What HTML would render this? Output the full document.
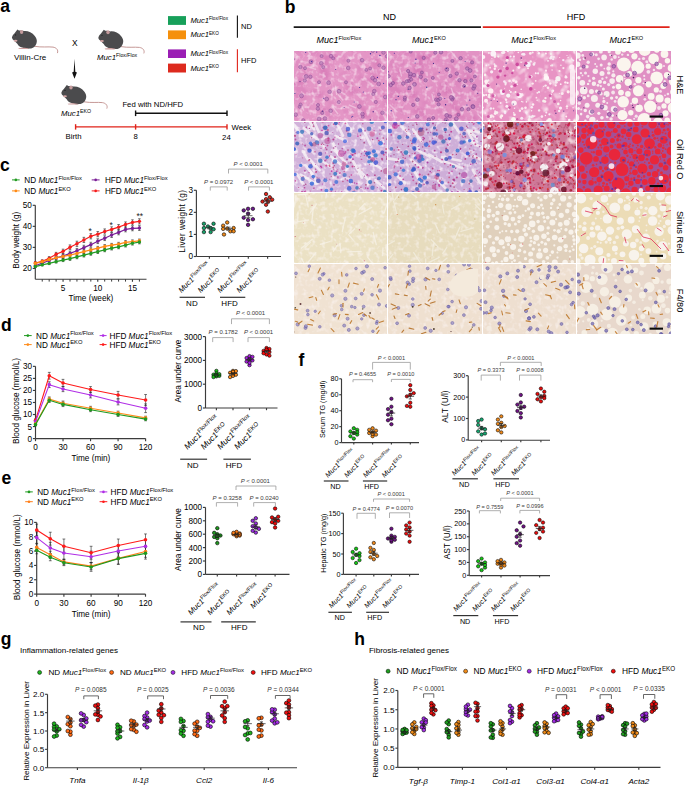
<!DOCTYPE html>
<html><head><meta charset="utf-8"><title>Figure</title><style>
html,body{margin:0;padding:0;background:#fff;}
body{width:685px;height:786px;overflow:hidden;}
svg{display:block;}
text{font-family:"Liberation Sans", sans-serif;}
</style></head><body>
<svg width="685" height="786" viewBox="0 0 685 786" font-family='"Liberation Sans", sans-serif'>
<rect width="685" height="786" fill="#fff"/>
<text x="0.2" y="12.2" font-size="17.5" font-weight="bold" fill="#000">a</text>
<g transform="translate(12 29)">
<path d="M22.5,17.3 C30,18.6 36,17.5 41,18.1 C44.5,18.7 46.6,21 45.4,24.1" fill="none" stroke="#c29290" stroke-width="0.95"/>
<path d="M-0.1,8.6 C0.4,6.6 1.4,5.2 2.4,4.5 L5.4,0.4 L6.9,1.4 C8.5,1.6 10.3,1.5 12.2,2.1 C15.5,1.7 20.2,3.5 22.8,7 C24.4,9 25.1,11 24.8,12.8 C24.5,15.2 23.4,17.2 21.4,18.6 C19.4,19.9 16,20 13,19.5 L10.2,18.6 C8,17.8 6.2,16.5 5.5,14.9 C4,13.2 2,11.6 0.6,10.2 Z" fill="#4b4b4d"/>
<ellipse cx="9.6" cy="3.0" rx="1.7" ry="2.0" fill="#c39a9c"/>
<circle cx="3.6" cy="5.9" r="0.55" fill="#1a1a1a"/>
<ellipse cx="3.6" cy="11.8" rx="1.9" ry="1.0" fill="#d6a6a6"/>
<path d="M6.2,19.2 C9,18.4 14,18.5 17,19.4 L16,20.1 L7,20.1 Z" fill="#cfa0a0"/>
</g>
<g transform="translate(98.4 29.3)">
<path d="M22.5,17.3 C30,18.6 36,17.5 41,18.1 C44.5,18.7 46.6,21 45.4,24.1" fill="none" stroke="#c29290" stroke-width="0.95"/>
<path d="M-0.1,8.6 C0.4,6.6 1.4,5.2 2.4,4.5 L5.4,0.4 L6.9,1.4 C8.5,1.6 10.3,1.5 12.2,2.1 C15.5,1.7 20.2,3.5 22.8,7 C24.4,9 25.1,11 24.8,12.8 C24.5,15.2 23.4,17.2 21.4,18.6 C19.4,19.9 16,20 13,19.5 L10.2,18.6 C8,17.8 6.2,16.5 5.5,14.9 C4,13.2 2,11.6 0.6,10.2 Z" fill="#4b4b4d"/>
<ellipse cx="9.6" cy="3.0" rx="1.7" ry="2.0" fill="#c39a9c"/>
<circle cx="3.6" cy="5.9" r="0.55" fill="#1a1a1a"/>
<ellipse cx="3.6" cy="11.8" rx="1.9" ry="1.0" fill="#d6a6a6"/>
<path d="M6.2,19.2 C9,18.4 14,18.5 17,19.4 L16,20.1 L7,20.1 Z" fill="#cfa0a0"/>
</g>
<g transform="translate(61.4 84.5)">
<path d="M22.5,17.3 C30,18.6 36,17.5 41,18.1 C44.5,18.7 46.6,21 45.4,24.1" fill="none" stroke="#c29290" stroke-width="0.95"/>
<path d="M-0.1,8.6 C0.4,6.6 1.4,5.2 2.4,4.5 L5.4,0.4 L6.9,1.4 C8.5,1.6 10.3,1.5 12.2,2.1 C15.5,1.7 20.2,3.5 22.8,7 C24.4,9 25.1,11 24.8,12.8 C24.5,15.2 23.4,17.2 21.4,18.6 C19.4,19.9 16,20 13,19.5 L10.2,18.6 C8,17.8 6.2,16.5 5.5,14.9 C4,13.2 2,11.6 0.6,10.2 Z" fill="#4b4b4d"/>
<ellipse cx="9.6" cy="3.0" rx="1.7" ry="2.0" fill="#c39a9c"/>
<circle cx="3.6" cy="5.9" r="0.55" fill="#1a1a1a"/>
<ellipse cx="3.6" cy="11.8" rx="1.9" ry="1.0" fill="#d6a6a6"/>
<path d="M6.2,19.2 C9,18.4 14,18.5 17,19.4 L16,20.1 L7,20.1 Z" fill="#cfa0a0"/>
</g>
<text x="14" y="60.3" font-size="8.0">Villin-Cre</text>
<text x="71.9" y="46.1" font-size="8.4">X</text>
<text x="97" y="60.2" font-size="7.8"><tspan font-style="italic" font-size="7.8">Muc1</tspan><tspan font-size="5.2" dy="-3.2">Flox/Flox</tspan></text>
<path d="M74.5,58.8 L75.3,71.8 L76.9,72.4 L74.5,78.8 L72.1,72.4 L73.7,71.8 Z" fill="#111"/>
<text x="61" y="116.2" font-size="7.8"><tspan font-style="italic" font-size="7.8">Muc1</tspan><tspan font-size="5.2" dy="-3.2">EKO</tspan></text>
<rect x="168" y="16.1" width="18" height="8.8" fill="#17a05a"/>
<rect x="168" y="30.4" width="18" height="8.8" fill="#f5900c"/>
<rect x="168" y="49.4" width="18" height="8.6" fill="#9a1eb4"/>
<rect x="168" y="63.6" width="18" height="8.9" fill="#dd2a1e"/>
<text x="190.4" y="22.9" font-size="7.6"><tspan font-style="italic" font-size="7.6">Muc1</tspan><tspan font-size="4.7" dy="-2.6">Flox/Flox</tspan></text>
<text x="190.4" y="37.3" font-size="7.6"><tspan font-style="italic" font-size="7.6">Muc1</tspan><tspan font-size="4.7" dy="-2.6">EKO</tspan></text>
<text x="190.4" y="56.3" font-size="7.6"><tspan font-style="italic" font-size="7.6">Muc1</tspan><tspan font-size="4.7" dy="-2.6">Flox/Flox</tspan></text>
<text x="190.4" y="70.6" font-size="7.6"><tspan font-style="italic" font-size="7.6">Muc1</tspan><tspan font-size="4.7" dy="-2.6">EKO</tspan></text>
<line x1="237.4" y1="15.5" x2="237.4" y2="37.7" stroke="#111" stroke-width="1.1"/>
<text x="241" y="28.8" font-size="7.5">ND</text>
<line x1="237.4" y1="49.2" x2="237.4" y2="72.2" stroke="#e0231a" stroke-width="1.1"/>
<text x="241" y="63.2" font-size="7.5">HFD</text>
<text x="122.4" y="107" font-size="7.75">Fed with ND/HFD</text>
<line x1="135.6" y1="113.3" x2="227" y2="113.3" stroke="#111" stroke-width="1.5"/>
<line x1="135.6" y1="110.5" x2="135.6" y2="116.1" stroke="#111" stroke-width="1.4"/>
<line x1="227" y1="110.5" x2="227" y2="116.1" stroke="#111" stroke-width="1.4"/>
<line x1="75.6" y1="126.9" x2="227" y2="126.9" stroke="#e0231a" stroke-width="1.4"/>
<line x1="75.6" y1="124.2" x2="75.6" y2="129.6" stroke="#e0231a" stroke-width="1.4"/>
<line x1="135.6" y1="124.2" x2="135.6" y2="129.6" stroke="#e0231a" stroke-width="1.4"/>
<line x1="227" y1="124.2" x2="227" y2="129.6" stroke="#e0231a" stroke-width="1.4"/>
<text x="73.5" y="139.4" font-size="7.75" text-anchor="middle">Birth</text>
<text x="135.6" y="139.2" font-size="7.75" text-anchor="middle">8</text>
<text x="226.4" y="139.8" font-size="7.75" text-anchor="middle">24</text>
<text x="231.5" y="130" font-size="7.75">Week</text>
<text x="284.8" y="13.2" font-size="17.5" font-weight="bold" fill="#000">b</text>
<text x="389.5" y="20.3" font-size="9" text-anchor="middle">ND</text>
<text x="576" y="20.3" font-size="9" text-anchor="middle">HFD</text>
<line x1="293.7" y1="27.2" x2="481" y2="27.2" stroke="#1a1a1a" stroke-width="1.7"/>
<line x1="482.8" y1="27.2" x2="669.6" y2="27.2" stroke="#e0231a" stroke-width="1.7"/>
<text x="316.5" y="43.2" font-size="9"><tspan font-style="italic" font-size="9">Muc1</tspan><tspan font-size="5.6" dy="-3.4">Flox/Flox</tspan></text>
<text x="412" y="43.2" font-size="9"><tspan font-style="italic" font-size="9">Muc1</tspan><tspan font-size="5.6" dy="-3.4">EKO</tspan></text>
<text x="511.3" y="43.2" font-size="9"><tspan font-style="italic" font-size="9">Muc1</tspan><tspan font-size="5.6" dy="-3.4">Flox/Flox</tspan></text>
<text x="609.4" y="43.2" font-size="9"><tspan font-style="italic" font-size="9">Muc1</tspan><tspan font-size="5.6" dy="-3.4">EKO</tspan></text>
<text x="676.6" y="85" font-size="9.2" text-anchor="middle" transform="rotate(90 676.6 85)">H&amp;E</text>
<text x="676.6" y="159.3" font-size="9.2" text-anchor="middle" transform="rotate(90 676.6 159.3)">Oil Red O</text>
<text x="676.6" y="232.2" font-size="9.2" text-anchor="middle" transform="rotate(90 676.6 232.2)">Sirius Red</text>
<text x="676.6" y="300.6" font-size="9.2" text-anchor="middle" transform="rotate(90 676.6 300.6)">F4/80</text>
<defs>
<filter id="wA" x="0" y="0" width="1" height="1" color-interpolation-filters="sRGB"><feTurbulence type="fractalNoise" baseFrequency="0.22" numOctaves="2" seed="3"/><feColorMatrix values="0 0 0 0 1.000 0 0 0 0 0.980 0 0 0 0 0.988 3.2 0 0 0 -1.55"/></filter>
<filter id="wB" x="0" y="0" width="1" height="1" color-interpolation-filters="sRGB"><feTurbulence type="fractalNoise" baseFrequency="0.12" numOctaves="2" seed="7"/><feColorMatrix values="0 0 0 0 1.000 0 0 0 0 0.988 0 0 0 0 0.980 3.0 0 0 0 -1.5"/></filter>
<filter id="dA" x="0" y="0" width="1" height="1" color-interpolation-filters="sRGB"><feTurbulence type="fractalNoise" baseFrequency="0.3" numOctaves="2" seed="5"/><feColorMatrix values="0 0 0 0 0.588 0 0 0 0 0.275 0 0 0 0 0.627 3.0 0 0 0 -1.6"/></filter>
<filter id="dB" x="0" y="0" width="1" height="1" color-interpolation-filters="sRGB"><feTurbulence type="fractalNoise" baseFrequency="0.25" numOctaves="2" seed="9"/><feColorMatrix values="0 0 0 0 0.510 0 0 0 0 0.078 0 0 0 0 0.196 3.4 0 0 0 -1.9"/></filter>
<filter id="yA" x="0" y="0" width="1" height="1" color-interpolation-filters="sRGB"><feTurbulence type="fractalNoise" baseFrequency="0.18" numOctaves="2" seed="11"/><feColorMatrix values="0 0 0 0 0.804 0 0 0 0 0.686 0 0 0 0 0.471 2.6 0 0 0 -1.2"/></filter>
<filter id="mA" x="0" y="0" width="1" height="1" color-interpolation-filters="sRGB"><feTurbulence type="fractalNoise" baseFrequency="0.08" numOctaves="2" seed="13"/><feColorMatrix values="0 0 0 0 0.784 0 0 0 0 0.353 0 0 0 0 0.647 2.6 0 0 0 -1.25"/></filter>
<filter id="soft" x="-5%" y="-5%" width="110%" height="110%"><feGaussianBlur stdDeviation="0.4"/></filter>
</defs>
<svg x="294" y="51" width="93" height="70" overflow="hidden"><g filter="url(#soft)"><rect x="-3" y="-3" width="99" height="76" fill="#e496c6"/><rect width="93" height="70" filter="url(#mA)" opacity="0.5"/><rect width="93" height="70" filter="url(#wA)" opacity="0.55"/><line x1="41.4" y1="35.1" x2="42.7" y2="43.3" stroke="#f4d8ea" stroke-width="1.4" stroke-opacity="0.6" stroke-linecap="round"/><line x1="43.5" y1="39.0" x2="51.0" y2="43.3" stroke="#f4d8ea" stroke-width="1.4" stroke-opacity="0.6" stroke-linecap="round"/><line x1="55.3" y1="54.1" x2="61.8" y2="56.9" stroke="#f4d8ea" stroke-width="1.4" stroke-opacity="0.6" stroke-linecap="round"/><line x1="7.3" y1="54.3" x2="9.6" y2="59.1" stroke="#f4d8ea" stroke-width="1.4" stroke-opacity="0.6" stroke-linecap="round"/><line x1="89.2" y1="63.4" x2="93.5" y2="71.6" stroke="#f4d8ea" stroke-width="1.4" stroke-opacity="0.6" stroke-linecap="round"/><line x1="13.0" y1="-1.1" x2="16.3" y2="3.2" stroke="#f4d8ea" stroke-width="1.4" stroke-opacity="0.6" stroke-linecap="round"/><line x1="13.8" y1="15.6" x2="21.6" y2="18.3" stroke="#f4d8ea" stroke-width="1.4" stroke-opacity="0.6" stroke-linecap="round"/><line x1="38.1" y1="55.2" x2="43.8" y2="62.8" stroke="#f4d8ea" stroke-width="1.4" stroke-opacity="0.6" stroke-linecap="round"/><line x1="44.2" y1="43.8" x2="48.8" y2="49.0" stroke="#f4d8ea" stroke-width="1.4" stroke-opacity="0.6" stroke-linecap="round"/><line x1="91.5" y1="64.9" x2="94.1" y2="74.5" stroke="#f4d8ea" stroke-width="1.4" stroke-opacity="0.6" stroke-linecap="round"/><circle cx="29.3" cy="16.1" r="1.6" fill="#b77cb8" stroke="#8a4a96" stroke-width="0.8" opacity="0.7"/><circle cx="6.5" cy="53.6" r="1.6" fill="#b77cb8" stroke="#8a4a96" stroke-width="0.8" opacity="0.7"/><circle cx="78.7" cy="27.1" r="1.9" fill="#b77cb8" stroke="#8a4a96" stroke-width="0.8" opacity="0.7"/><circle cx="78.8" cy="0.0" r="1.6" fill="#b77cb8" stroke="#8a4a96" stroke-width="0.8" opacity="0.7"/><circle cx="84.7" cy="32.9" r="1.9" fill="#b77cb8" stroke="#8a4a96" stroke-width="0.8" opacity="0.7"/><circle cx="37.0" cy="5.1" r="1.8" fill="#b77cb8" stroke="#8a4a96" stroke-width="0.8" opacity="0.7"/><circle cx="72.4" cy="18.9" r="1.5" fill="#b77cb8" stroke="#8a4a96" stroke-width="0.8" opacity="0.7"/><circle cx="30.9" cy="67.5" r="1.8" fill="#b77cb8" stroke="#8a4a96" stroke-width="0.8" opacity="0.7"/><circle cx="11.0" cy="17.2" r="1.5" fill="#b77cb8" stroke="#8a4a96" stroke-width="0.8" opacity="0.7"/><circle cx="5.6" cy="55.8" r="1.5" fill="#b77cb8" stroke="#8a4a96" stroke-width="0.8" opacity="0.7"/><circle cx="52.0" cy="31.3" r="1.5" fill="#b77cb8" stroke="#8a4a96" stroke-width="0.8" opacity="0.7"/><circle cx="68.1" cy="9.2" r="1.8" fill="#b77cb8" stroke="#8a4a96" stroke-width="0.8" opacity="0.7"/><circle cx="10.8" cy="29.5" r="1.6" fill="#b77cb8" stroke="#8a4a96" stroke-width="0.8" opacity="0.7"/><circle cx="25.1" cy="68.0" r="1.9" fill="#b77cb8" stroke="#8a4a96" stroke-width="0.8" opacity="0.7"/><circle cx="28.3" cy="61.9" r="1.6" fill="#b77cb8" stroke="#8a4a96" stroke-width="0.8" opacity="0.7"/><circle cx="36.7" cy="59.8" r="1.8" fill="#b77cb8" stroke="#8a4a96" stroke-width="0.8" opacity="0.7"/><circle cx="9.3" cy="69.3" r="1.6" fill="#b77cb8" stroke="#8a4a96" stroke-width="0.8" opacity="0.7"/><circle cx="24.0" cy="54.1" r="1.6" fill="#b77cb8" stroke="#8a4a96" stroke-width="0.8" opacity="0.7"/><circle cx="27.6" cy="5.1" r="1.5" fill="#b77cb8" stroke="#8a4a96" stroke-width="0.8" opacity="0.7"/><circle cx="54.2" cy="17.0" r="1.8" fill="#b77cb8" stroke="#8a4a96" stroke-width="0.8" opacity="0.7"/><circle cx="34.6" cy="31.7" r="1.9" fill="#b77cb8" stroke="#8a4a96" stroke-width="0.8" opacity="0.7"/><circle cx="45.0" cy="40.2" r="1.9" fill="#b77cb8" stroke="#8a4a96" stroke-width="0.8" opacity="0.7"/><circle cx="17.0" cy="10.8" r="1.9" fill="#b77cb8" stroke="#8a4a96" stroke-width="0.8" opacity="0.7"/><circle cx="76.1" cy="17.5" r="1.5" fill="#b77cb8" stroke="#8a4a96" stroke-width="0.8" opacity="0.7"/><circle cx="68.8" cy="65.8" r="1.5" fill="#b77cb8" stroke="#8a4a96" stroke-width="0.8" opacity="0.7"/><circle cx="88.4" cy="61.8" r="1.8" fill="#b77cb8" stroke="#8a4a96" stroke-width="0.8" opacity="0.7"/><circle cx="39.2" cy="7.3" r="1.5" fill="#b77cb8" stroke="#8a4a96" stroke-width="0.8" opacity="0.7"/><circle cx="89.5" cy="16.7" r="1.8" fill="#b77cb8" stroke="#8a4a96" stroke-width="0.8" opacity="0.7"/><circle cx="23.9" cy="57.7" r="1.7" fill="#b77cb8" stroke="#8a4a96" stroke-width="0.8" opacity="0.7"/><circle cx="27.3" cy="12.3" r="1.8" fill="#b77cb8" stroke="#8a4a96" stroke-width="0.8" opacity="0.7"/><circle cx="6.4" cy="16.0" r="1.7" fill="#b77cb8" stroke="#8a4a96" stroke-width="0.8" opacity="0.7"/><circle cx="79.3" cy="43.0" r="1.6" fill="#b77cb8" stroke="#8a4a96" stroke-width="0.8" opacity="0.7"/><circle cx="85.3" cy="14.3" r="1.5" fill="#b77cb8" stroke="#8a4a96" stroke-width="0.8" opacity="0.7"/><circle cx="25.0" cy="31.2" r="1.5" fill="#b77cb8" stroke="#8a4a96" stroke-width="0.8" opacity="0.7"/><circle cx="16.4" cy="25.8" r="1.7" fill="#b77cb8" stroke="#8a4a96" stroke-width="0.8" opacity="0.7"/><circle cx="12.2" cy="25.4" r="1.9" fill="#b77cb8" stroke="#8a4a96" stroke-width="0.8" opacity="0.7"/><circle cx="91.2" cy="46.0" r="1.8" fill="#b77cb8" stroke="#8a4a96" stroke-width="0.8" opacity="0.7"/><circle cx="54.4" cy="9.8" r="1.5" fill="#b77cb8" stroke="#8a4a96" stroke-width="0.8" opacity="0.7"/><circle cx="1.7" cy="63.7" r="1.8" fill="#b77cb8" stroke="#8a4a96" stroke-width="0.8" opacity="0.7"/><circle cx="89.5" cy="1.5" r="1.8" fill="#b77cb8" stroke="#8a4a96" stroke-width="0.8" opacity="0.7"/><circle cx="44.8" cy="51.1" r="1.6" fill="#b77cb8" stroke="#8a4a96" stroke-width="0.8" opacity="0.7"/><circle cx="92.9" cy="5.3" r="1.7" fill="#b77cb8" stroke="#8a4a96" stroke-width="0.8" opacity="0.7"/><circle cx="68.5" cy="63.0" r="1.8" fill="#b77cb8" stroke="#8a4a96" stroke-width="0.8" opacity="0.7"/><circle cx="65.4" cy="55.5" r="1.9" fill="#b77cb8" stroke="#8a4a96" stroke-width="0.8" opacity="0.7"/><circle cx="32.7" cy="48.0" r="1.9" fill="#b77cb8" stroke="#8a4a96" stroke-width="0.8" opacity="0.7"/><circle cx="81.0" cy="29.2" r="1.8" fill="#b77cb8" stroke="#8a4a96" stroke-width="0.8" opacity="0.7"/><circle cx="80.3" cy="40.1" r="1.8" fill="#b77cb8" stroke="#8a4a96" stroke-width="0.8" opacity="0.7"/><circle cx="35.6" cy="40.8" r="1.8" fill="#b77cb8" stroke="#8a4a96" stroke-width="0.8" opacity="0.7"/><circle cx="7.5" cy="44.8" r="2.0" fill="#b77cb8" stroke="#8a4a96" stroke-width="0.8" opacity="0.7"/><circle cx="81.8" cy="51.0" r="1.6" fill="#b77cb8" stroke="#8a4a96" stroke-width="0.8" opacity="0.7"/><circle cx="69.3" cy="41.0" r="0.6" fill="#50259d"/><circle cx="0.9" cy="42.5" r="0.6" fill="#3d3795"/><circle cx="57.6" cy="66.1" r="0.5" fill="#372c9b"/><circle cx="17.6" cy="10.6" r="0.7" fill="#4a30a1"/><circle cx="29.7" cy="47.3" r="0.5" fill="#433ba2"/><circle cx="83.4" cy="26.4" r="0.6" fill="#402795"/><circle cx="79.2" cy="60.8" r="0.7" fill="#532b8c"/><circle cx="41.7" cy="18.4" r="0.5" fill="#433595"/><circle cx="28.6" cy="60.1" r="0.7" fill="#442587"/><circle cx="82.7" cy="1.1" r="0.7" fill="#482c9e"/><circle cx="-0.1" cy="8.1" r="0.6" fill="#373b8e"/><circle cx="11.7" cy="1.5" r="0.6" fill="#44359a"/><circle cx="76.3" cy="68.9" r="0.7" fill="#3c318c"/><circle cx="-1.0" cy="32.9" r="0.7" fill="#3c2b91"/><circle cx="65.6" cy="36.5" r="0.6" fill="#4d2e9e"/><circle cx="85.9" cy="4.5" r="0.7" fill="#4c2694"/><circle cx="58.7" cy="65.3" r="0.6" fill="#483d9e"/><circle cx="89.6" cy="32.3" r="0.6" fill="#3d389f"/><circle cx="60.2" cy="51.1" r="0.5" fill="#5140a4"/><circle cx="50.1" cy="56.5" r="0.5" fill="#523c91"/><circle cx="6.0" cy="30.6" r="0.6" fill="#4e3187"/><circle cx="76.5" cy="2.7" r="0.7" fill="#3c2d9e"/></g></svg>
<svg x="388" y="51" width="94" height="70" overflow="hidden"><g filter="url(#soft)"><rect x="-3" y="-3" width="100" height="76" fill="#e292c4"/><rect width="94" height="70" filter="url(#mA)" opacity="0.55"/><rect width="94" height="70" filter="url(#wA)" opacity="0.5"/><line x1="44.0" y1="43.1" x2="45.2" y2="49.0" stroke="#f2d4e8" stroke-width="1.4" stroke-opacity="0.6" stroke-linecap="round"/><line x1="-2.0" y1="21.8" x2="4.0" y2="30.6" stroke="#f2d4e8" stroke-width="1.4" stroke-opacity="0.6" stroke-linecap="round"/><line x1="63.4" y1="37.5" x2="66.4" y2="46.7" stroke="#f2d4e8" stroke-width="1.4" stroke-opacity="0.6" stroke-linecap="round"/><line x1="10.0" y1="26.5" x2="17.3" y2="35.1" stroke="#f2d4e8" stroke-width="1.4" stroke-opacity="0.6" stroke-linecap="round"/><line x1="2.0" y1="53.9" x2="9.0" y2="60.7" stroke="#f2d4e8" stroke-width="1.4" stroke-opacity="0.6" stroke-linecap="round"/><line x1="31.6" y1="25.8" x2="31.8" y2="30.9" stroke="#f2d4e8" stroke-width="1.4" stroke-opacity="0.6" stroke-linecap="round"/><line x1="4.7" y1="61.4" x2="6.7" y2="66.7" stroke="#f2d4e8" stroke-width="1.4" stroke-opacity="0.6" stroke-linecap="round"/><line x1="90.1" y1="63.4" x2="95.5" y2="69.2" stroke="#f2d4e8" stroke-width="1.4" stroke-opacity="0.6" stroke-linecap="round"/><line x1="11.9" y1="18.9" x2="13.5" y2="24.9" stroke="#f2d4e8" stroke-width="1.4" stroke-opacity="0.6" stroke-linecap="round"/><line x1="62.1" y1="-0.5" x2="69.0" y2="7.7" stroke="#f2d4e8" stroke-width="1.4" stroke-opacity="0.6" stroke-linecap="round"/><circle cx="37.6" cy="29.3" r="1.7" fill="#b074b4" stroke="#804490" stroke-width="0.8" opacity="0.75"/><circle cx="44.8" cy="26.9" r="1.5" fill="#b074b4" stroke="#804490" stroke-width="0.8" opacity="0.75"/><circle cx="68.3" cy="67.7" r="1.9" fill="#b074b4" stroke="#804490" stroke-width="0.8" opacity="0.75"/><circle cx="62.4" cy="24.9" r="1.6" fill="#b074b4" stroke="#804490" stroke-width="0.8" opacity="0.75"/><circle cx="64.9" cy="47.2" r="1.5" fill="#b074b4" stroke="#804490" stroke-width="0.8" opacity="0.75"/><circle cx="22.1" cy="25.4" r="1.7" fill="#b074b4" stroke="#804490" stroke-width="0.8" opacity="0.75"/><circle cx="76.2" cy="35.0" r="1.5" fill="#b074b4" stroke="#804490" stroke-width="0.8" opacity="0.75"/><circle cx="77.3" cy="30.1" r="1.7" fill="#b074b4" stroke="#804490" stroke-width="0.8" opacity="0.75"/><circle cx="20.9" cy="29.9" r="1.6" fill="#b074b4" stroke="#804490" stroke-width="0.8" opacity="0.75"/><circle cx="72.6" cy="7.2" r="1.7" fill="#b074b4" stroke="#804490" stroke-width="0.8" opacity="0.75"/><circle cx="16.7" cy="48.7" r="1.5" fill="#b074b4" stroke="#804490" stroke-width="0.8" opacity="0.75"/><circle cx="26.0" cy="24.1" r="1.8" fill="#b074b4" stroke="#804490" stroke-width="0.8" opacity="0.75"/><circle cx="4.9" cy="32.1" r="1.6" fill="#b074b4" stroke="#804490" stroke-width="0.8" opacity="0.75"/><circle cx="26.5" cy="33.3" r="1.9" fill="#b074b4" stroke="#804490" stroke-width="0.8" opacity="0.75"/><circle cx="45.2" cy="66.9" r="1.5" fill="#b074b4" stroke="#804490" stroke-width="0.8" opacity="0.75"/><circle cx="86.9" cy="25.5" r="1.5" fill="#b074b4" stroke="#804490" stroke-width="0.8" opacity="0.75"/><circle cx="70.4" cy="63.8" r="1.4" fill="#b074b4" stroke="#804490" stroke-width="0.8" opacity="0.75"/><circle cx="25.2" cy="53.9" r="1.6" fill="#b074b4" stroke="#804490" stroke-width="0.8" opacity="0.75"/><circle cx="22.7" cy="0.6" r="1.5" fill="#b074b4" stroke="#804490" stroke-width="0.8" opacity="0.75"/><circle cx="58.2" cy="68.9" r="2.0" fill="#b074b4" stroke="#804490" stroke-width="0.8" opacity="0.75"/><circle cx="47.3" cy="1.7" r="1.6" fill="#b074b4" stroke="#804490" stroke-width="0.8" opacity="0.75"/><circle cx="74.0" cy="58.2" r="1.8" fill="#b074b4" stroke="#804490" stroke-width="0.8" opacity="0.75"/><circle cx="21.6" cy="36.9" r="1.7" fill="#b074b4" stroke="#804490" stroke-width="0.8" opacity="0.75"/><circle cx="58.9" cy="18.4" r="1.9" fill="#b074b4" stroke="#804490" stroke-width="0.8" opacity="0.75"/><circle cx="84.1" cy="11.4" r="1.6" fill="#b074b4" stroke="#804490" stroke-width="0.8" opacity="0.75"/><circle cx="82.1" cy="19.5" r="1.9" fill="#b074b4" stroke="#804490" stroke-width="0.8" opacity="0.75"/><circle cx="48.4" cy="48.7" r="1.8" fill="#b074b4" stroke="#804490" stroke-width="0.8" opacity="0.75"/><circle cx="20.1" cy="20.0" r="1.6" fill="#b074b4" stroke="#804490" stroke-width="0.8" opacity="0.75"/><circle cx="64.2" cy="48.6" r="1.5" fill="#b074b4" stroke="#804490" stroke-width="0.8" opacity="0.75"/><circle cx="83.3" cy="29.4" r="1.6" fill="#b074b4" stroke="#804490" stroke-width="0.8" opacity="0.75"/><circle cx="40.9" cy="68.6" r="1.7" fill="#b074b4" stroke="#804490" stroke-width="0.8" opacity="0.75"/><circle cx="58.7" cy="64.4" r="1.9" fill="#b074b4" stroke="#804490" stroke-width="0.8" opacity="0.75"/><circle cx="71.5" cy="29.2" r="1.7" fill="#b074b4" stroke="#804490" stroke-width="0.8" opacity="0.75"/><circle cx="84.7" cy="55.2" r="1.7" fill="#b074b4" stroke="#804490" stroke-width="0.8" opacity="0.75"/><circle cx="32.7" cy="25.8" r="1.8" fill="#b074b4" stroke="#804490" stroke-width="0.8" opacity="0.75"/><circle cx="53.0" cy="1.2" r="1.8" fill="#b074b4" stroke="#804490" stroke-width="0.8" opacity="0.75"/><circle cx="85.0" cy="55.8" r="1.9" fill="#b074b4" stroke="#804490" stroke-width="0.8" opacity="0.75"/><circle cx="85.6" cy="37.4" r="1.8" fill="#b074b4" stroke="#804490" stroke-width="0.8" opacity="0.75"/><circle cx="35.7" cy="6.9" r="1.6" fill="#b074b4" stroke="#804490" stroke-width="0.8" opacity="0.75"/><circle cx="29.3" cy="65.4" r="1.8" fill="#b074b4" stroke="#804490" stroke-width="0.8" opacity="0.75"/><circle cx="50.9" cy="43.5" r="1.5" fill="#b074b4" stroke="#804490" stroke-width="0.8" opacity="0.75"/><circle cx="50.2" cy="49.0" r="1.6" fill="#b074b4" stroke="#804490" stroke-width="0.8" opacity="0.75"/><circle cx="23.1" cy="28.5" r="1.6" fill="#b074b4" stroke="#804490" stroke-width="0.8" opacity="0.75"/><circle cx="64.4" cy="9.9" r="1.5" fill="#b074b4" stroke="#804490" stroke-width="0.8" opacity="0.75"/><circle cx="29.4" cy="48.7" r="1.8" fill="#b074b4" stroke="#804490" stroke-width="0.8" opacity="0.75"/><circle cx="62.0" cy="65.4" r="1.6" fill="#b074b4" stroke="#804490" stroke-width="0.8" opacity="0.75"/><circle cx="2.8" cy="34.1" r="1.7" fill="#b074b4" stroke="#804490" stroke-width="0.8" opacity="0.75"/><circle cx="16.9" cy="46.7" r="1.6" fill="#b074b4" stroke="#804490" stroke-width="0.8" opacity="0.75"/><circle cx="22.4" cy="22.9" r="1.9" fill="#b074b4" stroke="#804490" stroke-width="0.8" opacity="0.75"/><circle cx="0.7" cy="25.2" r="1.6" fill="#b074b4" stroke="#804490" stroke-width="0.8" opacity="0.75"/><circle cx="18.9" cy="30.3" r="1.6" fill="#b074b4" stroke="#804490" stroke-width="0.8" opacity="0.75"/><circle cx="86.4" cy="35.1" r="1.8" fill="#b074b4" stroke="#804490" stroke-width="0.8" opacity="0.75"/><circle cx="15.3" cy="32.5" r="1.8" fill="#b074b4" stroke="#804490" stroke-width="0.8" opacity="0.75"/><circle cx="79.2" cy="17.5" r="1.7" fill="#b074b4" stroke="#804490" stroke-width="0.8" opacity="0.75"/><circle cx="80.4" cy="58.2" r="1.6" fill="#b074b4" stroke="#804490" stroke-width="0.8" opacity="0.75"/><circle cx="50.6" cy="53.3" r="1.6" fill="#b074b4" stroke="#804490" stroke-width="0.8" opacity="0.75"/><circle cx="63.3" cy="46.4" r="1.9" fill="#b074b4" stroke="#804490" stroke-width="0.8" opacity="0.75"/><circle cx="52.1" cy="47.7" r="1.6" fill="#b074b4" stroke="#804490" stroke-width="0.8" opacity="0.75"/><circle cx="68.8" cy="22.6" r="1.7" fill="#b074b4" stroke="#804490" stroke-width="0.8" opacity="0.75"/><circle cx="33.9" cy="21.5" r="1.5" fill="#b074b4" stroke="#804490" stroke-width="0.8" opacity="0.75"/><circle cx="20.1" cy="38.3" r="0.5" fill="#383b8f"/><circle cx="89.7" cy="42.3" r="0.6" fill="#513d90"/><circle cx="10.3" cy="45.4" r="0.7" fill="#493a93"/><circle cx="58.5" cy="17.5" r="0.6" fill="#422e92"/><circle cx="77.1" cy="10.6" r="0.5" fill="#3e4096"/><circle cx="3.2" cy="59.8" r="0.7" fill="#4f2d9d"/><circle cx="27.9" cy="8.2" r="0.7" fill="#4f29a1"/><circle cx="0.4" cy="20.8" r="0.5" fill="#3c279c"/><circle cx="27.1" cy="12.1" r="0.5" fill="#403c99"/><circle cx="8.0" cy="48.7" r="0.6" fill="#44329a"/><circle cx="76.5" cy="35.4" r="0.6" fill="#453692"/><circle cx="38.7" cy="36.2" r="0.7" fill="#3f3e95"/><circle cx="81.8" cy="49.1" r="0.7" fill="#4b2f93"/><circle cx="57.6" cy="53.8" r="0.7" fill="#3a248a"/><circle cx="6.3" cy="2.2" r="0.5" fill="#3e269b"/><circle cx="58.3" cy="69.5" r="0.7" fill="#4d3f87"/><circle cx="20.3" cy="66.5" r="0.6" fill="#3d3993"/><circle cx="51.2" cy="21.4" r="0.5" fill="#3935a3"/><circle cx="94.7" cy="54.6" r="0.7" fill="#412ba2"/><circle cx="56.8" cy="47.5" r="0.5" fill="#3d319c"/><circle cx="78.9" cy="54.0" r="0.6" fill="#423ca4"/><circle cx="45.5" cy="12.4" r="0.6" fill="#472d8d"/></g></svg>
<svg x="483" y="51" width="93" height="70" overflow="hidden"><g filter="url(#soft)"><rect x="-3" y="-3" width="99" height="76" fill="#e894c4"/><rect width="93" height="70" filter="url(#wB)" opacity="0.75"/><circle cx="23.1" cy="48.7" r="1.3" fill="#fde8ef"/><circle cx="12.3" cy="14.7" r="1.3" fill="#f6ecef"/><circle cx="26.6" cy="29.9" r="1.4" fill="#fbe7ef"/><circle cx="12.2" cy="62.5" r="1.4" fill="#fdeff4"/><circle cx="90.1" cy="56.7" r="0.8" fill="#fdebf4"/><circle cx="52.7" cy="29.8" r="0.9" fill="#f9eaee"/><circle cx="77.5" cy="57.1" r="1.6" fill="#fbecf4"/><circle cx="11.1" cy="48.1" r="1.0" fill="#f6e9f2"/><circle cx="22.6" cy="32.0" r="1.2" fill="#f8e8f1"/><circle cx="20.8" cy="15.4" r="0.7" fill="#f8e7f3"/><circle cx="90.5" cy="26.8" r="1.3" fill="#fee7ee"/><circle cx="76.2" cy="60.0" r="1.2" fill="#f6ebf5"/><circle cx="84.0" cy="57.4" r="0.7" fill="#fdeaf4"/><circle cx="11.3" cy="69.9" r="1.2" fill="#fce9f3"/><circle cx="54.3" cy="41.8" r="0.9" fill="#fceaef"/><circle cx="14.0" cy="48.6" r="0.6" fill="#f7e7f3"/><circle cx="51.9" cy="38.2" r="0.5" fill="#f9eaed"/><circle cx="-1.7" cy="71.8" r="0.6" fill="#f8e9f2"/><circle cx="5.5" cy="32.8" r="0.9" fill="#fde7f0"/><circle cx="46.2" cy="69.8" r="1.1" fill="#f9edef"/><circle cx="1.1" cy="35.1" r="1.5" fill="#fce9f3"/><circle cx="80.4" cy="17.1" r="1.1" fill="#f8e9ef"/><circle cx="17.8" cy="24.0" r="0.5" fill="#f8e7f4"/><circle cx="56.2" cy="-1.7" r="1.4" fill="#f6ebf2"/><circle cx="30.3" cy="19.4" r="1.0" fill="#f6efee"/><circle cx="77.9" cy="14.2" r="0.8" fill="#f8e7ee"/><circle cx="33.0" cy="30.7" r="1.5" fill="#fee7f2"/><circle cx="10.5" cy="57.5" r="0.9" fill="#fdecee"/><circle cx="-1.5" cy="16.4" r="1.5" fill="#f6ebf0"/><circle cx="31.5" cy="57.3" r="0.7" fill="#fcedf6"/><circle cx="48.4" cy="66.1" r="1.0" fill="#faedf5"/><circle cx="85.1" cy="6.5" r="0.7" fill="#faeff2"/><circle cx="27.1" cy="69.2" r="0.8" fill="#f5e7ed"/><circle cx="68.5" cy="5.9" r="1.3" fill="#fdf0f5"/><circle cx="39.2" cy="44.0" r="1.4" fill="#fce9f4"/><circle cx="8.6" cy="20.8" r="1.6" fill="#f9e9f4"/><circle cx="41.7" cy="-1.7" r="0.5" fill="#f7eaf6"/><circle cx="22.0" cy="60.9" r="1.4" fill="#f9f0f4"/><circle cx="45.0" cy="17.3" r="1.0" fill="#feecee"/><circle cx="34.4" cy="33.2" r="0.7" fill="#fae7f5"/><circle cx="15.3" cy="5.6" r="1.1" fill="#f8eff1"/><circle cx="48.6" cy="59.8" r="0.7" fill="#fcedf1"/><circle cx="91.1" cy="-0.4" r="1.4" fill="#f6efee"/><circle cx="3.2" cy="35.1" r="1.5" fill="#f7ebf3"/><circle cx="21.6" cy="37.2" r="0.5" fill="#f9eef0"/><circle cx="19.4" cy="1.8" r="1.3" fill="#f9f0f4"/><circle cx="7.7" cy="65.6" r="1.5" fill="#fdeff3"/><circle cx="67.9" cy="47.4" r="1.1" fill="#f7e8f4"/><circle cx="55.9" cy="2.2" r="1.2" fill="#fbecf4"/><circle cx="83.0" cy="26.2" r="1.4" fill="#f9ecf1"/><circle cx="88.5" cy="30.9" r="1.5" fill="#f8edf6"/><circle cx="64.3" cy="25.8" r="0.6" fill="#f9ebf5"/><circle cx="74.1" cy="71.0" r="1.0" fill="#f9ecf4"/><circle cx="5.8" cy="13.9" r="0.7" fill="#f8e9f6"/><circle cx="18.2" cy="67.1" r="0.8" fill="#f7f0ed"/><circle cx="8.9" cy="7.5" r="0.6" fill="#f8e9ee"/><circle cx="-0.5" cy="49.7" r="0.6" fill="#f7ecf5"/><circle cx="62.0" cy="50.5" r="1.3" fill="#fcefee"/><circle cx="3.2" cy="43.9" r="1.1" fill="#faeeee"/><circle cx="66.5" cy="29.6" r="1.0" fill="#f7e9f2"/><circle cx="51.7" cy="65.1" r="0.8" fill="#fce7f3"/><circle cx="13.6" cy="61.5" r="1.6" fill="#f7efef"/><circle cx="27.6" cy="5.6" r="1.0" fill="#f6eef2"/><circle cx="38.7" cy="50.5" r="0.8" fill="#f8eaed"/><circle cx="84.0" cy="4.5" r="0.6" fill="#fceff1"/><circle cx="38.9" cy="8.3" r="0.5" fill="#fae9ee"/><circle cx="85.8" cy="-0.6" r="0.9" fill="#fceeee"/><circle cx="70.0" cy="39.7" r="1.2" fill="#feeef2"/><circle cx="72.7" cy="34.4" r="1.1" fill="#fdedf0"/><circle cx="-0.0" cy="56.4" r="0.9" fill="#f9e9f2"/><circle cx="36.9" cy="59.7" r="1.2" fill="#faeef1"/><circle cx="50.0" cy="53.5" r="1.3" fill="#fceff2"/><circle cx="51.9" cy="11.9" r="0.8" fill="#f9ebf5"/><circle cx="2.1" cy="23.9" r="1.3" fill="#f9efee"/><circle cx="72.8" cy="29.9" r="1.1" fill="#f5ebf5"/><circle cx="69.3" cy="39.7" r="1.0" fill="#f5edf1"/><circle cx="68.2" cy="43.3" r="0.9" fill="#fde8f6"/><circle cx="6.3" cy="69.7" r="1.1" fill="#f9f0f2"/><circle cx="47.3" cy="2.4" r="1.4" fill="#fbe9ee"/><circle cx="38.7" cy="67.2" r="1.5" fill="#f9e7f5"/><circle cx="17.6" cy="52.1" r="1.0" fill="#fee8f4"/><circle cx="67.9" cy="-0.7" r="1.1" fill="#f7edf6"/><circle cx="62.6" cy="34.6" r="1.2" fill="#f7ebee"/><circle cx="67.9" cy="2.9" r="1.1" fill="#f6eced"/><circle cx="0.7" cy="44.2" r="1.3" fill="#fdedf6"/><circle cx="11.8" cy="44.5" r="1.2" fill="#f6e8ef"/><circle cx="48.8" cy="56.3" r="1.3" fill="#fae7f4"/><circle cx="47.7" cy="10.5" r="1.2" fill="#f7eaf1"/><circle cx="70.9" cy="5.9" r="1.0" fill="#f7edf5"/><circle cx="23.6" cy="51.3" r="1.0" fill="#f7e9f2"/><circle cx="76.3" cy="42.5" r="0.5" fill="#fcecf1"/><circle cx="21.4" cy="30.6" r="1.3" fill="#f7e8f5"/><circle cx="40.9" cy="3.2" r="1.5" fill="#f6eaf3"/><circle cx="62.4" cy="64.5" r="0.7" fill="#faeff1"/><circle cx="67.3" cy="32.5" r="1.3" fill="#feeaf4"/><circle cx="31.5" cy="63.7" r="1.3" fill="#fdeff2"/><circle cx="90.2" cy="9.5" r="1.1" fill="#f5ecf3"/><circle cx="25.7" cy="58.1" r="1.0" fill="#f6e8f2"/><circle cx="35.3" cy="1.5" r="0.8" fill="#feebf3"/><circle cx="39.4" cy="3.3" r="1.2" fill="#f7e8f3"/><circle cx="63.5" cy="-1.2" r="1.5" fill="#f5e8f0"/><circle cx="75.3" cy="52.9" r="1.3" fill="#f9f0ee"/><circle cx="91.2" cy="1.7" r="0.7" fill="#fceef3"/><circle cx="22.1" cy="62.1" r="1.1" fill="#f7e7f6"/><circle cx="3.4" cy="14.3" r="0.9" fill="#fdeff5"/><circle cx="59.2" cy="-1.1" r="1.3" fill="#f6f0f6"/><circle cx="4.4" cy="52.1" r="0.8" fill="#f6eff1"/><circle cx="26.6" cy="39.4" r="0.6" fill="#f9edf5"/><circle cx="9.9" cy="64.1" r="0.6" fill="#f7eaee"/><circle cx="6.8" cy="46.5" r="0.9" fill="#f6ecee"/><circle cx="64.1" cy="69.4" r="1.0" fill="#f9eaf0"/><circle cx="38.1" cy="11.2" r="0.8" fill="#fbebed"/><circle cx="12.1" cy="60.2" r="0.9" fill="#fdedf3"/><circle cx="32.5" cy="40.9" r="1.0" fill="#faf0ee"/><circle cx="18.7" cy="64.8" r="1.5" fill="#fdefee"/><circle cx="67.7" cy="7.2" r="1.4" fill="#f8ebf2"/><circle cx="18.0" cy="39.9" r="1.4" fill="#f9ebf0"/><circle cx="16.5" cy="19.1" r="1.4" fill="#feeaef"/><circle cx="30.7" cy="61.9" r="0.8" fill="#f6eaed"/><circle cx="12.3" cy="15.2" r="1.2" fill="#fee9ef"/><circle cx="54.9" cy="0.2" r="0.6" fill="#faebf0"/><circle cx="38.3" cy="-0.5" r="0.8" fill="#f6e9ed"/><circle cx="77.1" cy="-0.8" r="1.0" fill="#f6e9f4"/><circle cx="91.2" cy="69.4" r="0.9" fill="#faebed"/><circle cx="39.0" cy="43.2" r="0.9" fill="#fcebef"/><circle cx="84.8" cy="40.2" r="0.8" fill="#feebf3"/><circle cx="43.4" cy="61.6" r="1.3" fill="#f9eaf4"/><circle cx="79.2" cy="42.6" r="1.5" fill="#faebf0"/><circle cx="24.1" cy="9.3" r="1.5" fill="#fae7ef"/><circle cx="39.1" cy="57.6" r="1.4" fill="#fce9f1"/><circle cx="89.9" cy="26.7" r="1.2" fill="#f5ebf2"/><circle cx="86.2" cy="69.1" r="1.3" fill="#f8eff6"/><circle cx="5.4" cy="29.4" r="1.1" fill="#f8e9f4"/><circle cx="18.3" cy="39.0" r="0.5" fill="#f9f0ed"/><circle cx="8.4" cy="64.7" r="1.5" fill="#fae9ef"/><circle cx="69.2" cy="41.0" r="1.0" fill="#fbe7f0"/><circle cx="83.2" cy="65.5" r="1.0" fill="#fceff2"/><circle cx="11.9" cy="5.7" r="1.2" fill="#f8eced"/><circle cx="89.9" cy="18.6" r="1.2" fill="#fbeaef"/><circle cx="52.5" cy="22.2" r="0.6" fill="#f6e7f5"/><circle cx="17.7" cy="66.0" r="1.2" fill="#feebef"/><circle cx="6.2" cy="44.0" r="1.3" fill="#fbf0ed"/><circle cx="60.6" cy="50.1" r="1.5" fill="#f7f0ed"/><circle cx="55.1" cy="22.3" r="1.1" fill="#f6eaf0"/><circle cx="43.0" cy="28.0" r="0.7" fill="#f6ebf6"/><circle cx="80.3" cy="9.1" r="1.2" fill="#f6eaf6"/><circle cx="30.9" cy="5.6" r="1.1" fill="#faecf6"/><circle cx="47.7" cy="24.9" r="0.7" fill="#faeef2"/><circle cx="35.9" cy="16.6" r="1.4" fill="#feecf4"/><circle cx="29.5" cy="9.7" r="0.6" fill="#fbf0f3"/><circle cx="63.3" cy="61.6" r="1.0" fill="#f9e9f5"/><circle cx="65.0" cy="36.8" r="1.4" fill="#fee7ef"/><circle cx="43.4" cy="50.9" r="0.8" fill="#f9edef"/><circle cx="62.9" cy="2.5" r="1.0" fill="#fbeff2"/><circle cx="62.5" cy="47.1" r="1.2" fill="#f9eaee"/><circle cx="84.0" cy="55.4" r="1.2" fill="#fceaee"/><circle cx="49.6" cy="32.6" r="1.2" fill="#fdeaf0"/><circle cx="66.4" cy="63.3" r="1.1" fill="#faeff6"/><circle cx="2.4" cy="70.1" r="0.6" fill="#faebf6"/><circle cx="20.7" cy="1.3" r="1.6" fill="#f9ebf1"/><circle cx="24.9" cy="0.2" r="1.1" fill="#f7ebf6"/><circle cx="93.4" cy="20.8" r="0.9" fill="#f6edee"/><circle cx="10.3" cy="65.7" r="1.1" fill="#fde9ee"/><circle cx="54.1" cy="49.2" r="0.7" fill="#faecf1"/><circle cx="28.5" cy="31.1" r="0.6" fill="#f5e7f5"/><circle cx="22.2" cy="47.9" r="0.6" fill="#fde7f5"/><circle cx="49.6" cy="65.2" r="1.5" fill="#f5e7ef"/><circle cx="2.3" cy="62.0" r="0.7" fill="#fbf0f4"/><circle cx="94.5" cy="46.0" r="0.9" fill="#fee9f2"/><circle cx="38.2" cy="38.3" r="0.8" fill="#fef0f3"/><circle cx="46.2" cy="68.4" r="1.5" fill="#f5efee"/><circle cx="7.1" cy="16.7" r="0.9" fill="#f9f0ee"/><circle cx="60.7" cy="35.3" r="0.6" fill="#fef0f0"/><circle cx="82.4" cy="31.4" r="1.2" fill="#feedf0"/><circle cx="3.1" cy="32.5" r="1.1" fill="#f7eced"/><circle cx="22.5" cy="33.6" r="1.0" fill="#fce9ef"/><circle cx="69.1" cy="19.0" r="0.7" fill="#fbeaf2"/><circle cx="92.0" cy="69.8" r="1.4" fill="#feeef0"/><circle cx="88.5" cy="7.3" r="0.7" fill="#fae8f3"/><circle cx="50.9" cy="13.4" r="1.3" fill="#f5ebef"/><circle cx="89.0" cy="8.7" r="0.9" fill="#fceaf5"/><circle cx="9.0" cy="3.6" r="0.5" fill="#faebf2"/><circle cx="43.8" cy="62.9" r="0.7" fill="#f6e9f5"/><circle cx="76.7" cy="6.4" r="0.5" fill="#fef0ef"/><circle cx="49.6" cy="1.5" r="1.1" fill="#f6edee"/><circle cx="52.8" cy="22.3" r="1.0" fill="#feecf6"/><circle cx="67.9" cy="14.8" r="0.8" fill="#fdeeee"/><circle cx="76.5" cy="20.0" r="1.1" fill="#fdf0ee"/><circle cx="11.8" cy="17.7" r="1.2" fill="#feedf4"/><circle cx="77.7" cy="33.2" r="0.9" fill="#fcedf5"/><circle cx="94.7" cy="32.5" r="0.9" fill="#f6ecf0"/><circle cx="28.6" cy="35.5" r="1.3" fill="#fbebf3"/><circle cx="58.9" cy="65.6" r="1.3" fill="#fde9f5"/><circle cx="-1.4" cy="58.2" r="0.5" fill="#fbe9ee"/><circle cx="70.1" cy="8.1" r="1.2" fill="#f5e9f0"/><circle cx="53.4" cy="46.7" r="0.9" fill="#fde7ee"/><circle cx="36.1" cy="43.3" r="1.2" fill="#fdeaf3"/><circle cx="65.0" cy="9.8" r="0.9" fill="#f9ecf2"/><circle cx="11.4" cy="13.1" r="0.9" fill="#f5eef5"/><circle cx="69.2" cy="14.3" r="1.1" fill="#f5e9ef"/><circle cx="56.0" cy="41.1" r="1.1" fill="#f6ecf4"/><circle cx="82.7" cy="25.3" r="1.0" fill="#fde7f3"/><circle cx="7.9" cy="57.5" r="1.2" fill="#f5e7f6"/><circle cx="27.8" cy="41.0" r="1.1" fill="#f8e7f4"/><circle cx="30.5" cy="29.6" r="1.4" fill="#fee9f0"/><circle cx="73.2" cy="31.3" r="1.5" fill="#f8e7ef"/><circle cx="85.2" cy="40.8" r="1.6" fill="#fdedee"/><circle cx="38.3" cy="-0.5" r="0.9" fill="#f7f0ee"/><circle cx="31.5" cy="-0.3" r="0.7" fill="#fbebf2"/><circle cx="77.6" cy="49.5" r="0.7" fill="#fcedf2"/><circle cx="46.6" cy="65.7" r="1.2" fill="#f5eff3"/><circle cx="23.9" cy="55.2" r="1.5" fill="#fcebf5"/><circle cx="5.9" cy="1.9" r="0.9" fill="#faedf3"/><circle cx="48.3" cy="25.6" r="1.3" fill="#fae9f2"/><circle cx="42.5" cy="56.7" r="1.3" fill="#feeef2"/><circle cx="63.0" cy="19.7" r="1.1" fill="#fee8f1"/><circle cx="39.8" cy="50.9" r="0.7" fill="#fbe8f6"/><circle cx="5.8" cy="45.7" r="1.3" fill="#fae9f0"/><circle cx="84.6" cy="31.9" r="1.1" fill="#feebf5"/><circle cx="56.1" cy="59.4" r="1.2" fill="#f6e9ef"/><circle cx="19.4" cy="41.8" r="2.3" fill="#faedf8"/><circle cx="45.1" cy="13.4" r="2.6" fill="#f7eef8"/><circle cx="62.7" cy="24.5" r="2.0" fill="#feeff2"/><circle cx="25.2" cy="44.6" r="2.1" fill="#f7f5f4"/><circle cx="10.3" cy="2.7" r="2.9" fill="#fcf2f8"/><circle cx="0.3" cy="5.9" r="2.0" fill="#fdeef4"/><circle cx="75.0" cy="27.7" r="2.6" fill="#f7f1f2"/><circle cx="63.5" cy="27.0" r="2.6" fill="#fff6f7"/><circle cx="66.5" cy="69.2" r="2.3" fill="#f7f5f2"/><circle cx="30.5" cy="68.2" r="2.3" fill="#f8f6ef"/><circle cx="3.0" cy="49.8" r="2.0" fill="#feedf1"/><circle cx="36.4" cy="44.4" r="2.7" fill="#fdeef7"/><circle cx="3.2" cy="30.5" r="1.9" fill="#fef1f3"/><circle cx="88.8" cy="15.9" r="2.6" fill="#fdedf6"/><circle cx="31.1" cy="52.1" r="2.7" fill="#faf0f3"/><circle cx="7.7" cy="39.9" r="2.7" fill="#fff1f4"/><circle cx="32.0" cy="34.3" r="1.6" fill="#cc4c9e"/><circle cx="47.8" cy="37.9" r="1.8" fill="#cc4c9e"/><circle cx="22.1" cy="24.6" r="1.2" fill="#cc4c9e"/><circle cx="14.9" cy="26.1" r="1.7" fill="#cc4c9e"/><circle cx="47.0" cy="25.8" r="1.4" fill="#cc4c9e"/><circle cx="43.0" cy="12.2" r="1.5" fill="#cc4c9e"/><circle cx="20.5" cy="40.4" r="1.5" fill="#cc4c9e"/><circle cx="29.3" cy="22.1" r="1.2" fill="#cc4c9e"/><circle cx="24.4" cy="6.5" r="1.6" fill="#cc4c9e"/><circle cx="24.1" cy="17.4" r="1.8" fill="#cc4c9e"/><circle cx="34.9" cy="43.7" r="1.6" fill="#cc4c9e"/><circle cx="5.0" cy="34.5" r="1.6" fill="#cc4c9e"/><circle cx="34.2" cy="13.4" r="1.8" fill="#cc4c9e"/><circle cx="17.2" cy="19.9" r="1.7" fill="#cc4c9e"/><circle cx="34.2" cy="68.3" r="1.2" fill="#d060a8"/><circle cx="9.9" cy="44.7" r="1.5" fill="#d060a8"/><circle cx="67.0" cy="44.6" r="1.3" fill="#d060a8"/><circle cx="5.3" cy="65.4" r="1.5" fill="#d060a8"/><circle cx="88.5" cy="44.6" r="1.6" fill="#d060a8"/><circle cx="26.6" cy="56.6" r="1.3" fill="#d060a8"/><circle cx="71.6" cy="50.6" r="1.5" fill="#d060a8"/><circle cx="72.0" cy="59.8" r="1.0" fill="#d060a8"/><circle cx="41.7" cy="14.3" r="0.7" fill="#573d89"/><circle cx="23.1" cy="12.1" r="0.7" fill="#4e318c"/><circle cx="90.6" cy="59.7" r="0.5" fill="#552f94"/><circle cx="8.1" cy="49.3" r="0.5" fill="#5d2d82"/><circle cx="80.8" cy="60.1" r="0.6" fill="#562987"/><circle cx="38.2" cy="7.0" r="0.7" fill="#582a84"/><circle cx="13.6" cy="33.1" r="0.6" fill="#622c83"/><circle cx="14.4" cy="50.4" r="0.5" fill="#4f258d"/><circle cx="30.2" cy="53.1" r="0.6" fill="#642a88"/><circle cx="72.9" cy="62.3" r="0.7" fill="#5f3189"/><rect x="87" y="18" width="5" height="36" rx="2.5" fill="#fbeef4" opacity="0.9"/></g></svg>
<svg x="577" y="51" width="94" height="70" overflow="hidden"><g filter="url(#soft)"><rect x="-3" y="-3" width="100" height="76" fill="#e090c4"/><circle cx="46.2" cy="50.8" r="5.8" fill="#fbf5ee"/><circle cx="94.5" cy="17.1" r="3.8" fill="#fbf5ee"/><circle cx="82.6" cy="47.4" r="4.0" fill="#fbf5ee"/><circle cx="79.7" cy="26.9" r="6.4" fill="#fbf5ee"/><circle cx="46.9" cy="13.4" r="7.0" fill="#fbf5ee"/><circle cx="60.8" cy="16.3" r="6.5" fill="#fbf5ee"/><circle cx="76.6" cy="7.7" r="5.3" fill="#fbf5ee"/><circle cx="51.9" cy="72.3" r="4.5" fill="#fbf5ee"/><circle cx="97.4" cy="30.2" r="5.5" fill="#fbf5ee"/><circle cx="90.6" cy="49.6" r="3.1" fill="#fbf5ee"/><circle cx="74.2" cy="45.4" r="3.4" fill="#fbf5ee"/><circle cx="45.5" cy="64.2" r="5.1" fill="#fbf5ee"/><circle cx="51.2" cy="31.3" r="3.6" fill="#fbf5ee"/><circle cx="86.3" cy="35.0" r="3.0" fill="#fbf5ee"/><circle cx="87.5" cy="3.0" r="3.9" fill="#fbf5ee"/><circle cx="90.2" cy="69.2" r="2.8" fill="#fbf5ee"/><circle cx="54.6" cy="-1.3" r="3.2" fill="#fbf5ee"/><circle cx="61.4" cy="39.8" r="5.5" fill="#fbf5ee"/><circle cx="62.1" cy="57.2" r="3.8" fill="#fbf5ee"/><circle cx="61.4" cy="29.2" r="3.1" fill="#fbf5ee"/><circle cx="42.7" cy="27.7" r="3.8" fill="#fbf5ee"/><circle cx="67.3" cy="68.8" r="6.8" fill="#fbf5ee"/><circle cx="40.0" cy="73.7" r="3.7" fill="#fbf5ee"/><circle cx="81.0" cy="71.5" r="5.1" fill="#fbf5ee"/><circle cx="41.4" cy="35.6" r="2.8" fill="#fbf5ee"/><circle cx="96.4" cy="56.8" r="5.7" fill="#fbf5ee"/><circle cx="73.2" cy="55.8" r="6.2" fill="#fbf5ee"/><circle cx="90.4" cy="9.8" r="2.7" fill="#fbf5ee"/><circle cx="97.9" cy="-3.1" r="3.6" fill="#fbf5ee"/><circle cx="67.7" cy="-0.8" r="5.9" fill="#fbf5ee"/><circle cx="41.0" cy="0.8" r="2.9" fill="#fbf5ee"/><circle cx="71.7" cy="33.3" r="3.1" fill="#fbf5ee"/><circle cx="88.5" cy="62.3" r="3.1" fill="#fbf5ee"/><circle cx="96.0" cy="41.0" r="2.9" fill="#fbf5ee"/><circle cx="53.8" cy="61.8" r="2.7" fill="#fbf5ee"/><circle cx="57.4" cy="5.3" r="3.1" fill="#fbf5ee"/><circle cx="79.8" cy="-0.9" r="2.7" fill="#fbf5ee"/><circle cx="82.2" cy="15.3" r="3.3" fill="#fbf5ee"/><circle cx="50.9" cy="42.9" r="2.8" fill="#fbf5ee"/><circle cx="95.8" cy="73.4" r="3.3" fill="#fbf5ee"/><circle cx="71.2" cy="15.2" r="2.6" fill="#fbf5ee"/><circle cx="44.0" cy="41.6" r="2.9" fill="#fbf5ee"/><circle cx="90.1" cy="24.3" r="3.2" fill="#fbf5ee"/><circle cx="57.9" cy="49.7" r="3.2" fill="#fbf5ee"/><circle cx="96.6" cy="4.1" r="2.8" fill="#fbf5ee"/><circle cx="79.3" cy="38.9" r="2.6" fill="#fbf5ee"/><circle cx="46.7" cy="-0.9" r="2.5" fill="#fbf5ee"/><circle cx="97.1" cy="48.1" r="2.6" fill="#fbf5ee"/><circle cx="52.5" cy="22.7" r="2.8" fill="#fbf5ee"/><circle cx="87.0" cy="54.9" r="2.6" fill="#fbf5ee"/><circle cx="18.3" cy="20.3" r="2.7" fill="#f8ecee"/><circle cx="35.1" cy="30.1" r="2.8" fill="#f8ecee"/><circle cx="11.1" cy="32.9" r="1.2" fill="#f8ecee"/><circle cx="-1.7" cy="66.7" r="3.9" fill="#f8ecee"/><circle cx="26.9" cy="50.4" r="1.6" fill="#f8ecee"/><circle cx="0.6" cy="13.2" r="2.7" fill="#f8ecee"/><circle cx="39.6" cy="46.5" r="1.4" fill="#f8ecee"/><circle cx="1.8" cy="26.8" r="1.7" fill="#f8ecee"/><circle cx="47.5" cy="24.5" r="1.3" fill="#f8ecee"/><circle cx="37.0" cy="58.1" r="3.2" fill="#f8ecee"/><circle cx="10.1" cy="54.3" r="2.5" fill="#f8ecee"/><circle cx="35.6" cy="64.6" r="1.3" fill="#f8ecee"/><circle cx="16.6" cy="27.3" r="1.6" fill="#f8ecee"/><circle cx="20.8" cy="54.3" r="2.5" fill="#f8ecee"/><circle cx="23.0" cy="30.7" r="2.0" fill="#f8ecee"/><circle cx="19.7" cy="40.2" r="1.7" fill="#f8ecee"/><circle cx="-2.6" cy="-2.3" r="3.6" fill="#f8ecee"/><circle cx="14.4" cy="40.5" r="2.5" fill="#f8ecee"/><circle cx="-2.0" cy="32.2" r="1.7" fill="#f8ecee"/><circle cx="23.9" cy="0.7" r="1.9" fill="#f8ecee"/><circle cx="36.5" cy="36.3" r="1.5" fill="#f8ecee"/><circle cx="4.1" cy="0.3" r="1.3" fill="#f8ecee"/><circle cx="-2.7" cy="58.2" r="2.1" fill="#f8ecee"/><circle cx="31.5" cy="17.5" r="2.2" fill="#f8ecee"/><circle cx="4.1" cy="63.1" r="1.3" fill="#f8ecee"/><circle cx="15.4" cy="3.2" r="2.0" fill="#f8ecee"/><circle cx="-3.7" cy="18.9" r="2.5" fill="#f8ecee"/><circle cx="25.0" cy="22.6" r="2.5" fill="#f8ecee"/><circle cx="27.1" cy="6.4" r="2.8" fill="#f8ecee"/><circle cx="8.3" cy="59.5" r="1.7" fill="#f8ecee"/><circle cx="21.8" cy="62.3" r="1.6" fill="#f8ecee"/><circle cx="15.4" cy="68.9" r="3.2" fill="#f8ecee"/><circle cx="6.7" cy="39.4" r="3.9" fill="#f8ecee"/><circle cx="29.6" cy="43.0" r="3.0" fill="#f8ecee"/><circle cx="27.6" cy="31.4" r="1.7" fill="#f8ecee"/><circle cx="24.2" cy="13.9" r="1.5" fill="#f8ecee"/><circle cx="28.1" cy="56.7" r="2.6" fill="#f8ecee"/><circle cx="17.4" cy="47.6" r="3.5" fill="#f8ecee"/><circle cx="14.3" cy="61.1" r="2.7" fill="#f8ecee"/><circle cx="32.2" cy="13.0" r="1.7" fill="#f8ecee"/><circle cx="8.4" cy="69.9" r="1.3" fill="#f8ecee"/><circle cx="0.5" cy="4.6" r="3.2" fill="#f8ecee"/><circle cx="26.4" cy="37.9" r="1.5" fill="#f8ecee"/><circle cx="32.1" cy="73.0" r="2.7" fill="#f8ecee"/><circle cx="-1.0" cy="41.9" r="2.9" fill="#f8ecee"/><circle cx="32.2" cy="0.7" r="1.6" fill="#f8ecee"/><circle cx="21.0" cy="34.3" r="1.4" fill="#f8ecee"/><circle cx="36.4" cy="24.4" r="2.1" fill="#f8ecee"/><circle cx="7.3" cy="46.8" r="1.7" fill="#f8ecee"/><circle cx="24.9" cy="66.8" r="1.8" fill="#f8ecee"/><circle cx="-3.9" cy="25.1" r="1.3" fill="#f8ecee"/><circle cx="14.9" cy="73.9" r="1.4" fill="#f8ecee"/><circle cx="16.9" cy="32.7" r="2.2" fill="#f8ecee"/><circle cx="34.6" cy="47.1" r="1.7" fill="#f8ecee"/><circle cx="4.1" cy="73.9" r="1.3" fill="#f8ecee"/><circle cx="9.9" cy="15.8" r="1.8" fill="#f8ecee"/><circle cx="31.7" cy="21.9" r="1.7" fill="#f8ecee"/><circle cx="3.0" cy="8.7" r="1.2" fill="#f8ecee"/><circle cx="5.3" cy="31.8" r="2.9" fill="#f8ecee"/><circle cx="1.5" cy="57.4" r="1.5" fill="#f8ecee"/><circle cx="29.5" cy="26.6" r="1.1" fill="#f6e4ec"/><circle cx="33.2" cy="4.1" r="1.1" fill="#f6e4ec"/><circle cx="6.8" cy="7.8" r="1.2" fill="#f6e4ec"/><circle cx="20.2" cy="69.8" r="1.0" fill="#f6e4ec"/><circle cx="57.8" cy="33.3" r="1.3" fill="#f6e4ec"/><circle cx="69.8" cy="10.8" r="1.5" fill="#f6e4ec"/><circle cx="38.1" cy="50.4" r="1.4" fill="#f6e4ec"/><circle cx="66.5" cy="7.5" r="1.6" fill="#f6e4ec"/><circle cx="87.7" cy="30.3" r="1.2" fill="#f6e4ec"/><circle cx="4.2" cy="58.4" r="1.0" fill="#f6e4ec"/><circle cx="50.9" cy="3.9" r="1.2" fill="#f6e4ec"/><circle cx="34.1" cy="68.0" r="1.7" fill="#f6e4ec"/><circle cx="23.9" cy="42.8" r="1.8" fill="#f6e4ec"/><circle cx="83.5" cy="40.4" r="1.4" fill="#f6e4ec"/><circle cx="47.8" cy="27.6" r="0.8" fill="#f6e4ec"/><circle cx="90.9" cy="43.0" r="1.3" fill="#f6e4ec"/><circle cx="23.8" cy="35.2" r="1.1" fill="#f6e4ec"/><circle cx="57.1" cy="67.8" r="1.0" fill="#f6e4ec"/><circle cx="88.0" cy="44.3" r="0.9" fill="#f6e4ec"/><circle cx="2.2" cy="52.3" r="1.7" fill="#f6e4ec"/><circle cx="67.4" cy="28.2" r="1.0" fill="#f6e4ec"/><circle cx="11.2" cy="11.2" r="1.7" fill="#f6e4ec"/><circle cx="36.1" cy="41.5" r="1.9" fill="#f6e4ec"/><circle cx="27.9" cy="71.1" r="1.3" fill="#f6e4ec"/><circle cx="30.3" cy="65.9" r="1.4" fill="#f6e4ec"/><circle cx="18.2" cy="12.9" r="1.0" fill="#f6e4ec"/><circle cx="71.4" cy="20.8" r="1.9" fill="#f6e4ec"/><circle cx="19.3" cy="3.7" r="1.5" fill="#f6e4ec"/><circle cx="59.2" cy="65.2" r="1.6" fill="#f6e4ec"/><circle cx="31.7" cy="33.6" r="1.6" fill="#f6e4ec"/><circle cx="36.3" cy="20.3" r="1.1" fill="#f6e4ec"/><circle cx="11.5" cy="-1.6" r="1.2" fill="#f6e4ec"/><circle cx="34.7" cy="8.5" r="1.2" fill="#f6e4ec"/><circle cx="8.5" cy="22.1" r="1.5" fill="#f6e4ec"/><circle cx="10.7" cy="65.6" r="1.8" fill="#f6e4ec"/><circle cx="37.9" cy="6.0" r="1.9" fill="#f6e4ec"/><circle cx="26.6" cy="47.3" r="1.0" fill="#f6e4ec"/><circle cx="3.6" cy="17.4" r="1.2" fill="#f6e4ec"/><circle cx="2.3" cy="47.8" r="1.4" fill="#f6e4ec"/><circle cx="11.2" cy="44.9" r="1.4" fill="#f6e4ec"/><circle cx="67.9" cy="48.3" r="1.4" fill="#f6e4ec"/><circle cx="23.3" cy="71.3" r="1.4" fill="#f6e4ec"/><circle cx="82.0" cy="57.0" r="1.9" fill="#f6e4ec"/><circle cx="62.3" cy="8.0" r="1.2" fill="#f6e4ec"/><circle cx="25.4" cy="53.6" r="0.8" fill="#f6e4ec"/><circle cx="4.6" cy="44.8" r="0.9" fill="#f6e4ec"/><circle cx="30.2" cy="52.0" r="1.0" fill="#f6e4ec"/><circle cx="95.5" cy="64.2" r="1.2" fill="#f6e4ec"/><circle cx="87.0" cy="15.0" r="1.0" fill="#f6e4ec"/><circle cx="45.2" cy="3.6" r="1.2" fill="#f6e4ec"/><circle cx="8.9" cy="-1.3" r="0.9" fill="#f6e4ec"/><circle cx="11.4" cy="25.1" r="1.1" fill="#f6e4ec"/><circle cx="75.9" cy="-1.2" r="0.8" fill="#f6e4ec"/><circle cx="3.9" cy="22.1" r="1.2" fill="#f6e4ec"/><circle cx="5.7" cy="4.4" r="1.4" fill="#f6e4ec"/><circle cx="5.5" cy="24.4" r="0.9" fill="#f6e4ec"/><circle cx="27.3" cy="17.6" r="0.9" fill="#f6e4ec"/><circle cx="52.9" cy="37.9" r="1.0" fill="#f6e4ec"/><circle cx="54.2" cy="52.6" r="1.0" fill="#f6e4ec"/><circle cx="41.7" cy="6.2" r="0.9" fill="#f6e4ec"/><circle cx="21.6" cy="7.8" r="1.4" fill="#f6e4ec"/><circle cx="25.4" cy="27.7" r="1.2" fill="#f6e4ec"/><circle cx="12.6" cy="29.9" r="1.3" fill="#f6e4ec"/><circle cx="-1.6" cy="47.3" r="1.6" fill="#f6e4ec"/><circle cx="67.2" cy="24.9" r="1.1" fill="#f6e4ec"/><circle cx="76.9" cy="19.0" r="1.2" fill="#f6e4ec"/><circle cx="66.4" cy="32.3" r="0.9" fill="#f6e4ec"/><circle cx="30.9" cy="60.6" r="1.2" fill="#f6e4ec"/><circle cx="47.5" cy="58.0" r="1.0" fill="#f6e4ec"/><circle cx="19.8" cy="15.5" r="1.0" fill="#f6e4ec"/><circle cx="24.9" cy="55.9" r="1.9" fill="#b070b8" stroke="#6e3c8e" stroke-width="0.8" opacity="0.8"/><circle cx="32.3" cy="63.4" r="1.9" fill="#b070b8" stroke="#6e3c8e" stroke-width="0.8" opacity="0.8"/><circle cx="36.8" cy="15.3" r="1.8" fill="#b070b8" stroke="#6e3c8e" stroke-width="0.8" opacity="0.8"/><circle cx="88.1" cy="33.5" r="1.9" fill="#b070b8" stroke="#6e3c8e" stroke-width="0.8" opacity="0.8"/><circle cx="50.6" cy="24.0" r="1.9" fill="#b070b8" stroke="#6e3c8e" stroke-width="0.8" opacity="0.8"/><circle cx="14.1" cy="3.4" r="1.5" fill="#b070b8" stroke="#6e3c8e" stroke-width="0.8" opacity="0.8"/><circle cx="57.6" cy="22.1" r="1.9" fill="#b070b8" stroke="#6e3c8e" stroke-width="0.8" opacity="0.8"/><circle cx="83.9" cy="64.1" r="1.8" fill="#b070b8" stroke="#6e3c8e" stroke-width="0.8" opacity="0.8"/><circle cx="6.7" cy="15.6" r="1.5" fill="#b070b8" stroke="#6e3c8e" stroke-width="0.8" opacity="0.8"/><circle cx="53.7" cy="35.9" r="1.4" fill="#b070b8" stroke="#6e3c8e" stroke-width="0.8" opacity="0.8"/><circle cx="92.7" cy="26.7" r="1.9" fill="#b070b8" stroke="#6e3c8e" stroke-width="0.8" opacity="0.8"/><circle cx="22.1" cy="41.6" r="1.5" fill="#b070b8" stroke="#6e3c8e" stroke-width="0.8" opacity="0.8"/><circle cx="15.1" cy="60.6" r="1.7" fill="#b070b8" stroke="#6e3c8e" stroke-width="0.8" opacity="0.8"/><circle cx="2.8" cy="47.8" r="1.9" fill="#b070b8" stroke="#6e3c8e" stroke-width="0.8" opacity="0.8"/><circle cx="38.3" cy="58.7" r="1.7" fill="#b070b8" stroke="#6e3c8e" stroke-width="0.8" opacity="0.8"/><circle cx="79.6" cy="12.9" r="1.8" fill="#b070b8" stroke="#6e3c8e" stroke-width="0.8" opacity="0.8"/><circle cx="91.5" cy="23.4" r="0.6" fill="#31284d"/><circle cx="67.9" cy="44.2" r="0.6" fill="#490f60"/><circle cx="6.9" cy="56.8" r="0.5" fill="#321467"/><circle cx="8.1" cy="7.0" r="0.7" fill="#49154b"/><circle cx="82.5" cy="-1.7" r="0.5" fill="#341564"/><circle cx="7.7" cy="37.2" r="0.7" fill="#3c1262"/><circle cx="61.0" cy="53.3" r="0.5" fill="#352150"/><circle cx="55.4" cy="54.2" r="0.5" fill="#32145a"/><circle cx="44.3" cy="30.1" r="0.6" fill="#4a2556"/><circle cx="39.7" cy="64.8" r="0.5" fill="#462950"/><circle cx="28.0" cy="45.1" r="0.5" fill="#3e2a52"/><circle cx="56.5" cy="26.6" r="0.8" fill="#3e1b54"/><circle cx="68.3" cy="31.5" r="0.6" fill="#301261"/><circle cx="34.7" cy="4.5" r="0.5" fill="#3d2a64"/><circle cx="56.1" cy="56.5" r="0.8" fill="#481362"/><circle cx="79.7" cy="52.7" r="0.4" fill="#2f105d"/></g></svg>
<svg x="294" y="122" width="93" height="70" overflow="hidden"><g filter="url(#soft)"><rect x="-3" y="-3" width="99" height="76" fill="#d2b2da"/><rect width="93" height="70" filter="url(#wA)" opacity="0.8"/><line x1="11.2" y1="43.1" x2="19.5" y2="53.5" stroke="#f8f2f6" stroke-width="2.6" stroke-opacity="0.8" stroke-linecap="round"/><line x1="16.5" y1="49.6" x2="23.7" y2="61.3" stroke="#f8f2f6" stroke-width="2.6" stroke-opacity="0.8" stroke-linecap="round"/><line x1="41.5" y1="13.9" x2="52.4" y2="19.2" stroke="#f8f2f6" stroke-width="2.6" stroke-opacity="0.8" stroke-linecap="round"/><line x1="51.6" y1="0.4" x2="57.3" y2="9.3" stroke="#f8f2f6" stroke-width="2.6" stroke-opacity="0.8" stroke-linecap="round"/><line x1="18.3" y1="-4.5" x2="25.0" y2="10.4" stroke="#f8f2f6" stroke-width="2.6" stroke-opacity="0.8" stroke-linecap="round"/><line x1="76.2" y1="40.4" x2="86.6" y2="45.8" stroke="#f8f2f6" stroke-width="2.6" stroke-opacity="0.8" stroke-linecap="round"/><line x1="43.6" y1="2.7" x2="48.9" y2="13.6" stroke="#f8f2f6" stroke-width="2.6" stroke-opacity="0.8" stroke-linecap="round"/><line x1="6.5" y1="52.5" x2="22.3" y2="61.9" stroke="#f8f2f6" stroke-width="2.6" stroke-opacity="0.8" stroke-linecap="round"/><line x1="37.0" y1="34.4" x2="47.3" y2="42.9" stroke="#f8f2f6" stroke-width="2.6" stroke-opacity="0.8" stroke-linecap="round"/><line x1="14.8" y1="-2.0" x2="20.0" y2="7.2" stroke="#f8f2f6" stroke-width="2.6" stroke-opacity="0.8" stroke-linecap="round"/><line x1="68.7" y1="6.5" x2="76.4" y2="22.7" stroke="#f8f2f6" stroke-width="2.6" stroke-opacity="0.8" stroke-linecap="round"/><line x1="64.9" y1="47.3" x2="75.5" y2="59.5" stroke="#f8f2f6" stroke-width="2.6" stroke-opacity="0.8" stroke-linecap="round"/><line x1="8.7" y1="29.0" x2="14.0" y2="37.7" stroke="#f8f2f6" stroke-width="2.6" stroke-opacity="0.8" stroke-linecap="round"/><line x1="81.4" y1="58.1" x2="90.3" y2="66.2" stroke="#f8f2f6" stroke-width="2.6" stroke-opacity="0.8" stroke-linecap="round"/><line x1="39.4" y1="21.4" x2="44.5" y2="32.6" stroke="#f8f2f6" stroke-width="2.6" stroke-opacity="0.8" stroke-linecap="round"/><line x1="-3.0" y1="-1.3" x2="8.0" y2="14.3" stroke="#f8f2f6" stroke-width="2.6" stroke-opacity="0.8" stroke-linecap="round"/><line x1="40.6" y1="28.3" x2="51.6" y2="40.5" stroke="#f8f2f6" stroke-width="2.6" stroke-opacity="0.8" stroke-linecap="round"/><line x1="15.6" y1="37.1" x2="25.6" y2="48.2" stroke="#f8f2f6" stroke-width="2.6" stroke-opacity="0.8" stroke-linecap="round"/><line x1="9.7" y1="6.0" x2="23.9" y2="17.8" stroke="#f8f2f6" stroke-width="2.6" stroke-opacity="0.8" stroke-linecap="round"/><line x1="28.6" y1="39.0" x2="35.8" y2="44.6" stroke="#f8f2f6" stroke-width="2.6" stroke-opacity="0.8" stroke-linecap="round"/><line x1="2.8" y1="51.8" x2="9.4" y2="62.1" stroke="#f8f2f6" stroke-width="2.6" stroke-opacity="0.8" stroke-linecap="round"/><line x1="59.1" y1="39.1" x2="68.0" y2="55.6" stroke="#f8f2f6" stroke-width="2.6" stroke-opacity="0.8" stroke-linecap="round"/><circle cx="37.5" cy="71.2" r="1.0" fill="#c24f8b" fill-opacity="0.8"/><circle cx="34.4" cy="16.3" r="0.9" fill="#ad269b" fill-opacity="0.8"/><circle cx="73.1" cy="33.8" r="0.9" fill="#a72f81" fill-opacity="0.8"/><circle cx="38.7" cy="10.6" r="0.5" fill="#b54fa4" fill-opacity="0.8"/><circle cx="70.3" cy="33.4" r="0.6" fill="#d43d97" fill-opacity="0.8"/><circle cx="0.7" cy="13.7" r="0.9" fill="#cc4f91" fill-opacity="0.8"/><circle cx="39.3" cy="41.0" r="0.9" fill="#b43d80" fill-opacity="0.8"/><circle cx="72.5" cy="-1.2" r="0.8" fill="#d42490" fill-opacity="0.8"/><circle cx="60.5" cy="61.0" r="0.8" fill="#b137a2" fill-opacity="0.8"/><circle cx="85.8" cy="7.9" r="0.5" fill="#a92489" fill-opacity="0.8"/><circle cx="11.7" cy="62.2" r="0.8" fill="#ab3d83" fill-opacity="0.8"/><circle cx="45.9" cy="14.3" r="0.6" fill="#ae3596" fill-opacity="0.8"/><circle cx="51.4" cy="1.4" r="0.9" fill="#d0499a" fill-opacity="0.8"/><circle cx="-1.2" cy="32.3" r="0.5" fill="#cb2b96" fill-opacity="0.8"/><circle cx="22.5" cy="49.6" r="0.7" fill="#a73682" fill-opacity="0.8"/><circle cx="85.4" cy="19.8" r="0.8" fill="#c05277" fill-opacity="0.8"/><circle cx="56.3" cy="35.6" r="0.9" fill="#d53295" fill-opacity="0.8"/><circle cx="49.0" cy="39.5" r="0.5" fill="#cd5384" fill-opacity="0.8"/><circle cx="28.9" cy="71.5" r="0.6" fill="#a8269b" fill-opacity="0.8"/><circle cx="71.7" cy="31.2" r="0.8" fill="#a54389" fill-opacity="0.8"/><circle cx="48.2" cy="26.8" r="0.7" fill="#b02588" fill-opacity="0.8"/><circle cx="22.0" cy="50.1" r="0.9" fill="#c9397e" fill-opacity="0.8"/><circle cx="35.4" cy="34.0" r="0.8" fill="#d5278a" fill-opacity="0.8"/><circle cx="45.7" cy="51.1" r="0.9" fill="#cb4298" fill-opacity="0.8"/><circle cx="62.8" cy="61.6" r="0.8" fill="#c72fa0" fill-opacity="0.8"/><circle cx="35.4" cy="43.5" r="0.9" fill="#d55473" fill-opacity="0.8"/><circle cx="28.3" cy="21.1" r="0.7" fill="#ac3e76" fill-opacity="0.8"/><circle cx="27.4" cy="67.8" r="0.9" fill="#bc28a2" fill-opacity="0.8"/><circle cx="66.3" cy="13.2" r="0.7" fill="#c54580" fill-opacity="0.8"/><circle cx="90.3" cy="21.8" r="0.6" fill="#cf2a95" fill-opacity="0.8"/><circle cx="17.4" cy="42.2" r="0.6" fill="#b7528a" fill-opacity="0.8"/><circle cx="40.4" cy="43.7" r="0.6" fill="#ad3680" fill-opacity="0.8"/><circle cx="16.3" cy="69.1" r="0.5" fill="#cd5196" fill-opacity="0.8"/><circle cx="-0.2" cy="35.1" r="0.5" fill="#c3467f" fill-opacity="0.8"/><circle cx="-1.3" cy="38.3" r="0.5" fill="#b4399f" fill-opacity="0.8"/><circle cx="33.9" cy="8.0" r="0.9" fill="#ce3d75" fill-opacity="0.8"/><circle cx="16.2" cy="27.8" r="0.8" fill="#b04b9d" fill-opacity="0.8"/><circle cx="87.7" cy="63.4" r="0.5" fill="#c2279f" fill-opacity="0.8"/><circle cx="70.5" cy="54.2" r="0.6" fill="#a74b91" fill-opacity="0.8"/><circle cx="58.2" cy="32.9" r="0.9" fill="#b53084" fill-opacity="0.8"/><circle cx="26.9" cy="44.4" r="0.9" fill="#a8268c" fill-opacity="0.8"/><circle cx="63.8" cy="12.0" r="0.6" fill="#a7248b" fill-opacity="0.8"/><circle cx="64.0" cy="46.3" r="0.6" fill="#aa518d" fill-opacity="0.8"/><circle cx="37.6" cy="49.1" r="0.9" fill="#bf269c" fill-opacity="0.8"/><circle cx="18.7" cy="1.0" r="0.7" fill="#bf427b" fill-opacity="0.8"/><circle cx="66.8" cy="34.5" r="0.6" fill="#cf4ba0" fill-opacity="0.8"/><circle cx="63.9" cy="14.1" r="0.9" fill="#d23da0" fill-opacity="0.8"/><circle cx="92.1" cy="26.9" r="1.0" fill="#d34a73" fill-opacity="0.8"/><circle cx="32.1" cy="43.4" r="0.8" fill="#ca437b" fill-opacity="0.8"/><circle cx="88.3" cy="37.7" r="0.9" fill="#af548e" fill-opacity="0.8"/><circle cx="73.2" cy="52.8" r="0.9" fill="#b72787" fill-opacity="0.8"/><circle cx="15.3" cy="37.9" r="0.9" fill="#b72974" fill-opacity="0.8"/><circle cx="39.0" cy="41.0" r="0.5" fill="#c62d78" fill-opacity="0.8"/><circle cx="88.0" cy="36.7" r="0.9" fill="#be297f" fill-opacity="0.8"/><circle cx="39.2" cy="45.4" r="0.9" fill="#ca437f" fill-opacity="0.8"/><circle cx="39.7" cy="26.0" r="0.7" fill="#b23d89" fill-opacity="0.8"/><circle cx="1.4" cy="58.9" r="0.8" fill="#cd4797" fill-opacity="0.8"/><circle cx="94.4" cy="25.9" r="0.7" fill="#a54490" fill-opacity="0.8"/><circle cx="53.9" cy="71.8" r="0.6" fill="#b0479b" fill-opacity="0.8"/><circle cx="44.8" cy="2.1" r="0.7" fill="#ce3b8a" fill-opacity="0.8"/><circle cx="35.8" cy="44.5" r="0.8" fill="#c74e98" fill-opacity="0.8"/><circle cx="34.4" cy="16.5" r="0.9" fill="#cc517c" fill-opacity="0.8"/><circle cx="80.2" cy="63.9" r="0.5" fill="#b4427a" fill-opacity="0.8"/><circle cx="78.6" cy="17.6" r="0.8" fill="#b32d7d" fill-opacity="0.8"/><circle cx="46.3" cy="50.8" r="0.6" fill="#c73393" fill-opacity="0.8"/><circle cx="33.7" cy="12.3" r="0.6" fill="#a74587" fill-opacity="0.8"/><circle cx="10.0" cy="63.2" r="0.8" fill="#a64790" fill-opacity="0.8"/><circle cx="41.0" cy="35.0" r="1.0" fill="#b74292" fill-opacity="0.8"/><circle cx="33.5" cy="23.6" r="0.9" fill="#c4398c" fill-opacity="0.8"/><circle cx="19.7" cy="56.4" r="0.5" fill="#c5397e" fill-opacity="0.8"/><circle cx="54.9" cy="41.1" r="0.5" fill="#bd2b9a" fill-opacity="0.8"/><circle cx="29.7" cy="22.3" r="0.6" fill="#a72c7a" fill-opacity="0.8"/><circle cx="58.5" cy="60.7" r="0.6" fill="#aa3d78" fill-opacity="0.8"/><circle cx="37.3" cy="54.3" r="0.6" fill="#c73d77" fill-opacity="0.8"/><circle cx="21.5" cy="42.4" r="0.5" fill="#af3f9b" fill-opacity="0.8"/><circle cx="48.5" cy="47.1" r="0.5" fill="#b432a0" fill-opacity="0.8"/><circle cx="32.7" cy="56.1" r="0.5" fill="#bd4f99" fill-opacity="0.8"/><circle cx="54.2" cy="11.5" r="1.0" fill="#a85399" fill-opacity="0.8"/><circle cx="67.8" cy="37.3" r="0.6" fill="#b64493" fill-opacity="0.8"/><circle cx="35.8" cy="57.3" r="0.5" fill="#b32783" fill-opacity="0.8"/><circle cx="74.9" cy="53.8" r="0.6" fill="#b42894" fill-opacity="0.8"/><circle cx="40.9" cy="15.1" r="0.7" fill="#d03895" fill-opacity="0.8"/><circle cx="58.9" cy="33.0" r="0.8" fill="#b72c8b" fill-opacity="0.8"/><circle cx="27.5" cy="22.4" r="0.6" fill="#d2387d" fill-opacity="0.8"/><circle cx="1.1" cy="13.9" r="0.9" fill="#b5447e" fill-opacity="0.8"/><circle cx="61.1" cy="31.3" r="0.9" fill="#bf3581" fill-opacity="0.8"/><circle cx="55.6" cy="59.6" r="0.8" fill="#bd339f" fill-opacity="0.8"/><circle cx="80.1" cy="8.8" r="0.8" fill="#cb44a3" fill-opacity="0.8"/><circle cx="83.3" cy="16.2" r="1.0" fill="#b535a3" fill-opacity="0.8"/><circle cx="14.2" cy="27.3" r="0.8" fill="#b2309a" fill-opacity="0.8"/><circle cx="57.4" cy="53.0" r="0.9" fill="#d04f9c" fill-opacity="0.8"/><circle cx="92.9" cy="34.9" r="0.9" fill="#be5393" fill-opacity="0.8"/><circle cx="39.8" cy="47.1" r="0.6" fill="#ab3679" fill-opacity="0.8"/><circle cx="-1.6" cy="4.8" r="0.7" fill="#cb2592" fill-opacity="0.8"/><circle cx="8.8" cy="35.8" r="0.6" fill="#bb4687" fill-opacity="0.8"/><circle cx="36.0" cy="51.9" r="0.6" fill="#b6469c" fill-opacity="0.8"/><circle cx="93.0" cy="17.0" r="0.8" fill="#b4469d" fill-opacity="0.8"/><circle cx="11.1" cy="23.5" r="1.0" fill="#b6429b" fill-opacity="0.8"/><circle cx="25.0" cy="56.0" r="0.5" fill="#b62b84" fill-opacity="0.8"/><circle cx="18.7" cy="-0.1" r="0.9" fill="#ad3f8e" fill-opacity="0.8"/><circle cx="80.4" cy="60.7" r="0.8" fill="#ad4977" fill-opacity="0.8"/><circle cx="88.1" cy="20.8" r="0.6" fill="#af369a" fill-opacity="0.8"/><circle cx="80.9" cy="53.2" r="0.9" fill="#b13382" fill-opacity="0.8"/><circle cx="40.0" cy="62.7" r="1.0" fill="#a953a0" fill-opacity="0.8"/><circle cx="42.7" cy="49.3" r="0.9" fill="#ae41a4" fill-opacity="0.8"/><circle cx="83.4" cy="65.5" r="0.5" fill="#c83ba0" fill-opacity="0.8"/><circle cx="14.2" cy="38.6" r="0.6" fill="#cd4774" fill-opacity="0.8"/><circle cx="28.0" cy="8.5" r="0.8" fill="#c426a2" fill-opacity="0.8"/><circle cx="91.6" cy="30.6" r="0.8" fill="#b74186" fill-opacity="0.8"/><circle cx="40.8" cy="53.5" r="0.6" fill="#b3497e" fill-opacity="0.8"/><circle cx="4.7" cy="65.5" r="0.6" fill="#b93280" fill-opacity="0.8"/><circle cx="32.2" cy="37.8" r="0.6" fill="#bf2576" fill-opacity="0.8"/><circle cx="17.6" cy="15.8" r="0.7" fill="#b34c93" fill-opacity="0.8"/><circle cx="43.9" cy="55.1" r="0.8" fill="#b44198" fill-opacity="0.8"/><circle cx="49.8" cy="53.7" r="0.8" fill="#d33094" fill-opacity="0.8"/><circle cx="92.8" cy="37.1" r="1.0" fill="#a94780" fill-opacity="0.8"/><circle cx="70.8" cy="29.3" r="0.8" fill="#b12f9e" fill-opacity="0.8"/><circle cx="60.4" cy="44.5" r="0.6" fill="#b3537d" fill-opacity="0.8"/><circle cx="50.2" cy="49.5" r="0.8" fill="#c0539a" fill-opacity="0.8"/><circle cx="21.0" cy="29.8" r="0.7" fill="#c74480" fill-opacity="0.8"/><circle cx="65.2" cy="29.9" r="0.5" fill="#b3357c" fill-opacity="0.8"/><circle cx="63.1" cy="71.4" r="1.0" fill="#c44d8b" fill-opacity="0.8"/><circle cx="54.9" cy="64.1" r="0.5" fill="#b73584" fill-opacity="0.8"/><circle cx="39.5" cy="2.2" r="0.8" fill="#d42e7c" fill-opacity="0.8"/><circle cx="30.5" cy="56.9" r="0.6" fill="#cb2b90" fill-opacity="0.8"/><circle cx="68.0" cy="47.9" r="0.5" fill="#d44d8b" fill-opacity="0.8"/><circle cx="81.4" cy="42.5" r="0.6" fill="#b84c8a" fill-opacity="0.8"/><circle cx="2.1" cy="10.3" r="0.6" fill="#c24389" fill-opacity="0.8"/><circle cx="37.2" cy="69.2" r="0.7" fill="#c62d8c" fill-opacity="0.8"/><circle cx="15.4" cy="6.4" r="0.7" fill="#aa3693" fill-opacity="0.8"/><circle cx="51.3" cy="56.9" r="0.7" fill="#a94787" fill-opacity="0.8"/><circle cx="70.9" cy="70.2" r="0.8" fill="#b1348b" fill-opacity="0.8"/><circle cx="29.0" cy="5.5" r="0.7" fill="#c54b99" fill-opacity="0.8"/><circle cx="83.8" cy="57.3" r="0.7" fill="#c5259a" fill-opacity="0.8"/><circle cx="66.7" cy="17.6" r="0.7" fill="#b24a88" fill-opacity="0.8"/><circle cx="73.8" cy="66.4" r="0.9" fill="#b834a2" fill-opacity="0.8"/><circle cx="85.7" cy="12.0" r="0.7" fill="#cc4881" fill-opacity="0.8"/><circle cx="41.3" cy="69.2" r="0.5" fill="#b244a0" fill-opacity="0.8"/><circle cx="89.8" cy="32.7" r="0.9" fill="#d5337e" fill-opacity="0.8"/><circle cx="23.2" cy="55.9" r="0.6" fill="#c0517d" fill-opacity="0.8"/><circle cx="59.0" cy="37.2" r="1.0" fill="#be3ba0" fill-opacity="0.8"/><circle cx="71.0" cy="8.7" r="0.9" fill="#b853a3" fill-opacity="0.8"/><circle cx="45.8" cy="28.8" r="0.6" fill="#b22d7b" fill-opacity="0.8"/><circle cx="68.8" cy="1.8" r="0.8" fill="#c2478f" fill-opacity="0.8"/><circle cx="87.9" cy="18.8" r="0.5" fill="#c230a4" fill-opacity="0.8"/><circle cx="87.4" cy="48.9" r="0.9" fill="#b13b86" fill-opacity="0.8"/><circle cx="31.5" cy="25.7" r="0.7" fill="#c5248d" fill-opacity="0.8"/><circle cx="10.4" cy="69.7" r="0.8" fill="#c23296" fill-opacity="0.8"/><circle cx="66.9" cy="65.3" r="0.8" fill="#b24275" fill-opacity="0.8"/><circle cx="70.2" cy="20.7" r="0.9" fill="#ab407b" fill-opacity="0.8"/><circle cx="1.5" cy="17.5" r="0.9" fill="#b83d9a" fill-opacity="0.8"/><circle cx="92.9" cy="17.2" r="0.8" fill="#cc4a84" fill-opacity="0.8"/><circle cx="44.0" cy="56.0" r="0.6" fill="#bd429d" fill-opacity="0.8"/><circle cx="21.6" cy="47.2" r="0.6" fill="#ac3a93" fill-opacity="0.8"/><circle cx="60.1" cy="68.2" r="0.6" fill="#bf3b7f" fill-opacity="0.8"/><circle cx="87.0" cy="8.6" r="0.6" fill="#a74393" fill-opacity="0.8"/><circle cx="19.7" cy="66.2" r="0.8" fill="#af529d" fill-opacity="0.8"/><circle cx="28.4" cy="62.0" r="0.6" fill="#b637a2" fill-opacity="0.8"/><circle cx="27.0" cy="26.5" r="0.6" fill="#cd2c9d" fill-opacity="0.8"/><circle cx="31.1" cy="38.7" r="0.9" fill="#b23d92" fill-opacity="0.8"/><circle cx="54.0" cy="28.1" r="0.8" fill="#b42a73" fill-opacity="0.8"/><circle cx="56.8" cy="40.5" r="0.9" fill="#ac4489" fill-opacity="0.8"/><circle cx="48.9" cy="59.5" r="0.8" fill="#ba437a" fill-opacity="0.8"/><circle cx="82.7" cy="36.3" r="0.5" fill="#bd52a3" fill-opacity="0.8"/><circle cx="39.4" cy="17.6" r="1.0" fill="#b3237f" fill-opacity="0.8"/><circle cx="43.7" cy="47.8" r="0.5" fill="#b54784" fill-opacity="0.8"/><circle cx="15.0" cy="50.6" r="0.7" fill="#c73b9b" fill-opacity="0.8"/><circle cx="47.7" cy="70.2" r="0.9" fill="#c93b91" fill-opacity="0.8"/><circle cx="34.5" cy="3.6" r="0.9" fill="#cd499d" fill-opacity="0.8"/><circle cx="51.4" cy="71.6" r="0.7" fill="#d62785" fill-opacity="0.8"/><circle cx="53.4" cy="58.6" r="0.8" fill="#cc3594" fill-opacity="0.8"/><circle cx="75.3" cy="42.4" r="0.5" fill="#c52382" fill-opacity="0.8"/><circle cx="9.1" cy="54.5" r="0.6" fill="#c8267d" fill-opacity="0.8"/><circle cx="65.4" cy="66.4" r="0.5" fill="#c33692" fill-opacity="0.8"/><circle cx="5.5" cy="-0.8" r="0.5" fill="#d13b91" fill-opacity="0.8"/><circle cx="10.9" cy="48.8" r="1.0" fill="#ae4a9d" fill-opacity="0.8"/><circle cx="94.2" cy="39.9" r="0.8" fill="#b64a82" fill-opacity="0.8"/><circle cx="58.5" cy="44.4" r="1.0" fill="#cc277b" fill-opacity="0.8"/><circle cx="32.6" cy="27.3" r="0.9" fill="#b13e89" fill-opacity="0.8"/><circle cx="27.6" cy="45.5" r="0.7" fill="#d5299f" fill-opacity="0.8"/><circle cx="59.8" cy="32.0" r="0.5" fill="#c54b84" fill-opacity="0.8"/><circle cx="67.1" cy="37.3" r="0.5" fill="#cf328b" fill-opacity="0.8"/><circle cx="71.9" cy="62.8" r="0.9" fill="#b74d7a" fill-opacity="0.8"/><circle cx="51.5" cy="30.0" r="0.9" fill="#c9439b" fill-opacity="0.8"/><circle cx="31.7" cy="30.9" r="0.6" fill="#b62c97" fill-opacity="0.8"/><circle cx="10.6" cy="65.7" r="0.8" fill="#bb2889" fill-opacity="0.8"/><circle cx="52.7" cy="8.7" r="1.0" fill="#b73881" fill-opacity="0.8"/><circle cx="34.2" cy="18.5" r="0.9" fill="#a83590" fill-opacity="0.8"/><circle cx="44.5" cy="22.0" r="0.7" fill="#a83288" fill-opacity="0.8"/><circle cx="72.4" cy="29.8" r="0.7" fill="#c5308e" fill-opacity="0.8"/><circle cx="16.9" cy="43.7" r="0.8" fill="#c54e9a" fill-opacity="0.8"/><circle cx="93.9" cy="15.3" r="1.0" fill="#bb3589" fill-opacity="0.8"/><circle cx="87.4" cy="68.6" r="0.9" fill="#b4287d" fill-opacity="0.8"/><circle cx="63.2" cy="50.0" r="0.5" fill="#a55483" fill-opacity="0.8"/><circle cx="2.0" cy="32.4" r="0.5" fill="#cd3d91" fill-opacity="0.8"/><circle cx="87.9" cy="7.2" r="0.6" fill="#cc4188" fill-opacity="0.8"/><circle cx="32.5" cy="43.8" r="1.0" fill="#d450a3" fill-opacity="0.8"/><circle cx="10.8" cy="0.1" r="0.9" fill="#b13d8a" fill-opacity="0.8"/><circle cx="92.5" cy="30.8" r="0.6" fill="#af509b" fill-opacity="0.8"/><circle cx="11.6" cy="69.3" r="0.7" fill="#c93f9d" fill-opacity="0.8"/><circle cx="45.5" cy="0.2" r="0.8" fill="#cf379c" fill-opacity="0.8"/><circle cx="41.3" cy="24.6" r="0.7" fill="#b03ca2" fill-opacity="0.8"/><circle cx="55.3" cy="54.8" r="0.6" fill="#b74086" fill-opacity="0.8"/><circle cx="-1.2" cy="62.2" r="0.6" fill="#c55481" fill-opacity="0.8"/><circle cx="24.2" cy="22.5" r="0.8" fill="#d52a7f" fill-opacity="0.8"/><circle cx="84.9" cy="18.5" r="0.8" fill="#c92374" fill-opacity="0.8"/><circle cx="71.6" cy="66.0" r="0.8" fill="#bc288d" fill-opacity="0.8"/><circle cx="8.7" cy="22.0" r="0.5" fill="#be3a81" fill-opacity="0.8"/><circle cx="19.5" cy="2.9" r="0.5" fill="#ab5474" fill-opacity="0.8"/><circle cx="67.5" cy="31.7" r="0.8" fill="#b4549b" fill-opacity="0.8"/><circle cx="37.3" cy="29.9" r="1.0" fill="#ac4e91" fill-opacity="0.8"/><circle cx="53.0" cy="37.4" r="0.8" fill="#a92f84" fill-opacity="0.8"/><circle cx="19.5" cy="4.3" r="0.9" fill="#ba4886" fill-opacity="0.8"/><circle cx="89.3" cy="16.1" r="0.8" fill="#ba4a79" fill-opacity="0.8"/><circle cx="51.0" cy="31.6" r="0.8" fill="#b03ea4" fill-opacity="0.8"/><circle cx="8.0" cy="69.9" r="1.0" fill="#bb278b" fill-opacity="0.8"/><circle cx="91.4" cy="-1.9" r="0.9" fill="#cb2891" fill-opacity="0.8"/><circle cx="12.4" cy="5.4" r="0.8" fill="#b3438d" fill-opacity="0.8"/><circle cx="20.3" cy="66.1" r="0.5" fill="#cd319f" fill-opacity="0.8"/><circle cx="56.9" cy="31.9" r="0.6" fill="#cf4da3" fill-opacity="0.8"/><circle cx="55.2" cy="66.4" r="2.3" fill="#4c67d1" fill-opacity="0.85"/><circle cx="31.3" cy="58.2" r="2.0" fill="#547dd7" fill-opacity="0.85"/><circle cx="17.7" cy="22.8" r="1.7" fill="#3f60c4" fill-opacity="0.85"/><circle cx="75.0" cy="6.8" r="2.3" fill="#5678c2" fill-opacity="0.85"/><circle cx="26.2" cy="31.9" r="2.1" fill="#575abc" fill-opacity="0.85"/><circle cx="77.8" cy="-0.3" r="2.3" fill="#3981cb" fill-opacity="0.85"/><circle cx="56.8" cy="59.1" r="2.3" fill="#426cd8" fill-opacity="0.85"/><circle cx="22.9" cy="20.5" r="2.3" fill="#557bc6" fill-opacity="0.85"/><circle cx="31.3" cy="5.7" r="2.3" fill="#3361b9" fill-opacity="0.85"/><circle cx="42.4" cy="71.7" r="1.7" fill="#3c64d5" fill-opacity="0.85"/><circle cx="32.6" cy="10.9" r="2.2" fill="#5660bb" fill-opacity="0.85"/><circle cx="37.5" cy="67.2" r="1.6" fill="#3773d7" fill-opacity="0.85"/><circle cx="41.8" cy="1.3" r="2.0" fill="#355cbb" fill-opacity="0.85"/><circle cx="88.9" cy="5.6" r="2.0" fill="#5262c8" fill-opacity="0.85"/><circle cx="75.0" cy="39.8" r="1.8" fill="#4781d9" fill-opacity="0.85"/><circle cx="91.4" cy="-0.3" r="1.6" fill="#465adf" fill-opacity="0.85"/><circle cx="26.3" cy="38.7" r="2.3" fill="#4378bf" fill-opacity="0.85"/><circle cx="41.2" cy="51.8" r="2.0" fill="#397cc7" fill-opacity="0.85"/><circle cx="86.5" cy="21.3" r="2.3" fill="#3674df" fill-opacity="0.85"/><circle cx="58.9" cy="28.6" r="2.4" fill="#587ac1" fill-opacity="0.85"/><circle cx="6.7" cy="43.4" r="1.7" fill="#3470de" fill-opacity="0.85"/><circle cx="24.3" cy="58.8" r="2.4" fill="#575dbe" fill-opacity="0.85"/><circle cx="90.7" cy="69.4" r="1.7" fill="#3976bc" fill-opacity="0.85"/><circle cx="8.1" cy="9.8" r="2.1" fill="#407bbf" fill-opacity="0.85"/><circle cx="85.0" cy="56.3" r="1.9" fill="#4a75bd" fill-opacity="0.85"/><circle cx="88.4" cy="30.6" r="2.0" fill="#545ac3" fill-opacity="0.85"/><circle cx="1.0" cy="52.5" r="1.8" fill="#4e76e0" fill-opacity="0.85"/><circle cx="15.5" cy="28.6" r="2.2" fill="#4361d3" fill-opacity="0.85"/><circle cx="75.1" cy="31.1" r="1.9" fill="#376ada" fill-opacity="0.85"/><circle cx="32.4" cy="68.6" r="1.9" fill="#4579dd" fill-opacity="0.85"/><circle cx="79.9" cy="29.2" r="2.0" fill="#376fd9" fill-opacity="0.85"/><circle cx="16.5" cy="21.3" r="1.7" fill="#446de0" fill-opacity="0.85"/><circle cx="63.0" cy="65.9" r="1.8" fill="#4376bb" fill-opacity="0.85"/><circle cx="53.4" cy="44.3" r="1.6" fill="#3a79bf" fill-opacity="0.85"/><circle cx="59.9" cy="29.2" r="1.9" fill="#5569dc" fill-opacity="0.85"/><circle cx="77.6" cy="39.0" r="1.7" fill="#3f80c3" fill-opacity="0.85"/><circle cx="55.3" cy="12.9" r="2.2" fill="#4d7dd0" fill-opacity="0.85"/><circle cx="8.7" cy="56.9" r="2.1" fill="#576ec5" fill-opacity="0.85"/><circle cx="41.0" cy="39.5" r="2.2" fill="#4b7cce" fill-opacity="0.85"/><circle cx="17.9" cy="61.6" r="2.2" fill="#386cdb" fill-opacity="0.85"/><circle cx="54.0" cy="7.0" r="2.3" fill="#4f61d4" fill-opacity="0.85"/><circle cx="81.8" cy="40.6" r="2.4" fill="#475ad3" fill-opacity="0.85"/><circle cx="78.5" cy="65.8" r="2.2" fill="#577acb" fill-opacity="0.85"/><circle cx="3.9" cy="10.4" r="1.6" fill="#577add" fill-opacity="0.85"/><circle cx="73.4" cy="31.6" r="2.1" fill="#3360c9" fill-opacity="0.85"/><circle cx="3.2" cy="21.6" r="2.0" fill="#3861bc" fill-opacity="0.85"/><circle cx="42.3" cy="59.9" r="2.0" fill="#4e76d9" fill-opacity="0.85"/><circle cx="75.2" cy="35.0" r="1.6" fill="#3865c6" fill-opacity="0.85"/><circle cx="56.1" cy="34.8" r="1.8" fill="#3877e0" fill-opacity="0.85"/><circle cx="66.1" cy="8.4" r="2.2" fill="#516fd2" fill-opacity="0.85"/><circle cx="81.6" cy="33.4" r="2.2" fill="#387bcf" fill-opacity="0.85"/><circle cx="16.5" cy="44.2" r="2.3" fill="#4366d5" fill-opacity="0.85"/><circle cx="94.5" cy="69.1" r="1.8" fill="#4569be" fill-opacity="0.85"/><circle cx="51.0" cy="19.3" r="2.0" fill="#5370e0" fill-opacity="0.85"/><circle cx="17.7" cy="11.7" r="1.7" fill="#4e65c1" fill-opacity="0.85"/><circle cx="59.8" cy="71.1" r="2.2" fill="#587fce" fill-opacity="0.85"/><circle cx="19.3" cy="54.6" r="1.8" fill="#3468d6" fill-opacity="0.85"/><circle cx="59.4" cy="28.4" r="1.7" fill="#3872cc" fill-opacity="0.85"/><circle cx="50.6" cy="53.0" r="2.1" fill="#547ecd" fill-opacity="0.85"/><circle cx="33.0" cy="35.3" r="1.8" fill="#3976ca" fill-opacity="0.85"/><circle cx="0.2" cy="27.1" r="1.9" fill="#345ad1" fill-opacity="0.85"/><circle cx="76.1" cy="60.1" r="2.1" fill="#3b73c3" fill-opacity="0.85"/><circle cx="20.4" cy="22.3" r="2.2" fill="#b34f7b" fill-opacity="0.5"/><circle cx="92.2" cy="49.2" r="3.1" fill="#b34380" fill-opacity="0.5"/><circle cx="47.3" cy="31.6" r="3.4" fill="#b3288f" fill-opacity="0.5"/><circle cx="48.9" cy="46.0" r="2.1" fill="#bd448f" fill-opacity="0.5"/><circle cx="28.7" cy="-1.4" r="2.1" fill="#d2327a" fill-opacity="0.5"/><circle cx="26.3" cy="13.6" r="2.8" fill="#b03d91" fill-opacity="0.5"/><circle cx="50.0" cy="42.2" r="2.4" fill="#be4583" fill-opacity="0.5"/><circle cx="78.1" cy="12.0" r="2.7" fill="#d24283" fill-opacity="0.5"/><circle cx="33.5" cy="18.9" r="3.1" fill="#bd4993" fill-opacity="0.5"/><circle cx="78.6" cy="37.3" r="2.4" fill="#ca397a" fill-opacity="0.5"/></g></svg>
<svg x="388" y="122" width="94" height="70" overflow="hidden"><g filter="url(#soft)"><rect x="-3" y="-3" width="100" height="76" fill="#ceaed8"/><rect width="94" height="70" filter="url(#wA)" opacity="0.7"/><line x1="80.6" y1="8.6" x2="99.6" y2="11.0" stroke="#f6f0f4" stroke-width="2.6" stroke-opacity="0.8" stroke-linecap="round"/><line x1="13.0" y1="4.4" x2="21.7" y2="12.5" stroke="#f6f0f4" stroke-width="2.6" stroke-opacity="0.8" stroke-linecap="round"/><line x1="80.8" y1="11.2" x2="86.5" y2="21.3" stroke="#f6f0f4" stroke-width="2.6" stroke-opacity="0.8" stroke-linecap="round"/><line x1="50.0" y1="58.8" x2="63.0" y2="71.7" stroke="#f6f0f4" stroke-width="2.6" stroke-opacity="0.8" stroke-linecap="round"/><line x1="62.5" y1="-2.7" x2="70.6" y2="9.5" stroke="#f6f0f4" stroke-width="2.6" stroke-opacity="0.8" stroke-linecap="round"/><line x1="25.0" y1="7.4" x2="33.4" y2="19.2" stroke="#f6f0f4" stroke-width="2.6" stroke-opacity="0.8" stroke-linecap="round"/><line x1="84.7" y1="47.9" x2="91.7" y2="60.4" stroke="#f6f0f4" stroke-width="2.6" stroke-opacity="0.8" stroke-linecap="round"/><line x1="56.9" y1="39.6" x2="74.4" y2="46.1" stroke="#f6f0f4" stroke-width="2.6" stroke-opacity="0.8" stroke-linecap="round"/><line x1="25.6" y1="48.0" x2="33.1" y2="61.3" stroke="#f6f0f4" stroke-width="2.6" stroke-opacity="0.8" stroke-linecap="round"/><line x1="9.7" y1="54.3" x2="17.0" y2="61.3" stroke="#f6f0f4" stroke-width="2.6" stroke-opacity="0.8" stroke-linecap="round"/><line x1="-4.5" y1="36.0" x2="13.7" y2="38.4" stroke="#f6f0f4" stroke-width="2.6" stroke-opacity="0.8" stroke-linecap="round"/><line x1="40.9" y1="32.5" x2="54.3" y2="40.0" stroke="#f6f0f4" stroke-width="2.6" stroke-opacity="0.8" stroke-linecap="round"/><line x1="79.7" y1="18.2" x2="92.6" y2="24.8" stroke="#f6f0f4" stroke-width="2.6" stroke-opacity="0.8" stroke-linecap="round"/><line x1="22.8" y1="37.8" x2="33.1" y2="45.5" stroke="#f6f0f4" stroke-width="2.6" stroke-opacity="0.8" stroke-linecap="round"/><line x1="53.9" y1="35.2" x2="72.7" y2="38.8" stroke="#f6f0f4" stroke-width="2.6" stroke-opacity="0.8" stroke-linecap="round"/><line x1="25.4" y1="25.8" x2="41.5" y2="34.7" stroke="#f6f0f4" stroke-width="2.6" stroke-opacity="0.8" stroke-linecap="round"/><line x1="85.5" y1="33.7" x2="93.5" y2="38.0" stroke="#f6f0f4" stroke-width="2.6" stroke-opacity="0.8" stroke-linecap="round"/><line x1="79.4" y1="8.4" x2="88.9" y2="15.6" stroke="#f6f0f4" stroke-width="2.6" stroke-opacity="0.8" stroke-linecap="round"/><circle cx="30.2" cy="24.4" r="0.6" fill="#a13895" fill-opacity="0.8"/><circle cx="61.4" cy="12.9" r="0.8" fill="#a23297" fill-opacity="0.8"/><circle cx="88.3" cy="32.1" r="0.9" fill="#b8388b" fill-opacity="0.8"/><circle cx="95.1" cy="53.0" r="0.7" fill="#c43e7f" fill-opacity="0.8"/><circle cx="74.8" cy="58.7" r="0.8" fill="#cf1e87" fill-opacity="0.8"/><circle cx="60.2" cy="23.2" r="0.6" fill="#c2337b" fill-opacity="0.8"/><circle cx="2.1" cy="69.6" r="0.7" fill="#a5287a" fill-opacity="0.8"/><circle cx="82.9" cy="11.4" r="0.6" fill="#a43578" fill-opacity="0.8"/><circle cx="31.7" cy="52.4" r="1.0" fill="#c91f80" fill-opacity="0.8"/><circle cx="81.2" cy="0.4" r="0.6" fill="#b83193" fill-opacity="0.8"/><circle cx="68.4" cy="32.4" r="0.6" fill="#ab2b71" fill-opacity="0.8"/><circle cx="63.2" cy="9.7" r="0.9" fill="#c02086" fill-opacity="0.8"/><circle cx="57.2" cy="1.1" r="0.7" fill="#a1446e" fill-opacity="0.8"/><circle cx="59.9" cy="70.9" r="0.9" fill="#ab3874" fill-opacity="0.8"/><circle cx="31.5" cy="61.9" r="0.9" fill="#a0308e" fill-opacity="0.8"/><circle cx="15.2" cy="57.4" r="0.9" fill="#bb3098" fill-opacity="0.8"/><circle cx="48.3" cy="11.9" r="0.6" fill="#a74787" fill-opacity="0.8"/><circle cx="66.3" cy="58.5" r="1.0" fill="#a93299" fill-opacity="0.8"/><circle cx="72.6" cy="26.6" r="0.8" fill="#a92670" fill-opacity="0.8"/><circle cx="35.2" cy="15.5" r="0.8" fill="#d02589" fill-opacity="0.8"/><circle cx="82.7" cy="42.3" r="0.8" fill="#c61f9d" fill-opacity="0.8"/><circle cx="65.3" cy="57.7" r="0.9" fill="#a42176" fill-opacity="0.8"/><circle cx="47.5" cy="67.4" r="1.0" fill="#b43d92" fill-opacity="0.8"/><circle cx="30.6" cy="69.8" r="1.0" fill="#c44b96" fill-opacity="0.8"/><circle cx="61.9" cy="21.8" r="0.6" fill="#ab209c" fill-opacity="0.8"/><circle cx="27.2" cy="-0.2" r="0.7" fill="#a5347e" fill-opacity="0.8"/><circle cx="15.2" cy="33.3" r="0.7" fill="#b1467d" fill-opacity="0.8"/><circle cx="51.0" cy="63.0" r="1.0" fill="#b2209d" fill-opacity="0.8"/><circle cx="48.4" cy="14.1" r="0.6" fill="#ab2d74" fill-opacity="0.8"/><circle cx="2.8" cy="71.6" r="0.9" fill="#a53696" fill-opacity="0.8"/><circle cx="47.4" cy="3.1" r="0.7" fill="#b34b8b" fill-opacity="0.8"/><circle cx="43.0" cy="44.7" r="0.5" fill="#c2468f" fill-opacity="0.8"/><circle cx="33.4" cy="19.2" r="0.5" fill="#a42584" fill-opacity="0.8"/><circle cx="74.3" cy="14.1" r="0.7" fill="#bf3d6f" fill-opacity="0.8"/><circle cx="88.2" cy="41.3" r="0.7" fill="#ab409c" fill-opacity="0.8"/><circle cx="31.1" cy="27.5" r="0.8" fill="#a8329b" fill-opacity="0.8"/><circle cx="52.5" cy="58.9" r="0.6" fill="#cb4579" fill-opacity="0.8"/><circle cx="49.9" cy="48.5" r="0.8" fill="#be2a89" fill-opacity="0.8"/><circle cx="32.7" cy="57.0" r="0.7" fill="#d03b79" fill-opacity="0.8"/><circle cx="38.7" cy="7.5" r="0.9" fill="#a23c7d" fill-opacity="0.8"/><circle cx="74.2" cy="7.4" r="0.8" fill="#c32974" fill-opacity="0.8"/><circle cx="34.5" cy="46.0" r="0.6" fill="#a03496" fill-opacity="0.8"/><circle cx="13.5" cy="67.6" r="0.8" fill="#a82380" fill-opacity="0.8"/><circle cx="44.7" cy="11.0" r="0.5" fill="#b92a84" fill-opacity="0.8"/><circle cx="42.2" cy="49.6" r="0.8" fill="#ab2698" fill-opacity="0.8"/><circle cx="2.9" cy="7.1" r="0.5" fill="#c9399c" fill-opacity="0.8"/><circle cx="59.4" cy="22.8" r="0.7" fill="#c42996" fill-opacity="0.8"/><circle cx="37.9" cy="1.1" r="0.7" fill="#bc259b" fill-opacity="0.8"/><circle cx="88.8" cy="35.8" r="1.0" fill="#c23875" fill-opacity="0.8"/><circle cx="91.4" cy="66.1" r="0.7" fill="#b3218c" fill-opacity="0.8"/><circle cx="81.8" cy="26.8" r="0.6" fill="#be4576" fill-opacity="0.8"/><circle cx="25.7" cy="45.5" r="0.5" fill="#c82d97" fill-opacity="0.8"/><circle cx="42.6" cy="10.3" r="0.5" fill="#a52b93" fill-opacity="0.8"/><circle cx="75.8" cy="44.7" r="0.7" fill="#c14280" fill-opacity="0.8"/><circle cx="6.0" cy="32.7" r="0.6" fill="#a93171" fill-opacity="0.8"/><circle cx="86.0" cy="18.8" r="0.9" fill="#c41e9a" fill-opacity="0.8"/><circle cx="77.3" cy="36.9" r="0.9" fill="#b71f75" fill-opacity="0.8"/><circle cx="28.4" cy="61.5" r="0.9" fill="#a52f73" fill-opacity="0.8"/><circle cx="20.4" cy="24.1" r="0.7" fill="#a73e7a" fill-opacity="0.8"/><circle cx="85.2" cy="33.6" r="0.7" fill="#c62f7a" fill-opacity="0.8"/><circle cx="10.0" cy="19.8" r="0.6" fill="#c42f91" fill-opacity="0.8"/><circle cx="25.0" cy="3.2" r="0.7" fill="#b34b77" fill-opacity="0.8"/><circle cx="18.7" cy="9.5" r="0.6" fill="#d04c79" fill-opacity="0.8"/><circle cx="2.9" cy="34.0" r="0.8" fill="#a53294" fill-opacity="0.8"/><circle cx="-1.9" cy="51.2" r="0.8" fill="#c73685" fill-opacity="0.8"/><circle cx="48.8" cy="8.1" r="0.8" fill="#ab2e70" fill-opacity="0.8"/><circle cx="13.5" cy="2.1" r="0.8" fill="#ab3987" fill-opacity="0.8"/><circle cx="20.8" cy="7.4" r="0.8" fill="#c14087" fill-opacity="0.8"/><circle cx="54.8" cy="-0.2" r="0.7" fill="#c83073" fill-opacity="0.8"/><circle cx="39.2" cy="59.7" r="0.5" fill="#a53699" fill-opacity="0.8"/><circle cx="36.3" cy="16.4" r="0.9" fill="#a42c8b" fill-opacity="0.8"/><circle cx="81.2" cy="61.7" r="0.7" fill="#ad3074" fill-opacity="0.8"/><circle cx="24.7" cy="54.7" r="1.0" fill="#ad2192" fill-opacity="0.8"/><circle cx="92.7" cy="56.8" r="0.7" fill="#c54493" fill-opacity="0.8"/><circle cx="46.3" cy="71.9" r="0.9" fill="#ab3372" fill-opacity="0.8"/><circle cx="34.7" cy="58.5" r="0.7" fill="#ba4472" fill-opacity="0.8"/><circle cx="32.7" cy="33.8" r="0.7" fill="#c24c96" fill-opacity="0.8"/><circle cx="51.5" cy="48.6" r="0.8" fill="#d13b8b" fill-opacity="0.8"/><circle cx="36.8" cy="29.0" r="0.9" fill="#b24b92" fill-opacity="0.8"/><circle cx="91.6" cy="50.3" r="0.8" fill="#b21e8f" fill-opacity="0.8"/><circle cx="71.6" cy="51.5" r="0.9" fill="#a1407b" fill-opacity="0.8"/><circle cx="36.1" cy="62.3" r="0.7" fill="#b72077" fill-opacity="0.8"/><circle cx="18.6" cy="13.9" r="0.8" fill="#a22272" fill-opacity="0.8"/><circle cx="69.9" cy="69.8" r="0.9" fill="#b92495" fill-opacity="0.8"/><circle cx="10.7" cy="3.7" r="0.8" fill="#cb2d99" fill-opacity="0.8"/><circle cx="30.6" cy="69.5" r="0.9" fill="#cb4f96" fill-opacity="0.8"/><circle cx="17.2" cy="36.2" r="0.8" fill="#c4298a" fill-opacity="0.8"/><circle cx="25.8" cy="11.6" r="0.7" fill="#c8397f" fill-opacity="0.8"/><circle cx="20.1" cy="24.6" r="0.7" fill="#ad2d79" fill-opacity="0.8"/><circle cx="26.8" cy="47.8" r="0.8" fill="#bf4c8f" fill-opacity="0.8"/><circle cx="10.7" cy="27.9" r="0.8" fill="#c53872" fill-opacity="0.8"/><circle cx="44.6" cy="46.5" r="0.9" fill="#b6286f" fill-opacity="0.8"/><circle cx="47.3" cy="53.5" r="0.6" fill="#ba3b89" fill-opacity="0.8"/><circle cx="20.7" cy="4.8" r="0.5" fill="#af4a82" fill-opacity="0.8"/><circle cx="94.7" cy="59.0" r="0.8" fill="#b53a97" fill-opacity="0.8"/><circle cx="30.8" cy="9.6" r="0.9" fill="#bf3081" fill-opacity="0.8"/><circle cx="7.9" cy="40.0" r="0.9" fill="#b84092" fill-opacity="0.8"/><circle cx="30.4" cy="45.2" r="1.0" fill="#c3278f" fill-opacity="0.8"/><circle cx="61.2" cy="55.4" r="0.9" fill="#cd4e78" fill-opacity="0.8"/><circle cx="45.0" cy="1.4" r="1.0" fill="#a5338c" fill-opacity="0.8"/><circle cx="40.1" cy="10.7" r="0.8" fill="#ab3691" fill-opacity="0.8"/><circle cx="27.3" cy="31.0" r="0.8" fill="#ba469a" fill-opacity="0.8"/><circle cx="92.8" cy="10.2" r="0.7" fill="#a54081" fill-opacity="0.8"/><circle cx="81.3" cy="33.8" r="0.9" fill="#a13c82" fill-opacity="0.8"/><circle cx="79.6" cy="5.6" r="0.5" fill="#c22e83" fill-opacity="0.8"/><circle cx="37.6" cy="70.9" r="0.8" fill="#c94798" fill-opacity="0.8"/><circle cx="41.8" cy="19.5" r="0.8" fill="#cc4a85" fill-opacity="0.8"/><circle cx="86.9" cy="54.4" r="0.5" fill="#bf4570" fill-opacity="0.8"/><circle cx="35.0" cy="45.8" r="0.8" fill="#ba227b" fill-opacity="0.8"/><circle cx="83.1" cy="23.8" r="0.7" fill="#bd2c82" fill-opacity="0.8"/><circle cx="47.5" cy="62.3" r="0.9" fill="#a83793" fill-opacity="0.8"/><circle cx="85.9" cy="37.3" r="0.8" fill="#c03f9a" fill-opacity="0.8"/><circle cx="94.6" cy="71.4" r="0.6" fill="#c3317b" fill-opacity="0.8"/><circle cx="7.8" cy="65.4" r="0.9" fill="#ba3678" fill-opacity="0.8"/><circle cx="88.9" cy="54.0" r="0.6" fill="#bc4f7b" fill-opacity="0.8"/><circle cx="34.6" cy="24.9" r="0.7" fill="#a53d7a" fill-opacity="0.8"/><circle cx="64.7" cy="32.6" r="0.9" fill="#c54875" fill-opacity="0.8"/><circle cx="75.9" cy="55.3" r="0.6" fill="#a02294" fill-opacity="0.8"/><circle cx="92.9" cy="3.0" r="0.6" fill="#b4218e" fill-opacity="0.8"/><circle cx="82.1" cy="60.3" r="0.6" fill="#cd4575" fill-opacity="0.8"/><circle cx="81.6" cy="66.9" r="0.9" fill="#c54688" fill-opacity="0.8"/><circle cx="-1.1" cy="48.2" r="0.7" fill="#a7249a" fill-opacity="0.8"/><circle cx="86.6" cy="1.8" r="0.5" fill="#c22c99" fill-opacity="0.8"/><circle cx="43.3" cy="50.7" r="0.5" fill="#c62783" fill-opacity="0.8"/><circle cx="45.6" cy="22.0" r="0.6" fill="#b62075" fill-opacity="0.8"/><circle cx="10.8" cy="61.2" r="0.7" fill="#d14b76" fill-opacity="0.8"/><circle cx="81.9" cy="71.0" r="0.7" fill="#b83f86" fill-opacity="0.8"/><circle cx="23.8" cy="52.2" r="0.6" fill="#b31f7e" fill-opacity="0.8"/><circle cx="77.0" cy="8.2" r="0.6" fill="#b32c6e" fill-opacity="0.8"/><circle cx="3.3" cy="12.9" r="0.9" fill="#c64690" fill-opacity="0.8"/><circle cx="95.8" cy="17.1" r="0.9" fill="#b64e84" fill-opacity="0.8"/><circle cx="68.9" cy="55.4" r="1.0" fill="#c62e8e" fill-opacity="0.8"/><circle cx="76.1" cy="67.5" r="0.6" fill="#c44275" fill-opacity="0.8"/><circle cx="9.7" cy="39.6" r="0.8" fill="#b03c75" fill-opacity="0.8"/><circle cx="54.1" cy="37.6" r="0.9" fill="#c42189" fill-opacity="0.8"/><circle cx="10.4" cy="37.0" r="0.8" fill="#c31e88" fill-opacity="0.8"/><circle cx="15.1" cy="35.5" r="0.7" fill="#b8447c" fill-opacity="0.8"/><circle cx="44.7" cy="16.2" r="0.6" fill="#bf2595" fill-opacity="0.8"/><circle cx="34.7" cy="6.4" r="0.9" fill="#a12c8e" fill-opacity="0.8"/><circle cx="-0.4" cy="49.9" r="0.8" fill="#d02d97" fill-opacity="0.8"/><circle cx="94.1" cy="34.9" r="0.5" fill="#b1466e" fill-opacity="0.8"/><circle cx="60.1" cy="36.5" r="0.9" fill="#b24c73" fill-opacity="0.8"/><circle cx="38.8" cy="20.6" r="0.8" fill="#aa3184" fill-opacity="0.8"/><circle cx="88.4" cy="0.1" r="0.6" fill="#a74194" fill-opacity="0.8"/><circle cx="-0.4" cy="55.9" r="0.9" fill="#b73b95" fill-opacity="0.8"/><circle cx="88.9" cy="14.7" r="0.9" fill="#a3309b" fill-opacity="0.8"/><circle cx="59.5" cy="37.5" r="0.7" fill="#b61f8a" fill-opacity="0.8"/><circle cx="90.2" cy="6.8" r="0.5" fill="#bf4783" fill-opacity="0.8"/><circle cx="6.2" cy="45.7" r="0.8" fill="#ab4689" fill-opacity="0.8"/><circle cx="75.1" cy="15.4" r="0.7" fill="#c13f98" fill-opacity="0.8"/><circle cx="90.4" cy="51.3" r="0.5" fill="#b73f94" fill-opacity="0.8"/><circle cx="28.8" cy="2.5" r="0.8" fill="#a93779" fill-opacity="0.8"/><circle cx="84.1" cy="0.2" r="0.8" fill="#cb3e75" fill-opacity="0.8"/><circle cx="51.7" cy="59.1" r="0.8" fill="#cd4681" fill-opacity="0.8"/><circle cx="10.1" cy="49.1" r="0.7" fill="#c83491" fill-opacity="0.8"/><circle cx="12.1" cy="53.9" r="0.9" fill="#c8448f" fill-opacity="0.8"/><circle cx="14.7" cy="22.4" r="0.6" fill="#ae3b80" fill-opacity="0.8"/><circle cx="62.5" cy="63.9" r="1.0" fill="#a03c8a" fill-opacity="0.8"/><circle cx="40.4" cy="52.4" r="0.9" fill="#ac3d75" fill-opacity="0.8"/><circle cx="41.1" cy="24.2" r="0.9" fill="#cd4988" fill-opacity="0.8"/><circle cx="67.6" cy="46.2" r="0.8" fill="#a62b9d" fill-opacity="0.8"/><circle cx="56.3" cy="6.5" r="0.7" fill="#a62481" fill-opacity="0.8"/><circle cx="26.6" cy="-0.6" r="0.7" fill="#ce3581" fill-opacity="0.8"/><circle cx="35.4" cy="17.7" r="0.7" fill="#a9339b" fill-opacity="0.8"/><circle cx="33.8" cy="63.1" r="0.7" fill="#bf3681" fill-opacity="0.8"/><circle cx="84.8" cy="41.7" r="0.6" fill="#af318a" fill-opacity="0.8"/><circle cx="35.0" cy="17.7" r="0.7" fill="#d14299" fill-opacity="0.8"/><circle cx="85.7" cy="8.5" r="0.8" fill="#c43688" fill-opacity="0.8"/><circle cx="60.0" cy="44.8" r="0.6" fill="#a22b6f" fill-opacity="0.8"/><circle cx="28.3" cy="0.9" r="0.6" fill="#c02791" fill-opacity="0.8"/><circle cx="39.1" cy="59.9" r="0.8" fill="#cb3382" fill-opacity="0.8"/><circle cx="89.0" cy="48.7" r="0.7" fill="#cb428e" fill-opacity="0.8"/><circle cx="0.7" cy="63.8" r="0.6" fill="#a02e77" fill-opacity="0.8"/><circle cx="21.6" cy="33.9" r="0.8" fill="#c24990" fill-opacity="0.8"/><circle cx="82.9" cy="29.9" r="0.6" fill="#c34f76" fill-opacity="0.8"/><circle cx="58.2" cy="26.6" r="1.0" fill="#a1357f" fill-opacity="0.8"/><circle cx="34.2" cy="53.0" r="0.5" fill="#ad4e84" fill-opacity="0.8"/><circle cx="-0.7" cy="43.8" r="0.8" fill="#ce4a9d" fill-opacity="0.8"/><circle cx="23.9" cy="21.5" r="0.8" fill="#b1306f" fill-opacity="0.8"/><circle cx="17.4" cy="7.9" r="0.7" fill="#c3277c" fill-opacity="0.8"/><circle cx="6.1" cy="28.1" r="0.8" fill="#be3e88" fill-opacity="0.8"/><circle cx="66.2" cy="57.3" r="0.9" fill="#a04c85" fill-opacity="0.8"/><circle cx="95.3" cy="54.4" r="0.7" fill="#a22294" fill-opacity="0.8"/><circle cx="-1.3" cy="1.7" r="0.8" fill="#be3f71" fill-opacity="0.8"/><circle cx="91.9" cy="53.4" r="0.5" fill="#bc2e79" fill-opacity="0.8"/><circle cx="58.2" cy="70.7" r="0.5" fill="#c84c72" fill-opacity="0.8"/><circle cx="85.9" cy="-0.9" r="0.7" fill="#a12676" fill-opacity="0.8"/><circle cx="53.0" cy="30.2" r="1.0" fill="#c52171" fill-opacity="0.8"/><circle cx="25.3" cy="58.3" r="0.9" fill="#c94992" fill-opacity="0.8"/><circle cx="52.8" cy="60.3" r="0.9" fill="#c84988" fill-opacity="0.8"/><circle cx="6.5" cy="44.2" r="0.9" fill="#cf439a" fill-opacity="0.8"/><circle cx="87.4" cy="22.3" r="1.0" fill="#bc3384" fill-opacity="0.8"/><circle cx="46.7" cy="28.7" r="0.9" fill="#ac338e" fill-opacity="0.8"/><circle cx="93.1" cy="52.1" r="0.8" fill="#b23f9c" fill-opacity="0.8"/><circle cx="-0.3" cy="26.6" r="0.6" fill="#c63f6e" fill-opacity="0.8"/><circle cx="85.9" cy="28.2" r="0.6" fill="#a4217a" fill-opacity="0.8"/><circle cx="6.0" cy="50.2" r="0.6" fill="#b53e84" fill-opacity="0.8"/><circle cx="26.6" cy="31.5" r="0.7" fill="#bc3b7d" fill-opacity="0.8"/><circle cx="64.7" cy="61.2" r="1.0" fill="#be2c6e" fill-opacity="0.8"/><circle cx="40.1" cy="71.2" r="1.0" fill="#c32778" fill-opacity="0.8"/><circle cx="13.2" cy="30.0" r="1.0" fill="#aa4689" fill-opacity="0.8"/><circle cx="24.2" cy="31.6" r="0.5" fill="#bf4b7e" fill-opacity="0.8"/><circle cx="93.0" cy="19.4" r="0.7" fill="#c2286f" fill-opacity="0.8"/><circle cx="47.0" cy="34.3" r="0.6" fill="#a82377" fill-opacity="0.8"/><circle cx="12.7" cy="46.1" r="0.9" fill="#bd2989" fill-opacity="0.8"/><circle cx="91.6" cy="24.6" r="0.9" fill="#a04498" fill-opacity="0.8"/><circle cx="51.2" cy="64.3" r="0.8" fill="#c73681" fill-opacity="0.8"/><circle cx="24.6" cy="39.5" r="0.9" fill="#a13f6f" fill-opacity="0.8"/><circle cx="61.1" cy="51.0" r="1.0" fill="#c03e90" fill-opacity="0.8"/><circle cx="64.0" cy="49.3" r="0.8" fill="#ca2f9d" fill-opacity="0.8"/><circle cx="16.9" cy="1.3" r="0.5" fill="#bb4874" fill-opacity="0.8"/><circle cx="84.8" cy="34.9" r="0.8" fill="#a84f85" fill-opacity="0.8"/><circle cx="21.5" cy="44.1" r="0.5" fill="#c04774" fill-opacity="0.8"/><circle cx="22.8" cy="18.3" r="0.6" fill="#bf4684" fill-opacity="0.8"/><circle cx="66.1" cy="65.1" r="0.9" fill="#b24a77" fill-opacity="0.8"/><circle cx="78.7" cy="4.3" r="0.7" fill="#a53a73" fill-opacity="0.8"/><circle cx="57.5" cy="10.3" r="0.8" fill="#b82d75" fill-opacity="0.8"/><circle cx="72.2" cy="12.3" r="0.7" fill="#cd4a92" fill-opacity="0.8"/><circle cx="60.5" cy="60.4" r="0.9" fill="#c94382" fill-opacity="0.8"/><circle cx="72.2" cy="27.2" r="0.8" fill="#a1258f" fill-opacity="0.8"/><circle cx="6.4" cy="5.3" r="0.9" fill="#cc4e95" fill-opacity="0.8"/><circle cx="27.4" cy="42.8" r="0.8" fill="#a4258c" fill-opacity="0.8"/><circle cx="39.5" cy="40.6" r="1.0" fill="#a3259e" fill-opacity="0.8"/><circle cx="9.4" cy="25.3" r="0.8" fill="#ad3176" fill-opacity="0.8"/><circle cx="77.3" cy="14.7" r="0.9" fill="#b63771" fill-opacity="0.8"/><circle cx="84.8" cy="-0.9" r="0.9" fill="#a03184" fill-opacity="0.8"/><circle cx="57.9" cy="17.6" r="1.0" fill="#b12892" fill-opacity="0.8"/><circle cx="62.5" cy="42.9" r="1.0" fill="#cc2d9a" fill-opacity="0.8"/><circle cx="85.4" cy="2.1" r="0.8" fill="#cb327e" fill-opacity="0.8"/><circle cx="45.6" cy="60.5" r="0.5" fill="#c0419d" fill-opacity="0.8"/><circle cx="61.4" cy="17.8" r="0.8" fill="#c42495" fill-opacity="0.8"/><circle cx="56.8" cy="41.7" r="0.8" fill="#be2575" fill-opacity="0.8"/><circle cx="-1.7" cy="21.5" r="0.6" fill="#bd2274" fill-opacity="0.8"/><circle cx="48.8" cy="56.2" r="0.7" fill="#a24c89" fill-opacity="0.8"/><circle cx="87.6" cy="53.6" r="1.0" fill="#c94399" fill-opacity="0.8"/><circle cx="64.0" cy="70.0" r="1.0" fill="#a8359d" fill-opacity="0.8"/><circle cx="64.4" cy="43.8" r="0.7" fill="#a4336e" fill-opacity="0.8"/><circle cx="14.3" cy="32.0" r="0.7" fill="#bf3b94" fill-opacity="0.8"/><circle cx="53.7" cy="56.8" r="0.5" fill="#b74d93" fill-opacity="0.8"/><circle cx="79.6" cy="69.8" r="0.6" fill="#b84a7e" fill-opacity="0.8"/><circle cx="48.6" cy="11.9" r="1.7" fill="#5672d3" fill-opacity="0.85"/><circle cx="85.7" cy="39.2" r="2.3" fill="#5167c6" fill-opacity="0.85"/><circle cx="18.0" cy="30.6" r="2.3" fill="#337abc" fill-opacity="0.85"/><circle cx="47.5" cy="20.0" r="1.6" fill="#4a5cc4" fill-opacity="0.85"/><circle cx="79.7" cy="31.4" r="1.9" fill="#3755d4" fill-opacity="0.85"/><circle cx="45.6" cy="20.5" r="2.2" fill="#475eda" fill-opacity="0.85"/><circle cx="38.2" cy="22.6" r="2.4" fill="#4267d5" fill-opacity="0.85"/><circle cx="61.5" cy="16.5" r="1.6" fill="#345ad1" fill-opacity="0.85"/><circle cx="34.7" cy="37.3" r="1.8" fill="#337cce" fill-opacity="0.85"/><circle cx="65.5" cy="44.6" r="1.6" fill="#5277bd" fill-opacity="0.85"/><circle cx="82.1" cy="69.3" r="1.7" fill="#5656d1" fill-opacity="0.85"/><circle cx="93.7" cy="8.5" r="2.0" fill="#326ab6" fill-opacity="0.85"/><circle cx="46.2" cy="11.9" r="1.8" fill="#4c5eba" fill-opacity="0.85"/><circle cx="26.1" cy="26.0" r="2.1" fill="#496ccf" fill-opacity="0.85"/><circle cx="24.6" cy="48.3" r="1.7" fill="#356bcd" fill-opacity="0.85"/><circle cx="25.1" cy="70.8" r="1.7" fill="#526acb" fill-opacity="0.85"/><circle cx="39.8" cy="2.6" r="2.0" fill="#4d72d4" fill-opacity="0.85"/><circle cx="27.6" cy="35.9" r="1.7" fill="#4365d3" fill-opacity="0.85"/><circle cx="7.2" cy="1.7" r="2.1" fill="#5157cf" fill-opacity="0.85"/><circle cx="12.7" cy="61.2" r="2.1" fill="#3a64d5" fill-opacity="0.85"/><circle cx="91.1" cy="0.6" r="1.9" fill="#367bd9" fill-opacity="0.85"/><circle cx="39.1" cy="60.8" r="1.8" fill="#535cc0" fill-opacity="0.85"/><circle cx="49.8" cy="53.0" r="2.0" fill="#3656ba" fill-opacity="0.85"/><circle cx="25.7" cy="46.2" r="1.8" fill="#566ec0" fill-opacity="0.85"/><circle cx="54.2" cy="60.6" r="1.8" fill="#4c6ed5" fill-opacity="0.85"/><circle cx="62.9" cy="2.5" r="2.3" fill="#3a6db8" fill-opacity="0.85"/><circle cx="75.2" cy="59.1" r="2.2" fill="#4d79c9" fill-opacity="0.85"/><circle cx="81.7" cy="18.8" r="1.7" fill="#3b65d3" fill-opacity="0.85"/><circle cx="73.7" cy="20.4" r="2.2" fill="#5564cf" fill-opacity="0.85"/><circle cx="26.7" cy="27.1" r="1.8" fill="#3e58c3" fill-opacity="0.85"/><circle cx="76.1" cy="11.6" r="1.8" fill="#5662bd" fill-opacity="0.85"/><circle cx="14.4" cy="0.6" r="2.3" fill="#4f7bd7" fill-opacity="0.85"/><circle cx="59.2" cy="68.1" r="1.8" fill="#4f75ba" fill-opacity="0.85"/><circle cx="88.3" cy="70.0" r="1.8" fill="#3859bb" fill-opacity="0.85"/><circle cx="31.5" cy="57.2" r="1.8" fill="#3b70d4" fill-opacity="0.85"/><circle cx="-1.6" cy="56.4" r="2.1" fill="#3e67b6" fill-opacity="0.85"/><circle cx="41.0" cy="-1.8" r="2.2" fill="#465bbc" fill-opacity="0.85"/><circle cx="55.4" cy="19.5" r="2.2" fill="#4973b8" fill-opacity="0.85"/><circle cx="18.0" cy="67.8" r="2.2" fill="#437cb6" fill-opacity="0.85"/><circle cx="57.3" cy="7.6" r="1.8" fill="#3a64b6" fill-opacity="0.85"/><circle cx="15.5" cy="48.2" r="1.7" fill="#457bd3" fill-opacity="0.85"/><circle cx="7.7" cy="52.4" r="2.1" fill="#4774da" fill-opacity="0.85"/><circle cx="33.5" cy="58.9" r="1.8" fill="#4878d3" fill-opacity="0.85"/><circle cx="32.0" cy="63.7" r="2.1" fill="#5575c5" fill-opacity="0.85"/><circle cx="32.6" cy="7.8" r="2.3" fill="#3758c0" fill-opacity="0.85"/><circle cx="11.4" cy="15.2" r="2.2" fill="#3e77c3" fill-opacity="0.85"/><circle cx="83.0" cy="59.1" r="1.8" fill="#4870ba" fill-opacity="0.85"/><circle cx="1.6" cy="62.5" r="1.6" fill="#395ad5" fill-opacity="0.85"/><circle cx="61.8" cy="35.7" r="2.0" fill="#585dd5" fill-opacity="0.85"/><circle cx="26.7" cy="17.5" r="2.2" fill="#426ccf" fill-opacity="0.85"/><circle cx="3.3" cy="26.8" r="1.9" fill="#5274c5" fill-opacity="0.85"/><circle cx="36.8" cy="55.6" r="2.2" fill="#3375d6" fill-opacity="0.85"/><circle cx="25.9" cy="47.6" r="2.0" fill="#3c57c9" fill-opacity="0.85"/><circle cx="69.6" cy="28.5" r="2.1" fill="#3976d1" fill-opacity="0.85"/><circle cx="46.5" cy="5.9" r="1.6" fill="#425eb5" fill-opacity="0.85"/><circle cx="29.0" cy="66.9" r="2.0" fill="#4d66c0" fill-opacity="0.85"/><circle cx="14.1" cy="39.8" r="2.2" fill="#4667cb" fill-opacity="0.85"/><circle cx="17.9" cy="67.2" r="2.3" fill="#3877d0" fill-opacity="0.85"/><circle cx="1.3" cy="55.2" r="2.3" fill="#3d5cc7" fill-opacity="0.85"/><circle cx="1.8" cy="9.0" r="2.2" fill="#4164d8" fill-opacity="0.85"/><circle cx="76.2" cy="19.9" r="1.6" fill="#336fca" fill-opacity="0.85"/><circle cx="94.9" cy="37.8" r="2.1" fill="#5169c7" fill-opacity="0.85"/><circle cx="33.2" cy="34.6" r="2.2" fill="#4572c3" fill-opacity="0.85"/><circle cx="58.9" cy="28.8" r="2.0" fill="#5059b5" fill-opacity="0.85"/><circle cx="19.4" cy="15.2" r="1.7" fill="#4867c6" fill-opacity="0.85"/><circle cx="73.4" cy="6.8" r="2.3" fill="#515fd2" fill-opacity="0.85"/><circle cx="81.9" cy="-1.9" r="1.9" fill="#4e62ba" fill-opacity="0.85"/><circle cx="26.0" cy="19.4" r="2.2" fill="#4662db" fill-opacity="0.85"/><circle cx="31.6" cy="38.6" r="2.3" fill="#5965c3" fill-opacity="0.85"/><circle cx="58.2" cy="37.1" r="2.0" fill="#475cba" fill-opacity="0.85"/><circle cx="52.8" cy="15.1" r="2.7" fill="#ab3179" fill-opacity="0.5"/><circle cx="45.9" cy="64.9" r="2.3" fill="#b2307e" fill-opacity="0.5"/><circle cx="7.0" cy="4.1" r="3.0" fill="#cc2391" fill-opacity="0.5"/><circle cx="76.1" cy="53.0" r="3.1" fill="#ad2e95" fill-opacity="0.5"/><circle cx="48.7" cy="55.6" r="2.4" fill="#cb4679" fill-opacity="0.5"/><circle cx="69.9" cy="71.9" r="2.1" fill="#b3478e" fill-opacity="0.5"/><circle cx="33.1" cy="10.5" r="3.4" fill="#ab4a74" fill-opacity="0.5"/><circle cx="30.5" cy="34.8" r="2.9" fill="#ca3398" fill-opacity="0.5"/></g></svg>
<svg x="483" y="122" width="93" height="70" overflow="hidden"><g filter="url(#soft)"><rect x="-3" y="-3" width="99" height="76" fill="#cf7898"/><rect width="93" height="70" filter="url(#wB)" opacity="0.8"/><circle cx="87.7" cy="68.2" r="1.2" fill="#af2337" fill-opacity="0.85"/><circle cx="49.4" cy="7.6" r="0.7" fill="#c40d39" fill-opacity="0.85"/><circle cx="0.4" cy="4.3" r="1.1" fill="#c31e4a" fill-opacity="0.85"/><circle cx="32.8" cy="2.3" r="1.1" fill="#cd2743" fill-opacity="0.85"/><circle cx="92.2" cy="24.8" r="1.1" fill="#c02245" fill-opacity="0.85"/><circle cx="28.5" cy="4.3" r="0.9" fill="#d52338" fill-opacity="0.85"/><circle cx="60.3" cy="11.5" r="0.6" fill="#bd3029" fill-opacity="0.85"/><circle cx="9.1" cy="5.3" r="0.5" fill="#ba224f" fill-opacity="0.85"/><circle cx="30.1" cy="25.4" r="0.7" fill="#bc2e3e" fill-opacity="0.85"/><circle cx="23.1" cy="5.9" r="1.1" fill="#d4312c" fill-opacity="0.85"/><circle cx="50.9" cy="66.0" r="1.0" fill="#e20a58" fill-opacity="0.85"/><circle cx="3.4" cy="28.8" r="0.5" fill="#da2958" fill-opacity="0.85"/><circle cx="76.1" cy="68.2" r="0.9" fill="#e52c32" fill-opacity="0.85"/><circle cx="92.5" cy="25.9" r="0.7" fill="#ae1b29" fill-opacity="0.85"/><circle cx="88.6" cy="68.3" r="0.7" fill="#b01f28" fill-opacity="0.85"/><circle cx="50.7" cy="58.2" r="0.7" fill="#c33638" fill-opacity="0.85"/><circle cx="31.2" cy="64.0" r="1.2" fill="#df2936" fill-opacity="0.85"/><circle cx="65.2" cy="59.4" r="1.0" fill="#b81136" fill-opacity="0.85"/><circle cx="72.9" cy="39.2" r="0.9" fill="#db0643" fill-opacity="0.85"/><circle cx="30.3" cy="39.4" r="1.2" fill="#b83922" fill-opacity="0.85"/><circle cx="52.5" cy="38.1" r="0.7" fill="#cb1c38" fill-opacity="0.85"/><circle cx="67.7" cy="-1.7" r="0.8" fill="#d90852" fill-opacity="0.85"/><circle cx="17.7" cy="48.4" r="0.6" fill="#c41922" fill-opacity="0.85"/><circle cx="65.9" cy="33.5" r="1.1" fill="#ca213d" fill-opacity="0.85"/><circle cx="26.9" cy="64.5" r="0.6" fill="#de333b" fill-opacity="0.85"/><circle cx="73.4" cy="47.8" r="1.0" fill="#bb1332" fill-opacity="0.85"/><circle cx="27.3" cy="69.0" r="0.8" fill="#c1194e" fill-opacity="0.85"/><circle cx="44.3" cy="39.0" r="0.7" fill="#ba052b" fill-opacity="0.85"/><circle cx="23.6" cy="61.1" r="0.9" fill="#b01b25" fill-opacity="0.85"/><circle cx="52.9" cy="30.7" r="1.2" fill="#b9332c" fill-opacity="0.85"/><circle cx="93.3" cy="44.9" r="0.5" fill="#da1033" fill-opacity="0.85"/><circle cx="12.2" cy="60.0" r="0.6" fill="#d61746" fill-opacity="0.85"/><circle cx="26.4" cy="3.8" r="1.2" fill="#d10a58" fill-opacity="0.85"/><circle cx="86.4" cy="11.5" r="0.5" fill="#ce0849" fill-opacity="0.85"/><circle cx="43.5" cy="50.5" r="1.0" fill="#d83142" fill-opacity="0.85"/><circle cx="55.4" cy="22.2" r="0.6" fill="#af332a" fill-opacity="0.85"/><circle cx="39.4" cy="21.4" r="1.0" fill="#ca3338" fill-opacity="0.85"/><circle cx="33.1" cy="46.2" r="1.1" fill="#e11253" fill-opacity="0.85"/><circle cx="93.2" cy="70.7" r="0.6" fill="#c02e4f" fill-opacity="0.85"/><circle cx="1.8" cy="27.2" r="1.1" fill="#d7202a" fill-opacity="0.85"/><circle cx="37.5" cy="2.3" r="0.8" fill="#c33141" fill-opacity="0.85"/><circle cx="38.2" cy="16.2" r="0.8" fill="#d21a28" fill-opacity="0.85"/><circle cx="77.7" cy="40.6" r="1.3" fill="#ca2537" fill-opacity="0.85"/><circle cx="57.0" cy="66.0" r="1.3" fill="#d11921" fill-opacity="0.85"/><circle cx="79.5" cy="27.0" r="0.8" fill="#ad0235" fill-opacity="0.85"/><circle cx="92.5" cy="52.8" r="1.1" fill="#d21028" fill-opacity="0.85"/><circle cx="56.4" cy="2.7" r="1.0" fill="#c82025" fill-opacity="0.85"/><circle cx="4.6" cy="33.0" r="0.6" fill="#d01243" fill-opacity="0.85"/><circle cx="70.8" cy="42.9" r="0.9" fill="#b51458" fill-opacity="0.85"/><circle cx="24.1" cy="19.0" r="0.9" fill="#ca2f2f" fill-opacity="0.85"/><circle cx="91.4" cy="-0.4" r="1.1" fill="#cc3627" fill-opacity="0.85"/><circle cx="64.9" cy="68.1" r="1.0" fill="#b03758" fill-opacity="0.85"/><circle cx="8.7" cy="59.2" r="0.6" fill="#ae2f49" fill-opacity="0.85"/><circle cx="90.8" cy="44.8" r="0.9" fill="#ba2259" fill-opacity="0.85"/><circle cx="60.7" cy="62.8" r="0.7" fill="#d62b22" fill-opacity="0.85"/><circle cx="77.6" cy="11.0" r="0.7" fill="#ad2726" fill-opacity="0.85"/><circle cx="92.6" cy="-2.0" r="1.1" fill="#d72240" fill-opacity="0.85"/><circle cx="75.4" cy="45.1" r="0.6" fill="#d91541" fill-opacity="0.85"/><circle cx="47.7" cy="64.9" r="0.8" fill="#dd0431" fill-opacity="0.85"/><circle cx="63.0" cy="43.3" r="1.2" fill="#b6304d" fill-opacity="0.85"/><circle cx="11.9" cy="8.3" r="1.0" fill="#e42437" fill-opacity="0.85"/><circle cx="47.2" cy="57.9" r="0.9" fill="#ca2355" fill-opacity="0.85"/><circle cx="75.6" cy="60.1" r="0.7" fill="#ce3149" fill-opacity="0.85"/><circle cx="90.3" cy="65.7" r="0.6" fill="#c8152a" fill-opacity="0.85"/><circle cx="46.6" cy="70.8" r="1.1" fill="#af0e34" fill-opacity="0.85"/><circle cx="83.9" cy="32.0" r="0.6" fill="#cb0e20" fill-opacity="0.85"/><circle cx="55.5" cy="71.3" r="1.1" fill="#d6093f" fill-opacity="0.85"/><circle cx="59.8" cy="54.2" r="0.9" fill="#ad372d" fill-opacity="0.85"/><circle cx="69.6" cy="32.4" r="1.1" fill="#be0537" fill-opacity="0.85"/><circle cx="44.6" cy="56.6" r="0.8" fill="#d11649" fill-opacity="0.85"/><circle cx="14.9" cy="63.1" r="1.3" fill="#ab334c" fill-opacity="0.85"/><circle cx="65.2" cy="5.8" r="1.1" fill="#d82557" fill-opacity="0.85"/><circle cx="89.9" cy="44.9" r="1.2" fill="#b2113d" fill-opacity="0.85"/><circle cx="48.7" cy="68.5" r="1.0" fill="#cf2556" fill-opacity="0.85"/><circle cx="36.8" cy="52.7" r="1.0" fill="#c21427" fill-opacity="0.85"/><circle cx="-0.9" cy="22.9" r="0.7" fill="#ae1d33" fill-opacity="0.85"/><circle cx="87.8" cy="55.8" r="1.0" fill="#dc1024" fill-opacity="0.85"/><circle cx="57.1" cy="14.8" r="1.3" fill="#c3352c" fill-opacity="0.85"/><circle cx="7.1" cy="44.4" r="1.1" fill="#b93758" fill-opacity="0.85"/><circle cx="64.7" cy="70.6" r="1.3" fill="#b22b4a" fill-opacity="0.85"/><circle cx="69.0" cy="23.1" r="0.9" fill="#cd3221" fill-opacity="0.85"/><circle cx="34.4" cy="21.3" r="1.1" fill="#b00324" fill-opacity="0.85"/><circle cx="9.3" cy="30.2" r="1.2" fill="#bf0646" fill-opacity="0.85"/><circle cx="30.3" cy="40.3" r="1.1" fill="#c52b43" fill-opacity="0.85"/><circle cx="80.6" cy="54.4" r="1.2" fill="#d6103c" fill-opacity="0.85"/><circle cx="72.9" cy="56.1" r="1.1" fill="#dc313e" fill-opacity="0.85"/><circle cx="60.1" cy="1.2" r="0.9" fill="#d53650" fill-opacity="0.85"/><circle cx="40.6" cy="15.0" r="1.2" fill="#d10b20" fill-opacity="0.85"/><circle cx="83.2" cy="40.7" r="0.6" fill="#e5234b" fill-opacity="0.85"/><circle cx="76.2" cy="16.9" r="0.9" fill="#b42438" fill-opacity="0.85"/><circle cx="74.6" cy="6.6" r="0.7" fill="#c10036" fill-opacity="0.85"/><circle cx="91.4" cy="62.1" r="0.6" fill="#db0d2c" fill-opacity="0.85"/><circle cx="59.8" cy="19.8" r="0.7" fill="#af0a29" fill-opacity="0.85"/><circle cx="86.5" cy="1.1" r="0.9" fill="#b62b1e" fill-opacity="0.85"/><circle cx="34.0" cy="52.6" r="0.5" fill="#c2133b" fill-opacity="0.85"/><circle cx="59.0" cy="3.9" r="1.2" fill="#ba2e25" fill-opacity="0.85"/><circle cx="7.1" cy="12.3" r="0.6" fill="#b80823" fill-opacity="0.85"/><circle cx="80.6" cy="37.1" r="0.9" fill="#c83020" fill-opacity="0.85"/><circle cx="2.4" cy="47.3" r="0.5" fill="#c82550" fill-opacity="0.85"/><circle cx="-1.9" cy="27.7" r="0.8" fill="#cc014b" fill-opacity="0.85"/><circle cx="90.8" cy="38.6" r="1.0" fill="#dc324f" fill-opacity="0.85"/><circle cx="45.3" cy="4.5" r="1.1" fill="#dc2a30" fill-opacity="0.85"/><circle cx="92.6" cy="44.1" r="0.7" fill="#d90d2c" fill-opacity="0.85"/><circle cx="85.8" cy="2.1" r="1.2" fill="#c12247" fill-opacity="0.85"/><circle cx="85.6" cy="14.3" r="0.6" fill="#c80d37" fill-opacity="0.85"/><circle cx="8.7" cy="4.7" r="1.0" fill="#ad0f35" fill-opacity="0.85"/><circle cx="7.2" cy="57.6" r="1.2" fill="#ab3028" fill-opacity="0.85"/><circle cx="68.8" cy="2.5" r="1.1" fill="#e10f27" fill-opacity="0.85"/><circle cx="31.0" cy="61.6" r="1.1" fill="#b3364a" fill-opacity="0.85"/><circle cx="90.8" cy="70.0" r="0.6" fill="#d50129" fill-opacity="0.85"/><circle cx="50.0" cy="15.3" r="0.7" fill="#bf1b55" fill-opacity="0.85"/><circle cx="54.4" cy="39.2" r="1.1" fill="#b5304b" fill-opacity="0.85"/><circle cx="77.0" cy="31.3" r="0.9" fill="#ae1b44" fill-opacity="0.85"/><circle cx="90.1" cy="64.3" r="0.8" fill="#d73357" fill-opacity="0.85"/><circle cx="64.0" cy="22.4" r="1.2" fill="#aa2239" fill-opacity="0.85"/><circle cx="83.6" cy="44.0" r="0.7" fill="#b3024b" fill-opacity="0.85"/><circle cx="74.0" cy="25.6" r="0.7" fill="#cb0b3d" fill-opacity="0.85"/><circle cx="31.3" cy="21.6" r="1.1" fill="#b8133f" fill-opacity="0.85"/><circle cx="89.4" cy="9.1" r="0.7" fill="#ba123b" fill-opacity="0.85"/><circle cx="77.6" cy="11.4" r="1.1" fill="#c3223c" fill-opacity="0.85"/><circle cx="56.5" cy="11.3" r="1.0" fill="#c22f41" fill-opacity="0.85"/><circle cx="37.6" cy="71.0" r="0.6" fill="#aa0747" fill-opacity="0.85"/><circle cx="6.9" cy="52.4" r="0.6" fill="#bb251f" fill-opacity="0.85"/><circle cx="40.0" cy="72.0" r="1.1" fill="#c13640" fill-opacity="0.85"/><circle cx="76.7" cy="23.4" r="0.8" fill="#d42d47" fill-opacity="0.85"/><circle cx="12.6" cy="29.2" r="0.8" fill="#b7064a" fill-opacity="0.85"/><circle cx="11.7" cy="24.2" r="0.5" fill="#d42522" fill-opacity="0.85"/><circle cx="90.2" cy="71.6" r="1.1" fill="#da2a1f" fill-opacity="0.85"/><circle cx="24.5" cy="15.5" r="0.5" fill="#d02333" fill-opacity="0.85"/><circle cx="70.6" cy="15.3" r="0.7" fill="#b00e51" fill-opacity="0.85"/><circle cx="45.5" cy="52.5" r="1.2" fill="#d11558" fill-opacity="0.85"/><circle cx="5.8" cy="28.6" r="1.2" fill="#d2154f" fill-opacity="0.85"/><circle cx="71.5" cy="51.5" r="0.7" fill="#d22750" fill-opacity="0.85"/><circle cx="47.8" cy="66.8" r="1.1" fill="#b62229" fill-opacity="0.85"/><circle cx="57.9" cy="22.1" r="1.3" fill="#be2f50" fill-opacity="0.85"/><circle cx="34.2" cy="41.6" r="0.7" fill="#c01a48" fill-opacity="0.85"/><circle cx="47.3" cy="9.9" r="1.0" fill="#c81f38" fill-opacity="0.85"/><circle cx="82.1" cy="46.4" r="1.0" fill="#c81837" fill-opacity="0.85"/><circle cx="63.8" cy="30.4" r="0.6" fill="#b70320" fill-opacity="0.85"/><circle cx="32.8" cy="26.0" r="0.9" fill="#b60d38" fill-opacity="0.85"/><circle cx="26.2" cy="17.3" r="0.9" fill="#d7031e" fill-opacity="0.85"/><circle cx="41.5" cy="64.2" r="1.0" fill="#bf3a46" fill-opacity="0.85"/><circle cx="78.1" cy="60.3" r="0.5" fill="#b52f35" fill-opacity="0.85"/><circle cx="85.3" cy="3.3" r="1.3" fill="#cf184f" fill-opacity="0.85"/><circle cx="49.9" cy="32.0" r="0.6" fill="#d90830" fill-opacity="0.85"/><circle cx="6.5" cy="-0.8" r="0.7" fill="#ac1c32" fill-opacity="0.85"/><circle cx="-0.2" cy="32.3" r="0.7" fill="#b72031" fill-opacity="0.85"/><circle cx="3.3" cy="66.9" r="1.3" fill="#b82741" fill-opacity="0.85"/><circle cx="22.1" cy="37.8" r="0.7" fill="#ba1b20" fill-opacity="0.85"/><circle cx="20.3" cy="70.8" r="1.1" fill="#bd3b31" fill-opacity="0.85"/><circle cx="80.6" cy="21.9" r="1.2" fill="#c53426" fill-opacity="0.85"/><circle cx="36.3" cy="23.5" r="1.1" fill="#dd0836" fill-opacity="0.85"/><circle cx="14.7" cy="2.9" r="0.6" fill="#ae1237" fill-opacity="0.85"/><circle cx="85.7" cy="46.2" r="1.1" fill="#bd1336" fill-opacity="0.85"/><circle cx="20.6" cy="-0.5" r="0.7" fill="#e1033c" fill-opacity="0.85"/><circle cx="20.5" cy="54.4" r="0.5" fill="#c82b39" fill-opacity="0.85"/><circle cx="11.9" cy="63.8" r="0.5" fill="#e13153" fill-opacity="0.85"/><circle cx="82.0" cy="25.4" r="1.0" fill="#c62334" fill-opacity="0.85"/><circle cx="80.9" cy="20.8" r="0.9" fill="#ae0353" fill-opacity="0.85"/><circle cx="32.6" cy="25.7" r="1.3" fill="#d5093e" fill-opacity="0.85"/><circle cx="44.9" cy="42.7" r="0.7" fill="#ba3841" fill-opacity="0.85"/><circle cx="51.4" cy="49.2" r="1.1" fill="#b42e3a" fill-opacity="0.85"/><circle cx="12.6" cy="21.4" r="1.3" fill="#dc363c" fill-opacity="0.85"/><circle cx="59.7" cy="27.3" r="1.1" fill="#ca1558" fill-opacity="0.85"/><circle cx="46.6" cy="1.0" r="1.2" fill="#af1039" fill-opacity="0.85"/><circle cx="18.5" cy="31.2" r="0.9" fill="#c92747" fill-opacity="0.85"/><circle cx="2.9" cy="15.5" r="0.6" fill="#bd1b51" fill-opacity="0.85"/><circle cx="-0.6" cy="58.0" r="0.6" fill="#d63259" fill-opacity="0.85"/><circle cx="53.8" cy="2.1" r="0.7" fill="#c42858" fill-opacity="0.85"/><circle cx="83.0" cy="2.7" r="0.6" fill="#d10c41" fill-opacity="0.85"/><circle cx="47.4" cy="38.3" r="0.8" fill="#e01133" fill-opacity="0.85"/><circle cx="13.7" cy="19.4" r="0.6" fill="#d0012c" fill-opacity="0.85"/><circle cx="76.4" cy="61.0" r="0.8" fill="#d63045" fill-opacity="0.85"/><circle cx="58.2" cy="53.8" r="0.8" fill="#bd0f2b" fill-opacity="0.85"/><circle cx="47.8" cy="37.9" r="0.7" fill="#af012a" fill-opacity="0.85"/><circle cx="13.1" cy="44.0" r="1.1" fill="#ca2637" fill-opacity="0.85"/><circle cx="5.2" cy="53.3" r="1.1" fill="#b21246" fill-opacity="0.85"/><circle cx="66.5" cy="10.1" r="0.8" fill="#c1204f" fill-opacity="0.85"/><circle cx="12.2" cy="25.8" r="1.2" fill="#b40a4d" fill-opacity="0.85"/><circle cx="58.5" cy="33.2" r="0.9" fill="#ad262d" fill-opacity="0.85"/><circle cx="40.8" cy="66.7" r="0.9" fill="#c1152f" fill-opacity="0.85"/><circle cx="57.9" cy="51.0" r="0.6" fill="#aa1727" fill-opacity="0.85"/><circle cx="56.1" cy="9.9" r="0.9" fill="#c63a31" fill-opacity="0.85"/><circle cx="23.4" cy="23.0" r="1.0" fill="#b80e48" fill-opacity="0.85"/><circle cx="49.4" cy="3.3" r="1.2" fill="#b1113e" fill-opacity="0.85"/><circle cx="42.3" cy="54.7" r="0.6" fill="#d10a24" fill-opacity="0.85"/><circle cx="65.8" cy="55.4" r="0.6" fill="#ab0c40" fill-opacity="0.85"/><circle cx="1.1" cy="68.3" r="0.5" fill="#d63035" fill-opacity="0.85"/><circle cx="77.1" cy="11.0" r="1.1" fill="#cc334d" fill-opacity="0.85"/><circle cx="74.3" cy="61.9" r="0.7" fill="#ab0a4a" fill-opacity="0.85"/><circle cx="48.2" cy="34.5" r="0.9" fill="#ab3740" fill-opacity="0.85"/><circle cx="54.8" cy="34.6" r="1.2" fill="#c6204d" fill-opacity="0.85"/><circle cx="12.4" cy="59.1" r="1.0" fill="#bd083c" fill-opacity="0.85"/><circle cx="26.5" cy="-1.9" r="1.2" fill="#d6354b" fill-opacity="0.85"/><circle cx="37.4" cy="65.6" r="0.7" fill="#b91c46" fill-opacity="0.85"/><circle cx="7.6" cy="2.3" r="1.2" fill="#aa2c3a" fill-opacity="0.85"/><circle cx="91.1" cy="61.6" r="0.9" fill="#ca292d" fill-opacity="0.85"/><circle cx="-0.1" cy="71.3" r="0.9" fill="#d92022" fill-opacity="0.85"/><circle cx="8.0" cy="15.4" r="1.3" fill="#da1138" fill-opacity="0.85"/><circle cx="91.9" cy="35.4" r="0.8" fill="#c90a40" fill-opacity="0.85"/><circle cx="5.0" cy="36.5" r="0.6" fill="#ac2d3c" fill-opacity="0.85"/><circle cx="13.5" cy="27.5" r="1.2" fill="#bf103a" fill-opacity="0.85"/><circle cx="84.8" cy="43.6" r="0.9" fill="#cf1556" fill-opacity="0.85"/><circle cx="24.4" cy="14.2" r="0.9" fill="#da2e45" fill-opacity="0.85"/><circle cx="-1.8" cy="57.1" r="1.2" fill="#b10b2b" fill-opacity="0.85"/><circle cx="10.6" cy="8.8" r="0.9" fill="#d31b3e" fill-opacity="0.85"/><circle cx="64.6" cy="59.0" r="1.3" fill="#d41d21" fill-opacity="0.85"/><circle cx="26.6" cy="12.3" r="1.3" fill="#d50732" fill-opacity="0.85"/><circle cx="38.9" cy="44.5" r="1.3" fill="#bd2936" fill-opacity="0.85"/><circle cx="85.7" cy="35.1" r="1.1" fill="#cc2b4b" fill-opacity="0.85"/><circle cx="35.9" cy="31.0" r="1.0" fill="#d42333" fill-opacity="0.85"/><circle cx="45.4" cy="35.7" r="0.8" fill="#bd0321" fill-opacity="0.85"/><circle cx="13.1" cy="4.5" r="0.8" fill="#e41854" fill-opacity="0.85"/><circle cx="64.8" cy="66.9" r="1.0" fill="#e33022" fill-opacity="0.85"/><circle cx="-1.7" cy="69.1" r="0.8" fill="#d13959" fill-opacity="0.85"/><circle cx="48.9" cy="22.3" r="1.0" fill="#d3054e" fill-opacity="0.85"/><circle cx="-1.6" cy="26.7" r="1.2" fill="#df3351" fill-opacity="0.85"/><circle cx="42.1" cy="29.4" r="0.9" fill="#c90d34" fill-opacity="0.85"/><circle cx="44.5" cy="-0.6" r="1.0" fill="#ad2121" fill-opacity="0.85"/><circle cx="15.9" cy="31.9" r="1.1" fill="#e52d4f" fill-opacity="0.85"/><circle cx="40.2" cy="36.3" r="0.9" fill="#e4321e" fill-opacity="0.85"/><circle cx="64.9" cy="51.2" r="1.2" fill="#e11736" fill-opacity="0.85"/><circle cx="20.8" cy="12.2" r="1.2" fill="#d63131" fill-opacity="0.85"/><circle cx="72.1" cy="-0.8" r="0.9" fill="#bc1259" fill-opacity="0.85"/><circle cx="-1.7" cy="68.7" r="1.0" fill="#e51853" fill-opacity="0.85"/><circle cx="51.5" cy="40.6" r="1.0" fill="#b92428" fill-opacity="0.85"/><circle cx="1.2" cy="51.4" r="0.5" fill="#e10d54" fill-opacity="0.85"/><circle cx="27.8" cy="50.9" r="0.8" fill="#d30a2b" fill-opacity="0.85"/><circle cx="23.9" cy="70.7" r="1.2" fill="#c13956" fill-opacity="0.85"/><circle cx="11.8" cy="43.8" r="0.7" fill="#be122b" fill-opacity="0.85"/><circle cx="54.9" cy="14.1" r="0.8" fill="#b2104c" fill-opacity="0.85"/><circle cx="25.8" cy="69.7" r="0.6" fill="#ab0e3c" fill-opacity="0.85"/><circle cx="28.1" cy="27.6" r="1.1" fill="#d10e52" fill-opacity="0.85"/><circle cx="33.0" cy="40.2" r="0.8" fill="#d7223b" fill-opacity="0.85"/><circle cx="14.7" cy="3.7" r="0.7" fill="#dd3736" fill-opacity="0.85"/><circle cx="5.0" cy="12.7" r="1.2" fill="#b11822" fill-opacity="0.85"/><circle cx="46.1" cy="23.5" r="1.3" fill="#e41e50" fill-opacity="0.85"/><circle cx="63.4" cy="32.2" r="1.1" fill="#ac0a4f" fill-opacity="0.85"/><circle cx="48.2" cy="48.6" r="1.0" fill="#dc0f28" fill-opacity="0.85"/><circle cx="26.1" cy="62.2" r="0.9" fill="#d72e32" fill-opacity="0.85"/><circle cx="69.5" cy="56.2" r="0.9" fill="#c91c39" fill-opacity="0.85"/><circle cx="18.4" cy="40.5" r="1.2" fill="#b91934" fill-opacity="0.85"/><circle cx="26.7" cy="66.5" r="1.1" fill="#af1e32" fill-opacity="0.85"/><circle cx="33.4" cy="6.2" r="1.0" fill="#bf2825" fill-opacity="0.85"/><circle cx="48.2" cy="30.8" r="1.0" fill="#ad2f3d" fill-opacity="0.85"/><circle cx="22.4" cy="10.4" r="1.2" fill="#aa2330" fill-opacity="0.85"/><circle cx="31.3" cy="69.5" r="0.6" fill="#b50033" fill-opacity="0.85"/><circle cx="5.4" cy="1.3" r="1.0" fill="#e20a42" fill-opacity="0.85"/><circle cx="91.4" cy="11.1" r="0.6" fill="#c80340" fill-opacity="0.85"/><circle cx="78.9" cy="63.1" r="0.6" fill="#cb1e39" fill-opacity="0.85"/><circle cx="15.8" cy="42.8" r="0.6" fill="#d2051e" fill-opacity="0.85"/><circle cx="80.9" cy="22.9" r="0.8" fill="#c81c1f" fill-opacity="0.85"/><circle cx="77.4" cy="70.4" r="0.7" fill="#bb1045" fill-opacity="0.85"/><circle cx="49.1" cy="39.4" r="1.0" fill="#b91f3d" fill-opacity="0.85"/><circle cx="58.7" cy="45.3" r="1.3" fill="#b11e41" fill-opacity="0.85"/><circle cx="13.6" cy="25.4" r="0.7" fill="#ca2a2d" fill-opacity="0.85"/><circle cx="42.9" cy="13.3" r="0.8" fill="#e53533" fill-opacity="0.85"/><circle cx="31.1" cy="11.5" r="1.2" fill="#e10238" fill-opacity="0.85"/><circle cx="36.8" cy="15.7" r="1.0" fill="#db1658" fill-opacity="0.85"/><circle cx="57.1" cy="15.9" r="1.0" fill="#b11840" fill-opacity="0.85"/><circle cx="15.9" cy="5.9" r="0.8" fill="#dd0c3a" fill-opacity="0.85"/><circle cx="57.2" cy="11.7" r="0.8" fill="#de2f3f" fill-opacity="0.85"/><circle cx="58.8" cy="-1.5" r="0.7" fill="#bf0339" fill-opacity="0.85"/><circle cx="57.5" cy="47.2" r="1.0" fill="#c8322c" fill-opacity="0.85"/><circle cx="26.9" cy="15.6" r="0.7" fill="#de1b54" fill-opacity="0.85"/><circle cx="45.1" cy="26.7" r="1.0" fill="#ac1c33" fill-opacity="0.85"/><circle cx="44.9" cy="28.1" r="1.0" fill="#d0003d" fill-opacity="0.85"/><circle cx="38.3" cy="25.5" r="0.6" fill="#da0a2d" fill-opacity="0.85"/><circle cx="29.7" cy="65.6" r="0.9" fill="#b30c30" fill-opacity="0.85"/><circle cx="77.7" cy="-1.7" r="0.7" fill="#d50541" fill-opacity="0.85"/><circle cx="79.4" cy="32.0" r="1.1" fill="#cb3458" fill-opacity="0.85"/><circle cx="55.4" cy="51.6" r="1.1" fill="#db1844" fill-opacity="0.85"/><circle cx="38.2" cy="61.5" r="1.2" fill="#bd2059" fill-opacity="0.85"/><circle cx="69.2" cy="14.5" r="0.9" fill="#ae104e" fill-opacity="0.85"/><circle cx="15.3" cy="43.6" r="1.1" fill="#e31921" fill-opacity="0.85"/><circle cx="38.9" cy="46.2" r="1.1" fill="#dd0338" fill-opacity="0.85"/><circle cx="68.8" cy="18.2" r="1.1" fill="#e41342" fill-opacity="0.85"/><circle cx="2.5" cy="47.6" r="1.3" fill="#d81355" fill-opacity="0.85"/><circle cx="-1.7" cy="39.7" r="0.5" fill="#c21025" fill-opacity="0.85"/><circle cx="83.1" cy="58.1" r="0.9" fill="#b31e2b" fill-opacity="0.85"/><circle cx="51.2" cy="47.8" r="1.3" fill="#b81029" fill-opacity="0.85"/><circle cx="89.5" cy="57.4" r="0.8" fill="#c33140" fill-opacity="0.85"/><circle cx="55.0" cy="28.3" r="1.0" fill="#aa0a50" fill-opacity="0.85"/><circle cx="87.5" cy="39.6" r="1.0" fill="#c41541" fill-opacity="0.85"/><circle cx="73.8" cy="65.2" r="0.7" fill="#c51a4a" fill-opacity="0.85"/><circle cx="82.6" cy="70.0" r="1.0" fill="#ce0621" fill-opacity="0.85"/><circle cx="0.1" cy="43.9" r="1.0" fill="#ac3547" fill-opacity="0.85"/><circle cx="64.8" cy="16.4" r="0.7" fill="#cb143e" fill-opacity="0.85"/><circle cx="61.4" cy="42.4" r="0.8" fill="#e50f3f" fill-opacity="0.85"/><circle cx="35.1" cy="0.7" r="0.8" fill="#d13435" fill-opacity="0.85"/><circle cx="13.4" cy="44.9" r="0.5" fill="#c80647" fill-opacity="0.85"/><circle cx="71.7" cy="55.6" r="0.8" fill="#d91e2b" fill-opacity="0.85"/><circle cx="66.6" cy="14.0" r="1.3" fill="#db0047" fill-opacity="0.85"/><circle cx="41.9" cy="1.8" r="0.9" fill="#cd0127" fill-opacity="0.85"/><circle cx="72.4" cy="17.2" r="1.2" fill="#c12734" fill-opacity="0.85"/><circle cx="-0.3" cy="47.7" r="0.7" fill="#cb2a3f" fill-opacity="0.85"/><circle cx="16.3" cy="10.0" r="1.2" fill="#df1443" fill-opacity="0.85"/><circle cx="91.3" cy="9.1" r="0.9" fill="#d92740" fill-opacity="0.85"/><circle cx="74.7" cy="25.5" r="0.7" fill="#bc1238" fill-opacity="0.85"/><circle cx="9.7" cy="60.3" r="1.0" fill="#d4274c" fill-opacity="0.85"/><circle cx="41.4" cy="17.4" r="0.7" fill="#b03946" fill-opacity="0.85"/><circle cx="59.6" cy="42.9" r="0.8" fill="#c90247" fill-opacity="0.85"/><circle cx="39.4" cy="4.4" r="1.3" fill="#c8002c" fill-opacity="0.85"/><circle cx="29.1" cy="34.7" r="0.5" fill="#c22745" fill-opacity="0.85"/><circle cx="31.0" cy="51.5" r="0.6" fill="#ac0128" fill-opacity="0.85"/><circle cx="77.8" cy="21.3" r="1.2" fill="#d53058" fill-opacity="0.85"/><circle cx="61.0" cy="47.9" r="1.1" fill="#d11946" fill-opacity="0.85"/><circle cx="6.1" cy="56.2" r="0.6" fill="#e22856" fill-opacity="0.85"/><circle cx="60.0" cy="27.8" r="0.9" fill="#c50550" fill-opacity="0.85"/><circle cx="14.4" cy="14.2" r="0.8" fill="#d31830" fill-opacity="0.85"/><circle cx="54.7" cy="21.2" r="0.6" fill="#d91b47" fill-opacity="0.85"/><circle cx="0.8" cy="70.7" r="0.6" fill="#ca0a31" fill-opacity="0.85"/><circle cx="73.6" cy="36.3" r="1.3" fill="#b03454" fill-opacity="0.85"/><circle cx="29.4" cy="65.9" r="0.7" fill="#d4133d" fill-opacity="0.85"/><circle cx="59.0" cy="61.0" r="0.8" fill="#ae104a" fill-opacity="0.85"/><circle cx="30.9" cy="31.7" r="1.0" fill="#c23436" fill-opacity="0.85"/><circle cx="44.9" cy="62.6" r="0.5" fill="#c12845" fill-opacity="0.85"/><circle cx="40.7" cy="30.4" r="1.2" fill="#df0f38" fill-opacity="0.85"/><circle cx="-1.1" cy="5.9" r="0.8" fill="#c02a26" fill-opacity="0.85"/><circle cx="41.8" cy="60.3" r="0.6" fill="#b61540" fill-opacity="0.85"/><circle cx="89.3" cy="13.2" r="0.9" fill="#ce3155" fill-opacity="0.85"/><circle cx="85.3" cy="10.3" r="0.8" fill="#ac0235" fill-opacity="0.85"/><circle cx="40.3" cy="43.4" r="1.3" fill="#b13948" fill-opacity="0.85"/><circle cx="11.1" cy="48.8" r="0.6" fill="#ae2726" fill-opacity="0.85"/><circle cx="62.4" cy="29.6" r="1.0" fill="#bc2423" fill-opacity="0.85"/><circle cx="81.6" cy="56.9" r="0.8" fill="#d00543" fill-opacity="0.85"/><circle cx="21.1" cy="69.1" r="0.6" fill="#ab3547" fill-opacity="0.85"/><circle cx="58.1" cy="4.5" r="0.9" fill="#d5044d" fill-opacity="0.85"/><circle cx="55.4" cy="7.2" r="0.9" fill="#c32f3f" fill-opacity="0.85"/><circle cx="79.0" cy="54.2" r="0.9" fill="#b53b31" fill-opacity="0.85"/><circle cx="59.1" cy="59.9" r="0.6" fill="#ad2f49" fill-opacity="0.85"/><circle cx="13.7" cy="20.4" r="1.0" fill="#cb333a" fill-opacity="0.85"/><circle cx="16.3" cy="54.6" r="0.8" fill="#ba082d" fill-opacity="0.85"/><circle cx="10.1" cy="9.5" r="0.9" fill="#b00a47" fill-opacity="0.85"/><circle cx="15.5" cy="53.9" r="0.5" fill="#bc083e" fill-opacity="0.85"/><circle cx="45.1" cy="53.4" r="0.8" fill="#dd0341" fill-opacity="0.85"/><circle cx="3.7" cy="23.2" r="1.2" fill="#b80358" fill-opacity="0.85"/><circle cx="-0.8" cy="42.6" r="0.6" fill="#ce3125" fill-opacity="0.85"/><circle cx="87.2" cy="48.2" r="0.6" fill="#b5174d" fill-opacity="0.85"/><circle cx="81.9" cy="11.7" r="1.2" fill="#ce023e" fill-opacity="0.85"/><circle cx="25.3" cy="40.1" r="1.1" fill="#b10421" fill-opacity="0.85"/><circle cx="50.1" cy="52.5" r="0.7" fill="#d5343b" fill-opacity="0.85"/><circle cx="7.3" cy="-1.0" r="0.6" fill="#d6301e" fill-opacity="0.85"/><circle cx="59.7" cy="65.7" r="0.7" fill="#e32f29" fill-opacity="0.85"/><circle cx="16.1" cy="60.2" r="0.7" fill="#ab0046" fill-opacity="0.85"/><circle cx="64.0" cy="10.9" r="1.2" fill="#bf0e2c" fill-opacity="0.85"/><circle cx="61.2" cy="54.5" r="1.2" fill="#ae2531" fill-opacity="0.85"/><circle cx="6.3" cy="46.4" r="0.6" fill="#af3a21" fill-opacity="0.85"/><circle cx="45.0" cy="27.0" r="0.6" fill="#e50321" fill-opacity="0.85"/><circle cx="29.2" cy="41.5" r="0.9" fill="#d4223a" fill-opacity="0.85"/><circle cx="93.2" cy="6.1" r="0.9" fill="#bd3a3b" fill-opacity="0.85"/><circle cx="46.5" cy="56.2" r="1.3" fill="#d20227" fill-opacity="0.85"/><circle cx="10.4" cy="1.8" r="0.5" fill="#e3184a" fill-opacity="0.85"/><circle cx="23.3" cy="13.5" r="1.3" fill="#af3321" fill-opacity="0.85"/><circle cx="44.4" cy="30.8" r="1.0" fill="#ce0752" fill-opacity="0.85"/><circle cx="17.7" cy="16.8" r="0.5" fill="#b7233a" fill-opacity="0.85"/><circle cx="90.5" cy="58.8" r="0.8" fill="#bc1e2e" fill-opacity="0.85"/><circle cx="32.8" cy="46.2" r="0.7" fill="#e23546" fill-opacity="0.85"/><circle cx="67.8" cy="71.7" r="0.9" fill="#c3264c" fill-opacity="0.85"/><circle cx="40.7" cy="14.3" r="1.3" fill="#d42823" fill-opacity="0.85"/><circle cx="37.7" cy="43.9" r="1.2" fill="#bc0549" fill-opacity="0.85"/><circle cx="81.4" cy="38.6" r="1.1" fill="#bd1325" fill-opacity="0.85"/><circle cx="8.0" cy="56.7" r="1.2" fill="#cc203c" fill-opacity="0.85"/><circle cx="75.5" cy="4.3" r="0.7" fill="#b33a3b" fill-opacity="0.85"/><circle cx="66.5" cy="20.7" r="1.1" fill="#d81759" fill-opacity="0.85"/><circle cx="93.6" cy="54.1" r="0.8" fill="#e23a40" fill-opacity="0.85"/><circle cx="33.0" cy="44.3" r="0.8" fill="#b11235" fill-opacity="0.85"/><circle cx="44.8" cy="37.8" r="1.2" fill="#d01b3b" fill-opacity="0.85"/><circle cx="75.0" cy="44.9" r="0.8" fill="#c02c45" fill-opacity="0.85"/><circle cx="31.6" cy="8.8" r="0.6" fill="#ab2b50" fill-opacity="0.85"/><circle cx="53.3" cy="0.2" r="0.8" fill="#b70542" fill-opacity="0.85"/><circle cx="80.9" cy="60.2" r="1.1" fill="#b92c2f" fill-opacity="0.85"/><circle cx="31.7" cy="54.9" r="0.5" fill="#cf133a" fill-opacity="0.85"/><circle cx="20.2" cy="12.9" r="1.3" fill="#c50c44" fill-opacity="0.85"/><circle cx="83.5" cy="34.6" r="1.0" fill="#db3539" fill-opacity="0.85"/><circle cx="52.8" cy="9.2" r="0.6" fill="#e30e3e" fill-opacity="0.85"/><circle cx="19.2" cy="6.1" r="0.7" fill="#c30e55" fill-opacity="0.85"/><circle cx="26.7" cy="65.5" r="1.0" fill="#e01b1f" fill-opacity="0.85"/><circle cx="12.6" cy="3.8" r="0.6" fill="#ad0e3b" fill-opacity="0.85"/><circle cx="62.6" cy="12.5" r="0.8" fill="#d60647" fill-opacity="0.85"/><circle cx="6.3" cy="-1.0" r="1.1" fill="#ca242f" fill-opacity="0.85"/><circle cx="12.7" cy="40.0" r="0.7" fill="#e52f53" fill-opacity="0.85"/><circle cx="15.3" cy="25.6" r="0.8" fill="#b11c42" fill-opacity="0.85"/><circle cx="26.8" cy="11.1" r="0.5" fill="#b71d59" fill-opacity="0.85"/><circle cx="67.2" cy="16.5" r="0.7" fill="#b6341e" fill-opacity="0.85"/><circle cx="86.4" cy="55.1" r="0.7" fill="#cb0648" fill-opacity="0.85"/><circle cx="8.2" cy="69.7" r="0.8" fill="#d03954" fill-opacity="0.85"/><circle cx="77.7" cy="43.6" r="0.8" fill="#c92d30" fill-opacity="0.85"/><circle cx="89.2" cy="43.6" r="1.2" fill="#b21d3c" fill-opacity="0.85"/><circle cx="26.8" cy="39.3" r="0.9" fill="#bf0f3c" fill-opacity="0.85"/><circle cx="35.9" cy="16.5" r="0.5" fill="#c52825" fill-opacity="0.85"/><circle cx="85.0" cy="8.2" r="0.6" fill="#ac3029" fill-opacity="0.85"/><circle cx="4.0" cy="49.2" r="0.7" fill="#bf222f" fill-opacity="0.85"/><circle cx="83.7" cy="29.2" r="1.0" fill="#d1204a" fill-opacity="0.85"/><circle cx="27.0" cy="10.5" r="0.9" fill="#db1c3a" fill-opacity="0.85"/><circle cx="84.9" cy="60.4" r="1.3" fill="#d42836" fill-opacity="0.85"/><circle cx="20.8" cy="61.6" r="1.0" fill="#e40e55" fill-opacity="0.85"/><circle cx="18.1" cy="53.1" r="0.8" fill="#db242f" fill-opacity="0.85"/><circle cx="76.1" cy="12.2" r="1.1" fill="#cf2c51" fill-opacity="0.85"/><circle cx="11.4" cy="62.7" r="1.1" fill="#da3941" fill-opacity="0.85"/><circle cx="73.6" cy="34.5" r="1.3" fill="#c7201f" fill-opacity="0.85"/><circle cx="37.8" cy="7.0" r="0.5" fill="#c90424" fill-opacity="0.85"/><circle cx="91.7" cy="13.9" r="0.8" fill="#d50251" fill-opacity="0.85"/><circle cx="44.0" cy="3.3" r="0.6" fill="#bd273c" fill-opacity="0.85"/><circle cx="27.8" cy="3.1" r="1.1" fill="#b81b37" fill-opacity="0.85"/><circle cx="53.4" cy="67.6" r="1.1" fill="#df1044" fill-opacity="0.85"/><circle cx="63.5" cy="54.1" r="0.8" fill="#e11c52" fill-opacity="0.85"/><circle cx="43.9" cy="51.1" r="0.7" fill="#b72043" fill-opacity="0.85"/><circle cx="47.0" cy="60.5" r="1.2" fill="#c30434" fill-opacity="0.85"/><circle cx="13.5" cy="59.1" r="0.7" fill="#d22b39" fill-opacity="0.85"/><circle cx="83.4" cy="25.5" r="0.9" fill="#e20b47" fill-opacity="0.85"/><circle cx="1.1" cy="16.0" r="0.9" fill="#e1344d" fill-opacity="0.85"/><circle cx="11.2" cy="40.8" r="0.7" fill="#af2c4f" fill-opacity="0.85"/><circle cx="40.5" cy="41.0" r="0.8" fill="#be044a" fill-opacity="0.85"/><circle cx="68.1" cy="19.7" r="0.7" fill="#e50d3c" fill-opacity="0.85"/><circle cx="5.0" cy="66.4" r="1.1" fill="#c91627" fill-opacity="0.85"/><circle cx="14.0" cy="46.3" r="0.9" fill="#bf202a" fill-opacity="0.85"/><circle cx="78.3" cy="43.3" r="0.6" fill="#bf073b" fill-opacity="0.85"/><circle cx="41.5" cy="13.4" r="1.3" fill="#d41643" fill-opacity="0.85"/><circle cx="60.2" cy="4.6" r="0.9" fill="#cd1134" fill-opacity="0.85"/><circle cx="61.1" cy="45.6" r="4.2" fill="#f4ecf0"/><circle cx="17.0" cy="24.8" r="4.1" fill="#f4ecf0"/><circle cx="6.4" cy="4.2" r="1.7" fill="#f4ecf0"/><circle cx="24.7" cy="9.8" r="2.6" fill="#f4ecf0"/><circle cx="45.5" cy="16.2" r="3.2" fill="#f4ecf0"/><circle cx="65.9" cy="21.6" r="1.9" fill="#f4ecf0"/><circle cx="93.4" cy="30.0" r="1.7" fill="#f4ecf0"/><circle cx="8.8" cy="51.7" r="2.8" fill="#f4ecf0"/><circle cx="88.9" cy="53.3" r="1.7" fill="#f4ecf0"/><circle cx="71.3" cy="69.4" r="4.5" fill="#f4ecf0"/><circle cx="80.5" cy="44.3" r="4.3" fill="#f4ecf0"/><circle cx="75.1" cy="29.0" r="2.4" fill="#f4ecf0"/><circle cx="-0.7" cy="4.5" r="2.7" fill="#f4ecf0"/><circle cx="22.9" cy="69.4" r="2.1" fill="#f4ecf0"/><circle cx="52.0" cy="36.5" r="2.7" fill="#f4ecf0"/><circle cx="4.2" cy="24.2" r="2.8" fill="#f4ecf0"/><circle cx="92.4" cy="5.5" r="1.5" fill="#f4ecf0"/><circle cx="2.7" cy="61.8" r="2.4" fill="#f4ecf0"/><circle cx="84.3" cy="38.3" r="1.7" fill="#f4ecf0"/><circle cx="6.3" cy="15.2" r="2.1" fill="#f4ecf0"/><circle cx="70.7" cy="13.4" r="1.9" fill="#5d8fd0" fill-opacity="0.75"/><circle cx="0.4" cy="52.1" r="2.1" fill="#6d8cd0" fill-opacity="0.75"/><circle cx="76.4" cy="57.7" r="1.9" fill="#7879d8" fill-opacity="0.75"/><circle cx="58.4" cy="2.2" r="2.0" fill="#7a95ea" fill-opacity="0.75"/><circle cx="38.0" cy="42.0" r="1.6" fill="#816fdc" fill-opacity="0.75"/><circle cx="41.7" cy="57.9" r="2.3" fill="#7f94e7" fill-opacity="0.75"/><circle cx="-0.1" cy="5.9" r="1.9" fill="#7490e3" fill-opacity="0.75"/><circle cx="70.8" cy="33.1" r="1.7" fill="#628ccf" fill-opacity="0.75"/><circle cx="5.0" cy="47.8" r="2.0" fill="#7581cc" fill-opacity="0.75"/><circle cx="92.3" cy="35.2" r="2.0" fill="#746eca" fill-opacity="0.75"/><circle cx="31.2" cy="68.1" r="1.5" fill="#7f86d4" fill-opacity="0.75"/><circle cx="69.7" cy="62.9" r="2.2" fill="#5a90d1" fill-opacity="0.75"/><circle cx="79.6" cy="34.8" r="2.3" fill="#5c82e4" fill-opacity="0.75"/><circle cx="28.7" cy="59.4" r="1.6" fill="#706ee0" fill-opacity="0.75"/><circle cx="24.0" cy="48.6" r="1.6" fill="#6b84c9" fill-opacity="0.75"/><circle cx="27.1" cy="48.6" r="2.0" fill="#716fe1" fill-opacity="0.75"/><circle cx="44.7" cy="43.4" r="1.5" fill="#7e6fd8" fill-opacity="0.75"/><circle cx="38.4" cy="17.9" r="1.6" fill="#638ec9" fill-opacity="0.75"/><circle cx="37.8" cy="63.6" r="1.8" fill="#7b72d0" fill-opacity="0.75"/><circle cx="34.5" cy="2.3" r="1.6" fill="#717dc3" fill-opacity="0.75"/><circle cx="22.3" cy="17.3" r="1.9" fill="#707fe4" fill-opacity="0.75"/><circle cx="79.7" cy="50.3" r="1.9" fill="#7e79d3" fill-opacity="0.75"/><circle cx="6.8" cy="29.8" r="2.4" fill="#817ad5" fill-opacity="0.75"/><circle cx="21.6" cy="33.0" r="2.2" fill="#6595ea" fill-opacity="0.75"/><circle cx="70.5" cy="8.5" r="1.6" fill="#8094db" fill-opacity="0.75"/><circle cx="23.4" cy="16.7" r="3.2" fill="#600f15" fill-opacity="0.85"/><circle cx="16.4" cy="63.3" r="3.3" fill="#720917" fill-opacity="0.85"/><circle cx="6.3" cy="7.1" r="2.1" fill="#5c0614" fill-opacity="0.85"/><circle cx="62.8" cy="50.9" r="3.4" fill="#601c30" fill-opacity="0.85"/><circle cx="84.5" cy="47.2" r="3.1" fill="#7b002d" fill-opacity="0.85"/><circle cx="80.8" cy="67.4" r="2.8" fill="#6c0a24" fill-opacity="0.85"/><circle cx="36.0" cy="28.6" r="3.2" fill="#760c2b" fill-opacity="0.85"/><circle cx="2.3" cy="53.9" r="2.5" fill="#682218" fill-opacity="0.85"/><circle cx="20.3" cy="70.6" r="3.0" fill="#641832" fill-opacity="0.85"/><circle cx="57.3" cy="17.9" r="2.0" fill="#6e0b36" fill-opacity="0.85"/><circle cx="34.6" cy="51.2" r="2.2" fill="#5b0035" fill-opacity="0.85"/><circle cx="38.3" cy="49.7" r="2.3" fill="#610928" fill-opacity="0.85"/><circle cx="49.8" cy="31.4" r="2.5" fill="#6b1d14" fill-opacity="0.85"/><circle cx="27.2" cy="2.2" r="3.2" fill="#661910" fill-opacity="0.85"/><rect width="93" height="70" filter="url(#dB)" opacity="0.6"/></g></svg>
<svg x="577" y="122" width="94" height="70" overflow="hidden"><g filter="url(#soft)"><rect x="-3" y="-3" width="100" height="76" fill="#a45096"/><circle cx="67.8" cy="60.1" r="3.0" fill="#e8283a"/><circle cx="95.8" cy="12.4" r="5.2" fill="#e8283a"/><circle cx="7.0" cy="54.1" r="2.9" fill="#e8283a"/><circle cx="41.3" cy="62.1" r="6.5" fill="#e8283a"/><circle cx="9.3" cy="36.3" r="6.4" fill="#e8283a"/><circle cx="70.4" cy="30.9" r="3.5" fill="#e8283a"/><circle cx="80.6" cy="9.7" r="3.6" fill="#e8283a"/><circle cx="27.9" cy="38.1" r="3.8" fill="#e8283a"/><circle cx="85.6" cy="66.4" r="3.6" fill="#e8283a"/><circle cx="85.7" cy="3.2" r="2.6" fill="#e8283a"/><circle cx="95.2" cy="61.6" r="3.4" fill="#e8283a"/><circle cx="70.8" cy="66.4" r="2.6" fill="#e8283a"/><circle cx="46.5" cy="9.4" r="2.8" fill="#e8283a"/><circle cx="45.0" cy="47.6" r="6.5" fill="#e8283a"/><circle cx="59.8" cy="17.3" r="5.0" fill="#e8283a"/><circle cx="37.5" cy="32.7" r="5.9" fill="#e8283a"/><circle cx="22.6" cy="11.7" r="4.7" fill="#e8283a"/><circle cx="34.4" cy="2.3" r="4.2" fill="#e8283a"/><circle cx="1.7" cy="71.2" r="5.3" fill="#e8283a"/><circle cx="77.5" cy="37.9" r="4.7" fill="#e8283a"/><circle cx="27.7" cy="19.7" r="3.7" fill="#e8283a"/><circle cx="86.9" cy="57.1" r="5.0" fill="#e8283a"/><circle cx="-0.3" cy="17.4" r="4.6" fill="#e8283a"/><circle cx="86.7" cy="17.8" r="3.9" fill="#e8283a"/><circle cx="72.5" cy="21.6" r="5.4" fill="#e8283a"/><circle cx="31.4" cy="12.1" r="2.9" fill="#e8283a"/><circle cx="10.9" cy="69.6" r="3.4" fill="#e8283a"/><circle cx="57.6" cy="68.0" r="3.2" fill="#e8283a"/><circle cx="24.5" cy="2.6" r="3.1" fill="#e8283a"/><circle cx="94.1" cy="39.7" r="4.3" fill="#e8283a"/><circle cx="31.4" cy="54.2" r="5.2" fill="#e8283a"/><circle cx="13.3" cy="1.4" r="3.0" fill="#e8283a"/><circle cx="78.1" cy="52.2" r="3.2" fill="#e8283a"/><circle cx="21.2" cy="68.0" r="4.6" fill="#e8283a"/><circle cx="47.9" cy="22.6" r="2.6" fill="#e8283a"/><circle cx="17.2" cy="50.1" r="5.2" fill="#e8283a"/><circle cx="57.9" cy="50.3" r="2.9" fill="#e8283a"/><circle cx="14.1" cy="60.7" r="2.8" fill="#e8283a"/><circle cx="45.4" cy="-1.7" r="4.4" fill="#e8283a"/><circle cx="58.7" cy="7.4" r="2.9" fill="#e8283a"/><circle cx="62.3" cy="29.2" r="3.0" fill="#e8283a"/><circle cx="58.1" cy="34.8" r="2.7" fill="#e8283a"/><circle cx="94.1" cy="28.9" r="4.5" fill="#e8283a"/><circle cx="13.5" cy="8.8" r="3.5" fill="#e8283a"/><circle cx="54.6" cy="41.9" r="2.7" fill="#e8283a"/><circle cx="21.8" cy="30.7" r="3.3" fill="#e8283a"/><circle cx="80.7" cy="29.4" r="2.9" fill="#e8283a"/><circle cx="14.4" cy="21.1" r="6.1" fill="#e8283a"/><circle cx="7.4" cy="60.1" r="2.3" fill="#e8283a"/><circle cx="0.6" cy="42.5" r="2.3" fill="#e8283a"/><circle cx="4.3" cy="-1.5" r="6.0" fill="#e8283a"/><circle cx="35.7" cy="46.3" r="2.6" fill="#e8283a"/><circle cx="65.4" cy="46.7" r="5.1" fill="#e8283a"/><circle cx="75.6" cy="2.2" r="4.3" fill="#e8283a"/><circle cx="94.8" cy="54.3" r="3.1" fill="#e8283a"/><circle cx="74.9" cy="58.9" r="3.8" fill="#e8283a"/><circle cx="41.6" cy="13.5" r="2.2" fill="#e8283a"/><circle cx="94.8" cy="-1.1" r="4.2" fill="#e8283a"/><circle cx="59.9" cy="1.5" r="2.8" fill="#e8283a"/><circle cx="45.9" cy="37.7" r="3.2" fill="#e8283a"/><circle cx="53.9" cy="28.7" r="2.6" fill="#e8283a"/><circle cx="88.6" cy="45.7" r="2.8" fill="#e8283a"/><circle cx="42.1" cy="23.9" r="2.7" fill="#e8283a"/><circle cx="35.4" cy="18.5" r="2.5" fill="#e8283a"/><circle cx="48.7" cy="71.8" r="5.5" fill="#e8283a"/><circle cx="51.7" cy="12.5" r="2.8" fill="#e8283a"/><circle cx="68.0" cy="11.0" r="4.6" fill="#e8283a"/><circle cx="93.9" cy="70.2" r="4.9" fill="#e8283a"/><circle cx="32.3" cy="71.7" r="2.3" fill="#e8283a"/><circle cx="82.8" cy="23.4" r="2.4" fill="#e8283a"/><circle cx="29.7" cy="66.5" r="3.0" fill="#e8283a"/><circle cx="-1.7" cy="52.5" r="4.8" fill="#e8283a"/><circle cx="22.3" cy="57.6" r="2.8" fill="#e8283a"/><circle cx="66.9" cy="-0.2" r="3.8" fill="#e8283a"/><circle cx="-1.2" cy="8.7" r="3.6" fill="#e8283a"/><circle cx="-1.1" cy="33.4" r="3.4" fill="#e8283a"/><circle cx="60.8" cy="59.4" r="2.7" fill="#e8283a"/><circle cx="65.6" cy="70.9" r="3.0" fill="#e8283a"/><circle cx="79.0" cy="67.4" r="2.7" fill="#e8283a"/><circle cx="73.9" cy="45.1" r="2.4" fill="#e8283a"/><circle cx="3.8" cy="28.1" r="2.8" fill="#e8283a"/><circle cx="94.9" cy="21.4" r="2.8" fill="#e8283a"/><circle cx="6.7" cy="14.2" r="2.7" fill="#e8283a"/><circle cx="53.9" cy="61.2" r="2.7" fill="#e8283a"/><circle cx="53.0" cy="2.1" r="2.7" fill="#e8283a"/><circle cx="19.0" cy="36.9" r="2.9" fill="#e8283a"/><circle cx="49.8" cy="56.7" r="2.6" fill="#e8283a"/><circle cx="-1.0" cy="63.1" r="2.3" fill="#e8283a"/><circle cx="7.1" cy="8.5" r="2.7" fill="#e8283a"/><circle cx="48.5" cy="30.0" r="2.4" fill="#e8283a"/><circle cx="64.4" cy="35.8" r="3.4" fill="#e8283a"/><circle cx="87.0" cy="33.9" r="2.4" fill="#e8283a"/><circle cx="83.8" cy="43.0" r="2.4" fill="#e8283a"/><circle cx="29.3" cy="27.2" r="3.2" fill="#e8283a"/><circle cx="71.9" cy="52.0" r="2.3" fill="#e8283a"/><circle cx="4.7" cy="46.7" r="3.1" fill="#e8283a"/><circle cx="40.4" cy="71.8" r="2.6" fill="#e8283a"/><circle cx="38.3" cy="8.4" r="2.5" fill="#e8283a"/><circle cx="19.0" cy="4.5" r="2.3" fill="#e8283a"/><circle cx="27.6" cy="71.5" r="1.7" fill="#e42c3c"/><circle cx="18.5" cy="60.4" r="1.3" fill="#e42c3c"/><circle cx="24.7" cy="53.5" r="1.3" fill="#e42c3c"/><circle cx="20.2" cy="-1.2" r="2.1" fill="#e42c3c"/><circle cx="86.3" cy="25.8" r="1.4" fill="#e42c3c"/><circle cx="33.8" cy="40.2" r="0.7" fill="#e42c3c"/><circle cx="54.4" cy="56.9" r="1.3" fill="#e42c3c"/><circle cx="34.5" cy="24.6" r="2.0" fill="#e42c3c"/><circle cx="72.8" cy="14.9" r="0.8" fill="#e42c3c"/><circle cx="84.2" cy="71.4" r="1.1" fill="#e42c3c"/><circle cx="19.6" cy="42.4" r="0.8" fill="#e42c3c"/><circle cx="23.6" cy="23.2" r="1.4" fill="#e42c3c"/><circle cx="55.9" cy="23.6" r="1.1" fill="#e42c3c"/><circle cx="87.3" cy="38.3" r="1.0" fill="#e42c3c"/><circle cx="64.3" cy="64.9" r="1.5" fill="#e42c3c"/><circle cx="40.7" cy="17.7" r="1.7" fill="#e42c3c"/><circle cx="51.7" cy="38.1" r="0.7" fill="#e42c3c"/><circle cx="27.7" cy="-0.9" r="0.7" fill="#e42c3c"/><circle cx="38.1" cy="14.9" r="1.0" fill="#e42c3c"/><circle cx="84.5" cy="31.2" r="0.9" fill="#e42c3c"/><circle cx="87.2" cy="8.2" r="1.4" fill="#e42c3c"/><circle cx="75.1" cy="67.9" r="0.8" fill="#e42c3c"/><circle cx="84.4" cy="50.7" r="1.5" fill="#e42c3c"/><circle cx="26.5" cy="61.2" r="1.5" fill="#e42c3c"/><circle cx="50.4" cy="33.8" r="1.2" fill="#e42c3c"/><circle cx="45.5" cy="27.3" r="0.8" fill="#e42c3c"/><circle cx="10.8" cy="12.8" r="1.1" fill="#e42c3c"/><circle cx="70.1" cy="37.3" r="1.4" fill="#e42c3c"/><circle cx="53.9" cy="46.3" r="1.2" fill="#e42c3c"/><circle cx="53.0" cy="49.1" r="0.8" fill="#e42c3c"/><circle cx="91.0" cy="7.5" r="1.5" fill="#e42c3c"/><circle cx="23.5" cy="46.0" r="1.9" fill="#e42c3c"/><circle cx="95.3" cy="46.1" r="0.9" fill="#e42c3c"/><circle cx="43.5" cy="18.1" r="0.8" fill="#e42c3c"/><circle cx="29.1" cy="46.3" r="2.1" fill="#e42c3c"/><circle cx="61.6" cy="54.2" r="1.6" fill="#e42c3c"/><circle cx="51.8" cy="16.9" r="1.0" fill="#e42c3c"/><circle cx="72.1" cy="40.9" r="1.2" fill="#e42c3c"/><circle cx="55.0" cy="32.4" r="0.9" fill="#e42c3c"/><circle cx="51.0" cy="40.2" r="1.1" fill="#e42c3c"/><circle cx="5.9" cy="20.0" r="1.1" fill="#e42c3c"/><circle cx="8.1" cy="25.8" r="0.9" fill="#e42c3c"/><circle cx="51.9" cy="24.5" r="1.5" fill="#e42c3c"/><circle cx="8.9" cy="44.0" r="0.8" fill="#e42c3c"/><circle cx="53.3" cy="7.8" r="1.4" fill="#e42c3c"/><circle cx="60.9" cy="23.5" r="1.0" fill="#e42c3c"/><circle cx="57.9" cy="28.5" r="0.7" fill="#e42c3c"/><circle cx="49.0" cy="26.2" r="0.8" fill="#e42c3c"/><circle cx="85.6" cy="10.5" r="1.1" fill="#e42c3c"/><circle cx="1.4" cy="23.5" r="0.9" fill="#e42c3c"/><circle cx="91.1" cy="2.8" r="0.9" fill="#e42c3c"/><circle cx="1.6" cy="38.7" r="0.7" fill="#e42c3c"/><circle cx="59.6" cy="25.7" r="0.8" fill="#e42c3c"/><circle cx="88.5" cy="11.6" r="1.0" fill="#e42c3c"/><circle cx="6.9" cy="65.3" r="1.3" fill="#e42c3c"/><circle cx="88.3" cy="41.0" r="1.4" fill="#e42c3c"/><circle cx="48.4" cy="16.5" r="0.8" fill="#e42c3c"/><circle cx="75.4" cy="70.8" r="0.7" fill="#e42c3c"/><circle cx="85.7" cy="29.0" r="1.0" fill="#e42c3c"/><circle cx="53.5" cy="51.3" r="1.2" fill="#e42c3c"/><circle cx="38.3" cy="40.7" r="1.2" fill="#e42c3c"/><circle cx="-1.2" cy="25.8" r="1.0" fill="#e42c3c"/><circle cx="22.6" cy="19.0" r="1.1" fill="#e42c3c"/><circle cx="-1.5" cy="39.2" r="0.9" fill="#e42c3c"/><circle cx="80.5" cy="16.2" r="0.9" fill="#e42c3c"/><circle cx="56.4" cy="0.0" r="0.8" fill="#e42c3c"/><circle cx="88.6" cy="27.2" r="0.9" fill="#e42c3c"/><circle cx="83.2" cy="-1.1" r="1.7" fill="#e42c3c"/><circle cx="81.1" cy="61.6" r="1.2" fill="#e42c3c"/><circle cx="72.2" cy="71.3" r="0.9" fill="#e42c3c"/><circle cx="75.7" cy="29.2" r="0.8" fill="#e42c3c"/><circle cx="57.2" cy="55.9" r="1.2" fill="#e42c3c"/><circle cx="80.2" cy="57.2" r="0.7" fill="#e42c3c"/><circle cx="75.0" cy="64.3" r="1.1" fill="#e42c3c"/><circle cx="61.5" cy="41.0" r="0.7" fill="#e42c3c"/><circle cx="67.8" cy="40.2" r="0.8" fill="#e42c3c"/><circle cx="45.6" cy="14.6" r="1.3" fill="#e42c3c"/><circle cx="-0.9" cy="58.6" r="0.9" fill="#e42c3c"/><circle cx="64.6" cy="24.5" r="1.8" fill="#e42c3c"/><circle cx="16.7" cy="30.3" r="1.3" fill="#e42c3c"/><circle cx="75.5" cy="10.2" r="0.9" fill="#e42c3c"/><circle cx="24.5" cy="25.7" r="1.0" fill="#e42c3c"/><circle cx="83.0" cy="35.0" r="1.0" fill="#e42c3c"/><circle cx="80.4" cy="71.7" r="1.6" fill="#e42c3c"/><circle cx="76.1" cy="13.2" r="1.5" fill="#e42c3c"/><circle cx="94.7" cy="48.9" r="1.5" fill="#e42c3c"/><circle cx="7.2" cy="22.8" r="1.0" fill="#e42c3c"/><circle cx="36.4" cy="71.4" r="0.8" fill="#e42c3c"/><circle cx="51.7" cy="64.7" r="0.9" fill="#e42c3c"/><circle cx="83.6" cy="37.0" r="0.7" fill="#e42c3c"/><circle cx="27.1" cy="7.8" r="1.1" fill="#e42c3c"/><circle cx="34.8" cy="9.9" r="0.8" fill="#e42c3c"/><circle cx="9.6" cy="4.6" r="1.6" fill="#e42c3c"/><circle cx="86.5" cy="-1.6" r="1.2" fill="#e42c3c"/><circle cx="54.7" cy="-1.7" r="1.1" fill="#e42c3c"/><circle cx="28.4" cy="5.0" r="0.9" fill="#e42c3c"/><circle cx="67.6" cy="26.3" r="0.8" fill="#e42c3c"/><circle cx="15.5" cy="56.8" r="0.9" fill="#e42c3c"/><circle cx="41.6" cy="4.6" r="2.0" fill="#e42c3c"/><circle cx="86.5" cy="23.3" r="0.7" fill="#e42c3c"/><circle cx="33.3" cy="60.6" r="1.2" fill="#e42c3c"/><circle cx="80.8" cy="4.9" r="0.8" fill="#e42c3c"/><circle cx="16.1" cy="43.3" r="1.3" fill="#e42c3c"/><circle cx="65.4" cy="4.7" r="0.9" fill="#e42c3c"/><circle cx="9.9" cy="50.0" r="1.0" fill="#e42c3c"/><circle cx="14.4" cy="30.1" r="0.8" fill="#e42c3c"/><circle cx="53.3" cy="35.3" r="0.8" fill="#e42c3c"/><circle cx="81.3" cy="18.3" r="0.8" fill="#e42c3c"/><circle cx="34.8" cy="68.3" r="1.2" fill="#e42c3c"/><circle cx="30.8" cy="43.2" r="0.7" fill="#e42c3c"/><circle cx="81.2" cy="48.5" r="1.4" fill="#e42c3c"/><circle cx="2.5" cy="59.6" r="1.6" fill="#e42c3c"/><circle cx="67.1" cy="54.4" r="1.3" fill="#e42c3c"/><circle cx="21.4" cy="25.6" r="1.1" fill="#e42c3c"/><circle cx="59.0" cy="44.9" r="1.2" fill="#e42c3c"/><circle cx="78.3" cy="25.4" r="1.3" fill="#e42c3c"/><circle cx="22.9" cy="39.4" r="0.8" fill="#e42c3c"/><circle cx="50.2" cy="8.8" r="0.8" fill="#e42c3c"/><circle cx="53.1" cy="22.2" r="0.9" fill="#e42c3c"/><circle cx="47.8" cy="4.1" r="0.9" fill="#e42c3c"/><circle cx="77.7" cy="16.3" r="1.5" fill="#e42c3c"/><circle cx="38.3" cy="22.7" r="0.8" fill="#e42c3c"/><circle cx="49.4" cy="62.1" r="1.1" fill="#e42c3c"/><circle cx="57.5" cy="39.0" r="0.8" fill="#e42c3c"/><circle cx="75.8" cy="31.1" r="0.8" fill="#e42c3c"/><circle cx="25.9" cy="48.9" r="1.1" fill="#e42c3c"/><circle cx="-1.0" cy="45.6" r="0.8" fill="#e42c3c"/><circle cx="90.1" cy="22.8" r="0.7" fill="#e42c3c"/><circle cx="64.6" cy="55.7" r="0.7" fill="#e42c3c"/><circle cx="51.8" cy="53.5" r="0.7" fill="#e42c3c"/><circle cx="30.0" cy="32.7" r="0.7" fill="#e42c3c"/><circle cx="81.8" cy="2.3" r="1.1" fill="#e42c3c"/><circle cx="15.7" cy="72.0" r="0.7" fill="#e42c3c"/><circle cx="30.7" cy="-1.9" r="0.8" fill="#e42c3c"/><circle cx="22.1" cy="62.1" r="0.8" fill="#e42c3c"/><circle cx="29.9" cy="62.1" r="1.2" fill="#e42c3c"/><circle cx="89.2" cy="2.4" r="0.7" fill="#e42c3c"/><circle cx="26.0" cy="64.2" r="1.1" fill="#e42c3c"/><circle cx="60.2" cy="38.8" r="1.0" fill="#e42c3c"/><circle cx="16.4" cy="11.2" r="1.4" fill="#5c4fa9" fill-opacity="0.8"/><circle cx="84.3" cy="62.1" r="1.0" fill="#6237c3" fill-opacity="0.8"/><circle cx="88.5" cy="59.0" r="1.1" fill="#523fa8" fill-opacity="0.8"/><circle cx="13.3" cy="6.4" r="1.1" fill="#5233be" fill-opacity="0.8"/><circle cx="54.2" cy="6.3" r="0.9" fill="#442ea7" fill-opacity="0.8"/><circle cx="69.9" cy="32.9" r="1.0" fill="#5846a1" fill-opacity="0.8"/><circle cx="45.5" cy="23.9" r="1.1" fill="#5529c5" fill-opacity="0.8"/><circle cx="25.0" cy="54.7" r="1.3" fill="#4638a7" fill-opacity="0.8"/><circle cx="30.6" cy="20.9" r="0.9" fill="#3d42a5" fill-opacity="0.8"/><circle cx="46.6" cy="38.3" r="1.3" fill="#4a37a7" fill-opacity="0.8"/><circle cx="67.1" cy="32.5" r="1.1" fill="#5048b9" fill-opacity="0.8"/><circle cx="65.4" cy="-1.5" r="1.0" fill="#6138a9" fill-opacity="0.8"/><circle cx="94.6" cy="19.8" r="1.3" fill="#5341c1" fill-opacity="0.8"/><circle cx="72.1" cy="25.6" r="1.0" fill="#5d2eb0" fill-opacity="0.8"/><circle cx="35.3" cy="67.0" r="1.1" fill="#4a2caf" fill-opacity="0.8"/><circle cx="14.2" cy="3.5" r="1.3" fill="#5a4db4" fill-opacity="0.8"/><circle cx="51.7" cy="8.1" r="1.3" fill="#4f47a1" fill-opacity="0.8"/><circle cx="38.5" cy="66.0" r="0.9" fill="#5d2caa" fill-opacity="0.8"/><circle cx="72.1" cy="14.2" r="1.1" fill="#4c38c4" fill-opacity="0.8"/><circle cx="46.9" cy="23.4" r="1.0" fill="#4b31c1" fill-opacity="0.8"/><circle cx="43.2" cy="-2.0" r="1.0" fill="#5f39ab" fill-opacity="0.8"/><circle cx="59.9" cy="35.5" r="1.0" fill="#4b3ea8" fill-opacity="0.8"/><circle cx="57.2" cy="43.4" r="1.1" fill="#453aad" fill-opacity="0.8"/><circle cx="41.8" cy="13.5" r="1.0" fill="#5730a1" fill-opacity="0.8"/><circle cx="30.5" cy="47.4" r="0.8" fill="#4b4da6" fill-opacity="0.8"/><circle cx="89.6" cy="17.7" r="1.0" fill="#5d3eba" fill-opacity="0.8"/><circle cx="39.0" cy="56.9" r="1.3" fill="#5c2ac2" fill-opacity="0.8"/><circle cx="95.0" cy="21.6" r="0.9" fill="#4834a1" fill-opacity="0.8"/><circle cx="25.4" cy="9.6" r="0.8" fill="#5932b5" fill-opacity="0.8"/><circle cx="87.9" cy="41.0" r="1.3" fill="#5842a9" fill-opacity="0.8"/><circle cx="37.2" cy="1.1" r="0.8" fill="#442da5" fill-opacity="0.8"/><circle cx="23.6" cy="40.7" r="1.0" fill="#5834b6" fill-opacity="0.8"/><circle cx="65.4" cy="50.8" r="0.8" fill="#432ca3" fill-opacity="0.8"/><circle cx="8.5" cy="3.5" r="0.9" fill="#5949a6" fill-opacity="0.8"/><circle cx="64.3" cy="63.9" r="1.2" fill="#5035a1" fill-opacity="0.8"/><circle cx="1.1" cy="14.6" r="1.0" fill="#4043bb" fill-opacity="0.8"/><circle cx="85.0" cy="16.6" r="1.2" fill="#3f44b6" fill-opacity="0.8"/><circle cx="82.1" cy="2.1" r="1.0" fill="#5e2fae" fill-opacity="0.8"/><circle cx="11.6" cy="25.1" r="1.3" fill="#543eaa" fill-opacity="0.8"/><circle cx="28.5" cy="34.0" r="1.0" fill="#6048bc" fill-opacity="0.8"/><circle cx="32.1" cy="57.8" r="1.1" fill="#5b35be" fill-opacity="0.8"/><circle cx="57.4" cy="57.9" r="1.1" fill="#4c33af" fill-opacity="0.8"/><circle cx="87.3" cy="2.0" r="0.9" fill="#4e2daf" fill-opacity="0.8"/><circle cx="5.1" cy="2.3" r="0.9" fill="#4b36ba" fill-opacity="0.8"/><circle cx="64.0" cy="57.8" r="0.9" fill="#5e2cc3" fill-opacity="0.8"/><circle cx="83.9" cy="56.1" r="2.3" fill="#fdebef" fill-opacity="0.9"/><circle cx="40.8" cy="68.6" r="2.2" fill="#fbe8f0" fill-opacity="0.9"/><circle cx="63.9" cy="68.4" r="2.3" fill="#faeef3" fill-opacity="0.9"/><circle cx="16.2" cy="17.3" r="3.2" fill="#fde9f2" fill-opacity="0.9"/><circle cx="34.5" cy="44.1" r="2.9" fill="#ffeaf3" fill-opacity="0.9"/></g></svg>
<svg x="294" y="193" width="93" height="70" overflow="hidden"><g filter="url(#soft)"><rect x="-3" y="-3" width="99" height="76" fill="#ebe1c4"/><rect width="93" height="70" filter="url(#wA)" opacity="0.55"/><line x1="2.1" y1="2.1" x2="0.1" y2="13.7" stroke="#f6f1e6" stroke-width="1.3" stroke-opacity="0.8" stroke-linecap="round"/><line x1="11.6" y1="1.8" x2="14.2" y2="13.9" stroke="#f6f1e6" stroke-width="1.3" stroke-opacity="0.8" stroke-linecap="round"/><line x1="16.3" y1="49.4" x2="11.1" y2="54.3" stroke="#f6f1e6" stroke-width="1.3" stroke-opacity="0.8" stroke-linecap="round"/><line x1="51.4" y1="24.3" x2="48.3" y2="38.4" stroke="#f6f1e6" stroke-width="1.3" stroke-opacity="0.8" stroke-linecap="round"/><line x1="13.3" y1="1.0" x2="4.0" y2="1.8" stroke="#f6f1e6" stroke-width="1.3" stroke-opacity="0.8" stroke-linecap="round"/><line x1="19.2" y1="16.1" x2="17.7" y2="30.1" stroke="#f6f1e6" stroke-width="1.3" stroke-opacity="0.8" stroke-linecap="round"/><line x1="22.7" y1="10.9" x2="16.4" y2="19.5" stroke="#f6f1e6" stroke-width="1.3" stroke-opacity="0.8" stroke-linecap="round"/><line x1="89.0" y1="54.9" x2="88.4" y2="62.6" stroke="#f6f1e6" stroke-width="1.3" stroke-opacity="0.8" stroke-linecap="round"/><line x1="73.9" y1="64.6" x2="81.7" y2="73.9" stroke="#f6f1e6" stroke-width="1.3" stroke-opacity="0.8" stroke-linecap="round"/><line x1="79.2" y1="39.4" x2="82.3" y2="51.7" stroke="#f6f1e6" stroke-width="1.3" stroke-opacity="0.8" stroke-linecap="round"/><line x1="70.6" y1="10.7" x2="65.2" y2="16.4" stroke="#f6f1e6" stroke-width="1.3" stroke-opacity="0.8" stroke-linecap="round"/><line x1="4.0" y1="18.9" x2="3.7" y2="28.2" stroke="#f6f1e6" stroke-width="1.3" stroke-opacity="0.8" stroke-linecap="round"/><line x1="67.2" y1="58.3" x2="53.1" y2="58.8" stroke="#f6f1e6" stroke-width="1.3" stroke-opacity="0.8" stroke-linecap="round"/><line x1="92.3" y1="51.6" x2="92.5" y2="59.0" stroke="#f6f1e6" stroke-width="1.3" stroke-opacity="0.8" stroke-linecap="round"/><line x1="60.6" y1="36.0" x2="55.5" y2="40.5" stroke="#f6f1e6" stroke-width="1.3" stroke-opacity="0.8" stroke-linecap="round"/><line x1="21.6" y1="59.8" x2="14.2" y2="69.1" stroke="#f6f1e6" stroke-width="1.3" stroke-opacity="0.8" stroke-linecap="round"/><line x1="14.6" y1="27.0" x2="3.2" y2="28.8" stroke="#f6f1e6" stroke-width="1.3" stroke-opacity="0.8" stroke-linecap="round"/><line x1="94.2" y1="7.7" x2="90.2" y2="19.8" stroke="#f6f1e6" stroke-width="1.3" stroke-opacity="0.8" stroke-linecap="round"/><line x1="43.3" y1="52.3" x2="39.4" y2="58.2" stroke="#f6f1e6" stroke-width="1.3" stroke-opacity="0.8" stroke-linecap="round"/><line x1="7.4" y1="65.4" x2="11.0" y2="72.2" stroke="#f6f1e6" stroke-width="1.3" stroke-opacity="0.8" stroke-linecap="round"/><line x1="36.0" y1="48.5" x2="26.4" y2="51.4" stroke="#f6f1e6" stroke-width="1.3" stroke-opacity="0.8" stroke-linecap="round"/><line x1="45.9" y1="50.7" x2="46.8" y2="59.7" stroke="#f6f1e6" stroke-width="1.3" stroke-opacity="0.8" stroke-linecap="round"/><line x1="54.8" y1="41.8" x2="59.2" y2="47.2" stroke="#f6f1e6" stroke-width="1.3" stroke-opacity="0.8" stroke-linecap="round"/><line x1="18.3" y1="46.3" x2="7.3" y2="55.2" stroke="#f6f1e6" stroke-width="1.3" stroke-opacity="0.8" stroke-linecap="round"/><line x1="77.6" y1="14.4" x2="65.1" y2="21.3" stroke="#f6f1e6" stroke-width="1.3" stroke-opacity="0.8" stroke-linecap="round"/><line x1="33.0" y1="-3.4" x2="31.9" y2="4.9" stroke="#f6f1e6" stroke-width="1.3" stroke-opacity="0.8" stroke-linecap="round"/><circle cx="15.1" cy="1.3" r="0.3" fill="#e73460" fill-opacity="0.8"/><circle cx="18.0" cy="12.3" r="0.5" fill="#c53d57" fill-opacity="0.8"/><circle cx="65.4" cy="36.8" r="0.6" fill="#cc5167" fill-opacity="0.8"/><circle cx="42.8" cy="51.1" r="0.4" fill="#bc396a" fill-opacity="0.8"/><circle cx="70.3" cy="67.8" r="0.5" fill="#d63b6f" fill-opacity="0.8"/><circle cx="9.5" cy="29.4" r="0.3" fill="#ca4455" fill-opacity="0.8"/><circle cx="67.0" cy="38.1" r="0.4" fill="#e25e6d" fill-opacity="0.8"/><circle cx="1.2" cy="43.5" r="0.6" fill="#c33e6c" fill-opacity="0.8"/></g></svg>
<svg x="388" y="193" width="94" height="70" overflow="hidden"><g filter="url(#soft)"><rect x="-3" y="-3" width="100" height="76" fill="#e7dcbe"/><rect width="94" height="70" filter="url(#wA)" opacity="0.5"/><line x1="5.6" y1="8.4" x2="8.9" y2="21.5" stroke="#f3ede0" stroke-width="1.3" stroke-opacity="0.8" stroke-linecap="round"/><line x1="43.2" y1="46.6" x2="50.1" y2="54.2" stroke="#f3ede0" stroke-width="1.3" stroke-opacity="0.8" stroke-linecap="round"/><line x1="85.7" y1="34.8" x2="72.8" y2="38.4" stroke="#f3ede0" stroke-width="1.3" stroke-opacity="0.8" stroke-linecap="round"/><line x1="37.5" y1="-2.3" x2="32.2" y2="2.4" stroke="#f3ede0" stroke-width="1.3" stroke-opacity="0.8" stroke-linecap="round"/><line x1="6.5" y1="47.9" x2="-4.8" y2="54.4" stroke="#f3ede0" stroke-width="1.3" stroke-opacity="0.8" stroke-linecap="round"/><line x1="87.2" y1="11.6" x2="92.1" y2="16.6" stroke="#f3ede0" stroke-width="1.3" stroke-opacity="0.8" stroke-linecap="round"/><line x1="90.2" y1="5.3" x2="93.6" y2="10.4" stroke="#f3ede0" stroke-width="1.3" stroke-opacity="0.8" stroke-linecap="round"/><line x1="4.2" y1="-1.0" x2="5.1" y2="6.3" stroke="#f3ede0" stroke-width="1.3" stroke-opacity="0.8" stroke-linecap="round"/><line x1="25.7" y1="59.6" x2="32.6" y2="70.4" stroke="#f3ede0" stroke-width="1.3" stroke-opacity="0.8" stroke-linecap="round"/><line x1="71.9" y1="34.1" x2="66.9" y2="45.5" stroke="#f3ede0" stroke-width="1.3" stroke-opacity="0.8" stroke-linecap="round"/><line x1="54.5" y1="12.1" x2="55.9" y2="20.0" stroke="#f3ede0" stroke-width="1.3" stroke-opacity="0.8" stroke-linecap="round"/><line x1="37.8" y1="65.8" x2="37.5" y2="72.4" stroke="#f3ede0" stroke-width="1.3" stroke-opacity="0.8" stroke-linecap="round"/><line x1="45.4" y1="51.0" x2="44.2" y2="62.8" stroke="#f3ede0" stroke-width="1.3" stroke-opacity="0.8" stroke-linecap="round"/><line x1="10.4" y1="1.8" x2="6.7" y2="7.0" stroke="#f3ede0" stroke-width="1.3" stroke-opacity="0.8" stroke-linecap="round"/><line x1="26.9" y1="24.2" x2="29.9" y2="29.7" stroke="#f3ede0" stroke-width="1.3" stroke-opacity="0.8" stroke-linecap="round"/><line x1="5.0" y1="61.2" x2="-3.8" y2="72.0" stroke="#f3ede0" stroke-width="1.3" stroke-opacity="0.8" stroke-linecap="round"/><line x1="51.2" y1="64.3" x2="41.2" y2="69.4" stroke="#f3ede0" stroke-width="1.3" stroke-opacity="0.8" stroke-linecap="round"/><line x1="47.5" y1="31.4" x2="51.3" y2="39.8" stroke="#f3ede0" stroke-width="1.3" stroke-opacity="0.8" stroke-linecap="round"/><line x1="72.5" y1="11.2" x2="63.4" y2="16.1" stroke="#f3ede0" stroke-width="1.3" stroke-opacity="0.8" stroke-linecap="round"/><line x1="58.8" y1="54.5" x2="54.8" y2="60.5" stroke="#f3ede0" stroke-width="1.3" stroke-opacity="0.8" stroke-linecap="round"/><line x1="17.8" y1="-4.2" x2="28.8" y2="4.4" stroke="#f3ede0" stroke-width="1.3" stroke-opacity="0.8" stroke-linecap="round"/><line x1="59.1" y1="65.1" x2="52.3" y2="70.5" stroke="#f3ede0" stroke-width="1.3" stroke-opacity="0.8" stroke-linecap="round"/><line x1="91.3" y1="61.3" x2="90.5" y2="67.9" stroke="#f3ede0" stroke-width="1.3" stroke-opacity="0.8" stroke-linecap="round"/><line x1="29.6" y1="8.3" x2="30.2" y2="15.0" stroke="#f3ede0" stroke-width="1.3" stroke-opacity="0.8" stroke-linecap="round"/><circle cx="67.9" cy="70.5" r="0.4" fill="#ce7d3a" fill-opacity="0.8"/><circle cx="86.9" cy="25.9" r="0.5" fill="#a29328" fill-opacity="0.8"/><circle cx="-1.6" cy="63.2" r="0.5" fill="#c88734" fill-opacity="0.8"/><circle cx="9.2" cy="21.5" r="0.6" fill="#da6738" fill-opacity="0.8"/><circle cx="42.2" cy="64.9" r="0.3" fill="#d1693e" fill-opacity="0.8"/><circle cx="10.7" cy="4.2" r="0.6" fill="#be9451" fill-opacity="0.8"/><circle cx="71.7" cy="3.5" r="0.5" fill="#db7821" fill-opacity="0.8"/><circle cx="16.1" cy="71.1" r="0.6" fill="#ae6d48" fill-opacity="0.8"/><circle cx="47.7" cy="11.7" r="0.6" fill="#c56f1f" fill-opacity="0.8"/><circle cx="48.0" cy="53.6" r="0.4" fill="#a58555" fill-opacity="0.8"/></g></svg>
<svg x="483" y="193" width="93" height="70" overflow="hidden"><g filter="url(#soft)"><rect x="-3" y="-3" width="99" height="76" fill="#e0d0bc"/><circle cx="53.3" cy="44.8" r="3.0" fill="#f8f2ea"/><circle cx="24.9" cy="46.2" r="3.1" fill="#f8f2ea"/><circle cx="86.2" cy="11.8" r="2.6" fill="#f8f2ea"/><circle cx="57.9" cy="35.3" r="3.3" fill="#f8f2ea"/><circle cx="49.2" cy="30.9" r="3.3" fill="#f8f2ea"/><circle cx="59.7" cy="20.3" r="1.7" fill="#f8f2ea"/><circle cx="46.1" cy="1.9" r="2.5" fill="#f8f2ea"/><circle cx="69.4" cy="29.5" r="3.0" fill="#f8f2ea"/><circle cx="88.0" cy="39.1" r="2.6" fill="#f8f2ea"/><circle cx="9.4" cy="2.1" r="3.4" fill="#f8f2ea"/><circle cx="25.6" cy="13.8" r="3.2" fill="#f8f2ea"/><circle cx="70.7" cy="7.1" r="1.8" fill="#f8f2ea"/><circle cx="21.5" cy="18.2" r="1.0" fill="#f8f2ea"/><circle cx="48.9" cy="20.5" r="1.9" fill="#f8f2ea"/><circle cx="16.0" cy="6.1" r="1.1" fill="#f8f2ea"/><circle cx="82.7" cy="53.3" r="2.3" fill="#f8f2ea"/><circle cx="10.0" cy="9.0" r="1.3" fill="#f8f2ea"/><circle cx="28.7" cy="2.3" r="1.7" fill="#f8f2ea"/><circle cx="17.7" cy="12.3" r="2.6" fill="#f8f2ea"/><circle cx="42.4" cy="33.0" r="1.9" fill="#f8f2ea"/><circle cx="50.3" cy="56.1" r="1.7" fill="#f8f2ea"/><circle cx="4.8" cy="33.6" r="1.9" fill="#f8f2ea"/><circle cx="-0.6" cy="38.1" r="2.1" fill="#f8f2ea"/><circle cx="28.6" cy="63.8" r="2.7" fill="#f8f2ea"/><circle cx="13.8" cy="34.6" r="2.5" fill="#f8f2ea"/><circle cx="1.2" cy="4.5" r="2.4" fill="#f8f2ea"/><circle cx="91.3" cy="33.7" r="1.0" fill="#f8f2ea"/><circle cx="36.5" cy="57.4" r="1.8" fill="#f8f2ea"/><circle cx="71.8" cy="69.5" r="3.0" fill="#f8f2ea"/><circle cx="47.6" cy="60.9" r="2.5" fill="#f8f2ea"/><circle cx="68.0" cy="14.9" r="1.2" fill="#f8f2ea"/><circle cx="4.9" cy="66.6" r="2.9" fill="#f8f2ea"/><circle cx="53.6" cy="71.7" r="2.6" fill="#f8f2ea"/><circle cx="-1.3" cy="67.5" r="2.0" fill="#f8f2ea"/><circle cx="86.9" cy="58.2" r="1.3" fill="#f8f2ea"/><circle cx="74.8" cy="14.9" r="1.3" fill="#f8f2ea"/><circle cx="82.1" cy="69.6" r="2.8" fill="#f8f2ea"/><circle cx="79.1" cy="-0.8" r="1.0" fill="#f8f2ea"/><circle cx="81.7" cy="43.8" r="1.8" fill="#f8f2ea"/><circle cx="10.4" cy="22.6" r="1.8" fill="#f8f2ea"/><circle cx="6.0" cy="13.0" r="1.3" fill="#f8f2ea"/><circle cx="7.7" cy="28.7" r="1.3" fill="#f8f2ea"/><circle cx="75.6" cy="38.3" r="2.1" fill="#f8f2ea"/><circle cx="60.0" cy="15.4" r="1.1" fill="#f8f2ea"/><circle cx="5.6" cy="23.0" r="1.9" fill="#f8f2ea"/><circle cx="-1.2" cy="31.2" r="1.9" fill="#f8f2ea"/><circle cx="25.4" cy="51.6" r="1.5" fill="#f8f2ea"/><circle cx="60.6" cy="68.8" r="1.8" fill="#f8f2ea"/><circle cx="76.6" cy="1.1" r="1.6" fill="#f8f2ea"/><circle cx="35.4" cy="62.9" r="1.2" fill="#f8f2ea"/><circle cx="58.5" cy="12.0" r="1.5" fill="#f8f2ea"/><circle cx="83.7" cy="29.8" r="3.0" fill="#f8f2ea"/><circle cx="36.7" cy="5.3" r="2.8" fill="#f8f2ea"/><circle cx="13.4" cy="14.2" r="1.1" fill="#f8f2ea"/><circle cx="13.9" cy="26.4" r="2.1" fill="#f8f2ea"/><circle cx="45.9" cy="35.5" r="1.7" fill="#f8f2ea"/><circle cx="50.4" cy="38.2" r="1.7" fill="#f8f2ea"/><circle cx="42.5" cy="65.7" r="1.6" fill="#f8f2ea"/><circle cx="82.9" cy="57.5" r="1.5" fill="#f8f2ea"/><circle cx="41.7" cy="58.9" r="1.6" fill="#f8f2ea"/><circle cx="56.4" cy="62.5" r="3.2" fill="#f8f2ea"/><circle cx="32.0" cy="6.8" r="1.1" fill="#f8f2ea"/><circle cx="28.7" cy="38.5" r="1.7" fill="#f8f2ea"/><circle cx="78.2" cy="22.3" r="2.6" fill="#f8f2ea"/><circle cx="32.0" cy="19.4" r="1.3" fill="#f8f2ea"/><circle cx="74.5" cy="64.6" r="1.1" fill="#f8f2ea"/><circle cx="67.5" cy="2.6" r="2.0" fill="#f8f2ea"/><circle cx="47.5" cy="24.3" r="1.6" fill="#f8f2ea"/><circle cx="21.6" cy="2.6" r="1.0" fill="#f8f2ea"/><circle cx="23.1" cy="71.1" r="1.2" fill="#f8f2ea"/><circle cx="39.9" cy="22.7" r="1.4" fill="#f8f2ea"/><circle cx="91.2" cy="50.9" r="1.3" fill="#f8f2ea"/><circle cx="15.2" cy="57.9" r="1.9" fill="#f8f2ea"/><circle cx="27.2" cy="20.0" r="1.8" fill="#f8f2ea"/><circle cx="55.1" cy="21.1" r="2.4" fill="#f8f2ea"/><circle cx="61.7" cy="28.5" r="1.4" fill="#f8f2ea"/><circle cx="49.6" cy="12.8" r="2.5" fill="#f8f2ea"/><circle cx="71.7" cy="-1.1" r="2.5" fill="#f8f2ea"/><circle cx="91.6" cy="21.2" r="2.8" fill="#f8f2ea"/><circle cx="31.6" cy="67.6" r="1.4" fill="#f8f2ea"/><circle cx="62.5" cy="4.1" r="2.3" fill="#f8f2ea"/><circle cx="60.9" cy="43.2" r="2.7" fill="#f8f2ea"/><circle cx="65.2" cy="34.9" r="1.7" fill="#f8f2ea"/><circle cx="64.7" cy="24.6" r="1.9" fill="#f8f2ea"/><circle cx="48.5" cy="-1.9" r="1.5" fill="#f8f2ea"/><circle cx="32.0" cy="46.6" r="1.5" fill="#f8f2ea"/><circle cx="22.8" cy="25.0" r="3.1" fill="#f8f2ea"/><circle cx="19.6" cy="6.4" r="1.8" fill="#f8f2ea"/><circle cx="92.9" cy="27.4" r="2.9" fill="#f8f2ea"/><circle cx="76.6" cy="55.6" r="2.7" fill="#f8f2ea"/><circle cx="58.0" cy="6.9" r="1.7" fill="#f8f2ea"/><circle cx="34.0" cy="13.2" r="1.4" fill="#f8f2ea"/><circle cx="13.9" cy="45.5" r="2.3" fill="#f8f2ea"/><circle cx="77.7" cy="46.8" r="2.8" fill="#f8f2ea"/><circle cx="87.0" cy="63.8" r="1.0" fill="#f8f2ea"/><circle cx="29.0" cy="69.1" r="1.0" fill="#f8f2ea"/><circle cx="84.2" cy="18.1" r="2.3" fill="#f8f2ea"/><circle cx="92.9" cy="7.8" r="2.0" fill="#f8f2ea"/><circle cx="68.7" cy="10.8" r="1.8" fill="#f8f2ea"/><circle cx="88.5" cy="-1.9" r="2.5" fill="#f8f2ea"/><circle cx="11.3" cy="62.0" r="2.3" fill="#f8f2ea"/><circle cx="38.2" cy="52.3" r="1.9" fill="#f8f2ea"/><circle cx="64.4" cy="64.8" r="1.9" fill="#f8f2ea"/><circle cx="23.5" cy="60.0" r="1.9" fill="#f8f2ea"/><circle cx="73.1" cy="26.2" r="1.1" fill="#f8f2ea"/><circle cx="71.7" cy="44.5" r="2.8" fill="#f8f2ea"/><circle cx="71.3" cy="52.4" r="1.1" fill="#f8f2ea"/><circle cx="89.3" cy="68.7" r="1.8" fill="#f8f2ea"/><circle cx="35.9" cy="28.6" r="1.6" fill="#f8f2ea"/><circle cx="55.7" cy="14.4" r="1.6" fill="#f8f2ea"/><circle cx="9.7" cy="70.0" r="1.5" fill="#f8f2ea"/><circle cx="4.7" cy="2.8" r="1.0" fill="#f8f2ea"/><circle cx="80.1" cy="5.4" r="3.1" fill="#f8f2ea"/><circle cx="13.5" cy="69.6" r="1.7" fill="#f8f2ea"/><circle cx="2.0" cy="48.0" r="3.0" fill="#f8f2ea"/><circle cx="93.8" cy="14.6" r="3.2" fill="#f8f2ea"/><circle cx="70.0" cy="20.4" r="2.9" fill="#f8f2ea"/><circle cx="69.4" cy="59.1" r="1.8" fill="#f8f2ea"/><circle cx="67.2" cy="62.3" r="1.1" fill="#f8f2ea"/><circle cx="83.0" cy="36.8" r="1.7" fill="#f8f2ea"/><circle cx="23.2" cy="38.1" r="1.2" fill="#f8f2ea"/><circle cx="90.4" cy="56.7" r="1.3" fill="#f8f2ea"/><circle cx="43.0" cy="41.6" r="2.1" fill="#f8f2ea"/><circle cx="90.3" cy="43.4" r="1.3" fill="#f8f2ea"/><circle cx="19.3" cy="38.3" r="1.0" fill="#f8f2ea"/><circle cx="22.9" cy="66.4" r="2.6" fill="#f8f2ea"/><circle cx="0.7" cy="59.8" r="1.4" fill="#f8f2ea"/><circle cx="38.4" cy="46.0" r="3.2" fill="#f8f2ea"/><circle cx="14.6" cy="19.9" r="2.2" fill="#f8f2ea"/><circle cx="94.1" cy="2.9" r="2.0" fill="#f8f2ea"/><circle cx="10.5" cy="49.8" r="1.6" fill="#f8f2ea"/><circle cx="0.5" cy="-1.8" r="1.8" fill="#f8f2ea"/><circle cx="34.2" cy="38.3" r="2.1" fill="#f8f2ea"/><circle cx="47.7" cy="44.9" r="1.4" fill="#f8f2ea"/><circle cx="42.1" cy="9.3" r="3.2" fill="#f8f2ea"/><circle cx="55.8" cy="-0.6" r="1.8" fill="#f8f2ea"/><circle cx="89.1" cy="53.4" r="1.0" fill="#f8f2ea"/><circle cx="58.9" cy="49.2" r="1.5" fill="#f8f2ea"/><circle cx="17.0" cy="3.1" r="1.1" fill="#f8f2ea"/><circle cx="0.3" cy="16.4" r="1.8" fill="#f8f2ea"/><circle cx="48.2" cy="48.3" r="1.3" fill="#f8f2ea"/><circle cx="56.5" cy="57.0" r="1.7" fill="#f8f2ea"/><circle cx="63.7" cy="-0.9" r="1.5" fill="#f8f2ea"/><circle cx="18.4" cy="49.2" r="3.0" fill="#f8f2ea"/><circle cx="65.4" cy="46.6" r="1.9" fill="#f8f2ea"/><circle cx="1.9" cy="53.3" r="1.0" fill="#f8f2ea"/><circle cx="82.7" cy="-0.9" r="1.0" fill="#f8f2ea"/><circle cx="26.2" cy="32.0" r="1.9" fill="#f8f2ea"/><circle cx="36.9" cy="70.0" r="1.8" fill="#f8f2ea"/><circle cx="30.1" cy="54.0" r="3.0" fill="#f8f2ea"/><circle cx="22.2" cy="30.7" r="1.6" fill="#f8f2ea"/><circle cx="0.1" cy="26.0" r="2.6" fill="#f8f2ea"/><circle cx="55.4" cy="4.7" r="1.2" fill="#f8f2ea"/><circle cx="6.9" cy="43.6" r="1.8" fill="#f8f2ea"/><circle cx="9.6" cy="56.4" r="3.1" fill="#f8f2ea"/><circle cx="77.3" cy="31.4" r="2.4" fill="#f8f2ea"/><circle cx="20.7" cy="54.4" r="1.4" fill="#f8f2ea"/><circle cx="62.5" cy="50.9" r="1.7" fill="#f8f2ea"/><circle cx="74.4" cy="59.5" r="1.0" fill="#f8f2ea"/><circle cx="29.9" cy="26.1" r="2.4" fill="#f8f2ea"/><circle cx="91.0" cy="47.0" r="1.7" fill="#f8f2ea"/><circle cx="18.9" cy="68.4" r="1.2" fill="#f8f2ea"/><circle cx="55.1" cy="28.6" r="1.8" fill="#f8f2ea"/><circle cx="41.2" cy="37.0" r="1.9" fill="#f8f2ea"/><circle cx="51.4" cy="49.7" r="1.6" fill="#f8f2ea"/><circle cx="78.2" cy="35.7" r="1.0" fill="#f8f2ea"/><circle cx="60.9" cy="24.4" r="1.3" fill="#f8f2ea"/><circle cx="45.6" cy="15.9" r="1.7" fill="#f8f2ea"/><circle cx="76.8" cy="11.5" r="1.4" fill="#f8f2ea"/><circle cx="55.7" cy="51.8" r="1.4" fill="#f8f2ea"/><circle cx="30.4" cy="16.6" r="1.0" fill="#f8f2ea"/><circle cx="32.4" cy="31.0" r="1.5" fill="#f8f2ea"/><circle cx="24.6" cy="6.4" r="2.0" fill="#f8f2ea"/><circle cx="42.7" cy="17.8" r="1.1" fill="#f8f2ea"/><circle cx="30.7" cy="13.1" r="1.2" fill="#f8f2ea"/><circle cx="65.1" cy="70.3" r="1.4" fill="#f8f2ea"/><circle cx="47.2" cy="52.1" r="1.7" fill="#f8f2ea"/><circle cx="64.8" cy="40.3" r="1.5" fill="#f8f2ea"/><circle cx="62.6" cy="57.3" r="2.6" fill="#f8f2ea"/><circle cx="4.2" cy="71.7" r="1.8" fill="#f8f2ea"/><circle cx="86.8" cy="4.5" r="1.8" fill="#f8f2ea"/><circle cx="86.4" cy="25.9" r="1.1" fill="#f8f2ea"/><circle cx="39.4" cy="-1.0" r="1.7" fill="#f8f2ea"/><circle cx="94.3" cy="38.1" r="2.7" fill="#f8f2ea"/><circle cx="6.0" cy="17.8" r="2.4" fill="#f8f2ea"/><circle cx="71.5" cy="37.3" r="1.4" fill="#f8f2ea"/><circle cx="16.9" cy="39.6" r="1.1" fill="#f8f2ea"/><circle cx="0.5" cy="9.6" r="1.8" fill="#f8f2ea"/><circle cx="36.4" cy="24.2" r="2.0" fill="#f8f2ea"/><circle cx="48.2" cy="68.2" r="2.7" fill="#f8f2ea"/><circle cx="36.8" cy="48.9" r="0.3" fill="#ac6029" fill-opacity="0.8"/><circle cx="16.8" cy="-0.7" r="0.6" fill="#e33d4a" fill-opacity="0.8"/><circle cx="75.7" cy="16.3" r="0.4" fill="#b86247" fill-opacity="0.8"/><circle cx="27.7" cy="51.5" r="0.5" fill="#ce5d47" fill-opacity="0.8"/><circle cx="2.6" cy="70.0" r="0.7" fill="#db3751" fill-opacity="0.8"/><circle cx="19.2" cy="22.4" r="0.5" fill="#ba4e48" fill-opacity="0.8"/><circle cx="39.6" cy="51.0" r="0.6" fill="#e4454d" fill-opacity="0.8"/><circle cx="29.3" cy="59.9" r="0.4" fill="#d33a4d" fill-opacity="0.8"/><circle cx="25.1" cy="43.3" r="0.3" fill="#c14f4b" fill-opacity="0.8"/><circle cx="86.6" cy="66.0" r="0.4" fill="#d54849" fill-opacity="0.8"/><circle cx="35.6" cy="5.2" r="0.3" fill="#b85c3d" fill-opacity="0.8"/><circle cx="79.7" cy="45.6" r="0.6" fill="#d43956" fill-opacity="0.8"/></g></svg>
<svg x="577" y="193" width="94" height="70" overflow="hidden"><g filter="url(#soft)"><rect x="-3" y="-3" width="100" height="76" fill="#ecdcb6"/><circle cx="49.8" cy="41.3" r="5.0" fill="#f8f3ec"/><circle cx="86.1" cy="63.3" r="3.2" fill="#f8f3ec"/><circle cx="91.0" cy="29.4" r="3.0" fill="#f8f3ec"/><circle cx="7.3" cy="35.9" r="2.4" fill="#f8f3ec"/><circle cx="24.9" cy="43.2" r="4.8" fill="#f8f3ec"/><circle cx="71.8" cy="4.4" r="2.0" fill="#f8f3ec"/><circle cx="76.4" cy="67.1" r="4.0" fill="#f8f3ec"/><circle cx="60.4" cy="19.6" r="3.0" fill="#f8f3ec"/><circle cx="54.2" cy="27.0" r="3.4" fill="#f8f3ec"/><circle cx="22.3" cy="58.3" r="4.0" fill="#f8f3ec"/><circle cx="71.4" cy="58.1" r="2.9" fill="#f8f3ec"/><circle cx="9.5" cy="18.9" r="5.2" fill="#f8f3ec"/><circle cx="75.6" cy="28.0" r="4.8" fill="#f8f3ec"/><circle cx="31.5" cy="62.0" r="2.1" fill="#f8f3ec"/><circle cx="43.3" cy="7.7" r="2.8" fill="#f8f3ec"/><circle cx="20.9" cy="19.9" r="2.1" fill="#f8f3ec"/><circle cx="27.3" cy="5.7" r="3.8" fill="#f8f3ec"/><circle cx="37.8" cy="14.8" r="5.4" fill="#f8f3ec"/><circle cx="83.3" cy="2.8" r="4.6" fill="#f8f3ec"/><circle cx="25.3" cy="67.1" r="4.1" fill="#f8f3ec"/><circle cx="82.1" cy="38.5" r="4.7" fill="#f8f3ec"/><circle cx="13.1" cy="67.0" r="5.5" fill="#f8f3ec"/><circle cx="75.8" cy="17.7" r="4.7" fill="#f8f3ec"/><circle cx="43.2" cy="28.1" r="3.6" fill="#f8f3ec"/><circle cx="37.0" cy="67.9" r="3.0" fill="#f8f3ec"/><circle cx="94.3" cy="59.6" r="3.5" fill="#f8f3ec"/><circle cx="58.9" cy="6.9" r="2.7" fill="#f8f3ec"/><circle cx="68.7" cy="45.0" r="4.4" fill="#f8f3ec"/><circle cx="45.5" cy="61.3" r="2.9" fill="#f8f3ec"/><circle cx="64.8" cy="0.6" r="3.0" fill="#f8f3ec"/><circle cx="14.8" cy="35.3" r="1.9" fill="#f8f3ec"/><circle cx="4.1" cy="5.4" r="5.1" fill="#f8f3ec"/><circle cx="57.0" cy="62.1" r="5.4" fill="#f8f3ec"/><circle cx="95.0" cy="37.3" r="4.4" fill="#f8f3ec"/><circle cx="37.9" cy="55.4" r="3.0" fill="#f8f3ec"/><circle cx="20.0" cy="12.6" r="4.5" fill="#f8f3ec"/><circle cx="0.8" cy="67.9" r="2.7" fill="#f8f3ec"/><circle cx="85.8" cy="53.0" r="4.8" fill="#f8f3ec"/><circle cx="85.9" cy="15.2" r="3.2" fill="#f8f3ec"/><circle cx="45.1" cy="70.5" r="3.8" fill="#f8f3ec"/><circle cx="58.9" cy="36.3" r="4.0" fill="#f8f3ec"/><circle cx="45.4" cy="34.3" r="1.9" fill="#f8f3ec"/><circle cx="6.6" cy="55.5" r="4.8" fill="#f8f3ec"/><circle cx="33.0" cy="37.6" r="4.2" fill="#f8f3ec"/><circle cx="20.7" cy="-1.7" r="3.6" fill="#f8f3ec"/><circle cx="50.0" cy="14.4" r="3.4" fill="#f8f3ec"/><circle cx="64.5" cy="55.5" r="2.7" fill="#f8f3ec"/><circle cx="-1.9" cy="25.0" r="4.3" fill="#f8f3ec"/><circle cx="30.4" cy="25.9" r="4.7" fill="#f8f3ec"/><circle cx="32.5" cy="46.2" r="2.2" fill="#f8f3ec"/><circle cx="64.3" cy="67.8" r="3.0" fill="#f8f3ec"/><circle cx="48.9" cy="50.5" r="3.0" fill="#f8f3ec"/><circle cx="-1.8" cy="46.6" r="4.9" fill="#f8f3ec"/><circle cx="20.7" cy="34.9" r="2.7" fill="#f8f3ec"/><circle cx="15.5" cy="41.5" r="3.1" fill="#f8f3ec"/><circle cx="56.2" cy="52.0" r="3.2" fill="#f8f3ec"/><circle cx="92.6" cy="7.1" r="4.6" fill="#f8f3ec"/><circle cx="67.9" cy="21.5" r="2.2" fill="#f8f3ec"/><circle cx="85.9" cy="71.7" r="2.2" fill="#f8f3ec"/><circle cx="56.9" cy="0.6" r="2.2" fill="#f8f3ec"/><circle cx="37.4" cy="49.5" r="1.7" fill="#f6efe4"/><circle cx="42.1" cy="-0.1" r="1.5" fill="#f6efe4"/><circle cx="91.9" cy="50.7" r="1.1" fill="#f6efe4"/><circle cx="-1.9" cy="18.4" r="1.2" fill="#f6efe4"/><circle cx="80.4" cy="48.1" r="1.3" fill="#f6efe4"/><circle cx="17.8" cy="53.5" r="1.6" fill="#f6efe4"/><circle cx="20.7" cy="49.1" r="1.2" fill="#f6efe4"/><circle cx="86.5" cy="24.3" r="1.4" fill="#f6efe4"/><circle cx="40.0" cy="44.2" r="1.9" fill="#f6efe4"/><circle cx="5.1" cy="65.1" r="1.6" fill="#f6efe4"/><circle cx="69.4" cy="37.6" r="1.0" fill="#f6efe4"/><circle cx="64.2" cy="14.4" r="1.6" fill="#f6efe4"/><circle cx="47.7" cy="7.7" r="0.9" fill="#f6efe4"/><circle cx="5.3" cy="42.1" r="1.1" fill="#f6efe4"/><circle cx="14.6" cy="55.2" r="1.3" fill="#f6efe4"/><circle cx="94.9" cy="-1.1" r="1.1" fill="#f6efe4"/><circle cx="81.9" cy="30.4" r="1.1" fill="#f6efe4"/><circle cx="86.8" cy="46.3" r="0.8" fill="#f6efe4"/><circle cx="26.4" cy="18.7" r="1.2" fill="#f6efe4"/><circle cx="3.0" cy="33.4" r="1.7" fill="#f6efe4"/><circle cx="41.3" cy="35.5" r="1.8" fill="#f6efe4"/><circle cx="60.0" cy="47.5" r="1.9" fill="#f6efe4"/><circle cx="11.1" cy="45.1" r="2.0" fill="#f6efe4"/><circle cx="7.7" cy="30.2" r="1.8" fill="#f6efe4"/><circle cx="14.2" cy="5.6" r="1.7" fill="#f6efe4"/><circle cx="33.2" cy="49.9" r="0.9" fill="#f6efe4"/><circle cx="23.9" cy="25.5" r="0.8" fill="#f6efe4"/><circle cx="18.8" cy="25.4" r="1.0" fill="#f6efe4"/><circle cx="83.1" cy="11.1" r="1.3" fill="#f6efe4"/><circle cx="63.7" cy="49.5" r="1.3" fill="#f6efe4"/><circle cx="32.9" cy="2.4" r="1.9" fill="#f6efe4"/><circle cx="87.3" cy="33.4" r="1.6" fill="#f6efe4"/><circle cx="90.4" cy="17.3" r="0.8" fill="#f6efe4"/><circle cx="31.8" cy="66.6" r="1.1" fill="#f6efe4"/><circle cx="93.2" cy="16.0" r="1.8" fill="#f6efe4"/><circle cx="62.2" cy="28.1" r="0.9" fill="#f6efe4"/><circle cx="60.3" cy="15.2" r="0.8" fill="#f6efe4"/><circle cx="29.2" cy="49.1" r="1.6" fill="#f6efe4"/><circle cx="50.7" cy="4.3" r="1.9" fill="#f6efe4"/><circle cx="82.1" cy="23.1" r="1.7" fill="#f6efe4"/><circle cx="52.3" cy="10.3" r="1.0" fill="#f6efe4"/><circle cx="69.5" cy="32.3" r="0.9" fill="#f6efe4"/><circle cx="74.7" cy="1.5" r="1.0" fill="#f6efe4"/><circle cx="30.7" cy="11.2" r="1.1" fill="#f6efe4"/><circle cx="16.2" cy="30.5" r="1.9" fill="#f6efe4"/><circle cx="24.5" cy="36.9" r="1.1" fill="#f6efe4"/><circle cx="64.1" cy="9.6" r="1.8" fill="#f6efe4"/><circle cx="64.0" cy="61.4" r="1.0" fill="#f6efe4"/><circle cx="87.9" cy="20.9" r="1.9" fill="#f6efe4"/><circle cx="35.3" cy="-1.2" r="2.0" fill="#f6efe4"/><circle cx="23.7" cy="49.8" r="1.1" fill="#f6efe4"/><circle cx="69.1" cy="15.3" r="1.6" fill="#f6efe4"/><circle cx="9.0" cy="-1.6" r="1.0" fill="#f6efe4"/><circle cx="52.4" cy="7.1" r="1.0" fill="#f6efe4"/><circle cx="79.6" cy="58.7" r="0.9" fill="#f6efe4"/><circle cx="83.4" cy="28.0" r="1.1" fill="#f6efe4"/><circle cx="0.8" cy="37.3" r="1.0" fill="#f6efe4"/><circle cx="3.4" cy="61.9" r="1.7" fill="#f6efe4"/><circle cx="63.0" cy="24.6" r="1.1" fill="#f6efe4"/><circle cx="39.1" cy="60.4" r="1.4" fill="#f6efe4"/><line x1="47.7" y1="44.3" x2="49.1" y2="49.8" stroke="#dc2a52" stroke-width="0.9" stroke-opacity="0.85" stroke-linecap="round"/><line x1="65.4" y1="51.6" x2="67.1" y2="54.5" stroke="#dc2a52" stroke-width="0.9" stroke-opacity="0.85" stroke-linecap="round"/><line x1="54.4" y1="7.7" x2="56.4" y2="5.8" stroke="#dc2a52" stroke-width="0.9" stroke-opacity="0.85" stroke-linecap="round"/><line x1="89.3" y1="18.6" x2="94.8" y2="17.2" stroke="#dc2a52" stroke-width="0.9" stroke-opacity="0.85" stroke-linecap="round"/><line x1="59.4" y1="6.7" x2="62.0" y2="8.3" stroke="#dc2a52" stroke-width="0.9" stroke-opacity="0.85" stroke-linecap="round"/><line x1="16.8" y1="17.4" x2="19.6" y2="15.2" stroke="#dc2a52" stroke-width="0.9" stroke-opacity="0.85" stroke-linecap="round"/><line x1="86.5" y1="23.9" x2="90.0" y2="22.5" stroke="#dc2a52" stroke-width="0.9" stroke-opacity="0.85" stroke-linecap="round"/><line x1="80.1" y1="35.1" x2="84.1" y2="37.8" stroke="#dc2a52" stroke-width="0.9" stroke-opacity="0.85" stroke-linecap="round"/><line x1="42.2" y1="67.5" x2="46.1" y2="67.7" stroke="#dc2a52" stroke-width="0.9" stroke-opacity="0.85" stroke-linecap="round"/><line x1="15.8" y1="15.4" x2="20.1" y2="15.7" stroke="#dc2a52" stroke-width="0.9" stroke-opacity="0.85" stroke-linecap="round"/><line x1="85.0" y1="12.0" x2="88.8" y2="12.2" stroke="#dc2a52" stroke-width="0.9" stroke-opacity="0.85" stroke-linecap="round"/><line x1="4.3" y1="42.7" x2="8.6" y2="40.1" stroke="#dc2a52" stroke-width="0.9" stroke-opacity="0.85" stroke-linecap="round"/><line x1="26.6" y1="65.6" x2="26.1" y2="70.3" stroke="#dc2a52" stroke-width="0.9" stroke-opacity="0.85" stroke-linecap="round"/><line x1="65.9" y1="22.3" x2="69.1" y2="21.8" stroke="#dc2a52" stroke-width="0.9" stroke-opacity="0.85" stroke-linecap="round"/><path d="M20,8 L28,14 L33,22 L40,24 M8,18 L16,20 M60,36 L66,44 L74,46 L84,56 M86,50 L92,58" stroke="#e03058" stroke-width="1" fill="none" opacity="0.8"/></g></svg>
<svg x="294" y="264" width="93" height="70" overflow="hidden"><g filter="url(#soft)"><rect x="-3" y="-3" width="99" height="76" fill="#f0e2d2"/><rect width="93" height="70" filter="url(#wA)" opacity="0.45"/><circle cx="35.4" cy="16.2" r="1.3" fill="#8e86c4" stroke="#5e56a2" stroke-width="0.8" opacity="0.7"/><circle cx="85.0" cy="40.5" r="1.5" fill="#8e86c4" stroke="#5e56a2" stroke-width="0.8" opacity="0.7"/><circle cx="51.4" cy="26.8" r="1.5" fill="#8e86c4" stroke="#5e56a2" stroke-width="0.8" opacity="0.7"/><circle cx="53.6" cy="54.7" r="1.5" fill="#8e86c4" stroke="#5e56a2" stroke-width="0.8" opacity="0.7"/><circle cx="78.1" cy="30.8" r="1.3" fill="#8e86c4" stroke="#5e56a2" stroke-width="0.8" opacity="0.7"/><circle cx="13.9" cy="50.6" r="1.3" fill="#8e86c4" stroke="#5e56a2" stroke-width="0.8" opacity="0.7"/><circle cx="60.9" cy="43.5" r="1.2" fill="#8e86c4" stroke="#5e56a2" stroke-width="0.8" opacity="0.7"/><circle cx="72.9" cy="2.3" r="1.6" fill="#8e86c4" stroke="#5e56a2" stroke-width="0.8" opacity="0.7"/><circle cx="78.2" cy="15.1" r="1.5" fill="#8e86c4" stroke="#5e56a2" stroke-width="0.8" opacity="0.7"/><circle cx="68.1" cy="8.8" r="1.5" fill="#8e86c4" stroke="#5e56a2" stroke-width="0.8" opacity="0.7"/><circle cx="11.5" cy="63.9" r="1.5" fill="#8e86c4" stroke="#5e56a2" stroke-width="0.8" opacity="0.7"/><circle cx="91.1" cy="3.7" r="1.3" fill="#8e86c4" stroke="#5e56a2" stroke-width="0.8" opacity="0.7"/><circle cx="57.7" cy="42.6" r="1.3" fill="#8e86c4" stroke="#5e56a2" stroke-width="0.8" opacity="0.7"/><circle cx="82.6" cy="59.3" r="1.3" fill="#8e86c4" stroke="#5e56a2" stroke-width="0.8" opacity="0.7"/><circle cx="13.6" cy="46.7" r="1.4" fill="#8e86c4" stroke="#5e56a2" stroke-width="0.8" opacity="0.7"/><circle cx="61.7" cy="34.5" r="1.4" fill="#8e86c4" stroke="#5e56a2" stroke-width="0.8" opacity="0.7"/><circle cx="2.0" cy="9.4" r="1.4" fill="#8e86c4" stroke="#5e56a2" stroke-width="0.8" opacity="0.7"/><circle cx="67.7" cy="29.8" r="1.5" fill="#8e86c4" stroke="#5e56a2" stroke-width="0.8" opacity="0.7"/><circle cx="50.2" cy="61.6" r="1.5" fill="#8e86c4" stroke="#5e56a2" stroke-width="0.8" opacity="0.7"/><circle cx="29.9" cy="9.7" r="1.2" fill="#8e86c4" stroke="#5e56a2" stroke-width="0.8" opacity="0.7"/><circle cx="3.7" cy="60.4" r="1.6" fill="#8e86c4" stroke="#5e56a2" stroke-width="0.8" opacity="0.7"/><circle cx="69.9" cy="7.7" r="1.5" fill="#8e86c4" stroke="#5e56a2" stroke-width="0.8" opacity="0.7"/><circle cx="11.9" cy="62.2" r="1.5" fill="#8e86c4" stroke="#5e56a2" stroke-width="0.8" opacity="0.7"/><circle cx="69.7" cy="42.6" r="1.4" fill="#8e86c4" stroke="#5e56a2" stroke-width="0.8" opacity="0.7"/><circle cx="78.9" cy="67.3" r="1.3" fill="#8e86c4" stroke="#5e56a2" stroke-width="0.8" opacity="0.7"/><circle cx="40.7" cy="51.3" r="1.5" fill="#8e86c4" stroke="#5e56a2" stroke-width="0.8" opacity="0.7"/><circle cx="38.2" cy="31.5" r="1.6" fill="#8e86c4" stroke="#5e56a2" stroke-width="0.8" opacity="0.7"/><circle cx="25.7" cy="14.8" r="1.5" fill="#8e86c4" stroke="#5e56a2" stroke-width="0.8" opacity="0.7"/><circle cx="25.8" cy="62.8" r="1.3" fill="#8e86c4" stroke="#5e56a2" stroke-width="0.8" opacity="0.7"/><circle cx="86.0" cy="26.6" r="1.6" fill="#8e86c4" stroke="#5e56a2" stroke-width="0.8" opacity="0.7"/><circle cx="69.9" cy="51.2" r="1.3" fill="#8e86c4" stroke="#5e56a2" stroke-width="0.8" opacity="0.7"/><circle cx="15.3" cy="2.2" r="1.3" fill="#8e86c4" stroke="#5e56a2" stroke-width="0.8" opacity="0.7"/><circle cx="62.0" cy="4.5" r="1.3" fill="#8e86c4" stroke="#5e56a2" stroke-width="0.8" opacity="0.7"/><circle cx="52.7" cy="10.9" r="1.3" fill="#8e86c4" stroke="#5e56a2" stroke-width="0.8" opacity="0.7"/><circle cx="21.2" cy="47.3" r="1.2" fill="#8e86c4" stroke="#5e56a2" stroke-width="0.8" opacity="0.7"/><circle cx="92.8" cy="41.9" r="1.5" fill="#8e86c4" stroke="#5e56a2" stroke-width="0.8" opacity="0.7"/><circle cx="51.4" cy="34.8" r="1.6" fill="#8e86c4" stroke="#5e56a2" stroke-width="0.8" opacity="0.7"/><circle cx="83.1" cy="57.5" r="1.2" fill="#8e86c4" stroke="#5e56a2" stroke-width="0.8" opacity="0.7"/><circle cx="54.8" cy="65.9" r="1.5" fill="#8e86c4" stroke="#5e56a2" stroke-width="0.8" opacity="0.7"/><circle cx="47.7" cy="45.5" r="1.3" fill="#8e86c4" stroke="#5e56a2" stroke-width="0.8" opacity="0.7"/><circle cx="67.7" cy="54.9" r="1.2" fill="#8e86c4" stroke="#5e56a2" stroke-width="0.8" opacity="0.7"/><circle cx="47.4" cy="41.7" r="1.3" fill="#8e86c4" stroke="#5e56a2" stroke-width="0.8" opacity="0.7"/><circle cx="63.4" cy="64.5" r="1.6" fill="#8e86c4" stroke="#5e56a2" stroke-width="0.8" opacity="0.7"/><circle cx="28.6" cy="10.6" r="1.5" fill="#8e86c4" stroke="#5e56a2" stroke-width="0.8" opacity="0.7"/><line x1="57.7" y1="56.7" x2="56.1" y2="59.4" stroke="#b8701e" stroke-width="1.1" stroke-opacity="0.85" stroke-linecap="round"/><line x1="55.3" y1="19.1" x2="53.9" y2="23.3" stroke="#b8701e" stroke-width="1.1" stroke-opacity="0.85" stroke-linecap="round"/><line x1="21.8" y1="33.6" x2="22.7" y2="36.4" stroke="#b8701e" stroke-width="1.1" stroke-opacity="0.85" stroke-linecap="round"/><line x1="15.1" y1="33.7" x2="18.8" y2="32.7" stroke="#b8701e" stroke-width="1.1" stroke-opacity="0.85" stroke-linecap="round"/><line x1="85.1" y1="58.6" x2="89.7" y2="57.0" stroke="#b8701e" stroke-width="1.1" stroke-opacity="0.85" stroke-linecap="round"/><line x1="64.5" y1="50.5" x2="68.8" y2="48.6" stroke="#b8701e" stroke-width="1.1" stroke-opacity="0.85" stroke-linecap="round"/><line x1="16.7" y1="55.4" x2="19.7" y2="57.0" stroke="#b8701e" stroke-width="1.1" stroke-opacity="0.85" stroke-linecap="round"/><line x1="13.6" y1="60.3" x2="18.5" y2="61.1" stroke="#b8701e" stroke-width="1.1" stroke-opacity="0.85" stroke-linecap="round"/><line x1="47.6" y1="8.4" x2="48.0" y2="12.3" stroke="#b8701e" stroke-width="1.1" stroke-opacity="0.85" stroke-linecap="round"/><line x1="1.4" y1="57.3" x2="3.6" y2="58.0" stroke="#b8701e" stroke-width="1.1" stroke-opacity="0.85" stroke-linecap="round"/><line x1="70.1" y1="50.0" x2="72.4" y2="51.8" stroke="#b8701e" stroke-width="1.1" stroke-opacity="0.85" stroke-linecap="round"/><line x1="49.0" y1="39.2" x2="49.0" y2="42.9" stroke="#b8701e" stroke-width="1.1" stroke-opacity="0.85" stroke-linecap="round"/><line x1="51.4" y1="50.4" x2="54.2" y2="50.6" stroke="#b8701e" stroke-width="1.1" stroke-opacity="0.85" stroke-linecap="round"/><line x1="45.9" y1="50.5" x2="44.2" y2="55.1" stroke="#b8701e" stroke-width="1.1" stroke-opacity="0.85" stroke-linecap="round"/><line x1="39.1" y1="50.3" x2="42.5" y2="49.6" stroke="#b8701e" stroke-width="1.1" stroke-opacity="0.85" stroke-linecap="round"/><line x1="8.0" y1="57.2" x2="4.5" y2="59.8" stroke="#b8701e" stroke-width="1.1" stroke-opacity="0.85" stroke-linecap="round"/><line x1="70.4" y1="24.9" x2="69.6" y2="27.3" stroke="#b8701e" stroke-width="1.1" stroke-opacity="0.85" stroke-linecap="round"/><line x1="35.2" y1="23.3" x2="33.8" y2="25.8" stroke="#b8701e" stroke-width="1.1" stroke-opacity="0.85" stroke-linecap="round"/><line x1="15.5" y1="4.8" x2="14.1" y2="7.7" stroke="#b8701e" stroke-width="1.1" stroke-opacity="0.85" stroke-linecap="round"/><line x1="84.6" y1="20.6" x2="83.4" y2="23.2" stroke="#b8701e" stroke-width="1.1" stroke-opacity="0.85" stroke-linecap="round"/><line x1="85.1" y1="66.3" x2="82.7" y2="70.0" stroke="#b8701e" stroke-width="1.1" stroke-opacity="0.85" stroke-linecap="round"/><line x1="84.5" y1="62.9" x2="82.2" y2="65.1" stroke="#b8701e" stroke-width="1.1" stroke-opacity="0.85" stroke-linecap="round"/><line x1="77.8" y1="53.9" x2="80.2" y2="55.3" stroke="#b8701e" stroke-width="1.1" stroke-opacity="0.85" stroke-linecap="round"/><line x1="82.5" y1="30.8" x2="84.8" y2="35.3" stroke="#b8701e" stroke-width="1.1" stroke-opacity="0.85" stroke-linecap="round"/><line x1="45.0" y1="15.7" x2="45.0" y2="19.6" stroke="#b8701e" stroke-width="1.1" stroke-opacity="0.85" stroke-linecap="round"/><line x1="26.2" y1="47.2" x2="24.4" y2="49.7" stroke="#b8701e" stroke-width="1.1" stroke-opacity="0.85" stroke-linecap="round"/><line x1="74.9" y1="51.5" x2="76.3" y2="54.0" stroke="#b8701e" stroke-width="1.1" stroke-opacity="0.85" stroke-linecap="round"/><line x1="59.4" y1="19.1" x2="64.2" y2="20.3" stroke="#b8701e" stroke-width="1.1" stroke-opacity="0.85" stroke-linecap="round"/><line x1="26.4" y1="4.1" x2="24.0" y2="8.9" stroke="#b8701e" stroke-width="1.1" stroke-opacity="0.85" stroke-linecap="round"/><line x1="27.4" y1="26.3" x2="29.4" y2="30.4" stroke="#b8701e" stroke-width="1.1" stroke-opacity="0.85" stroke-linecap="round"/><line x1="-1.4" y1="44.8" x2="3.7" y2="45.9" stroke="#b8701e" stroke-width="1.1" stroke-opacity="0.85" stroke-linecap="round"/><line x1="37.1" y1="64.5" x2="40.0" y2="67.7" stroke="#b8701e" stroke-width="1.1" stroke-opacity="0.85" stroke-linecap="round"/><circle cx="1.7" cy="13.0" r="0.6" fill="#401a1a" fill-opacity="0.9"/><circle cx="6.5" cy="39.9" r="1.0" fill="#542c31" fill-opacity="0.9"/><circle cx="68.7" cy="44.9" r="0.7" fill="#35372d" fill-opacity="0.9"/><circle cx="76.1" cy="49.0" r="0.9" fill="#583a28" fill-opacity="0.9"/><circle cx="-0.4" cy="68.1" r="0.8" fill="#442514" fill-opacity="0.9"/><circle cx="1.3" cy="43.8" r="0.8" fill="#35382e" fill-opacity="0.9"/></g></svg>
<svg x="388" y="264" width="94" height="70" overflow="hidden"><g filter="url(#soft)"><rect x="-3" y="-3" width="100" height="76" fill="#efe0d0"/><rect width="94" height="70" filter="url(#wA)" opacity="0.45"/><circle cx="60.1" cy="1.8" r="1.3" fill="#8e86c4" stroke="#5e56a2" stroke-width="0.8" opacity="0.7"/><circle cx="21.0" cy="51.6" r="1.5" fill="#8e86c4" stroke="#5e56a2" stroke-width="0.8" opacity="0.7"/><circle cx="83.9" cy="6.1" r="1.4" fill="#8e86c4" stroke="#5e56a2" stroke-width="0.8" opacity="0.7"/><circle cx="2.8" cy="15.3" r="1.4" fill="#8e86c4" stroke="#5e56a2" stroke-width="0.8" opacity="0.7"/><circle cx="2.5" cy="13.9" r="1.5" fill="#8e86c4" stroke="#5e56a2" stroke-width="0.8" opacity="0.7"/><circle cx="51.2" cy="15.4" r="1.4" fill="#8e86c4" stroke="#5e56a2" stroke-width="0.8" opacity="0.7"/><circle cx="76.1" cy="0.5" r="1.5" fill="#8e86c4" stroke="#5e56a2" stroke-width="0.8" opacity="0.7"/><circle cx="65.6" cy="23.8" r="1.3" fill="#8e86c4" stroke="#5e56a2" stroke-width="0.8" opacity="0.7"/><circle cx="90.0" cy="23.6" r="1.2" fill="#8e86c4" stroke="#5e56a2" stroke-width="0.8" opacity="0.7"/><circle cx="9.1" cy="59.3" r="1.4" fill="#8e86c4" stroke="#5e56a2" stroke-width="0.8" opacity="0.7"/><circle cx="75.9" cy="51.1" r="1.4" fill="#8e86c4" stroke="#5e56a2" stroke-width="0.8" opacity="0.7"/><circle cx="91.5" cy="26.5" r="1.4" fill="#8e86c4" stroke="#5e56a2" stroke-width="0.8" opacity="0.7"/><circle cx="78.0" cy="43.3" r="1.6" fill="#8e86c4" stroke="#5e56a2" stroke-width="0.8" opacity="0.7"/><circle cx="54.3" cy="49.3" r="1.2" fill="#8e86c4" stroke="#5e56a2" stroke-width="0.8" opacity="0.7"/><circle cx="21.4" cy="20.3" r="1.2" fill="#8e86c4" stroke="#5e56a2" stroke-width="0.8" opacity="0.7"/><circle cx="21.9" cy="7.1" r="1.3" fill="#8e86c4" stroke="#5e56a2" stroke-width="0.8" opacity="0.7"/><circle cx="59.8" cy="25.5" r="1.3" fill="#8e86c4" stroke="#5e56a2" stroke-width="0.8" opacity="0.7"/><circle cx="19.7" cy="18.7" r="1.6" fill="#8e86c4" stroke="#5e56a2" stroke-width="0.8" opacity="0.7"/><circle cx="60.9" cy="42.6" r="1.3" fill="#8e86c4" stroke="#5e56a2" stroke-width="0.8" opacity="0.7"/><circle cx="68.5" cy="11.4" r="1.3" fill="#8e86c4" stroke="#5e56a2" stroke-width="0.8" opacity="0.7"/><circle cx="93.0" cy="44.8" r="1.4" fill="#8e86c4" stroke="#5e56a2" stroke-width="0.8" opacity="0.7"/><circle cx="64.4" cy="59.0" r="1.5" fill="#8e86c4" stroke="#5e56a2" stroke-width="0.8" opacity="0.7"/><circle cx="21.5" cy="2.2" r="1.3" fill="#8e86c4" stroke="#5e56a2" stroke-width="0.8" opacity="0.7"/><circle cx="25.2" cy="14.8" r="1.6" fill="#8e86c4" stroke="#5e56a2" stroke-width="0.8" opacity="0.7"/><circle cx="82.4" cy="22.0" r="1.5" fill="#8e86c4" stroke="#5e56a2" stroke-width="0.8" opacity="0.7"/><circle cx="37.2" cy="64.0" r="1.4" fill="#8e86c4" stroke="#5e56a2" stroke-width="0.8" opacity="0.7"/><circle cx="24.9" cy="17.3" r="1.4" fill="#8e86c4" stroke="#5e56a2" stroke-width="0.8" opacity="0.7"/><circle cx="24.7" cy="40.9" r="1.6" fill="#8e86c4" stroke="#5e56a2" stroke-width="0.8" opacity="0.7"/><circle cx="37.5" cy="15.4" r="1.6" fill="#8e86c4" stroke="#5e56a2" stroke-width="0.8" opacity="0.7"/><circle cx="47.9" cy="6.4" r="1.2" fill="#8e86c4" stroke="#5e56a2" stroke-width="0.8" opacity="0.7"/><circle cx="10.3" cy="43.9" r="1.5" fill="#8e86c4" stroke="#5e56a2" stroke-width="0.8" opacity="0.7"/><circle cx="39.7" cy="4.4" r="1.4" fill="#8e86c4" stroke="#5e56a2" stroke-width="0.8" opacity="0.7"/><circle cx="93.6" cy="37.0" r="1.6" fill="#8e86c4" stroke="#5e56a2" stroke-width="0.8" opacity="0.7"/><circle cx="80.9" cy="0.8" r="1.5" fill="#8e86c4" stroke="#5e56a2" stroke-width="0.8" opacity="0.7"/><circle cx="64.1" cy="37.6" r="1.3" fill="#8e86c4" stroke="#5e56a2" stroke-width="0.8" opacity="0.7"/><circle cx="60.3" cy="7.8" r="1.4" fill="#8e86c4" stroke="#5e56a2" stroke-width="0.8" opacity="0.7"/><circle cx="42.7" cy="66.8" r="1.6" fill="#8e86c4" stroke="#5e56a2" stroke-width="0.8" opacity="0.7"/><circle cx="24.8" cy="35.0" r="1.3" fill="#8e86c4" stroke="#5e56a2" stroke-width="0.8" opacity="0.7"/><circle cx="85.8" cy="60.9" r="1.3" fill="#8e86c4" stroke="#5e56a2" stroke-width="0.8" opacity="0.7"/><circle cx="60.1" cy="42.6" r="1.3" fill="#8e86c4" stroke="#5e56a2" stroke-width="0.8" opacity="0.7"/><line x1="71.0" y1="35.9" x2="72.3" y2="39.6" stroke="#b0681c" stroke-width="1.1" stroke-opacity="0.85" stroke-linecap="round"/><line x1="-1.3" y1="24.9" x2="1.4" y2="20.5" stroke="#b0681c" stroke-width="1.1" stroke-opacity="0.85" stroke-linecap="round"/><line x1="81.4" y1="58.4" x2="83.8" y2="58.0" stroke="#b0681c" stroke-width="1.1" stroke-opacity="0.85" stroke-linecap="round"/><line x1="81.3" y1="67.7" x2="83.8" y2="64.9" stroke="#b0681c" stroke-width="1.1" stroke-opacity="0.85" stroke-linecap="round"/><line x1="6.0" y1="52.0" x2="7.0" y2="54.5" stroke="#b0681c" stroke-width="1.1" stroke-opacity="0.85" stroke-linecap="round"/><line x1="42.3" y1="39.2" x2="47.1" y2="37.7" stroke="#b0681c" stroke-width="1.1" stroke-opacity="0.85" stroke-linecap="round"/><line x1="37.8" y1="13.7" x2="41.8" y2="16.0" stroke="#b0681c" stroke-width="1.1" stroke-opacity="0.85" stroke-linecap="round"/><line x1="19.6" y1="19.8" x2="18.2" y2="23.9" stroke="#b0681c" stroke-width="1.1" stroke-opacity="0.85" stroke-linecap="round"/><line x1="40.1" y1="37.2" x2="42.3" y2="35.2" stroke="#b0681c" stroke-width="1.1" stroke-opacity="0.85" stroke-linecap="round"/><line x1="30.4" y1="41.8" x2="33.1" y2="40.6" stroke="#b0681c" stroke-width="1.1" stroke-opacity="0.85" stroke-linecap="round"/><line x1="4.3" y1="45.2" x2="9.0" y2="43.2" stroke="#b0681c" stroke-width="1.1" stroke-opacity="0.85" stroke-linecap="round"/><line x1="78.8" y1="5.8" x2="82.8" y2="4.1" stroke="#b0681c" stroke-width="1.1" stroke-opacity="0.85" stroke-linecap="round"/><line x1="20.4" y1="7.3" x2="19.9" y2="11.3" stroke="#b0681c" stroke-width="1.1" stroke-opacity="0.85" stroke-linecap="round"/><line x1="44.1" y1="53.5" x2="44.8" y2="56.3" stroke="#b0681c" stroke-width="1.1" stroke-opacity="0.85" stroke-linecap="round"/><line x1="7.3" y1="29.9" x2="10.9" y2="30.5" stroke="#b0681c" stroke-width="1.1" stroke-opacity="0.85" stroke-linecap="round"/><line x1="68.9" y1="45.9" x2="68.2" y2="48.4" stroke="#b0681c" stroke-width="1.1" stroke-opacity="0.85" stroke-linecap="round"/><line x1="37.7" y1="22.2" x2="38.0" y2="25.3" stroke="#b0681c" stroke-width="1.1" stroke-opacity="0.85" stroke-linecap="round"/><line x1="16.3" y1="31.1" x2="19.4" y2="31.7" stroke="#b0681c" stroke-width="1.1" stroke-opacity="0.85" stroke-linecap="round"/><line x1="21.1" y1="64.1" x2="25.9" y2="65.2" stroke="#b0681c" stroke-width="1.1" stroke-opacity="0.85" stroke-linecap="round"/><line x1="52.5" y1="1.2" x2="50.9" y2="5.9" stroke="#b0681c" stroke-width="1.1" stroke-opacity="0.85" stroke-linecap="round"/><line x1="90.9" y1="63.5" x2="91.3" y2="66.2" stroke="#b0681c" stroke-width="1.1" stroke-opacity="0.85" stroke-linecap="round"/><line x1="44.4" y1="14.8" x2="46.9" y2="15.1" stroke="#b0681c" stroke-width="1.1" stroke-opacity="0.85" stroke-linecap="round"/><line x1="33.4" y1="69.7" x2="37.9" y2="68.3" stroke="#b0681c" stroke-width="1.1" stroke-opacity="0.85" stroke-linecap="round"/><line x1="43.3" y1="27.0" x2="42.2" y2="32.2" stroke="#b0681c" stroke-width="1.1" stroke-opacity="0.85" stroke-linecap="round"/><line x1="51.0" y1="51.2" x2="53.5" y2="49.3" stroke="#b0681c" stroke-width="1.1" stroke-opacity="0.85" stroke-linecap="round"/><line x1="89.1" y1="39.4" x2="93.0" y2="41.7" stroke="#b0681c" stroke-width="1.1" stroke-opacity="0.85" stroke-linecap="round"/><line x1="3.1" y1="39.9" x2="7.6" y2="41.9" stroke="#b0681c" stroke-width="1.1" stroke-opacity="0.85" stroke-linecap="round"/><line x1="13.9" y1="68.3" x2="15.7" y2="66.2" stroke="#b0681c" stroke-width="1.1" stroke-opacity="0.85" stroke-linecap="round"/><line x1="54.7" y1="47.8" x2="57.1" y2="46.8" stroke="#b0681c" stroke-width="1.1" stroke-opacity="0.85" stroke-linecap="round"/><line x1="82.1" y1="15.9" x2="85.3" y2="18.6" stroke="#b0681c" stroke-width="1.1" stroke-opacity="0.85" stroke-linecap="round"/><line x1="37.1" y1="39.7" x2="41.7" y2="42.0" stroke="#b0681c" stroke-width="1.1" stroke-opacity="0.85" stroke-linecap="round"/><line x1="17.6" y1="50.8" x2="20.8" y2="49.5" stroke="#b0681c" stroke-width="1.1" stroke-opacity="0.85" stroke-linecap="round"/><circle cx="63.8" cy="20.2" r="0.7" fill="#50161c" fill-opacity="0.9"/><circle cx="95.8" cy="71.7" r="0.5" fill="#3a1e2f" fill-opacity="0.9"/><circle cx="84.3" cy="63.1" r="0.7" fill="#383526" fill-opacity="0.9"/><circle cx="57.9" cy="71.1" r="0.8" fill="#323415" fill-opacity="0.9"/><circle cx="63.0" cy="67.5" r="0.6" fill="#361820" fill-opacity="0.9"/><circle cx="24.7" cy="42.8" r="0.9" fill="#3a2d14" fill-opacity="0.9"/><circle cx="45.9" cy="65.0" r="0.9" fill="#352415" fill-opacity="0.9"/><circle cx="-1.7" cy="55.1" r="0.8" fill="#3c3120" fill-opacity="0.9"/><path d="M62,19 C66,8 80,4 90,5 L90,28 C84,34 72,34 66,30 C62,27 61,23 62,19 Z" fill="#f4eadc"/></g></svg>
<svg x="483" y="264" width="93" height="70" overflow="hidden"><g filter="url(#soft)"><rect x="-3" y="-3" width="99" height="76" fill="#eedfd0"/><rect width="93" height="70" filter="url(#wA)" opacity="0.45"/><circle cx="3.6" cy="48.7" r="1.3" fill="#867ec0" stroke="#5a529e" stroke-width="0.8" opacity="0.75"/><circle cx="43.0" cy="47.0" r="1.6" fill="#867ec0" stroke="#5a529e" stroke-width="0.8" opacity="0.75"/><circle cx="42.1" cy="34.9" r="1.2" fill="#867ec0" stroke="#5a529e" stroke-width="0.8" opacity="0.75"/><circle cx="40.2" cy="26.1" r="1.6" fill="#867ec0" stroke="#5a529e" stroke-width="0.8" opacity="0.75"/><circle cx="50.9" cy="52.9" r="1.4" fill="#867ec0" stroke="#5a529e" stroke-width="0.8" opacity="0.75"/><circle cx="16.4" cy="59.6" r="1.6" fill="#867ec0" stroke="#5a529e" stroke-width="0.8" opacity="0.75"/><circle cx="35.0" cy="6.7" r="1.5" fill="#867ec0" stroke="#5a529e" stroke-width="0.8" opacity="0.75"/><circle cx="46.1" cy="54.1" r="1.5" fill="#867ec0" stroke="#5a529e" stroke-width="0.8" opacity="0.75"/><circle cx="47.1" cy="40.3" r="1.4" fill="#867ec0" stroke="#5a529e" stroke-width="0.8" opacity="0.75"/><circle cx="4.5" cy="4.3" r="1.6" fill="#867ec0" stroke="#5a529e" stroke-width="0.8" opacity="0.75"/><circle cx="78.0" cy="20.7" r="1.6" fill="#867ec0" stroke="#5a529e" stroke-width="0.8" opacity="0.75"/><circle cx="48.6" cy="7.2" r="1.6" fill="#867ec0" stroke="#5a529e" stroke-width="0.8" opacity="0.75"/><circle cx="54.3" cy="65.3" r="1.5" fill="#867ec0" stroke="#5a529e" stroke-width="0.8" opacity="0.75"/><circle cx="8.8" cy="43.6" r="1.6" fill="#867ec0" stroke="#5a529e" stroke-width="0.8" opacity="0.75"/><circle cx="83.6" cy="23.2" r="1.5" fill="#867ec0" stroke="#5a529e" stroke-width="0.8" opacity="0.75"/><circle cx="65.2" cy="11.7" r="1.6" fill="#867ec0" stroke="#5a529e" stroke-width="0.8" opacity="0.75"/><circle cx="72.6" cy="3.5" r="1.5" fill="#867ec0" stroke="#5a529e" stroke-width="0.8" opacity="0.75"/><circle cx="34.2" cy="13.0" r="1.5" fill="#867ec0" stroke="#5a529e" stroke-width="0.8" opacity="0.75"/><circle cx="90.1" cy="38.6" r="1.3" fill="#867ec0" stroke="#5a529e" stroke-width="0.8" opacity="0.75"/><circle cx="46.0" cy="54.5" r="1.6" fill="#867ec0" stroke="#5a529e" stroke-width="0.8" opacity="0.75"/><circle cx="66.5" cy="2.9" r="1.7" fill="#867ec0" stroke="#5a529e" stroke-width="0.8" opacity="0.75"/><circle cx="56.0" cy="5.9" r="1.3" fill="#867ec0" stroke="#5a529e" stroke-width="0.8" opacity="0.75"/><circle cx="8.0" cy="46.5" r="1.3" fill="#867ec0" stroke="#5a529e" stroke-width="0.8" opacity="0.75"/><circle cx="75.1" cy="7.6" r="1.5" fill="#867ec0" stroke="#5a529e" stroke-width="0.8" opacity="0.75"/><circle cx="41.2" cy="2.7" r="1.2" fill="#867ec0" stroke="#5a529e" stroke-width="0.8" opacity="0.75"/><circle cx="84.0" cy="68.4" r="1.3" fill="#867ec0" stroke="#5a529e" stroke-width="0.8" opacity="0.75"/><circle cx="68.3" cy="69.2" r="1.6" fill="#867ec0" stroke="#5a529e" stroke-width="0.8" opacity="0.75"/><circle cx="82.3" cy="23.6" r="1.5" fill="#867ec0" stroke="#5a529e" stroke-width="0.8" opacity="0.75"/><circle cx="46.3" cy="65.6" r="1.5" fill="#867ec0" stroke="#5a529e" stroke-width="0.8" opacity="0.75"/><circle cx="78.5" cy="60.0" r="1.4" fill="#867ec0" stroke="#5a529e" stroke-width="0.8" opacity="0.75"/><circle cx="66.2" cy="6.5" r="1.3" fill="#867ec0" stroke="#5a529e" stroke-width="0.8" opacity="0.75"/><circle cx="87.1" cy="28.3" r="1.5" fill="#867ec0" stroke="#5a529e" stroke-width="0.8" opacity="0.75"/><circle cx="53.5" cy="18.2" r="1.5" fill="#867ec0" stroke="#5a529e" stroke-width="0.8" opacity="0.75"/><circle cx="84.9" cy="22.9" r="1.4" fill="#867ec0" stroke="#5a529e" stroke-width="0.8" opacity="0.75"/><circle cx="17.3" cy="12.4" r="1.6" fill="#867ec0" stroke="#5a529e" stroke-width="0.8" opacity="0.75"/><circle cx="65.7" cy="67.5" r="1.5" fill="#867ec0" stroke="#5a529e" stroke-width="0.8" opacity="0.75"/><circle cx="89.2" cy="15.5" r="1.3" fill="#867ec0" stroke="#5a529e" stroke-width="0.8" opacity="0.75"/><circle cx="20.1" cy="26.9" r="1.7" fill="#867ec0" stroke="#5a529e" stroke-width="0.8" opacity="0.75"/><circle cx="20.9" cy="32.1" r="1.3" fill="#867ec0" stroke="#5a529e" stroke-width="0.8" opacity="0.75"/><circle cx="2.5" cy="38.2" r="1.5" fill="#867ec0" stroke="#5a529e" stroke-width="0.8" opacity="0.75"/><circle cx="47.5" cy="64.0" r="1.6" fill="#867ec0" stroke="#5a529e" stroke-width="0.8" opacity="0.75"/><circle cx="88.5" cy="40.5" r="1.3" fill="#867ec0" stroke="#5a529e" stroke-width="0.8" opacity="0.75"/><circle cx="12.1" cy="53.5" r="1.3" fill="#867ec0" stroke="#5a529e" stroke-width="0.8" opacity="0.75"/><circle cx="0.6" cy="48.9" r="1.3" fill="#867ec0" stroke="#5a529e" stroke-width="0.8" opacity="0.75"/><circle cx="57.9" cy="14.1" r="1.4" fill="#867ec0" stroke="#5a529e" stroke-width="0.8" opacity="0.75"/><circle cx="1.4" cy="26.3" r="1.4" fill="#867ec0" stroke="#5a529e" stroke-width="0.8" opacity="0.75"/><circle cx="24.3" cy="9.4" r="1.5" fill="#867ec0" stroke="#5a529e" stroke-width="0.8" opacity="0.75"/><circle cx="64.4" cy="14.0" r="1.3" fill="#867ec0" stroke="#5a529e" stroke-width="0.8" opacity="0.75"/><line x1="22.8" y1="48.7" x2="27.1" y2="49.2" stroke="#b8701e" stroke-width="1.1" stroke-opacity="0.85" stroke-linecap="round"/><line x1="5.4" y1="49.6" x2="8.3" y2="48.8" stroke="#b8701e" stroke-width="1.1" stroke-opacity="0.85" stroke-linecap="round"/><line x1="67.3" y1="31.8" x2="68.4" y2="34.7" stroke="#b8701e" stroke-width="1.1" stroke-opacity="0.85" stroke-linecap="round"/><line x1="60.8" y1="19.7" x2="63.5" y2="22.2" stroke="#b8701e" stroke-width="1.1" stroke-opacity="0.85" stroke-linecap="round"/><line x1="83.4" y1="50.7" x2="86.3" y2="54.6" stroke="#b8701e" stroke-width="1.1" stroke-opacity="0.85" stroke-linecap="round"/><line x1="55.4" y1="49.1" x2="58.1" y2="52.2" stroke="#b8701e" stroke-width="1.1" stroke-opacity="0.85" stroke-linecap="round"/><line x1="19.0" y1="62.9" x2="20.7" y2="67.4" stroke="#b8701e" stroke-width="1.1" stroke-opacity="0.85" stroke-linecap="round"/><line x1="54.1" y1="2.7" x2="58.7" y2="0.8" stroke="#b8701e" stroke-width="1.1" stroke-opacity="0.85" stroke-linecap="round"/><line x1="65.7" y1="61.9" x2="64.5" y2="64.7" stroke="#b8701e" stroke-width="1.1" stroke-opacity="0.85" stroke-linecap="round"/><line x1="91.5" y1="40.8" x2="91.8" y2="44.7" stroke="#b8701e" stroke-width="1.1" stroke-opacity="0.85" stroke-linecap="round"/><line x1="22.6" y1="33.0" x2="25.1" y2="35.0" stroke="#b8701e" stroke-width="1.1" stroke-opacity="0.85" stroke-linecap="round"/><line x1="30.5" y1="30.9" x2="33.1" y2="31.1" stroke="#b8701e" stroke-width="1.1" stroke-opacity="0.85" stroke-linecap="round"/><line x1="72.6" y1="24.2" x2="77.0" y2="26.0" stroke="#b8701e" stroke-width="1.1" stroke-opacity="0.85" stroke-linecap="round"/><line x1="62.6" y1="30.8" x2="67.3" y2="31.9" stroke="#b8701e" stroke-width="1.1" stroke-opacity="0.85" stroke-linecap="round"/><line x1="19.6" y1="31.3" x2="24.5" y2="33.5" stroke="#b8701e" stroke-width="1.1" stroke-opacity="0.85" stroke-linecap="round"/><line x1="21.5" y1="40.6" x2="23.1" y2="42.5" stroke="#b8701e" stroke-width="1.1" stroke-opacity="0.85" stroke-linecap="round"/><line x1="17.0" y1="60.6" x2="16.7" y2="63.5" stroke="#b8701e" stroke-width="1.1" stroke-opacity="0.85" stroke-linecap="round"/><line x1="15.5" y1="63.7" x2="17.7" y2="67.7" stroke="#b8701e" stroke-width="1.1" stroke-opacity="0.85" stroke-linecap="round"/><line x1="82.6" y1="16.4" x2="86.1" y2="20.1" stroke="#b8701e" stroke-width="1.1" stroke-opacity="0.85" stroke-linecap="round"/><line x1="18.2" y1="15.5" x2="16.4" y2="20.1" stroke="#b8701e" stroke-width="1.1" stroke-opacity="0.85" stroke-linecap="round"/><line x1="48.3" y1="7.8" x2="47.6" y2="10.9" stroke="#b8701e" stroke-width="1.1" stroke-opacity="0.85" stroke-linecap="round"/><line x1="68.3" y1="18.4" x2="72.6" y2="17.3" stroke="#b8701e" stroke-width="1.1" stroke-opacity="0.85" stroke-linecap="round"/><line x1="35.1" y1="25.3" x2="38.1" y2="27.4" stroke="#b8701e" stroke-width="1.1" stroke-opacity="0.85" stroke-linecap="round"/><line x1="41.8" y1="46.2" x2="45.8" y2="44.6" stroke="#b8701e" stroke-width="1.1" stroke-opacity="0.85" stroke-linecap="round"/><line x1="43.1" y1="56.9" x2="47.4" y2="57.6" stroke="#b8701e" stroke-width="1.1" stroke-opacity="0.85" stroke-linecap="round"/><line x1="18.7" y1="47.0" x2="19.6" y2="50.9" stroke="#b8701e" stroke-width="1.1" stroke-opacity="0.85" stroke-linecap="round"/><circle cx="44.5" cy="68.3" r="1.7" fill="#f4ebe0"/><circle cx="6.0" cy="22.5" r="1.3" fill="#f4ebe0"/><circle cx="84.4" cy="59.8" r="1.5" fill="#f4ebe0"/><circle cx="59.0" cy="13.2" r="2.4" fill="#f4ebe0"/><circle cx="38.2" cy="2.4" r="2.1" fill="#f4ebe0"/><circle cx="6.1" cy="64.2" r="2.5" fill="#f4ebe0"/><circle cx="1.8" cy="6.2" r="1.6" fill="#f4ebe0"/><circle cx="76.4" cy="46.6" r="1.5" fill="#f4ebe0"/><circle cx="25.0" cy="43.0" r="2.3" fill="#f4ebe0"/><circle cx="58.6" cy="21.8" r="2.3" fill="#f4ebe0"/></g></svg>
<svg x="577" y="264" width="94" height="70" overflow="hidden"><g filter="url(#soft)"><rect x="-3" y="-3" width="100" height="76" fill="#e8d8cc"/><circle cx="38.0" cy="38.1" r="5.9" fill="#f6efe4"/><circle cx="15.3" cy="14.7" r="2.6" fill="#f6efe4"/><circle cx="9.4" cy="-1.3" r="3.1" fill="#f6efe4"/><circle cx="48.3" cy="71.2" r="5.3" fill="#f6efe4"/><circle cx="30.0" cy="3.4" r="5.9" fill="#f6efe4"/><circle cx="58.5" cy="6.3" r="2.8" fill="#f6efe4"/><circle cx="7.3" cy="69.0" r="2.9" fill="#f6efe4"/><circle cx="59.3" cy="69.7" r="2.6" fill="#f6efe4"/><circle cx="2.8" cy="47.9" r="5.8" fill="#f6efe4"/><circle cx="70.2" cy="46.4" r="3.8" fill="#f6efe4"/><circle cx="79.4" cy="44.7" r="4.9" fill="#f6efe4"/><circle cx="51.0" cy="15.3" r="4.3" fill="#f6efe4"/><circle cx="78.3" cy="60.1" r="2.7" fill="#f6efe4"/><circle cx="95.5" cy="24.4" r="3.3" fill="#f6efe4"/><circle cx="8.9" cy="23.2" r="5.9" fill="#f6efe4"/><circle cx="15.6" cy="45.5" r="5.8" fill="#f6efe4"/><circle cx="92.2" cy="17.4" r="2.8" fill="#f6efe4"/><circle cx="51.5" cy="34.1" r="3.6" fill="#f6efe4"/><circle cx="27.4" cy="27.8" r="4.7" fill="#f6efe4"/><circle cx="90.4" cy="3.4" r="3.5" fill="#f6efe4"/><circle cx="90.5" cy="46.6" r="2.8" fill="#f6efe4"/><circle cx="35.4" cy="69.2" r="5.5" fill="#f6efe4"/><circle cx="65.3" cy="31.2" r="3.4" fill="#f6efe4"/><circle cx="65.8" cy="52.4" r="2.5" fill="#f6efe4"/><circle cx="60.5" cy="20.8" r="3.0" fill="#f6efe4"/><circle cx="-0.4" cy="56.9" r="3.0" fill="#f6efe4"/><circle cx="-0.4" cy="3.6" r="4.7" fill="#f6efe4"/><circle cx="82.1" cy="66.5" r="3.1" fill="#f6efe4"/><circle cx="79.0" cy="16.4" r="3.6" fill="#f6efe4"/><circle cx="44.3" cy="56.4" r="5.3" fill="#f6efe4"/><circle cx="84.0" cy="34.7" r="4.0" fill="#f6efe4"/><circle cx="16.9" cy="59.9" r="4.4" fill="#f6efe4"/><circle cx="24.8" cy="67.8" r="4.2" fill="#f6efe4"/><circle cx="29.8" cy="50.6" r="6.0" fill="#f6efe4"/><circle cx="72.3" cy="23.2" r="5.2" fill="#f6efe4"/><circle cx="25.0" cy="15.2" r="5.7" fill="#f6efe4"/><circle cx="50.5" cy="4.3" r="4.5" fill="#f6efe4"/><circle cx="66.2" cy="-0.0" r="3.3" fill="#f6efe4"/><circle cx="-0.7" cy="16.3" r="3.3" fill="#f6efe4"/><circle cx="67.2" cy="62.7" r="4.4" fill="#f6efe4"/><circle cx="46.1" cy="45.8" r="4.2" fill="#f6efe4"/><circle cx="94.8" cy="68.4" r="3.7" fill="#f6efe4"/><circle cx="89.7" cy="58.3" r="4.1" fill="#f6efe4"/><circle cx="9.1" cy="13.3" r="3.0" fill="#f6efe4"/><circle cx="81.8" cy="-0.0" r="3.9" fill="#f6efe4"/><circle cx="11.7" cy="55.8" r="1.9" fill="#f4ece2"/><circle cx="17.7" cy="31.7" r="2.0" fill="#f4ece2"/><circle cx="73.3" cy="34.3" r="2.2" fill="#f4ece2"/><circle cx="37.0" cy="11.0" r="1.4" fill="#f4ece2"/><circle cx="0.8" cy="34.6" r="1.6" fill="#f4ece2"/><circle cx="61.6" cy="-1.5" r="1.1" fill="#f4ece2"/><circle cx="-1.0" cy="67.2" r="1.6" fill="#f4ece2"/><circle cx="5.8" cy="39.5" r="2.2" fill="#f4ece2"/><circle cx="58.4" cy="-1.6" r="1.6" fill="#f4ece2"/><circle cx="64.5" cy="9.0" r="2.4" fill="#f4ece2"/><circle cx="56.2" cy="53.6" r="2.0" fill="#f4ece2"/><circle cx="53.4" cy="26.6" r="1.8" fill="#f4ece2"/><circle cx="31.9" cy="61.9" r="2.1" fill="#f4ece2"/><circle cx="24.7" cy="56.8" r="1.1" fill="#f4ece2"/><circle cx="86.4" cy="41.7" r="2.4" fill="#f4ece2"/><circle cx="92.6" cy="28.9" r="1.1" fill="#f4ece2"/><circle cx="85.1" cy="18.0" r="1.7" fill="#f4ece2"/><circle cx="82.4" cy="27.2" r="1.9" fill="#f4ece2"/><circle cx="54.0" cy="61.3" r="1.2" fill="#f4ece2"/><circle cx="65.7" cy="36.2" r="1.1" fill="#f4ece2"/><circle cx="89.9" cy="33.2" r="1.4" fill="#f4ece2"/><circle cx="64.5" cy="24.2" r="1.2" fill="#f4ece2"/><circle cx="11.2" cy="64.7" r="1.3" fill="#f4ece2"/><circle cx="6.2" cy="57.3" r="1.1" fill="#f4ece2"/><circle cx="15.4" cy="9.1" r="1.5" fill="#f4ece2"/><circle cx="30.6" cy="42.1" r="1.1" fill="#f4ece2"/><circle cx="54.8" cy="-1.7" r="1.5" fill="#f4ece2"/><circle cx="73.2" cy="70.4" r="1.7" fill="#f4ece2"/><circle cx="16.2" cy="3.4" r="1.6" fill="#f4ece2"/><circle cx="34.4" cy="30.6" r="1.8" fill="#f4ece2"/><circle cx="38.8" cy="16.4" r="1.4" fill="#f4ece2"/><circle cx="19.7" cy="9.5" r="1.6" fill="#f4ece2"/><circle cx="95.5" cy="55.4" r="1.7" fill="#f4ece2"/><circle cx="62.4" cy="45.2" r="1.2" fill="#f4ece2"/><circle cx="57.0" cy="38.2" r="1.8" fill="#f4ece2"/><circle cx="41.5" cy="9.6" r="1.2" fill="#7c74bc" stroke="#524a98" stroke-width="0.8" opacity="0.8"/><circle cx="54.9" cy="7.4" r="1.5" fill="#7c74bc" stroke="#524a98" stroke-width="0.8" opacity="0.8"/><circle cx="60.7" cy="58.4" r="1.4" fill="#7c74bc" stroke="#524a98" stroke-width="0.8" opacity="0.8"/><circle cx="38.6" cy="22.7" r="1.4" fill="#7c74bc" stroke="#524a98" stroke-width="0.8" opacity="0.8"/><circle cx="64.1" cy="60.6" r="1.3" fill="#7c74bc" stroke="#524a98" stroke-width="0.8" opacity="0.8"/><circle cx="78.6" cy="62.2" r="1.4" fill="#7c74bc" stroke="#524a98" stroke-width="0.8" opacity="0.8"/><circle cx="49.8" cy="65.3" r="1.4" fill="#7c74bc" stroke="#524a98" stroke-width="0.8" opacity="0.8"/><circle cx="15.5" cy="59.7" r="1.4" fill="#7c74bc" stroke="#524a98" stroke-width="0.8" opacity="0.8"/><circle cx="16.6" cy="52.3" r="1.3" fill="#7c74bc" stroke="#524a98" stroke-width="0.8" opacity="0.8"/><circle cx="87.3" cy="27.6" r="1.3" fill="#7c74bc" stroke="#524a98" stroke-width="0.8" opacity="0.8"/><circle cx="17.8" cy="53.9" r="1.3" fill="#7c74bc" stroke="#524a98" stroke-width="0.8" opacity="0.8"/><circle cx="14.7" cy="26.8" r="1.5" fill="#7c74bc" stroke="#524a98" stroke-width="0.8" opacity="0.8"/><circle cx="93.7" cy="69.4" r="1.5" fill="#7c74bc" stroke="#524a98" stroke-width="0.8" opacity="0.8"/><circle cx="78.8" cy="38.4" r="1.4" fill="#7c74bc" stroke="#524a98" stroke-width="0.8" opacity="0.8"/><circle cx="29.2" cy="66.7" r="1.5" fill="#7c74bc" stroke="#524a98" stroke-width="0.8" opacity="0.8"/><circle cx="1.0" cy="10.6" r="1.6" fill="#7c74bc" stroke="#524a98" stroke-width="0.8" opacity="0.8"/><circle cx="84.6" cy="70.0" r="1.3" fill="#7c74bc" stroke="#524a98" stroke-width="0.8" opacity="0.8"/><circle cx="45.3" cy="56.9" r="1.3" fill="#7c74bc" stroke="#524a98" stroke-width="0.8" opacity="0.8"/><circle cx="50.9" cy="8.3" r="1.3" fill="#7c74bc" stroke="#524a98" stroke-width="0.8" opacity="0.8"/><circle cx="36.0" cy="51.6" r="1.2" fill="#7c74bc" stroke="#524a98" stroke-width="0.8" opacity="0.8"/><circle cx="45.1" cy="5.5" r="1.3" fill="#7c74bc" stroke="#524a98" stroke-width="0.8" opacity="0.8"/><circle cx="83.7" cy="69.8" r="1.2" fill="#7c74bc" stroke="#524a98" stroke-width="0.8" opacity="0.8"/><circle cx="22.4" cy="13.3" r="1.3" fill="#7c74bc" stroke="#524a98" stroke-width="0.8" opacity="0.8"/><circle cx="28.5" cy="5.8" r="1.4" fill="#7c74bc" stroke="#524a98" stroke-width="0.8" opacity="0.8"/><circle cx="37.5" cy="45.1" r="1.5" fill="#7c74bc" stroke="#524a98" stroke-width="0.8" opacity="0.8"/><circle cx="91.5" cy="62.5" r="1.2" fill="#7c74bc" stroke="#524a98" stroke-width="0.8" opacity="0.8"/><circle cx="82.1" cy="6.8" r="1.4" fill="#7c74bc" stroke="#524a98" stroke-width="0.8" opacity="0.8"/><circle cx="68.6" cy="26.4" r="1.5" fill="#7c74bc" stroke="#524a98" stroke-width="0.8" opacity="0.8"/><circle cx="55.8" cy="65.6" r="1.3" fill="#7c74bc" stroke="#524a98" stroke-width="0.8" opacity="0.8"/><circle cx="49.2" cy="35.4" r="1.3" fill="#7c74bc" stroke="#524a98" stroke-width="0.8" opacity="0.8"/><circle cx="66.8" cy="66.1" r="1.5" fill="#7c74bc" stroke="#524a98" stroke-width="0.8" opacity="0.8"/><circle cx="43.1" cy="27.4" r="1.3" fill="#7c74bc" stroke="#524a98" stroke-width="0.8" opacity="0.8"/><circle cx="92.1" cy="60.1" r="1.3" fill="#7c74bc" stroke="#524a98" stroke-width="0.8" opacity="0.8"/><circle cx="1.8" cy="29.7" r="1.6" fill="#7c74bc" stroke="#524a98" stroke-width="0.8" opacity="0.8"/><circle cx="20.6" cy="51.4" r="1.6" fill="#7c74bc" stroke="#524a98" stroke-width="0.8" opacity="0.8"/><circle cx="31.3" cy="44.0" r="1.5" fill="#7c74bc" stroke="#524a98" stroke-width="0.8" opacity="0.8"/><circle cx="9.3" cy="48.7" r="1.3" fill="#7c74bc" stroke="#524a98" stroke-width="0.8" opacity="0.8"/><circle cx="1.9" cy="17.6" r="1.6" fill="#7c74bc" stroke="#524a98" stroke-width="0.8" opacity="0.8"/><line x1="6.8" y1="13.6" x2="6.9" y2="16.4" stroke="#c07424" stroke-width="1.2" stroke-opacity="0.85" stroke-linecap="round"/><line x1="59.2" y1="50.3" x2="60.8" y2="54.4" stroke="#c07424" stroke-width="1.2" stroke-opacity="0.85" stroke-linecap="round"/><line x1="68.7" y1="46.5" x2="66.0" y2="47.9" stroke="#c07424" stroke-width="1.2" stroke-opacity="0.85" stroke-linecap="round"/><line x1="5.8" y1="19.4" x2="2.7" y2="21.2" stroke="#c07424" stroke-width="1.2" stroke-opacity="0.85" stroke-linecap="round"/><line x1="46.9" y1="40.6" x2="46.6" y2="42.8" stroke="#c07424" stroke-width="1.2" stroke-opacity="0.85" stroke-linecap="round"/><line x1="49.5" y1="1.6" x2="50.4" y2="3.7" stroke="#c07424" stroke-width="1.2" stroke-opacity="0.85" stroke-linecap="round"/><line x1="10.8" y1="38.6" x2="12.1" y2="41.2" stroke="#c07424" stroke-width="1.2" stroke-opacity="0.85" stroke-linecap="round"/><line x1="74.9" y1="14.0" x2="77.7" y2="14.3" stroke="#c07424" stroke-width="1.2" stroke-opacity="0.85" stroke-linecap="round"/><line x1="34.5" y1="32.5" x2="32.4" y2="34.9" stroke="#c07424" stroke-width="1.2" stroke-opacity="0.85" stroke-linecap="round"/><line x1="71.6" y1="47.8" x2="71.8" y2="50.7" stroke="#c07424" stroke-width="1.2" stroke-opacity="0.85" stroke-linecap="round"/><line x1="16.7" y1="61.6" x2="19.5" y2="65.4" stroke="#c07424" stroke-width="1.2" stroke-opacity="0.85" stroke-linecap="round"/><line x1="9.4" y1="65.7" x2="12.6" y2="65.5" stroke="#c07424" stroke-width="1.2" stroke-opacity="0.85" stroke-linecap="round"/><line x1="53.5" y1="57.7" x2="51.2" y2="59.2" stroke="#c07424" stroke-width="1.2" stroke-opacity="0.85" stroke-linecap="round"/><line x1="4.9" y1="20.6" x2="6.1" y2="24.6" stroke="#c07424" stroke-width="1.2" stroke-opacity="0.85" stroke-linecap="round"/><line x1="80.8" y1="57.7" x2="79.7" y2="62.8" stroke="#c07424" stroke-width="1.2" stroke-opacity="0.85" stroke-linecap="round"/><line x1="79.5" y1="2.6" x2="81.3" y2="4.1" stroke="#c07424" stroke-width="1.2" stroke-opacity="0.85" stroke-linecap="round"/><line x1="22.5" y1="34.4" x2="24.3" y2="38.7" stroke="#c07424" stroke-width="1.2" stroke-opacity="0.85" stroke-linecap="round"/><line x1="81.0" y1="40.8" x2="82.1" y2="43.0" stroke="#c07424" stroke-width="1.2" stroke-opacity="0.85" stroke-linecap="round"/><line x1="23.7" y1="63.3" x2="19.6" y2="66.1" stroke="#c07424" stroke-width="1.2" stroke-opacity="0.85" stroke-linecap="round"/><line x1="73.5" y1="54.0" x2="77.2" y2="54.4" stroke="#c07424" stroke-width="1.2" stroke-opacity="0.85" stroke-linecap="round"/><line x1="1.7" y1="54.3" x2="-0.6" y2="58.6" stroke="#c07424" stroke-width="1.2" stroke-opacity="0.85" stroke-linecap="round"/><line x1="59.0" y1="19.3" x2="60.4" y2="21.1" stroke="#c07424" stroke-width="1.2" stroke-opacity="0.85" stroke-linecap="round"/><line x1="23.7" y1="48.2" x2="25.2" y2="50.5" stroke="#c07424" stroke-width="1.2" stroke-opacity="0.85" stroke-linecap="round"/><line x1="79.1" y1="28.5" x2="80.4" y2="31.0" stroke="#c07424" stroke-width="1.2" stroke-opacity="0.85" stroke-linecap="round"/><line x1="38.4" y1="67.7" x2="40.1" y2="69.8" stroke="#c07424" stroke-width="1.2" stroke-opacity="0.85" stroke-linecap="round"/><line x1="83.2" y1="50.5" x2="85.5" y2="50.1" stroke="#c07424" stroke-width="1.2" stroke-opacity="0.85" stroke-linecap="round"/></g></svg>
<rect x="649.6" y="115.5" width="13.4" height="2.1" fill="#0a0a0a"/>
<rect x="649.6" y="185" width="13.4" height="2.1" fill="#0a0a0a"/>
<rect x="649.6" y="254.8" width="13.4" height="2.1" fill="#0a0a0a"/>
<rect x="649.6" y="327.6" width="13.4" height="2.1" fill="#0a0a0a"/>
<text x="0" y="171.2" font-size="17.5" font-weight="bold" fill="#000">c</text>
<line x1="12" y1="179.9" x2="19.7" y2="179.9" stroke="#239b23" stroke-width="1"/>
<circle cx="15.85" cy="179.9" r="1.3" fill="#239b23"/>
<line x1="12" y1="190.9" x2="19.7" y2="190.9" stroke="#ff8a14" stroke-width="1"/>
<circle cx="15.85" cy="190.9" r="1.3" fill="#ff8a14"/>
<line x1="91.7" y1="179.9" x2="99.6" y2="179.9" stroke="#7a1e96" stroke-width="1"/>
<circle cx="95.65" cy="179.9" r="1.3" fill="#7a1e96"/>
<line x1="91.7" y1="190.9" x2="99.6" y2="190.9" stroke="#f51c1c" stroke-width="1"/>
<circle cx="95.65" cy="190.9" r="1.3" fill="#f51c1c"/>
<text x="24.3" y="183.3" font-size="8.2">ND <tspan font-style="italic" font-size="8.2">Muc1</tspan><tspan font-size="5.8" dy="-3.3">Flox/Flox</tspan></text>
<text x="24.3" y="194.3" font-size="8.2">ND <tspan font-style="italic" font-size="8.2">Muc1</tspan><tspan font-size="5.8" dy="-3.3">EKO</tspan></text>
<text x="104.9" y="183.3" font-size="8.2">HFD <tspan font-style="italic" font-size="8.2">Muc1</tspan><tspan font-size="5.8" dy="-3.3">Flox/Flox</tspan></text>
<text x="104.9" y="194.3" font-size="8.2">HFD <tspan font-style="italic" font-size="8.2">Muc1</tspan><tspan font-size="5.8" dy="-3.3">EKO</tspan></text>
<line x1="35.3" y1="205.3" x2="35.3" y2="279.2" stroke="#3c3c3c" stroke-width="1.15"/>
<line x1="32.7" y1="205.31" x2="35.3" y2="205.31" stroke="#3c3c3c" stroke-width="1.15"/>
<text x="31.9" y="208.26" font-size="8.2" text-anchor="end">50</text>
<line x1="32.7" y1="226.34" x2="35.3" y2="226.34" stroke="#3c3c3c" stroke-width="1.15"/>
<text x="31.9" y="229.29" font-size="8.2" text-anchor="end">40</text>
<line x1="32.7" y1="247.37" x2="35.3" y2="247.37" stroke="#3c3c3c" stroke-width="1.15"/>
<text x="31.9" y="250.32" font-size="8.2" text-anchor="end">30</text>
<line x1="32.7" y1="268.4" x2="35.3" y2="268.4" stroke="#3c3c3c" stroke-width="1.15"/>
<text x="31.9" y="271.35" font-size="8.2" text-anchor="end">20</text>
<line x1="35.3" y1="279.2" x2="146.5" y2="279.2" stroke="#3c3c3c" stroke-width="1.15"/>
<line x1="63.06" y1="279.2" x2="63.06" y2="281.8" stroke="#3c3c3c" stroke-width="1.15"/>
<text x="63.06" y="291.2" font-size="8.2" text-anchor="middle">5</text>
<line x1="97.76" y1="279.2" x2="97.76" y2="281.8" stroke="#3c3c3c" stroke-width="1.15"/>
<text x="97.76" y="291.2" font-size="8.2" text-anchor="middle">10</text>
<line x1="132.46" y1="279.2" x2="132.46" y2="281.8" stroke="#3c3c3c" stroke-width="1.15"/>
<text x="132.46" y="291.2" font-size="8.2" text-anchor="middle">15</text>
<line x1="42.24" y1="279.2" x2="42.24" y2="281.6" stroke="#3c3c3c" stroke-width="1"/>
<line x1="49.18" y1="279.2" x2="49.18" y2="281.6" stroke="#3c3c3c" stroke-width="1"/>
<line x1="56.12" y1="279.2" x2="56.12" y2="281.6" stroke="#3c3c3c" stroke-width="1"/>
<line x1="70" y1="279.2" x2="70" y2="281.6" stroke="#3c3c3c" stroke-width="1"/>
<line x1="76.94" y1="279.2" x2="76.94" y2="281.6" stroke="#3c3c3c" stroke-width="1"/>
<line x1="83.88" y1="279.2" x2="83.88" y2="281.6" stroke="#3c3c3c" stroke-width="1"/>
<line x1="90.82" y1="279.2" x2="90.82" y2="281.6" stroke="#3c3c3c" stroke-width="1"/>
<line x1="104.7" y1="279.2" x2="104.7" y2="281.6" stroke="#3c3c3c" stroke-width="1"/>
<line x1="111.64" y1="279.2" x2="111.64" y2="281.6" stroke="#3c3c3c" stroke-width="1"/>
<line x1="118.58" y1="279.2" x2="118.58" y2="281.6" stroke="#3c3c3c" stroke-width="1"/>
<line x1="125.52" y1="279.2" x2="125.52" y2="281.6" stroke="#3c3c3c" stroke-width="1"/>
<line x1="139.4" y1="279.2" x2="139.4" y2="281.6" stroke="#3c3c3c" stroke-width="1"/>
<text x="90.9" y="301.3" font-size="8.2" text-anchor="middle">Time (week)</text>
<text x="18.53" y="240.2" font-size="8.2" text-anchor="middle" transform="rotate(-90 18.53 240.2)">Body weight (g)</text>
<line x1="35.3" y1="265.67" x2="35.3" y2="267.47" stroke="#222" stroke-width="0.6"/>
<line x1="34" y1="265.67" x2="36.6" y2="265.67" stroke="#222" stroke-width="0.6"/>
<line x1="34" y1="267.47" x2="36.6" y2="267.47" stroke="#222" stroke-width="0.6"/>
<line x1="42.24" y1="263.77" x2="42.24" y2="265.87" stroke="#222" stroke-width="0.6"/>
<line x1="40.94" y1="263.77" x2="43.54" y2="263.77" stroke="#222" stroke-width="0.6"/>
<line x1="40.94" y1="265.87" x2="43.54" y2="265.87" stroke="#222" stroke-width="0.6"/>
<line x1="49.18" y1="262.22" x2="49.18" y2="264.62" stroke="#222" stroke-width="0.6"/>
<line x1="47.88" y1="262.22" x2="50.48" y2="262.22" stroke="#222" stroke-width="0.6"/>
<line x1="47.88" y1="264.62" x2="50.48" y2="264.62" stroke="#222" stroke-width="0.6"/>
<line x1="56.12" y1="260.32" x2="56.12" y2="263.02" stroke="#222" stroke-width="0.6"/>
<line x1="54.82" y1="260.32" x2="57.42" y2="260.32" stroke="#222" stroke-width="0.6"/>
<line x1="54.82" y1="263.02" x2="57.42" y2="263.02" stroke="#222" stroke-width="0.6"/>
<line x1="63.06" y1="258.59" x2="63.06" y2="261.59" stroke="#222" stroke-width="0.6"/>
<line x1="61.76" y1="258.59" x2="64.36" y2="258.59" stroke="#222" stroke-width="0.6"/>
<line x1="61.76" y1="261.59" x2="64.36" y2="261.59" stroke="#222" stroke-width="0.6"/>
<line x1="70" y1="257.04" x2="70" y2="260.34" stroke="#222" stroke-width="0.6"/>
<line x1="68.7" y1="257.04" x2="71.3" y2="257.04" stroke="#222" stroke-width="0.6"/>
<line x1="68.7" y1="260.34" x2="71.3" y2="260.34" stroke="#222" stroke-width="0.6"/>
<line x1="76.94" y1="255.14" x2="76.94" y2="258.74" stroke="#222" stroke-width="0.6"/>
<line x1="75.64" y1="255.14" x2="78.24" y2="255.14" stroke="#222" stroke-width="0.6"/>
<line x1="75.64" y1="258.74" x2="78.24" y2="258.74" stroke="#222" stroke-width="0.6"/>
<line x1="83.88" y1="253.39" x2="83.88" y2="256.99" stroke="#222" stroke-width="0.6"/>
<line x1="82.58" y1="253.39" x2="85.18" y2="253.39" stroke="#222" stroke-width="0.6"/>
<line x1="82.58" y1="256.99" x2="85.18" y2="256.99" stroke="#222" stroke-width="0.6"/>
<line x1="90.82" y1="251.63" x2="90.82" y2="255.23" stroke="#222" stroke-width="0.6"/>
<line x1="89.52" y1="251.63" x2="92.12" y2="251.63" stroke="#222" stroke-width="0.6"/>
<line x1="89.52" y1="255.23" x2="92.12" y2="255.23" stroke="#222" stroke-width="0.6"/>
<line x1="97.76" y1="249.88" x2="97.76" y2="253.48" stroke="#222" stroke-width="0.6"/>
<line x1="96.46" y1="249.88" x2="99.06" y2="249.88" stroke="#222" stroke-width="0.6"/>
<line x1="96.46" y1="253.48" x2="99.06" y2="253.48" stroke="#222" stroke-width="0.6"/>
<line x1="104.7" y1="248.13" x2="104.7" y2="251.73" stroke="#222" stroke-width="0.6"/>
<line x1="103.4" y1="248.13" x2="106" y2="248.13" stroke="#222" stroke-width="0.6"/>
<line x1="103.4" y1="251.73" x2="106" y2="251.73" stroke="#222" stroke-width="0.6"/>
<line x1="111.64" y1="246.38" x2="111.64" y2="249.98" stroke="#222" stroke-width="0.6"/>
<line x1="110.34" y1="246.38" x2="112.94" y2="246.38" stroke="#222" stroke-width="0.6"/>
<line x1="110.34" y1="249.98" x2="112.94" y2="249.98" stroke="#222" stroke-width="0.6"/>
<line x1="118.58" y1="245.15" x2="118.58" y2="248.75" stroke="#222" stroke-width="0.6"/>
<line x1="117.28" y1="245.15" x2="119.88" y2="245.15" stroke="#222" stroke-width="0.6"/>
<line x1="117.28" y1="248.75" x2="119.88" y2="248.75" stroke="#222" stroke-width="0.6"/>
<line x1="125.52" y1="243.4" x2="125.52" y2="247" stroke="#222" stroke-width="0.6"/>
<line x1="124.22" y1="243.4" x2="126.82" y2="243.4" stroke="#222" stroke-width="0.6"/>
<line x1="124.22" y1="247" x2="126.82" y2="247" stroke="#222" stroke-width="0.6"/>
<line x1="132.46" y1="241.47" x2="132.46" y2="245.07" stroke="#222" stroke-width="0.6"/>
<line x1="131.16" y1="241.47" x2="133.76" y2="241.47" stroke="#222" stroke-width="0.6"/>
<line x1="131.16" y1="245.07" x2="133.76" y2="245.07" stroke="#222" stroke-width="0.6"/>
<line x1="139.4" y1="240.25" x2="139.4" y2="243.85" stroke="#222" stroke-width="0.6"/>
<line x1="138.1" y1="240.25" x2="140.7" y2="240.25" stroke="#222" stroke-width="0.6"/>
<line x1="138.1" y1="243.85" x2="140.7" y2="243.85" stroke="#222" stroke-width="0.6"/>
<line x1="35.3" y1="262.52" x2="35.3" y2="264.32" stroke="#222" stroke-width="0.6"/>
<line x1="34" y1="262.52" x2="36.6" y2="262.52" stroke="#222" stroke-width="0.6"/>
<line x1="34" y1="264.32" x2="36.6" y2="264.32" stroke="#222" stroke-width="0.6"/>
<line x1="42.24" y1="260.62" x2="42.24" y2="262.72" stroke="#222" stroke-width="0.6"/>
<line x1="40.94" y1="260.62" x2="43.54" y2="260.62" stroke="#222" stroke-width="0.6"/>
<line x1="40.94" y1="262.72" x2="43.54" y2="262.72" stroke="#222" stroke-width="0.6"/>
<line x1="49.18" y1="258.37" x2="49.18" y2="260.77" stroke="#222" stroke-width="0.6"/>
<line x1="47.88" y1="258.37" x2="50.48" y2="258.37" stroke="#222" stroke-width="0.6"/>
<line x1="47.88" y1="260.77" x2="50.48" y2="260.77" stroke="#222" stroke-width="0.6"/>
<line x1="56.12" y1="256.46" x2="56.12" y2="259.16" stroke="#222" stroke-width="0.6"/>
<line x1="54.82" y1="256.46" x2="57.42" y2="256.46" stroke="#222" stroke-width="0.6"/>
<line x1="54.82" y1="259.16" x2="57.42" y2="259.16" stroke="#222" stroke-width="0.6"/>
<line x1="63.06" y1="254.91" x2="63.06" y2="257.91" stroke="#222" stroke-width="0.6"/>
<line x1="61.76" y1="254.91" x2="64.36" y2="254.91" stroke="#222" stroke-width="0.6"/>
<line x1="61.76" y1="257.91" x2="64.36" y2="257.91" stroke="#222" stroke-width="0.6"/>
<line x1="70" y1="253.54" x2="70" y2="256.84" stroke="#222" stroke-width="0.6"/>
<line x1="68.7" y1="253.54" x2="71.3" y2="253.54" stroke="#222" stroke-width="0.6"/>
<line x1="68.7" y1="256.84" x2="71.3" y2="256.84" stroke="#222" stroke-width="0.6"/>
<line x1="76.94" y1="251.63" x2="76.94" y2="255.23" stroke="#222" stroke-width="0.6"/>
<line x1="75.64" y1="251.63" x2="78.24" y2="251.63" stroke="#222" stroke-width="0.6"/>
<line x1="75.64" y1="255.23" x2="78.24" y2="255.23" stroke="#222" stroke-width="0.6"/>
<line x1="83.88" y1="249.88" x2="83.88" y2="253.48" stroke="#222" stroke-width="0.6"/>
<line x1="82.58" y1="249.88" x2="85.18" y2="249.88" stroke="#222" stroke-width="0.6"/>
<line x1="82.58" y1="253.48" x2="85.18" y2="253.48" stroke="#222" stroke-width="0.6"/>
<line x1="90.82" y1="248.13" x2="90.82" y2="251.73" stroke="#222" stroke-width="0.6"/>
<line x1="89.52" y1="248.13" x2="92.12" y2="248.13" stroke="#222" stroke-width="0.6"/>
<line x1="89.52" y1="251.73" x2="92.12" y2="251.73" stroke="#222" stroke-width="0.6"/>
<line x1="97.76" y1="246.38" x2="97.76" y2="249.98" stroke="#222" stroke-width="0.6"/>
<line x1="96.46" y1="246.38" x2="99.06" y2="246.38" stroke="#222" stroke-width="0.6"/>
<line x1="96.46" y1="249.98" x2="99.06" y2="249.98" stroke="#222" stroke-width="0.6"/>
<line x1="104.7" y1="244.63" x2="104.7" y2="248.23" stroke="#222" stroke-width="0.6"/>
<line x1="103.4" y1="244.63" x2="106" y2="244.63" stroke="#222" stroke-width="0.6"/>
<line x1="103.4" y1="248.23" x2="106" y2="248.23" stroke="#222" stroke-width="0.6"/>
<line x1="111.64" y1="243.4" x2="111.64" y2="247" stroke="#222" stroke-width="0.6"/>
<line x1="110.34" y1="243.4" x2="112.94" y2="243.4" stroke="#222" stroke-width="0.6"/>
<line x1="110.34" y1="247" x2="112.94" y2="247" stroke="#222" stroke-width="0.6"/>
<line x1="118.58" y1="242.35" x2="118.58" y2="245.95" stroke="#222" stroke-width="0.6"/>
<line x1="117.28" y1="242.35" x2="119.88" y2="242.35" stroke="#222" stroke-width="0.6"/>
<line x1="117.28" y1="245.95" x2="119.88" y2="245.95" stroke="#222" stroke-width="0.6"/>
<line x1="125.52" y1="240.6" x2="125.52" y2="244.2" stroke="#222" stroke-width="0.6"/>
<line x1="124.22" y1="240.6" x2="126.82" y2="240.6" stroke="#222" stroke-width="0.6"/>
<line x1="124.22" y1="244.2" x2="126.82" y2="244.2" stroke="#222" stroke-width="0.6"/>
<line x1="132.46" y1="239.9" x2="132.46" y2="243.5" stroke="#222" stroke-width="0.6"/>
<line x1="131.16" y1="239.9" x2="133.76" y2="239.9" stroke="#222" stroke-width="0.6"/>
<line x1="131.16" y1="243.5" x2="133.76" y2="243.5" stroke="#222" stroke-width="0.6"/>
<line x1="139.4" y1="239.02" x2="139.4" y2="242.62" stroke="#222" stroke-width="0.6"/>
<line x1="138.1" y1="239.02" x2="140.7" y2="239.02" stroke="#222" stroke-width="0.6"/>
<line x1="138.1" y1="242.62" x2="140.7" y2="242.62" stroke="#222" stroke-width="0.6"/>
<line x1="35.3" y1="264.5" x2="35.3" y2="266.9" stroke="#222" stroke-width="0.6"/>
<line x1="34" y1="264.5" x2="36.6" y2="264.5" stroke="#222" stroke-width="0.6"/>
<line x1="34" y1="266.9" x2="36.6" y2="266.9" stroke="#222" stroke-width="0.6"/>
<line x1="42.24" y1="261.67" x2="42.24" y2="264.47" stroke="#222" stroke-width="0.6"/>
<line x1="40.94" y1="261.67" x2="43.54" y2="261.67" stroke="#222" stroke-width="0.6"/>
<line x1="40.94" y1="264.47" x2="43.54" y2="264.47" stroke="#222" stroke-width="0.6"/>
<line x1="49.18" y1="258.84" x2="49.18" y2="262.04" stroke="#222" stroke-width="0.6"/>
<line x1="47.88" y1="258.84" x2="50.48" y2="258.84" stroke="#222" stroke-width="0.6"/>
<line x1="47.88" y1="262.04" x2="50.48" y2="262.04" stroke="#222" stroke-width="0.6"/>
<line x1="56.12" y1="256.01" x2="56.12" y2="259.61" stroke="#222" stroke-width="0.6"/>
<line x1="54.82" y1="256.01" x2="57.42" y2="256.01" stroke="#222" stroke-width="0.6"/>
<line x1="54.82" y1="259.61" x2="57.42" y2="259.61" stroke="#222" stroke-width="0.6"/>
<line x1="63.06" y1="254.06" x2="63.06" y2="258.06" stroke="#222" stroke-width="0.6"/>
<line x1="61.76" y1="254.06" x2="64.36" y2="254.06" stroke="#222" stroke-width="0.6"/>
<line x1="61.76" y1="258.06" x2="64.36" y2="258.06" stroke="#222" stroke-width="0.6"/>
<line x1="70" y1="251.23" x2="70" y2="255.63" stroke="#222" stroke-width="0.6"/>
<line x1="68.7" y1="251.23" x2="71.3" y2="251.23" stroke="#222" stroke-width="0.6"/>
<line x1="68.7" y1="255.63" x2="71.3" y2="255.63" stroke="#222" stroke-width="0.6"/>
<line x1="76.94" y1="248.41" x2="76.94" y2="253.21" stroke="#222" stroke-width="0.6"/>
<line x1="75.64" y1="248.41" x2="78.24" y2="248.41" stroke="#222" stroke-width="0.6"/>
<line x1="75.64" y1="253.21" x2="78.24" y2="253.21" stroke="#222" stroke-width="0.6"/>
<line x1="83.88" y1="245.25" x2="83.88" y2="250.05" stroke="#222" stroke-width="0.6"/>
<line x1="82.58" y1="245.25" x2="85.18" y2="245.25" stroke="#222" stroke-width="0.6"/>
<line x1="82.58" y1="250.05" x2="85.18" y2="250.05" stroke="#222" stroke-width="0.6"/>
<line x1="90.82" y1="242.27" x2="90.82" y2="247.07" stroke="#222" stroke-width="0.6"/>
<line x1="89.52" y1="242.27" x2="92.12" y2="242.27" stroke="#222" stroke-width="0.6"/>
<line x1="89.52" y1="247.07" x2="92.12" y2="247.07" stroke="#222" stroke-width="0.6"/>
<line x1="97.76" y1="238.77" x2="97.76" y2="243.57" stroke="#222" stroke-width="0.6"/>
<line x1="96.46" y1="238.77" x2="99.06" y2="238.77" stroke="#222" stroke-width="0.6"/>
<line x1="96.46" y1="243.57" x2="99.06" y2="243.57" stroke="#222" stroke-width="0.6"/>
<line x1="104.7" y1="235.79" x2="104.7" y2="240.59" stroke="#222" stroke-width="0.6"/>
<line x1="103.4" y1="235.79" x2="106" y2="235.79" stroke="#222" stroke-width="0.6"/>
<line x1="103.4" y1="240.59" x2="106" y2="240.59" stroke="#222" stroke-width="0.6"/>
<line x1="111.64" y1="232.64" x2="111.64" y2="237.44" stroke="#222" stroke-width="0.6"/>
<line x1="110.34" y1="232.64" x2="112.94" y2="232.64" stroke="#222" stroke-width="0.6"/>
<line x1="110.34" y1="237.44" x2="112.94" y2="237.44" stroke="#222" stroke-width="0.6"/>
<line x1="118.58" y1="230.01" x2="118.58" y2="234.81" stroke="#222" stroke-width="0.6"/>
<line x1="117.28" y1="230.01" x2="119.88" y2="230.01" stroke="#222" stroke-width="0.6"/>
<line x1="117.28" y1="234.81" x2="119.88" y2="234.81" stroke="#222" stroke-width="0.6"/>
<line x1="125.52" y1="227.03" x2="125.52" y2="231.83" stroke="#222" stroke-width="0.6"/>
<line x1="124.22" y1="227.03" x2="126.82" y2="227.03" stroke="#222" stroke-width="0.6"/>
<line x1="124.22" y1="231.83" x2="126.82" y2="231.83" stroke="#222" stroke-width="0.6"/>
<line x1="132.46" y1="225.98" x2="132.46" y2="230.78" stroke="#222" stroke-width="0.6"/>
<line x1="131.16" y1="225.98" x2="133.76" y2="225.98" stroke="#222" stroke-width="0.6"/>
<line x1="131.16" y1="230.78" x2="133.76" y2="230.78" stroke="#222" stroke-width="0.6"/>
<line x1="139.4" y1="225.63" x2="139.4" y2="230.43" stroke="#222" stroke-width="0.6"/>
<line x1="138.1" y1="225.63" x2="140.7" y2="225.63" stroke="#222" stroke-width="0.6"/>
<line x1="138.1" y1="230.43" x2="140.7" y2="230.43" stroke="#222" stroke-width="0.6"/>
<line x1="35.3" y1="261.77" x2="35.3" y2="264.37" stroke="#222" stroke-width="0.6"/>
<line x1="34" y1="261.77" x2="36.6" y2="261.77" stroke="#222" stroke-width="0.6"/>
<line x1="34" y1="264.37" x2="36.6" y2="264.37" stroke="#222" stroke-width="0.6"/>
<line x1="42.24" y1="259.8" x2="42.24" y2="262.83" stroke="#222" stroke-width="0.6"/>
<line x1="40.94" y1="259.8" x2="43.54" y2="259.8" stroke="#222" stroke-width="0.6"/>
<line x1="40.94" y1="262.83" x2="43.54" y2="262.83" stroke="#222" stroke-width="0.6"/>
<line x1="49.18" y1="256.61" x2="49.18" y2="260.07" stroke="#222" stroke-width="0.6"/>
<line x1="47.88" y1="256.61" x2="50.48" y2="256.61" stroke="#222" stroke-width="0.6"/>
<line x1="47.88" y1="260.07" x2="50.48" y2="260.07" stroke="#222" stroke-width="0.6"/>
<line x1="56.12" y1="252.36" x2="56.12" y2="256.26" stroke="#222" stroke-width="0.6"/>
<line x1="54.82" y1="252.36" x2="57.42" y2="252.36" stroke="#222" stroke-width="0.6"/>
<line x1="54.82" y1="256.26" x2="57.42" y2="256.26" stroke="#222" stroke-width="0.6"/>
<line x1="63.06" y1="249.16" x2="63.06" y2="253.5" stroke="#222" stroke-width="0.6"/>
<line x1="61.76" y1="249.16" x2="64.36" y2="249.16" stroke="#222" stroke-width="0.6"/>
<line x1="61.76" y1="253.5" x2="64.36" y2="253.5" stroke="#222" stroke-width="0.6"/>
<line x1="70" y1="244.92" x2="70" y2="249.69" stroke="#222" stroke-width="0.6"/>
<line x1="68.7" y1="244.92" x2="71.3" y2="244.92" stroke="#222" stroke-width="0.6"/>
<line x1="68.7" y1="249.69" x2="71.3" y2="249.69" stroke="#222" stroke-width="0.6"/>
<line x1="76.94" y1="241.2" x2="76.94" y2="246.4" stroke="#222" stroke-width="0.6"/>
<line x1="75.64" y1="241.2" x2="78.24" y2="241.2" stroke="#222" stroke-width="0.6"/>
<line x1="75.64" y1="246.4" x2="78.24" y2="246.4" stroke="#222" stroke-width="0.6"/>
<line x1="83.88" y1="237.34" x2="83.88" y2="242.54" stroke="#222" stroke-width="0.6"/>
<line x1="82.58" y1="237.34" x2="85.18" y2="237.34" stroke="#222" stroke-width="0.6"/>
<line x1="82.58" y1="242.54" x2="85.18" y2="242.54" stroke="#222" stroke-width="0.6"/>
<line x1="90.82" y1="233.66" x2="90.82" y2="238.86" stroke="#222" stroke-width="0.6"/>
<line x1="89.52" y1="233.66" x2="92.12" y2="233.66" stroke="#222" stroke-width="0.6"/>
<line x1="89.52" y1="238.86" x2="92.12" y2="238.86" stroke="#222" stroke-width="0.6"/>
<line x1="97.76" y1="231.56" x2="97.76" y2="236.76" stroke="#222" stroke-width="0.6"/>
<line x1="96.46" y1="231.56" x2="99.06" y2="231.56" stroke="#222" stroke-width="0.6"/>
<line x1="96.46" y1="236.76" x2="99.06" y2="236.76" stroke="#222" stroke-width="0.6"/>
<line x1="104.7" y1="228.93" x2="104.7" y2="234.13" stroke="#222" stroke-width="0.6"/>
<line x1="103.4" y1="228.93" x2="106" y2="228.93" stroke="#222" stroke-width="0.6"/>
<line x1="103.4" y1="234.13" x2="106" y2="234.13" stroke="#222" stroke-width="0.6"/>
<line x1="111.64" y1="226.83" x2="111.64" y2="232.03" stroke="#222" stroke-width="0.6"/>
<line x1="110.34" y1="226.83" x2="112.94" y2="226.83" stroke="#222" stroke-width="0.6"/>
<line x1="110.34" y1="232.03" x2="112.94" y2="232.03" stroke="#222" stroke-width="0.6"/>
<line x1="118.58" y1="224.55" x2="118.58" y2="229.75" stroke="#222" stroke-width="0.6"/>
<line x1="117.28" y1="224.55" x2="119.88" y2="224.55" stroke="#222" stroke-width="0.6"/>
<line x1="117.28" y1="229.75" x2="119.88" y2="229.75" stroke="#222" stroke-width="0.6"/>
<line x1="125.52" y1="221.93" x2="125.52" y2="227.13" stroke="#222" stroke-width="0.6"/>
<line x1="124.22" y1="221.93" x2="126.82" y2="221.93" stroke="#222" stroke-width="0.6"/>
<line x1="124.22" y1="227.13" x2="126.82" y2="227.13" stroke="#222" stroke-width="0.6"/>
<line x1="132.46" y1="219.82" x2="132.46" y2="225.02" stroke="#222" stroke-width="0.6"/>
<line x1="131.16" y1="219.82" x2="133.76" y2="219.82" stroke="#222" stroke-width="0.6"/>
<line x1="131.16" y1="225.02" x2="133.76" y2="225.02" stroke="#222" stroke-width="0.6"/>
<line x1="139.4" y1="218.77" x2="139.4" y2="223.97" stroke="#222" stroke-width="0.6"/>
<line x1="138.1" y1="218.77" x2="140.7" y2="218.77" stroke="#222" stroke-width="0.6"/>
<line x1="138.1" y1="223.97" x2="140.7" y2="223.97" stroke="#222" stroke-width="0.6"/>
<polyline points="35.3,263.07 42.24,261.32 49.18,258.34 56.12,254.31 63.06,251.33 70,247.3 76.94,243.8 83.88,239.94 90.82,236.26 97.76,234.16 104.7,231.53 111.64,229.43 118.58,227.15 125.52,224.53 132.46,222.42 139.4,221.37" fill="none" stroke="#f51c1c" stroke-width="1.2" stroke-linejoin="round"/>
<circle cx="35.3" cy="263.07" r="1.7" fill="#f51c1c"/>
<circle cx="42.24" cy="261.32" r="1.7" fill="#f51c1c"/>
<circle cx="49.18" cy="258.34" r="1.7" fill="#f51c1c"/>
<circle cx="56.12" cy="254.31" r="1.7" fill="#f51c1c"/>
<circle cx="63.06" cy="251.33" r="1.7" fill="#f51c1c"/>
<circle cx="70" cy="247.3" r="1.7" fill="#f51c1c"/>
<circle cx="76.94" cy="243.8" r="1.7" fill="#f51c1c"/>
<circle cx="83.88" cy="239.94" r="1.7" fill="#f51c1c"/>
<circle cx="90.82" cy="236.26" r="1.7" fill="#f51c1c"/>
<circle cx="97.76" cy="234.16" r="1.7" fill="#f51c1c"/>
<circle cx="104.7" cy="231.53" r="1.7" fill="#f51c1c"/>
<circle cx="111.64" cy="229.43" r="1.7" fill="#f51c1c"/>
<circle cx="118.58" cy="227.15" r="1.7" fill="#f51c1c"/>
<circle cx="125.52" cy="224.53" r="1.7" fill="#f51c1c"/>
<circle cx="132.46" cy="222.42" r="1.7" fill="#f51c1c"/>
<circle cx="139.4" cy="221.37" r="1.7" fill="#f51c1c"/>
<polyline points="35.3,265.7 42.24,263.07 49.18,260.44 56.12,257.81 63.06,256.06 70,253.43 76.94,250.81 83.88,247.65 90.82,244.67 97.76,241.17 104.7,238.19 111.64,235.04 118.58,232.41 125.52,229.43 132.46,228.38 139.4,228.03" fill="none" stroke="#7a1e96" stroke-width="1.2" stroke-linejoin="round"/>
<circle cx="35.3" cy="265.7" r="1.7" fill="#7a1e96"/>
<circle cx="42.24" cy="263.07" r="1.7" fill="#7a1e96"/>
<circle cx="49.18" cy="260.44" r="1.7" fill="#7a1e96"/>
<circle cx="56.12" cy="257.81" r="1.7" fill="#7a1e96"/>
<circle cx="63.06" cy="256.06" r="1.7" fill="#7a1e96"/>
<circle cx="70" cy="253.43" r="1.7" fill="#7a1e96"/>
<circle cx="76.94" cy="250.81" r="1.7" fill="#7a1e96"/>
<circle cx="83.88" cy="247.65" r="1.7" fill="#7a1e96"/>
<circle cx="90.82" cy="244.67" r="1.7" fill="#7a1e96"/>
<circle cx="97.76" cy="241.17" r="1.7" fill="#7a1e96"/>
<circle cx="104.7" cy="238.19" r="1.7" fill="#7a1e96"/>
<circle cx="111.64" cy="235.04" r="1.7" fill="#7a1e96"/>
<circle cx="118.58" cy="232.41" r="1.7" fill="#7a1e96"/>
<circle cx="125.52" cy="229.43" r="1.7" fill="#7a1e96"/>
<circle cx="132.46" cy="228.38" r="1.7" fill="#7a1e96"/>
<circle cx="139.4" cy="228.03" r="1.7" fill="#7a1e96"/>
<polyline points="35.3,263.42 42.24,261.67 49.18,259.57 56.12,257.81 63.06,256.41 70,255.19 76.94,253.43 83.88,251.68 90.82,249.93 97.76,248.18 104.7,246.43 111.64,245.2 118.58,244.15 125.52,242.4 132.46,241.7 139.4,240.82" fill="none" stroke="#ff8a14" stroke-width="1.2" stroke-linejoin="round"/>
<circle cx="35.3" cy="263.42" r="1.7" fill="#ff8a14"/>
<circle cx="42.24" cy="261.67" r="1.7" fill="#ff8a14"/>
<circle cx="49.18" cy="259.57" r="1.7" fill="#ff8a14"/>
<circle cx="56.12" cy="257.81" r="1.7" fill="#ff8a14"/>
<circle cx="63.06" cy="256.41" r="1.7" fill="#ff8a14"/>
<circle cx="70" cy="255.19" r="1.7" fill="#ff8a14"/>
<circle cx="76.94" cy="253.43" r="1.7" fill="#ff8a14"/>
<circle cx="83.88" cy="251.68" r="1.7" fill="#ff8a14"/>
<circle cx="90.82" cy="249.93" r="1.7" fill="#ff8a14"/>
<circle cx="97.76" cy="248.18" r="1.7" fill="#ff8a14"/>
<circle cx="104.7" cy="246.43" r="1.7" fill="#ff8a14"/>
<circle cx="111.64" cy="245.2" r="1.7" fill="#ff8a14"/>
<circle cx="118.58" cy="244.15" r="1.7" fill="#ff8a14"/>
<circle cx="125.52" cy="242.4" r="1.7" fill="#ff8a14"/>
<circle cx="132.46" cy="241.7" r="1.7" fill="#ff8a14"/>
<circle cx="139.4" cy="240.82" r="1.7" fill="#ff8a14"/>
<polyline points="35.3,266.57 42.24,264.82 49.18,263.42 56.12,261.67 63.06,260.09 70,258.69 76.94,256.94 83.88,255.19 90.82,253.43 97.76,251.68 104.7,249.93 111.64,248.18 118.58,246.95 125.52,245.2 132.46,243.27 139.4,242.05" fill="none" stroke="#239b23" stroke-width="1.2" stroke-linejoin="round"/>
<circle cx="35.3" cy="266.57" r="1.7" fill="#239b23"/>
<circle cx="42.24" cy="264.82" r="1.7" fill="#239b23"/>
<circle cx="49.18" cy="263.42" r="1.7" fill="#239b23"/>
<circle cx="56.12" cy="261.67" r="1.7" fill="#239b23"/>
<circle cx="63.06" cy="260.09" r="1.7" fill="#239b23"/>
<circle cx="70" cy="258.69" r="1.7" fill="#239b23"/>
<circle cx="76.94" cy="256.94" r="1.7" fill="#239b23"/>
<circle cx="83.88" cy="255.19" r="1.7" fill="#239b23"/>
<circle cx="90.82" cy="253.43" r="1.7" fill="#239b23"/>
<circle cx="97.76" cy="251.68" r="1.7" fill="#239b23"/>
<circle cx="104.7" cy="249.93" r="1.7" fill="#239b23"/>
<circle cx="111.64" cy="248.18" r="1.7" fill="#239b23"/>
<circle cx="118.58" cy="246.95" r="1.7" fill="#239b23"/>
<circle cx="125.52" cy="245.2" r="1.7" fill="#239b23"/>
<circle cx="132.46" cy="243.27" r="1.7" fill="#239b23"/>
<circle cx="139.4" cy="242.05" r="1.7" fill="#239b23"/>
<text x="90.2" y="234.3" font-size="8.5" text-anchor="middle" fill="#222">*</text>
<text x="111.2" y="228" font-size="8.5" text-anchor="middle" fill="#222">*</text>
<text x="139.7" y="219.3" font-size="8.5" text-anchor="middle" fill="#222">**</text>
<line x1="196.4" y1="190.29" x2="196.4" y2="256.5" stroke="#3c3c3c" stroke-width="1.15"/>
<line x1="193.8" y1="190.29" x2="196.4" y2="190.29" stroke="#3c3c3c" stroke-width="1.15"/>
<text x="193" y="193.24" font-size="8.2" text-anchor="end">3</text>
<line x1="193.8" y1="212.36" x2="196.4" y2="212.36" stroke="#3c3c3c" stroke-width="1.15"/>
<text x="193" y="215.31" font-size="8.2" text-anchor="end">2</text>
<line x1="193.8" y1="234.43" x2="196.4" y2="234.43" stroke="#3c3c3c" stroke-width="1.15"/>
<text x="193" y="237.38" font-size="8.2" text-anchor="end">1</text>
<line x1="193.8" y1="256.5" x2="196.4" y2="256.5" stroke="#3c3c3c" stroke-width="1.15"/>
<text x="193" y="259.45" font-size="8.2" text-anchor="end">0</text>
<line x1="196.4" y1="256.5" x2="281" y2="256.5" stroke="#3c3c3c" stroke-width="1.15"/>
<line x1="209.4" y1="256.5" x2="209.4" y2="258.7" stroke="#3c3c3c" stroke-width="1.15"/>
<line x1="228.7" y1="256.5" x2="228.7" y2="258.7" stroke="#3c3c3c" stroke-width="1.15"/>
<line x1="248.3" y1="256.5" x2="248.3" y2="258.7" stroke="#3c3c3c" stroke-width="1.15"/>
<line x1="267.6" y1="256.5" x2="267.6" y2="258.7" stroke="#3c3c3c" stroke-width="1.15"/>
<text x="185.5" y="221.2" font-size="8.2" text-anchor="middle" transform="rotate(-90 185.5 221.2)" letter-spacing="0.45">Liver weight (g)</text>
<circle cx="203.91" cy="223.73" r="1.75" fill="#17a36b" stroke="#000" stroke-width="0.6"/>
<circle cx="207.92" cy="226.46" r="1.75" fill="#17a36b" stroke="#000" stroke-width="0.6"/>
<circle cx="213.54" cy="223.73" r="1.75" fill="#17a36b" stroke="#000" stroke-width="0.6"/>
<circle cx="203.91" cy="228.07" r="1.75" fill="#17a36b" stroke="#000" stroke-width="0.6"/>
<circle cx="210.65" cy="228.07" r="1.75" fill="#17a36b" stroke="#000" stroke-width="0.6"/>
<circle cx="213.54" cy="229.19" r="1.75" fill="#17a36b" stroke="#000" stroke-width="0.6"/>
<circle cx="203.91" cy="232.08" r="1.75" fill="#17a36b" stroke="#000" stroke-width="0.6"/>
<circle cx="210.65" cy="232.08" r="1.75" fill="#17a36b" stroke="#000" stroke-width="0.6"/>
<line x1="205.2" y1="227.81" x2="213.6" y2="227.81" stroke="#333" stroke-width="0.7"/>
<line x1="209.4" y1="226.71" x2="209.4" y2="228.91" stroke="#333" stroke-width="0.7"/>
<line x1="207.4" y1="226.71" x2="211.4" y2="226.71" stroke="#333" stroke-width="0.7"/>
<line x1="207.4" y1="228.91" x2="211.4" y2="228.91" stroke="#333" stroke-width="0.7"/>
<circle cx="223.18" cy="225.66" r="1.75" fill="#f08a1a" stroke="#000" stroke-width="0.6"/>
<circle cx="227.19" cy="222.45" r="1.75" fill="#f08a1a" stroke="#000" stroke-width="0.6"/>
<circle cx="227.19" cy="228.55" r="1.75" fill="#f08a1a" stroke="#000" stroke-width="0.6"/>
<circle cx="223.18" cy="228.87" r="1.75" fill="#f08a1a" stroke="#000" stroke-width="0.6"/>
<circle cx="230.4" cy="231.28" r="1.75" fill="#f08a1a" stroke="#000" stroke-width="0.6"/>
<circle cx="233.62" cy="228.07" r="1.75" fill="#f08a1a" stroke="#000" stroke-width="0.6"/>
<circle cx="233.62" cy="231.28" r="1.75" fill="#f08a1a" stroke="#000" stroke-width="0.6"/>
<circle cx="223.98" cy="234.49" r="1.75" fill="#f08a1a" stroke="#000" stroke-width="0.6"/>
<line x1="224.5" y1="228.47" x2="232.9" y2="228.47" stroke="#333" stroke-width="0.7"/>
<line x1="228.7" y1="227.15" x2="228.7" y2="229.8" stroke="#333" stroke-width="0.7"/>
<line x1="226.7" y1="227.15" x2="230.7" y2="227.15" stroke="#333" stroke-width="0.7"/>
<line x1="226.7" y1="229.8" x2="230.7" y2="229.8" stroke="#333" stroke-width="0.7"/>
<circle cx="243.73" cy="210.4" r="1.75" fill="#6e1a8e" stroke="#000" stroke-width="0.6"/>
<circle cx="248.07" cy="208.8" r="1.75" fill="#6e1a8e" stroke="#000" stroke-width="0.6"/>
<circle cx="252.89" cy="208.8" r="1.75" fill="#6e1a8e" stroke="#000" stroke-width="0.6"/>
<circle cx="248.07" cy="213.62" r="1.75" fill="#6e1a8e" stroke="#000" stroke-width="0.6"/>
<circle cx="243.73" cy="217.63" r="1.75" fill="#6e1a8e" stroke="#000" stroke-width="0.6"/>
<circle cx="252.89" cy="219.24" r="1.75" fill="#6e1a8e" stroke="#000" stroke-width="0.6"/>
<circle cx="248.07" cy="220.04" r="1.75" fill="#6e1a8e" stroke="#000" stroke-width="0.6"/>
<circle cx="248.07" cy="224.86" r="1.75" fill="#6e1a8e" stroke="#000" stroke-width="0.6"/>
<line x1="244.1" y1="215.67" x2="252.5" y2="215.67" stroke="#333" stroke-width="0.7"/>
<line x1="248.3" y1="213.68" x2="248.3" y2="217.66" stroke="#333" stroke-width="0.7"/>
<line x1="246.3" y1="213.68" x2="250.3" y2="213.68" stroke="#333" stroke-width="0.7"/>
<line x1="246.3" y1="217.66" x2="250.3" y2="217.66" stroke="#333" stroke-width="0.7"/>
<circle cx="266.06" cy="194.02" r="1.75" fill="#e0231a" stroke="#000" stroke-width="0.6"/>
<circle cx="269.75" cy="197.24" r="1.75" fill="#e0231a" stroke="#000" stroke-width="0.6"/>
<circle cx="262.52" cy="201.57" r="1.75" fill="#e0231a" stroke="#000" stroke-width="0.6"/>
<circle cx="266.06" cy="199.16" r="1.75" fill="#e0231a" stroke="#000" stroke-width="0.6"/>
<circle cx="272.16" cy="199.64" r="1.75" fill="#e0231a" stroke="#000" stroke-width="0.6"/>
<circle cx="268.14" cy="201.57" r="1.75" fill="#e0231a" stroke="#000" stroke-width="0.6"/>
<circle cx="266.06" cy="204.78" r="1.75" fill="#e0231a" stroke="#000" stroke-width="0.6"/>
<circle cx="267.82" cy="211.53" r="1.75" fill="#e0231a" stroke="#000" stroke-width="0.6"/>
<line x1="263.4" y1="201.32" x2="271.8" y2="201.32" stroke="#333" stroke-width="0.7"/>
<line x1="267.6" y1="199.56" x2="267.6" y2="203.09" stroke="#333" stroke-width="0.7"/>
<line x1="265.6" y1="199.56" x2="269.6" y2="199.56" stroke="#333" stroke-width="0.7"/>
<line x1="265.6" y1="203.09" x2="269.6" y2="203.09" stroke="#333" stroke-width="0.7"/>
<text x="218.6" y="184.3" font-size="6" text-anchor="middle" fill="#3a3a3a"><tspan font-style="italic">P</tspan> = 0.0972</text>
<polyline points="210.3,190.6 210.3,186.9 227.2,186.9 227.2,190.6" fill="none" stroke="#9a9a9a" stroke-width="0.8" stroke-linejoin="round"/>
<text x="258.8" y="184.3" font-size="6" text-anchor="middle" fill="#3a3a3a"><tspan font-style="italic">P</tspan> &lt; 0.0001</text>
<polyline points="248.5,190.6 248.5,186.9 269.4,186.9 269.4,190.6" fill="none" stroke="#9a9a9a" stroke-width="0.8" stroke-linejoin="round"/>
<text x="248.2" y="166.4" font-size="6" text-anchor="middle" fill="#3a3a3a"><tspan font-style="italic">P</tspan> &lt; 0.0001</text>
<polyline points="228.5,173.5 228.5,169.1 267.8,169.1 267.8,173.5" fill="none" stroke="#9a9a9a" stroke-width="0.8" stroke-linejoin="round"/>
<text x="181.4" y="293.3" font-size="7.6" transform="rotate(-45 181.4 293.3)"><tspan font-style="italic" font-size="7.6">Muc1</tspan><tspan font-size="5.4" dy="-2.9">Flox/Flox</tspan></text>
<text x="200.7" y="293.3" font-size="7.6" transform="rotate(-45 200.7 293.3)"><tspan font-style="italic" font-size="7.6">Muc1</tspan><tspan font-size="5.4" dy="-2.9">EKO</tspan></text>
<text x="220.3" y="293.3" font-size="7.6" transform="rotate(-45 220.3 293.3)"><tspan font-style="italic" font-size="7.6">Muc1</tspan><tspan font-size="5.4" dy="-2.9">Flox/Flox</tspan></text>
<text x="239.6" y="293.3" font-size="7.6" transform="rotate(-45 239.6 293.3)"><tspan font-style="italic" font-size="7.6">Muc1</tspan><tspan font-size="5.4" dy="-2.9">EKO</tspan></text>
<line x1="179.6" y1="297.3" x2="205" y2="297.3" stroke="#333" stroke-width="1.2"/>
<line x1="220" y1="297.3" x2="245.3" y2="297.3" stroke="#333" stroke-width="1.2"/>
<text x="191.9" y="305.6" font-size="8" text-anchor="middle">ND</text>
<text x="229.6" y="305.6" font-size="8" text-anchor="middle">HFD</text>
<text x="1" y="331.3" font-size="17.5" font-weight="bold" fill="#000">d</text>
<line x1="24" y1="335.6" x2="31.7" y2="335.6" stroke="#1f9a1f" stroke-width="1"/>
<circle cx="27.85" cy="335.6" r="1.3" fill="#1f9a1f"/>
<line x1="24" y1="344.6" x2="31.7" y2="344.6" stroke="#ff8c1a" stroke-width="1"/>
<circle cx="27.85" cy="344.6" r="1.3" fill="#ff8c1a"/>
<line x1="99.6" y1="335.6" x2="106.6" y2="335.6" stroke="#b02ee6" stroke-width="1"/>
<circle cx="103.1" cy="335.6" r="1.3" fill="#b02ee6"/>
<line x1="99.6" y1="344.6" x2="106.6" y2="344.6" stroke="#ff1a1a" stroke-width="1"/>
<circle cx="103.1" cy="344.6" r="1.3" fill="#ff1a1a"/>
<text x="36.1" y="338.6" font-size="8.2">ND <tspan font-style="italic" font-size="8.2">Muc1</tspan><tspan font-size="5.8" dy="-3.3">Flox/Flox</tspan></text>
<text x="36.1" y="347.6" font-size="8.2">ND <tspan font-style="italic" font-size="8.2">Muc1</tspan><tspan font-size="5.8" dy="-3.3">EKO</tspan></text>
<text x="109.5" y="338.6" font-size="8.2">HFD <tspan font-style="italic" font-size="8.2">Muc1</tspan><tspan font-size="5.8" dy="-3.3">Flox/Flox</tspan></text>
<text x="109.5" y="347.6" font-size="8.2">HFD <tspan font-style="italic" font-size="8.2">Muc1</tspan><tspan font-size="5.8" dy="-3.3">EKO</tspan></text>
<line x1="35.5" y1="366.36" x2="35.5" y2="438.6" stroke="#3c3c3c" stroke-width="1.15"/>
<line x1="32.9" y1="366.36" x2="35.5" y2="366.36" stroke="#3c3c3c" stroke-width="1.15"/>
<text x="32.1" y="369.31" font-size="8.2" text-anchor="end">30</text>
<line x1="32.9" y1="378.4" x2="35.5" y2="378.4" stroke="#3c3c3c" stroke-width="1.15"/>
<text x="32.1" y="381.35" font-size="8.2" text-anchor="end">25</text>
<line x1="32.9" y1="390.44" x2="35.5" y2="390.44" stroke="#3c3c3c" stroke-width="1.15"/>
<text x="32.1" y="393.39" font-size="8.2" text-anchor="end">20</text>
<line x1="32.9" y1="402.48" x2="35.5" y2="402.48" stroke="#3c3c3c" stroke-width="1.15"/>
<text x="32.1" y="405.43" font-size="8.2" text-anchor="end">15</text>
<line x1="32.9" y1="414.52" x2="35.5" y2="414.52" stroke="#3c3c3c" stroke-width="1.15"/>
<text x="32.1" y="417.47" font-size="8.2" text-anchor="end">10</text>
<line x1="32.9" y1="426.56" x2="35.5" y2="426.56" stroke="#3c3c3c" stroke-width="1.15"/>
<text x="32.1" y="429.51" font-size="8.2" text-anchor="end">5</text>
<line x1="32.9" y1="438.6" x2="35.5" y2="438.6" stroke="#3c3c3c" stroke-width="1.15"/>
<text x="32.1" y="441.55" font-size="8.2" text-anchor="end">0</text>
<line x1="35.5" y1="438.6" x2="145.6" y2="438.6" stroke="#3c3c3c" stroke-width="1.15"/>
<line x1="35.5" y1="438.6" x2="35.5" y2="441.2" stroke="#3c3c3c" stroke-width="1.15"/>
<text x="35.5" y="450.3" font-size="8.2" text-anchor="middle">0</text>
<line x1="63.02" y1="438.6" x2="63.02" y2="441.2" stroke="#3c3c3c" stroke-width="1.15"/>
<text x="63.02" y="450.3" font-size="8.2" text-anchor="middle">30</text>
<line x1="90.55" y1="438.6" x2="90.55" y2="441.2" stroke="#3c3c3c" stroke-width="1.15"/>
<text x="90.55" y="450.3" font-size="8.2" text-anchor="middle">60</text>
<line x1="118.08" y1="438.6" x2="118.08" y2="441.2" stroke="#3c3c3c" stroke-width="1.15"/>
<text x="118.08" y="450.3" font-size="8.2" text-anchor="middle">90</text>
<line x1="145.6" y1="438.6" x2="145.6" y2="441.2" stroke="#3c3c3c" stroke-width="1.15"/>
<text x="145.6" y="450.3" font-size="8.2" text-anchor="middle">120</text>
<text x="90.9" y="461.3" font-size="8.2" text-anchor="middle">Time (min)</text>
<text x="18.53" y="401" font-size="8.2" text-anchor="middle" transform="rotate(-90 18.53 401)">Blood glucose (mmol/L)</text>
<line x1="35.5" y1="423.43" x2="35.5" y2="425.84" stroke="#222" stroke-width="0.6"/>
<line x1="34.1" y1="423.43" x2="36.9" y2="423.43" stroke="#222" stroke-width="0.6"/>
<line x1="34.1" y1="425.84" x2="36.9" y2="425.84" stroke="#222" stroke-width="0.6"/>
<line x1="49.26" y1="398.15" x2="49.26" y2="402.48" stroke="#222" stroke-width="0.6"/>
<line x1="47.86" y1="398.15" x2="50.66" y2="398.15" stroke="#222" stroke-width="0.6"/>
<line x1="47.86" y1="402.48" x2="50.66" y2="402.48" stroke="#222" stroke-width="0.6"/>
<line x1="63.02" y1="402.24" x2="63.02" y2="406.57" stroke="#222" stroke-width="0.6"/>
<line x1="61.62" y1="402.24" x2="64.42" y2="402.24" stroke="#222" stroke-width="0.6"/>
<line x1="61.62" y1="406.57" x2="64.42" y2="406.57" stroke="#222" stroke-width="0.6"/>
<line x1="90.55" y1="407.78" x2="90.55" y2="411.63" stroke="#222" stroke-width="0.6"/>
<line x1="89.15" y1="407.78" x2="91.95" y2="407.78" stroke="#222" stroke-width="0.6"/>
<line x1="89.15" y1="411.63" x2="91.95" y2="411.63" stroke="#222" stroke-width="0.6"/>
<line x1="118.08" y1="412.59" x2="118.08" y2="416.45" stroke="#222" stroke-width="0.6"/>
<line x1="116.67" y1="412.59" x2="119.48" y2="412.59" stroke="#222" stroke-width="0.6"/>
<line x1="116.67" y1="416.45" x2="119.48" y2="416.45" stroke="#222" stroke-width="0.6"/>
<line x1="145.6" y1="417.41" x2="145.6" y2="420.78" stroke="#222" stroke-width="0.6"/>
<line x1="144.2" y1="417.41" x2="147" y2="417.41" stroke="#222" stroke-width="0.6"/>
<line x1="144.2" y1="420.78" x2="147" y2="420.78" stroke="#222" stroke-width="0.6"/>
<line x1="35.5" y1="422.71" x2="35.5" y2="425.12" stroke="#222" stroke-width="0.6"/>
<line x1="34.1" y1="422.71" x2="36.9" y2="422.71" stroke="#222" stroke-width="0.6"/>
<line x1="34.1" y1="425.12" x2="36.9" y2="425.12" stroke="#222" stroke-width="0.6"/>
<line x1="49.26" y1="396.94" x2="49.26" y2="401.28" stroke="#222" stroke-width="0.6"/>
<line x1="47.86" y1="396.94" x2="50.66" y2="396.94" stroke="#222" stroke-width="0.6"/>
<line x1="47.86" y1="401.28" x2="50.66" y2="401.28" stroke="#222" stroke-width="0.6"/>
<line x1="63.02" y1="401.04" x2="63.02" y2="405.37" stroke="#222" stroke-width="0.6"/>
<line x1="61.62" y1="401.04" x2="64.42" y2="401.04" stroke="#222" stroke-width="0.6"/>
<line x1="61.62" y1="405.37" x2="64.42" y2="405.37" stroke="#222" stroke-width="0.6"/>
<line x1="90.55" y1="406.33" x2="90.55" y2="410.19" stroke="#222" stroke-width="0.6"/>
<line x1="89.15" y1="406.33" x2="91.95" y2="406.33" stroke="#222" stroke-width="0.6"/>
<line x1="89.15" y1="410.19" x2="91.95" y2="410.19" stroke="#222" stroke-width="0.6"/>
<line x1="118.08" y1="411.15" x2="118.08" y2="415" stroke="#222" stroke-width="0.6"/>
<line x1="116.67" y1="411.15" x2="119.48" y2="411.15" stroke="#222" stroke-width="0.6"/>
<line x1="116.67" y1="415" x2="119.48" y2="415" stroke="#222" stroke-width="0.6"/>
<line x1="145.6" y1="416.21" x2="145.6" y2="419.58" stroke="#222" stroke-width="0.6"/>
<line x1="144.2" y1="416.21" x2="147" y2="416.21" stroke="#222" stroke-width="0.6"/>
<line x1="144.2" y1="419.58" x2="147" y2="419.58" stroke="#222" stroke-width="0.6"/>
<line x1="35.5" y1="420.3" x2="35.5" y2="423.19" stroke="#222" stroke-width="0.6"/>
<line x1="34.1" y1="420.3" x2="36.9" y2="420.3" stroke="#222" stroke-width="0.6"/>
<line x1="34.1" y1="423.19" x2="36.9" y2="423.19" stroke="#222" stroke-width="0.6"/>
<line x1="49.26" y1="381.77" x2="49.26" y2="387.55" stroke="#222" stroke-width="0.6"/>
<line x1="47.86" y1="381.77" x2="50.66" y2="381.77" stroke="#222" stroke-width="0.6"/>
<line x1="47.86" y1="387.55" x2="50.66" y2="387.55" stroke="#222" stroke-width="0.6"/>
<line x1="63.02" y1="386.35" x2="63.02" y2="391.64" stroke="#222" stroke-width="0.6"/>
<line x1="61.62" y1="386.35" x2="64.42" y2="386.35" stroke="#222" stroke-width="0.6"/>
<line x1="61.62" y1="391.64" x2="64.42" y2="391.64" stroke="#222" stroke-width="0.6"/>
<line x1="90.55" y1="392.13" x2="90.55" y2="397.9" stroke="#222" stroke-width="0.6"/>
<line x1="89.15" y1="392.13" x2="91.95" y2="392.13" stroke="#222" stroke-width="0.6"/>
<line x1="89.15" y1="397.9" x2="91.95" y2="397.9" stroke="#222" stroke-width="0.6"/>
<line x1="118.08" y1="399.11" x2="118.08" y2="404.89" stroke="#222" stroke-width="0.6"/>
<line x1="116.67" y1="399.11" x2="119.48" y2="399.11" stroke="#222" stroke-width="0.6"/>
<line x1="116.67" y1="404.89" x2="119.48" y2="404.89" stroke="#222" stroke-width="0.6"/>
<line x1="145.6" y1="403.92" x2="145.6" y2="412.59" stroke="#222" stroke-width="0.6"/>
<line x1="144.2" y1="403.92" x2="147" y2="403.92" stroke="#222" stroke-width="0.6"/>
<line x1="144.2" y1="412.59" x2="147" y2="412.59" stroke="#222" stroke-width="0.6"/>
<line x1="35.5" y1="418.85" x2="35.5" y2="421.74" stroke="#222" stroke-width="0.6"/>
<line x1="34.1" y1="418.85" x2="36.9" y2="418.85" stroke="#222" stroke-width="0.6"/>
<line x1="34.1" y1="421.74" x2="36.9" y2="421.74" stroke="#222" stroke-width="0.6"/>
<line x1="49.26" y1="372.38" x2="49.26" y2="379.12" stroke="#222" stroke-width="0.6"/>
<line x1="47.86" y1="372.38" x2="50.66" y2="372.38" stroke="#222" stroke-width="0.6"/>
<line x1="47.86" y1="379.12" x2="50.66" y2="379.12" stroke="#222" stroke-width="0.6"/>
<line x1="63.02" y1="379.36" x2="63.02" y2="386.59" stroke="#222" stroke-width="0.6"/>
<line x1="61.62" y1="379.36" x2="64.42" y2="379.36" stroke="#222" stroke-width="0.6"/>
<line x1="61.62" y1="386.59" x2="64.42" y2="386.59" stroke="#222" stroke-width="0.6"/>
<line x1="90.55" y1="386.59" x2="90.55" y2="392.37" stroke="#222" stroke-width="0.6"/>
<line x1="89.15" y1="386.59" x2="91.95" y2="386.59" stroke="#222" stroke-width="0.6"/>
<line x1="89.15" y1="392.37" x2="91.95" y2="392.37" stroke="#222" stroke-width="0.6"/>
<line x1="118.08" y1="391.4" x2="118.08" y2="398.63" stroke="#222" stroke-width="0.6"/>
<line x1="116.67" y1="391.4" x2="119.48" y2="391.4" stroke="#222" stroke-width="0.6"/>
<line x1="116.67" y1="398.63" x2="119.48" y2="398.63" stroke="#222" stroke-width="0.6"/>
<line x1="145.6" y1="394.53" x2="145.6" y2="405.61" stroke="#222" stroke-width="0.6"/>
<line x1="144.2" y1="394.53" x2="147" y2="394.53" stroke="#222" stroke-width="0.6"/>
<line x1="144.2" y1="405.61" x2="147" y2="405.61" stroke="#222" stroke-width="0.6"/>
<polyline points="35.5,420.3 49.26,375.75 63.02,382.98 90.55,389.48 118.08,395.02 145.6,400.07" fill="none" stroke="#ff1a1a" stroke-width="1.1" stroke-linejoin="round"/>
<circle cx="35.5" cy="420.3" r="1.8" fill="#ff1a1a"/>
<circle cx="49.26" cy="375.75" r="1.8" fill="#ff1a1a"/>
<circle cx="63.02" cy="382.98" r="1.8" fill="#ff1a1a"/>
<circle cx="90.55" cy="389.48" r="1.8" fill="#ff1a1a"/>
<circle cx="118.08" cy="395.02" r="1.8" fill="#ff1a1a"/>
<circle cx="145.6" cy="400.07" r="1.8" fill="#ff1a1a"/>
<polyline points="35.5,421.74 49.26,384.66 63.02,389 90.55,395.02 118.08,402 145.6,408.26" fill="none" stroke="#b02ee6" stroke-width="1.1" stroke-linejoin="round"/>
<circle cx="35.5" cy="421.74" r="1.8" fill="#b02ee6"/>
<circle cx="49.26" cy="384.66" r="1.8" fill="#b02ee6"/>
<circle cx="63.02" cy="389" r="1.8" fill="#b02ee6"/>
<circle cx="90.55" cy="395.02" r="1.8" fill="#b02ee6"/>
<circle cx="118.08" cy="402" r="1.8" fill="#b02ee6"/>
<circle cx="145.6" cy="408.26" r="1.8" fill="#b02ee6"/>
<polyline points="35.5,423.91 49.26,399.11 63.02,403.2 90.55,408.26 118.08,413.08 145.6,417.89" fill="none" stroke="#ff8c1a" stroke-width="1.1" stroke-linejoin="round"/>
<circle cx="35.5" cy="423.91" r="1.8" fill="#ff8c1a"/>
<circle cx="49.26" cy="399.11" r="1.8" fill="#ff8c1a"/>
<circle cx="63.02" cy="403.2" r="1.8" fill="#ff8c1a"/>
<circle cx="90.55" cy="408.26" r="1.8" fill="#ff8c1a"/>
<circle cx="118.08" cy="413.08" r="1.8" fill="#ff8c1a"/>
<circle cx="145.6" cy="417.89" r="1.8" fill="#ff8c1a"/>
<polyline points="35.5,424.63 49.26,400.31 63.02,404.41 90.55,409.7 118.08,414.52 145.6,419.1" fill="none" stroke="#1f9a1f" stroke-width="1.1" stroke-linejoin="round"/>
<circle cx="35.5" cy="424.63" r="1.8" fill="#1f9a1f"/>
<circle cx="49.26" cy="400.31" r="1.8" fill="#1f9a1f"/>
<circle cx="63.02" cy="404.41" r="1.8" fill="#1f9a1f"/>
<circle cx="90.55" cy="409.7" r="1.8" fill="#1f9a1f"/>
<circle cx="118.08" cy="414.52" r="1.8" fill="#1f9a1f"/>
<circle cx="145.6" cy="419.1" r="1.8" fill="#1f9a1f"/>
<line x1="205.5" y1="336.6" x2="205.5" y2="408" stroke="#3c3c3c" stroke-width="1.15"/>
<line x1="202.9" y1="336.6" x2="205.5" y2="336.6" stroke="#3c3c3c" stroke-width="1.15"/>
<text x="202.1" y="339.55" font-size="8.2" text-anchor="end">3000</text>
<line x1="202.9" y1="360.4" x2="205.5" y2="360.4" stroke="#3c3c3c" stroke-width="1.15"/>
<text x="202.1" y="363.35" font-size="8.2" text-anchor="end">2000</text>
<line x1="202.9" y1="384.2" x2="205.5" y2="384.2" stroke="#3c3c3c" stroke-width="1.15"/>
<text x="202.1" y="387.15" font-size="8.2" text-anchor="end">1000</text>
<line x1="202.9" y1="408" x2="205.5" y2="408" stroke="#3c3c3c" stroke-width="1.15"/>
<text x="202.1" y="410.95" font-size="8.2" text-anchor="end">0</text>
<line x1="205.5" y1="408" x2="277.5" y2="408" stroke="#3c3c3c" stroke-width="1.15"/>
<line x1="216.4" y1="408" x2="216.4" y2="410.2" stroke="#3c3c3c" stroke-width="1.15"/>
<line x1="233" y1="408" x2="233" y2="410.2" stroke="#3c3c3c" stroke-width="1.15"/>
<line x1="249.5" y1="408" x2="249.5" y2="410.2" stroke="#3c3c3c" stroke-width="1.15"/>
<line x1="266.5" y1="408" x2="266.5" y2="410.2" stroke="#3c3c3c" stroke-width="1.15"/>
<text x="181.15" y="371" font-size="8.2" text-anchor="middle" transform="rotate(-90 181.15 371)">Area under curve</text>
<circle cx="216.4" cy="370.87" r="1.7" fill="#19c019" stroke="#000" stroke-width="0.6"/>
<circle cx="216.4" cy="376.35" r="1.7" fill="#19c019" stroke="#000" stroke-width="0.6"/>
<circle cx="213.5" cy="374.68" r="1.7" fill="#19c019" stroke="#000" stroke-width="0.6"/>
<circle cx="219.3" cy="375.87" r="1.7" fill="#19c019" stroke="#000" stroke-width="0.6"/>
<circle cx="216.4" cy="373.49" r="1.7" fill="#19c019" stroke="#000" stroke-width="0.6"/>
<circle cx="213.5" cy="377.06" r="1.7" fill="#19c019" stroke="#000" stroke-width="0.6"/>
<circle cx="216.4" cy="375.16" r="1.7" fill="#19c019" stroke="#000" stroke-width="0.6"/>
<circle cx="219.3" cy="374.2" r="1.7" fill="#19c019" stroke="#000" stroke-width="0.6"/>
<line x1="212.4" y1="374.68" x2="220.4" y2="374.68" stroke="#222" stroke-width="0.7"/>
<line x1="216.4" y1="373.73" x2="216.4" y2="375.63" stroke="#222" stroke-width="0.7"/>
<line x1="214.6" y1="373.73" x2="218.2" y2="373.73" stroke="#222" stroke-width="0.7"/>
<line x1="214.6" y1="375.63" x2="218.2" y2="375.63" stroke="#222" stroke-width="0.7"/>
<circle cx="233" cy="370.87" r="1.7" fill="#ff8c1a" stroke="#000" stroke-width="0.6"/>
<circle cx="233" cy="375.87" r="1.7" fill="#ff8c1a" stroke="#000" stroke-width="0.6"/>
<circle cx="230.1" cy="372.78" r="1.7" fill="#ff8c1a" stroke="#000" stroke-width="0.6"/>
<circle cx="235.9" cy="371.11" r="1.7" fill="#ff8c1a" stroke="#000" stroke-width="0.6"/>
<circle cx="235.9" cy="374.68" r="1.7" fill="#ff8c1a" stroke="#000" stroke-width="0.6"/>
<circle cx="230.1" cy="377.06" r="1.7" fill="#ff8c1a" stroke="#000" stroke-width="0.6"/>
<circle cx="233" cy="373.49" r="1.7" fill="#ff8c1a" stroke="#000" stroke-width="0.6"/>
<circle cx="233" cy="371.82" r="1.7" fill="#ff8c1a" stroke="#000" stroke-width="0.6"/>
<line x1="229" y1="373.49" x2="237" y2="373.49" stroke="#222" stroke-width="0.7"/>
<line x1="233" y1="372.66" x2="233" y2="374.32" stroke="#222" stroke-width="0.7"/>
<line x1="231.2" y1="372.66" x2="234.8" y2="372.66" stroke="#222" stroke-width="0.7"/>
<line x1="231.2" y1="374.32" x2="234.8" y2="374.32" stroke="#222" stroke-width="0.7"/>
<circle cx="249.5" cy="356.12" r="1.7" fill="#a81fe0" stroke="#000" stroke-width="0.6"/>
<circle cx="249.5" cy="359.21" r="1.7" fill="#a81fe0" stroke="#000" stroke-width="0.6"/>
<circle cx="249.5" cy="365.16" r="1.7" fill="#a81fe0" stroke="#000" stroke-width="0.6"/>
<circle cx="246.6" cy="361.59" r="1.7" fill="#a81fe0" stroke="#000" stroke-width="0.6"/>
<circle cx="246.6" cy="358.02" r="1.7" fill="#a81fe0" stroke="#000" stroke-width="0.6"/>
<circle cx="252.4" cy="360.4" r="1.7" fill="#a81fe0" stroke="#000" stroke-width="0.6"/>
<circle cx="252.4" cy="356.83" r="1.7" fill="#a81fe0" stroke="#000" stroke-width="0.6"/>
<circle cx="249.5" cy="362.78" r="1.7" fill="#a81fe0" stroke="#000" stroke-width="0.6"/>
<line x1="245.5" y1="359.69" x2="253.5" y2="359.69" stroke="#222" stroke-width="0.7"/>
<line x1="249.5" y1="358.62" x2="249.5" y2="360.76" stroke="#222" stroke-width="0.7"/>
<line x1="247.7" y1="358.62" x2="251.3" y2="358.62" stroke="#222" stroke-width="0.7"/>
<line x1="247.7" y1="360.76" x2="251.3" y2="360.76" stroke="#222" stroke-width="0.7"/>
<circle cx="266.5" cy="348.02" r="1.7" fill="#ff0a0a" stroke="#000" stroke-width="0.6"/>
<circle cx="263.6" cy="350.88" r="1.7" fill="#ff0a0a" stroke="#000" stroke-width="0.6"/>
<circle cx="266.5" cy="354.45" r="1.7" fill="#ff0a0a" stroke="#000" stroke-width="0.6"/>
<circle cx="269.4" cy="352.07" r="1.7" fill="#ff0a0a" stroke="#000" stroke-width="0.6"/>
<circle cx="269.4" cy="348.98" r="1.7" fill="#ff0a0a" stroke="#000" stroke-width="0.6"/>
<circle cx="263.6" cy="353.26" r="1.7" fill="#ff0a0a" stroke="#000" stroke-width="0.6"/>
<circle cx="269.4" cy="355.64" r="1.7" fill="#ff0a0a" stroke="#000" stroke-width="0.6"/>
<circle cx="266.5" cy="349.69" r="1.7" fill="#ff0a0a" stroke="#000" stroke-width="0.6"/>
<line x1="262.5" y1="351.36" x2="270.5" y2="351.36" stroke="#222" stroke-width="0.7"/>
<line x1="266.5" y1="350.4" x2="266.5" y2="352.31" stroke="#222" stroke-width="0.7"/>
<line x1="264.7" y1="350.4" x2="268.3" y2="350.4" stroke="#222" stroke-width="0.7"/>
<line x1="264.7" y1="352.31" x2="268.3" y2="352.31" stroke="#222" stroke-width="0.7"/>
<text x="223.2" y="334.3" font-size="6" text-anchor="middle" fill="#3a3a3a"><tspan font-style="italic">P</tspan> = 0.1782</text>
<polyline points="212.7,342.1 212.7,337.6 233.1,337.6 233.1,342.1" fill="none" stroke="#9a9a9a" stroke-width="0.8" stroke-linejoin="round"/>
<text x="258.5" y="334.3" font-size="6" text-anchor="middle" fill="#3a3a3a"><tspan font-style="italic">P</tspan> &lt; 0.0001</text>
<polyline points="248,342.1 248,337.6 269.4,337.6 269.4,342.1" fill="none" stroke="#9a9a9a" stroke-width="0.8" stroke-linejoin="round"/>
<text x="250.5" y="315.3" font-size="6" text-anchor="middle" fill="#3a3a3a"><tspan font-style="italic">P</tspan> &lt; 0.0001</text>
<polyline points="231.5,324.1 231.5,318.8 269.4,318.8 269.4,324.1" fill="none" stroke="#9a9a9a" stroke-width="0.8" stroke-linejoin="round"/>
<text x="187.5" y="450" font-size="8.4" transform="rotate(-45 187.5 450)"><tspan font-style="italic" font-size="8.4">Muc1</tspan><tspan font-size="6" dy="-3.2">Flox/Flox</tspan></text>
<text x="204.1" y="450" font-size="8.4" transform="rotate(-45 204.1 450)"><tspan font-style="italic" font-size="8.4">Muc1</tspan><tspan font-size="6" dy="-3.2">EKO</tspan></text>
<text x="220.6" y="450" font-size="8.4" transform="rotate(-45 220.6 450)"><tspan font-style="italic" font-size="8.4">Muc1</tspan><tspan font-size="6" dy="-3.2">Flox/Flox</tspan></text>
<text x="237.6" y="450" font-size="8.4" transform="rotate(-45 237.6 450)"><tspan font-style="italic" font-size="8.4">Muc1</tspan><tspan font-size="6" dy="-3.2">EKO</tspan></text>
<line x1="180.2" y1="459.2" x2="207.1" y2="459.2" stroke="#333" stroke-width="1.2"/>
<line x1="223.4" y1="459.2" x2="250.9" y2="459.2" stroke="#333" stroke-width="1.2"/>
<text x="192.8" y="467.6" font-size="8" text-anchor="middle">ND</text>
<text x="234" y="467.6" font-size="8" text-anchor="middle">HFD</text>
<text x="1.5" y="483.9" font-size="17.5" font-weight="bold" fill="#000">e</text>
<line x1="25.2" y1="491.9" x2="32.8" y2="491.9" stroke="#1f9a1f" stroke-width="1"/>
<circle cx="29" cy="491.9" r="1.3" fill="#1f9a1f"/>
<line x1="25.2" y1="501.7" x2="32.8" y2="501.7" stroke="#ff7f1a" stroke-width="1"/>
<circle cx="29" cy="501.7" r="1.3" fill="#ff7f1a"/>
<line x1="99.6" y1="491.9" x2="107.3" y2="491.9" stroke="#b02ee6" stroke-width="1"/>
<circle cx="103.45" cy="491.9" r="1.3" fill="#b02ee6"/>
<line x1="99.6" y1="501.7" x2="107.3" y2="501.7" stroke="#ff1a1a" stroke-width="1"/>
<circle cx="103.45" cy="501.7" r="1.3" fill="#ff1a1a"/>
<text x="37.2" y="494.9" font-size="8.2">ND <tspan font-style="italic" font-size="8.2">Muc1</tspan><tspan font-size="5.8" dy="-3.3">Flox/Flox</tspan></text>
<text x="37.2" y="504.7" font-size="8.2">ND <tspan font-style="italic" font-size="8.2">Muc1</tspan><tspan font-size="5.8" dy="-3.3">EKO</tspan></text>
<text x="110.6" y="494.9" font-size="8.2">HFD <tspan font-style="italic" font-size="8.2">Muc1</tspan><tspan font-size="5.8" dy="-3.3">Flox/Flox</tspan></text>
<text x="110.6" y="504.7" font-size="8.2">HFD <tspan font-style="italic" font-size="8.2">Muc1</tspan><tspan font-size="5.8" dy="-3.3">EKO</tspan></text>
<line x1="36.7" y1="522.4" x2="36.7" y2="594.1" stroke="#3c3c3c" stroke-width="1.15"/>
<line x1="34.1" y1="522.4" x2="36.7" y2="522.4" stroke="#3c3c3c" stroke-width="1.15"/>
<text x="33.3" y="525.35" font-size="8.2" text-anchor="end">10</text>
<line x1="34.1" y1="536.74" x2="36.7" y2="536.74" stroke="#3c3c3c" stroke-width="1.15"/>
<text x="33.3" y="539.69" font-size="8.2" text-anchor="end">8</text>
<line x1="34.1" y1="551.08" x2="36.7" y2="551.08" stroke="#3c3c3c" stroke-width="1.15"/>
<text x="33.3" y="554.03" font-size="8.2" text-anchor="end">6</text>
<line x1="34.1" y1="565.42" x2="36.7" y2="565.42" stroke="#3c3c3c" stroke-width="1.15"/>
<text x="33.3" y="568.37" font-size="8.2" text-anchor="end">4</text>
<line x1="34.1" y1="579.76" x2="36.7" y2="579.76" stroke="#3c3c3c" stroke-width="1.15"/>
<text x="33.3" y="582.71" font-size="8.2" text-anchor="end">2</text>
<line x1="34.1" y1="594.1" x2="36.7" y2="594.1" stroke="#3c3c3c" stroke-width="1.15"/>
<text x="33.3" y="597.05" font-size="8.2" text-anchor="end">0</text>
<line x1="36.7" y1="594.1" x2="145.5" y2="594.1" stroke="#3c3c3c" stroke-width="1.15"/>
<line x1="36.7" y1="594.1" x2="36.7" y2="596.7" stroke="#3c3c3c" stroke-width="1.15"/>
<text x="36.7" y="606.2" font-size="8.2" text-anchor="middle">0</text>
<line x1="63.9" y1="594.1" x2="63.9" y2="596.7" stroke="#3c3c3c" stroke-width="1.15"/>
<text x="63.9" y="606.2" font-size="8.2" text-anchor="middle">30</text>
<line x1="91.1" y1="594.1" x2="91.1" y2="596.7" stroke="#3c3c3c" stroke-width="1.15"/>
<text x="91.1" y="606.2" font-size="8.2" text-anchor="middle">60</text>
<line x1="118.3" y1="594.1" x2="118.3" y2="596.7" stroke="#3c3c3c" stroke-width="1.15"/>
<text x="118.3" y="606.2" font-size="8.2" text-anchor="middle">90</text>
<line x1="145.5" y1="594.1" x2="145.5" y2="596.7" stroke="#3c3c3c" stroke-width="1.15"/>
<text x="145.5" y="606.2" font-size="8.2" text-anchor="middle">120</text>
<text x="91.1" y="617.2" font-size="8.2" text-anchor="middle">Time (min)</text>
<text x="19.63" y="557.3" font-size="8.2" text-anchor="middle" transform="rotate(-90 19.63 557.3)">Blood glucose (mmol/L)</text>
<line x1="36.7" y1="546.63" x2="36.7" y2="553.8" stroke="#222" stroke-width="0.6"/>
<line x1="35.3" y1="546.63" x2="38.1" y2="546.63" stroke="#222" stroke-width="0.6"/>
<line x1="35.3" y1="553.8" x2="38.1" y2="553.8" stroke="#222" stroke-width="0.6"/>
<line x1="50.3" y1="553.59" x2="50.3" y2="560.76" stroke="#222" stroke-width="0.6"/>
<line x1="48.9" y1="553.59" x2="51.7" y2="553.59" stroke="#222" stroke-width="0.6"/>
<line x1="48.9" y1="560.76" x2="51.7" y2="560.76" stroke="#222" stroke-width="0.6"/>
<line x1="63.9" y1="559.9" x2="63.9" y2="565.64" stroke="#222" stroke-width="0.6"/>
<line x1="62.5" y1="559.9" x2="65.3" y2="559.9" stroke="#222" stroke-width="0.6"/>
<line x1="62.5" y1="565.64" x2="65.3" y2="565.64" stroke="#222" stroke-width="0.6"/>
<line x1="91.1" y1="562.7" x2="91.1" y2="571.3" stroke="#222" stroke-width="0.6"/>
<line x1="89.7" y1="562.7" x2="92.5" y2="562.7" stroke="#222" stroke-width="0.6"/>
<line x1="89.7" y1="571.3" x2="92.5" y2="571.3" stroke="#222" stroke-width="0.6"/>
<line x1="118.3" y1="552.87" x2="118.3" y2="564.34" stroke="#222" stroke-width="0.6"/>
<line x1="116.9" y1="552.87" x2="119.7" y2="552.87" stroke="#222" stroke-width="0.6"/>
<line x1="116.9" y1="564.34" x2="119.7" y2="564.34" stroke="#222" stroke-width="0.6"/>
<line x1="145.5" y1="547.64" x2="145.5" y2="559.11" stroke="#222" stroke-width="0.6"/>
<line x1="144.1" y1="547.64" x2="146.9" y2="547.64" stroke="#222" stroke-width="0.6"/>
<line x1="144.1" y1="559.11" x2="146.9" y2="559.11" stroke="#222" stroke-width="0.6"/>
<line x1="36.7" y1="543.84" x2="36.7" y2="551.01" stroke="#222" stroke-width="0.6"/>
<line x1="35.3" y1="543.84" x2="38.1" y2="543.84" stroke="#222" stroke-width="0.6"/>
<line x1="35.3" y1="551.01" x2="38.1" y2="551.01" stroke="#222" stroke-width="0.6"/>
<line x1="50.3" y1="551.22" x2="50.3" y2="558.39" stroke="#222" stroke-width="0.6"/>
<line x1="48.9" y1="551.22" x2="51.7" y2="551.22" stroke="#222" stroke-width="0.6"/>
<line x1="48.9" y1="558.39" x2="51.7" y2="558.39" stroke="#222" stroke-width="0.6"/>
<line x1="63.9" y1="559.04" x2="63.9" y2="564.77" stroke="#222" stroke-width="0.6"/>
<line x1="62.5" y1="559.04" x2="65.3" y2="559.04" stroke="#222" stroke-width="0.6"/>
<line x1="62.5" y1="564.77" x2="65.3" y2="564.77" stroke="#222" stroke-width="0.6"/>
<line x1="91.1" y1="562.55" x2="91.1" y2="569.72" stroke="#222" stroke-width="0.6"/>
<line x1="89.7" y1="562.55" x2="92.5" y2="562.55" stroke="#222" stroke-width="0.6"/>
<line x1="89.7" y1="569.72" x2="92.5" y2="569.72" stroke="#222" stroke-width="0.6"/>
<line x1="118.3" y1="552.66" x2="118.3" y2="564.13" stroke="#222" stroke-width="0.6"/>
<line x1="116.9" y1="552.66" x2="119.7" y2="552.66" stroke="#222" stroke-width="0.6"/>
<line x1="116.9" y1="564.13" x2="119.7" y2="564.13" stroke="#222" stroke-width="0.6"/>
<line x1="145.5" y1="545.85" x2="145.5" y2="557.32" stroke="#222" stroke-width="0.6"/>
<line x1="144.1" y1="545.85" x2="146.9" y2="545.85" stroke="#222" stroke-width="0.6"/>
<line x1="144.1" y1="557.32" x2="146.9" y2="557.32" stroke="#222" stroke-width="0.6"/>
<line x1="36.7" y1="531.86" x2="36.7" y2="543.34" stroke="#222" stroke-width="0.6"/>
<line x1="35.3" y1="531.86" x2="38.1" y2="531.86" stroke="#222" stroke-width="0.6"/>
<line x1="35.3" y1="543.34" x2="38.1" y2="543.34" stroke="#222" stroke-width="0.6"/>
<line x1="50.3" y1="542.33" x2="50.3" y2="553.8" stroke="#222" stroke-width="0.6"/>
<line x1="48.9" y1="542.33" x2="51.7" y2="542.33" stroke="#222" stroke-width="0.6"/>
<line x1="48.9" y1="553.8" x2="51.7" y2="553.8" stroke="#222" stroke-width="0.6"/>
<line x1="63.9" y1="546.56" x2="63.9" y2="559.47" stroke="#222" stroke-width="0.6"/>
<line x1="62.5" y1="546.56" x2="65.3" y2="546.56" stroke="#222" stroke-width="0.6"/>
<line x1="62.5" y1="559.47" x2="65.3" y2="559.47" stroke="#222" stroke-width="0.6"/>
<line x1="91.1" y1="551.08" x2="91.1" y2="562.55" stroke="#222" stroke-width="0.6"/>
<line x1="89.7" y1="551.08" x2="92.5" y2="551.08" stroke="#222" stroke-width="0.6"/>
<line x1="89.7" y1="562.55" x2="92.5" y2="562.55" stroke="#222" stroke-width="0.6"/>
<line x1="118.3" y1="545.34" x2="118.3" y2="556.82" stroke="#222" stroke-width="0.6"/>
<line x1="116.9" y1="545.34" x2="119.7" y2="545.34" stroke="#222" stroke-width="0.6"/>
<line x1="116.9" y1="556.82" x2="119.7" y2="556.82" stroke="#222" stroke-width="0.6"/>
<line x1="145.5" y1="540.47" x2="145.5" y2="551.94" stroke="#222" stroke-width="0.6"/>
<line x1="144.1" y1="540.47" x2="146.9" y2="540.47" stroke="#222" stroke-width="0.6"/>
<line x1="144.1" y1="551.94" x2="146.9" y2="551.94" stroke="#222" stroke-width="0.6"/>
<line x1="36.7" y1="524.19" x2="36.7" y2="535.66" stroke="#222" stroke-width="0.6"/>
<line x1="35.3" y1="524.19" x2="38.1" y2="524.19" stroke="#222" stroke-width="0.6"/>
<line x1="35.3" y1="535.66" x2="38.1" y2="535.66" stroke="#222" stroke-width="0.6"/>
<line x1="50.3" y1="532.22" x2="50.3" y2="545.13" stroke="#222" stroke-width="0.6"/>
<line x1="48.9" y1="532.22" x2="51.7" y2="532.22" stroke="#222" stroke-width="0.6"/>
<line x1="48.9" y1="545.13" x2="51.7" y2="545.13" stroke="#222" stroke-width="0.6"/>
<line x1="63.9" y1="539.03" x2="63.9" y2="553.37" stroke="#222" stroke-width="0.6"/>
<line x1="62.5" y1="539.03" x2="65.3" y2="539.03" stroke="#222" stroke-width="0.6"/>
<line x1="62.5" y1="553.37" x2="65.3" y2="553.37" stroke="#222" stroke-width="0.6"/>
<line x1="91.1" y1="546.28" x2="91.1" y2="559.18" stroke="#222" stroke-width="0.6"/>
<line x1="89.7" y1="546.28" x2="92.5" y2="546.28" stroke="#222" stroke-width="0.6"/>
<line x1="89.7" y1="559.18" x2="92.5" y2="559.18" stroke="#222" stroke-width="0.6"/>
<line x1="118.3" y1="539.03" x2="118.3" y2="551.94" stroke="#222" stroke-width="0.6"/>
<line x1="116.9" y1="539.03" x2="119.7" y2="539.03" stroke="#222" stroke-width="0.6"/>
<line x1="116.9" y1="551.94" x2="119.7" y2="551.94" stroke="#222" stroke-width="0.6"/>
<line x1="145.5" y1="533.94" x2="145.5" y2="545.42" stroke="#222" stroke-width="0.6"/>
<line x1="144.1" y1="533.94" x2="146.9" y2="533.94" stroke="#222" stroke-width="0.6"/>
<line x1="144.1" y1="545.42" x2="146.9" y2="545.42" stroke="#222" stroke-width="0.6"/>
<polyline points="36.7,529.93 50.3,538.68 63.9,546.2 91.1,552.73 118.3,545.49 145.5,539.68" fill="none" stroke="#ff1a1a" stroke-width="1.1" stroke-linejoin="round"/>
<circle cx="36.7" cy="529.93" r="1.8" fill="#ff1a1a"/>
<circle cx="50.3" cy="538.68" r="1.8" fill="#ff1a1a"/>
<circle cx="63.9" cy="546.2" r="1.8" fill="#ff1a1a"/>
<circle cx="91.1" cy="552.73" r="1.8" fill="#ff1a1a"/>
<circle cx="118.3" cy="545.49" r="1.8" fill="#ff1a1a"/>
<circle cx="145.5" cy="539.68" r="1.8" fill="#ff1a1a"/>
<polyline points="36.7,537.6 50.3,548.07 63.9,553.02 91.1,556.82 118.3,551.08 145.5,546.2" fill="none" stroke="#b02ee6" stroke-width="1.1" stroke-linejoin="round"/>
<circle cx="36.7" cy="537.6" r="1.8" fill="#b02ee6"/>
<circle cx="50.3" cy="548.07" r="1.8" fill="#b02ee6"/>
<circle cx="63.9" cy="553.02" r="1.8" fill="#b02ee6"/>
<circle cx="91.1" cy="556.82" r="1.8" fill="#b02ee6"/>
<circle cx="118.3" cy="551.08" r="1.8" fill="#b02ee6"/>
<circle cx="145.5" cy="546.2" r="1.8" fill="#b02ee6"/>
<polyline points="36.7,547.42 50.3,554.81 63.9,561.91 91.1,566.14 118.3,558.39 145.5,551.58" fill="none" stroke="#ff7f1a" stroke-width="1.1" stroke-linejoin="round"/>
<circle cx="36.7" cy="547.42" r="1.8" fill="#ff7f1a"/>
<circle cx="50.3" cy="554.81" r="1.8" fill="#ff7f1a"/>
<circle cx="63.9" cy="561.91" r="1.8" fill="#ff7f1a"/>
<circle cx="91.1" cy="566.14" r="1.8" fill="#ff7f1a"/>
<circle cx="118.3" cy="558.39" r="1.8" fill="#ff7f1a"/>
<circle cx="145.5" cy="551.58" r="1.8" fill="#ff7f1a"/>
<polyline points="36.7,550.22 50.3,557.17 63.9,562.77 91.1,567 118.3,558.61 145.5,553.37" fill="none" stroke="#1f9a1f" stroke-width="1.1" stroke-linejoin="round"/>
<circle cx="36.7" cy="550.22" r="1.8" fill="#1f9a1f"/>
<circle cx="50.3" cy="557.17" r="1.8" fill="#1f9a1f"/>
<circle cx="63.9" cy="562.77" r="1.8" fill="#1f9a1f"/>
<circle cx="91.1" cy="567" r="1.8" fill="#1f9a1f"/>
<circle cx="118.3" cy="558.61" r="1.8" fill="#1f9a1f"/>
<circle cx="145.5" cy="553.37" r="1.8" fill="#1f9a1f"/>
<line x1="205.5" y1="507.4" x2="205.5" y2="574.4" stroke="#3c3c3c" stroke-width="1.15"/>
<line x1="202.9" y1="507.4" x2="205.5" y2="507.4" stroke="#3c3c3c" stroke-width="1.15"/>
<text x="202.1" y="510.35" font-size="8.2" text-anchor="end">1000</text>
<line x1="202.9" y1="520.8" x2="205.5" y2="520.8" stroke="#3c3c3c" stroke-width="1.15"/>
<text x="202.1" y="523.75" font-size="8.2" text-anchor="end">800</text>
<line x1="202.9" y1="534.2" x2="205.5" y2="534.2" stroke="#3c3c3c" stroke-width="1.15"/>
<text x="202.1" y="537.15" font-size="8.2" text-anchor="end">600</text>
<line x1="202.9" y1="547.6" x2="205.5" y2="547.6" stroke="#3c3c3c" stroke-width="1.15"/>
<text x="202.1" y="550.55" font-size="8.2" text-anchor="end">400</text>
<line x1="202.9" y1="561" x2="205.5" y2="561" stroke="#3c3c3c" stroke-width="1.15"/>
<text x="202.1" y="563.95" font-size="8.2" text-anchor="end">200</text>
<line x1="202.9" y1="574.4" x2="205.5" y2="574.4" stroke="#3c3c3c" stroke-width="1.15"/>
<text x="202.1" y="577.35" font-size="8.2" text-anchor="end">0</text>
<line x1="205.5" y1="574.4" x2="289.5" y2="574.4" stroke="#3c3c3c" stroke-width="1.15"/>
<line x1="217.3" y1="574.4" x2="217.3" y2="576.6" stroke="#3c3c3c" stroke-width="1.15"/>
<line x1="236.6" y1="574.4" x2="236.6" y2="576.6" stroke="#3c3c3c" stroke-width="1.15"/>
<line x1="255.8" y1="574.4" x2="255.8" y2="576.6" stroke="#3c3c3c" stroke-width="1.15"/>
<line x1="275.1" y1="574.4" x2="275.1" y2="576.6" stroke="#3c3c3c" stroke-width="1.15"/>
<text x="181.45" y="539.5" font-size="8.2" text-anchor="middle" transform="rotate(-90 181.45 539.5)">Area under curve</text>
<circle cx="217.3" cy="528.17" r="1.75" fill="#1f9a1f" stroke="#000" stroke-width="0.6"/>
<circle cx="217.3" cy="543.11" r="1.75" fill="#1f9a1f" stroke="#000" stroke-width="0.6"/>
<circle cx="217.3" cy="534.2" r="1.75" fill="#1f9a1f" stroke="#000" stroke-width="0.6"/>
<circle cx="214.2" cy="536.88" r="1.75" fill="#1f9a1f" stroke="#000" stroke-width="0.6"/>
<circle cx="217.3" cy="538.22" r="1.75" fill="#1f9a1f" stroke="#000" stroke-width="0.6"/>
<circle cx="220.4" cy="535.54" r="1.75" fill="#1f9a1f" stroke="#000" stroke-width="0.6"/>
<circle cx="214.2" cy="532.86" r="1.75" fill="#1f9a1f" stroke="#000" stroke-width="0.6"/>
<circle cx="217.3" cy="535.88" r="1.75" fill="#1f9a1f" stroke="#000" stroke-width="0.6"/>
<line x1="213.3" y1="535.88" x2="221.3" y2="535.88" stroke="#222" stroke-width="0.7"/>
<line x1="217.3" y1="534.2" x2="217.3" y2="537.55" stroke="#222" stroke-width="0.7"/>
<line x1="215.5" y1="534.2" x2="219.1" y2="534.2" stroke="#222" stroke-width="0.7"/>
<line x1="215.5" y1="537.55" x2="219.1" y2="537.55" stroke="#222" stroke-width="0.7"/>
<circle cx="236.6" cy="531.86" r="1.75" fill="#ff7f1a" stroke="#000" stroke-width="0.6"/>
<circle cx="236.6" cy="536.21" r="1.75" fill="#ff7f1a" stroke="#000" stroke-width="0.6"/>
<circle cx="233.5" cy="534.2" r="1.75" fill="#ff7f1a" stroke="#000" stroke-width="0.6"/>
<circle cx="239.7" cy="533.53" r="1.75" fill="#ff7f1a" stroke="#000" stroke-width="0.6"/>
<circle cx="239.7" cy="535.54" r="1.75" fill="#ff7f1a" stroke="#000" stroke-width="0.6"/>
<circle cx="236.6" cy="534.87" r="1.75" fill="#ff7f1a" stroke="#000" stroke-width="0.6"/>
<circle cx="233.5" cy="532.86" r="1.75" fill="#ff7f1a" stroke="#000" stroke-width="0.6"/>
<circle cx="239.7" cy="534.53" r="1.75" fill="#ff7f1a" stroke="#000" stroke-width="0.6"/>
<line x1="232.6" y1="534.53" x2="240.6" y2="534.53" stroke="#222" stroke-width="0.7"/>
<line x1="236.6" y1="534" x2="236.6" y2="535.07" stroke="#222" stroke-width="0.7"/>
<line x1="234.8" y1="534" x2="238.4" y2="534" stroke="#222" stroke-width="0.7"/>
<line x1="234.8" y1="535.07" x2="238.4" y2="535.07" stroke="#222" stroke-width="0.7"/>
<circle cx="255.8" cy="518.25" r="1.75" fill="#9a2ee0" stroke="#000" stroke-width="0.6"/>
<circle cx="255.8" cy="532.59" r="1.75" fill="#9a2ee0" stroke="#000" stroke-width="0.6"/>
<circle cx="255.8" cy="527.5" r="1.75" fill="#9a2ee0" stroke="#000" stroke-width="0.6"/>
<circle cx="255.8" cy="523.48" r="1.75" fill="#9a2ee0" stroke="#000" stroke-width="0.6"/>
<circle cx="252.7" cy="530.85" r="1.75" fill="#9a2ee0" stroke="#000" stroke-width="0.6"/>
<circle cx="252.7" cy="526.16" r="1.75" fill="#9a2ee0" stroke="#000" stroke-width="0.6"/>
<circle cx="252.7" cy="520.8" r="1.75" fill="#9a2ee0" stroke="#000" stroke-width="0.6"/>
<circle cx="258.9" cy="528.84" r="1.75" fill="#9a2ee0" stroke="#000" stroke-width="0.6"/>
<line x1="251.8" y1="526.83" x2="259.8" y2="526.83" stroke="#222" stroke-width="0.7"/>
<line x1="255.8" y1="524.95" x2="255.8" y2="528.71" stroke="#222" stroke-width="0.7"/>
<line x1="254" y1="524.95" x2="257.6" y2="524.95" stroke="#222" stroke-width="0.7"/>
<line x1="254" y1="528.71" x2="257.6" y2="528.71" stroke="#222" stroke-width="0.7"/>
<circle cx="275.1" cy="508.54" r="1.75" fill="#ee0a0a" stroke="#000" stroke-width="0.6"/>
<circle cx="275.1" cy="527.5" r="1.75" fill="#ee0a0a" stroke="#000" stroke-width="0.6"/>
<circle cx="275.1" cy="519.46" r="1.75" fill="#ee0a0a" stroke="#000" stroke-width="0.6"/>
<circle cx="272" cy="517.45" r="1.75" fill="#ee0a0a" stroke="#000" stroke-width="0.6"/>
<circle cx="272" cy="522.14" r="1.75" fill="#ee0a0a" stroke="#000" stroke-width="0.6"/>
<circle cx="275.1" cy="523.48" r="1.75" fill="#ee0a0a" stroke="#000" stroke-width="0.6"/>
<circle cx="278.2" cy="516.78" r="1.75" fill="#ee0a0a" stroke="#000" stroke-width="0.6"/>
<circle cx="278.2" cy="520.8" r="1.75" fill="#ee0a0a" stroke="#000" stroke-width="0.6"/>
<line x1="271.1" y1="519.46" x2="279.1" y2="519.46" stroke="#222" stroke-width="0.7"/>
<line x1="275.1" y1="517.45" x2="275.1" y2="521.47" stroke="#222" stroke-width="0.7"/>
<line x1="273.3" y1="517.45" x2="276.9" y2="517.45" stroke="#222" stroke-width="0.7"/>
<line x1="273.3" y1="521.47" x2="276.9" y2="521.47" stroke="#222" stroke-width="0.7"/>
<text x="227.2" y="499.6" font-size="6" text-anchor="middle" fill="#3a3a3a"><tspan font-style="italic">P</tspan> = 0.3258</text>
<polyline points="216.4,506.6 216.4,502.6 237.6,502.6 237.6,506.6" fill="none" stroke="#9a9a9a" stroke-width="0.8" stroke-linejoin="round"/>
<text x="264.1" y="499.6" font-size="6" text-anchor="middle" fill="#3a3a3a"><tspan font-style="italic">P</tspan> = 0.0240</text>
<polyline points="253.7,506.6 253.7,502.6 275.4,502.6 275.4,506.6" fill="none" stroke="#9a9a9a" stroke-width="0.8" stroke-linejoin="round"/>
<text x="255.3" y="482.9" font-size="6" text-anchor="middle" fill="#3a3a3a"><tspan font-style="italic">P</tspan> &lt; 0.0001</text>
<polyline points="236,490 236,486 275.9,486 275.9,490" fill="none" stroke="#9a9a9a" stroke-width="0.8" stroke-linejoin="round"/>
<text x="191" y="615.4" font-size="7.8" transform="rotate(-45 191 615.4)"><tspan font-style="italic" font-size="7.8">Muc1</tspan><tspan font-size="5.5" dy="-3">Flox/Flox</tspan></text>
<text x="210.3" y="615.4" font-size="7.8" transform="rotate(-45 210.3 615.4)"><tspan font-style="italic" font-size="7.8">Muc1</tspan><tspan font-size="5.5" dy="-3">EKO</tspan></text>
<text x="229.5" y="615.4" font-size="7.8" transform="rotate(-45 229.5 615.4)"><tspan font-style="italic" font-size="7.8">Muc1</tspan><tspan font-size="5.5" dy="-3">Flox/Flox</tspan></text>
<text x="253.3" y="608.9" font-size="7.8" transform="rotate(-45 253.3 608.9)"><tspan font-style="italic" font-size="7.8">Muc1</tspan><tspan font-size="5.5" dy="-3">EKO</tspan></text>
<line x1="180.5" y1="621.9" x2="211.5" y2="621.9" stroke="#333" stroke-width="1.2"/>
<line x1="221.2" y1="621.9" x2="255.8" y2="621.9" stroke="#333" stroke-width="1.2"/>
<text x="198.9" y="630.2" font-size="8" text-anchor="middle">ND</text>
<text x="239.2" y="630.2" font-size="8" text-anchor="middle">HFD</text>
<text x="298.4" y="366" font-size="17.5" font-weight="bold" fill="#000">f</text>
<line x1="341.5" y1="378.8" x2="341.5" y2="442.6" stroke="#3c3c3c" stroke-width="1.15"/>
<line x1="339.3" y1="378.8" x2="341.5" y2="378.8" stroke="#3c3c3c" stroke-width="1.15"/>
<text x="338.5" y="381.39" font-size="7.2" text-anchor="end">80</text>
<line x1="339.3" y1="394.75" x2="341.5" y2="394.75" stroke="#3c3c3c" stroke-width="1.15"/>
<text x="338.5" y="397.34" font-size="7.2" text-anchor="end">60</text>
<line x1="339.3" y1="410.7" x2="341.5" y2="410.7" stroke="#3c3c3c" stroke-width="1.15"/>
<text x="338.5" y="413.29" font-size="7.2" text-anchor="end">40</text>
<line x1="339.3" y1="426.65" x2="341.5" y2="426.65" stroke="#3c3c3c" stroke-width="1.15"/>
<text x="338.5" y="429.24" font-size="7.2" text-anchor="end">20</text>
<line x1="339.3" y1="442.6" x2="341.5" y2="442.6" stroke="#3c3c3c" stroke-width="1.15"/>
<text x="338.5" y="445.19" font-size="7.2" text-anchor="end">0</text>
<line x1="341.5" y1="442.6" x2="419" y2="442.6" stroke="#3c3c3c" stroke-width="1.15"/>
<line x1="353.8" y1="442.6" x2="353.8" y2="444.6" stroke="#3c3c3c" stroke-width="1.15"/>
<line x1="372.6" y1="442.6" x2="372.6" y2="444.6" stroke="#3c3c3c" stroke-width="1.15"/>
<line x1="391.4" y1="442.6" x2="391.4" y2="444.6" stroke="#3c3c3c" stroke-width="1.15"/>
<line x1="410.3" y1="442.6" x2="410.3" y2="444.6" stroke="#3c3c3c" stroke-width="1.15"/>
<text x="325.17" y="409.3" font-size="7.2" text-anchor="middle" transform="rotate(-90 325.17 409.3)">Serum TG (mg/dl)</text>
<circle cx="353.8" cy="428.25" r="1.7" fill="#14c814" stroke="#000" stroke-width="0.55"/>
<circle cx="353.8" cy="438.61" r="1.7" fill="#14c814" stroke="#000" stroke-width="0.55"/>
<circle cx="353.8" cy="433.03" r="1.7" fill="#14c814" stroke="#000" stroke-width="0.55"/>
<circle cx="350.4" cy="431.44" r="1.7" fill="#14c814" stroke="#000" stroke-width="0.55"/>
<circle cx="350.4" cy="436.22" r="1.7" fill="#14c814" stroke="#000" stroke-width="0.55"/>
<circle cx="357.2" cy="429.84" r="1.7" fill="#14c814" stroke="#000" stroke-width="0.55"/>
<circle cx="357.2" cy="434.62" r="1.7" fill="#14c814" stroke="#000" stroke-width="0.55"/>
<circle cx="357.2" cy="432.23" r="1.7" fill="#14c814" stroke="#000" stroke-width="0.55"/>
<line x1="350" y1="433.03" x2="357.6" y2="433.03" stroke="#222" stroke-width="0.7"/>
<line x1="353.8" y1="431.83" x2="353.8" y2="434.23" stroke="#222" stroke-width="0.7"/>
<line x1="352.2" y1="431.83" x2="355.4" y2="431.83" stroke="#222" stroke-width="0.7"/>
<line x1="352.2" y1="434.23" x2="355.4" y2="434.23" stroke="#222" stroke-width="0.7"/>
<circle cx="372.6" cy="436.22" r="1.7" fill="#f0891a" stroke="#000" stroke-width="0.55"/>
<circle cx="372.6" cy="428.25" r="1.7" fill="#f0891a" stroke="#000" stroke-width="0.55"/>
<circle cx="369.2" cy="433.03" r="1.7" fill="#f0891a" stroke="#000" stroke-width="0.55"/>
<circle cx="376" cy="430.64" r="1.7" fill="#f0891a" stroke="#000" stroke-width="0.55"/>
<circle cx="376" cy="434.62" r="1.7" fill="#f0891a" stroke="#000" stroke-width="0.55"/>
<circle cx="369.2" cy="429.84" r="1.7" fill="#f0891a" stroke="#000" stroke-width="0.55"/>
<circle cx="372.6" cy="432.23" r="1.7" fill="#f0891a" stroke="#000" stroke-width="0.55"/>
<circle cx="372.6" cy="433.83" r="1.7" fill="#f0891a" stroke="#000" stroke-width="0.55"/>
<line x1="368.8" y1="432.23" x2="376.4" y2="432.23" stroke="#222" stroke-width="0.7"/>
<line x1="372.6" y1="431.28" x2="372.6" y2="433.19" stroke="#222" stroke-width="0.7"/>
<line x1="371" y1="431.28" x2="374.2" y2="431.28" stroke="#222" stroke-width="0.7"/>
<line x1="371" y1="433.19" x2="374.2" y2="433.19" stroke="#222" stroke-width="0.7"/>
<circle cx="391.4" cy="398.74" r="1.7" fill="#701486" stroke="#000" stroke-width="0.55"/>
<circle cx="391.4" cy="424.26" r="1.7" fill="#701486" stroke="#000" stroke-width="0.55"/>
<circle cx="391.4" cy="412.3" r="1.7" fill="#701486" stroke="#000" stroke-width="0.55"/>
<circle cx="391.4" cy="406.71" r="1.7" fill="#701486" stroke="#000" stroke-width="0.55"/>
<circle cx="391.4" cy="418.68" r="1.7" fill="#701486" stroke="#000" stroke-width="0.55"/>
<circle cx="388" cy="414.69" r="1.7" fill="#701486" stroke="#000" stroke-width="0.55"/>
<circle cx="388" cy="409.11" r="1.7" fill="#701486" stroke="#000" stroke-width="0.55"/>
<circle cx="388" cy="420.27" r="1.7" fill="#701486" stroke="#000" stroke-width="0.55"/>
<line x1="387.6" y1="413.09" x2="395.2" y2="413.09" stroke="#222" stroke-width="0.7"/>
<line x1="391.4" y1="410.3" x2="391.4" y2="415.88" stroke="#222" stroke-width="0.7"/>
<line x1="389.8" y1="410.3" x2="393" y2="410.3" stroke="#222" stroke-width="0.7"/>
<line x1="389.8" y1="415.88" x2="393" y2="415.88" stroke="#222" stroke-width="0.7"/>
<circle cx="410.3" cy="385.18" r="1.7" fill="#ea0c0c" stroke="#000" stroke-width="0.55"/>
<circle cx="410.3" cy="406.71" r="1.7" fill="#ea0c0c" stroke="#000" stroke-width="0.55"/>
<circle cx="410.3" cy="394.75" r="1.7" fill="#ea0c0c" stroke="#000" stroke-width="0.55"/>
<circle cx="410.3" cy="389.97" r="1.7" fill="#ea0c0c" stroke="#000" stroke-width="0.55"/>
<circle cx="410.3" cy="402.73" r="1.7" fill="#ea0c0c" stroke="#000" stroke-width="0.55"/>
<circle cx="406.9" cy="396.35" r="1.7" fill="#ea0c0c" stroke="#000" stroke-width="0.55"/>
<circle cx="413.7" cy="393.16" r="1.7" fill="#ea0c0c" stroke="#000" stroke-width="0.55"/>
<circle cx="406.9" cy="405.92" r="1.7" fill="#ea0c0c" stroke="#000" stroke-width="0.55"/>
<line x1="406.5" y1="396.35" x2="414.1" y2="396.35" stroke="#222" stroke-width="0.7"/>
<line x1="410.3" y1="393.71" x2="410.3" y2="398.98" stroke="#222" stroke-width="0.7"/>
<line x1="408.7" y1="393.71" x2="411.9" y2="393.71" stroke="#222" stroke-width="0.7"/>
<line x1="408.7" y1="398.98" x2="411.9" y2="398.98" stroke="#222" stroke-width="0.7"/>
<text x="362.5" y="376.3" font-size="5.6" text-anchor="middle" fill="#3a3a3a"><tspan font-style="italic">P</tspan> = 0.4655</text>
<polyline points="353,382.2 353,379.7 372.6,379.7 372.6,382.2" fill="none" stroke="#9a9a9a" stroke-width="0.8" stroke-linejoin="round"/>
<text x="400.8" y="376.3" font-size="5.6" text-anchor="middle" fill="#3a3a3a"><tspan font-style="italic">P</tspan> = 0.0010</text>
<polyline points="391.4,382 391.4,379.4 410.3,379.4 410.3,382" fill="none" stroke="#9a9a9a" stroke-width="0.8" stroke-linejoin="round"/>
<text x="391.4" y="360.2" font-size="5.6" text-anchor="middle" fill="#3a3a3a"><tspan font-style="italic">P</tspan> &lt; 0.0001</text>
<polyline points="372.6,369.6 372.6,362.4 410.3,362.4 410.3,369.6" fill="none" stroke="#9a9a9a" stroke-width="0.8" stroke-linejoin="round"/>
<line x1="468.2" y1="375.7" x2="468.2" y2="440.2" stroke="#3c3c3c" stroke-width="1.15"/>
<line x1="466" y1="375.7" x2="468.2" y2="375.7" stroke="#3c3c3c" stroke-width="1.15"/>
<text x="465.2" y="378.29" font-size="7.2" text-anchor="end">300</text>
<line x1="466" y1="397.1" x2="468.2" y2="397.1" stroke="#3c3c3c" stroke-width="1.15"/>
<text x="465.2" y="399.69" font-size="7.2" text-anchor="end">200</text>
<line x1="466" y1="418.5" x2="468.2" y2="418.5" stroke="#3c3c3c" stroke-width="1.15"/>
<text x="465.2" y="421.09" font-size="7.2" text-anchor="end">100</text>
<line x1="466" y1="439.9" x2="468.2" y2="439.9" stroke="#3c3c3c" stroke-width="1.15"/>
<text x="465.2" y="442.49" font-size="7.2" text-anchor="end">0</text>
<line x1="468.2" y1="440.2" x2="550" y2="440.2" stroke="#3c3c3c" stroke-width="1.15"/>
<line x1="481.6" y1="440.2" x2="481.6" y2="442.2" stroke="#3c3c3c" stroke-width="1.15"/>
<line x1="501.3" y1="440.2" x2="501.3" y2="442.2" stroke="#3c3c3c" stroke-width="1.15"/>
<line x1="520.8" y1="440.2" x2="520.8" y2="442.2" stroke="#3c3c3c" stroke-width="1.15"/>
<line x1="540.9" y1="440.2" x2="540.9" y2="442.2" stroke="#3c3c3c" stroke-width="1.15"/>
<text x="448.16" y="406.6" font-size="8.3" text-anchor="middle" transform="rotate(-90 448.16 406.6)">ALT (U/l)</text>
<circle cx="481.6" cy="434.55" r="1.7" fill="#17a872" stroke="#000" stroke-width="0.55"/>
<circle cx="481.6" cy="419.57" r="1.7" fill="#17a872" stroke="#000" stroke-width="0.55"/>
<circle cx="481.6" cy="428.13" r="1.7" fill="#17a872" stroke="#000" stroke-width="0.55"/>
<circle cx="478.2" cy="431.34" r="1.7" fill="#17a872" stroke="#000" stroke-width="0.55"/>
<circle cx="478.2" cy="424.92" r="1.7" fill="#17a872" stroke="#000" stroke-width="0.55"/>
<circle cx="485" cy="433.48" r="1.7" fill="#17a872" stroke="#000" stroke-width="0.55"/>
<circle cx="478.2" cy="421.07" r="1.7" fill="#17a872" stroke="#000" stroke-width="0.55"/>
<circle cx="485" cy="429.2" r="1.7" fill="#17a872" stroke="#000" stroke-width="0.55"/>
<line x1="477.8" y1="428.13" x2="485.4" y2="428.13" stroke="#222" stroke-width="0.7"/>
<line x1="481.6" y1="426.42" x2="481.6" y2="429.84" stroke="#222" stroke-width="0.7"/>
<line x1="480" y1="426.42" x2="483.2" y2="426.42" stroke="#222" stroke-width="0.7"/>
<line x1="480" y1="429.84" x2="483.2" y2="429.84" stroke="#222" stroke-width="0.7"/>
<circle cx="501.3" cy="432.41" r="1.7" fill="#f0891a" stroke="#000" stroke-width="0.55"/>
<circle cx="501.3" cy="416.36" r="1.7" fill="#f0891a" stroke="#000" stroke-width="0.55"/>
<circle cx="501.3" cy="427.06" r="1.7" fill="#f0891a" stroke="#000" stroke-width="0.55"/>
<circle cx="497.9" cy="423.85" r="1.7" fill="#f0891a" stroke="#000" stroke-width="0.55"/>
<circle cx="497.9" cy="430.27" r="1.7" fill="#f0891a" stroke="#000" stroke-width="0.55"/>
<circle cx="497.9" cy="419.57" r="1.7" fill="#f0891a" stroke="#000" stroke-width="0.55"/>
<circle cx="504.7" cy="425.99" r="1.7" fill="#f0891a" stroke="#000" stroke-width="0.55"/>
<circle cx="501.3" cy="422.78" r="1.7" fill="#f0891a" stroke="#000" stroke-width="0.55"/>
<line x1="497.5" y1="425.35" x2="505.1" y2="425.35" stroke="#222" stroke-width="0.7"/>
<line x1="501.3" y1="423.42" x2="501.3" y2="427.27" stroke="#222" stroke-width="0.7"/>
<line x1="499.7" y1="423.42" x2="502.9" y2="423.42" stroke="#222" stroke-width="0.7"/>
<line x1="499.7" y1="427.27" x2="502.9" y2="427.27" stroke="#222" stroke-width="0.7"/>
<circle cx="520.8" cy="417.43" r="1.7" fill="#701486" stroke="#000" stroke-width="0.55"/>
<circle cx="520.8" cy="394.96" r="1.7" fill="#701486" stroke="#000" stroke-width="0.55"/>
<circle cx="520.8" cy="407.8" r="1.7" fill="#701486" stroke="#000" stroke-width="0.55"/>
<circle cx="517.4" cy="404.59" r="1.7" fill="#701486" stroke="#000" stroke-width="0.55"/>
<circle cx="517.4" cy="411.01" r="1.7" fill="#701486" stroke="#000" stroke-width="0.55"/>
<circle cx="520.8" cy="402.45" r="1.7" fill="#701486" stroke="#000" stroke-width="0.55"/>
<circle cx="520.8" cy="413.15" r="1.7" fill="#701486" stroke="#000" stroke-width="0.55"/>
<circle cx="524.2" cy="406.73" r="1.7" fill="#701486" stroke="#000" stroke-width="0.55"/>
<line x1="517" y1="407.37" x2="524.6" y2="407.37" stroke="#222" stroke-width="0.7"/>
<line x1="520.8" y1="405.23" x2="520.8" y2="409.51" stroke="#222" stroke-width="0.7"/>
<line x1="519.2" y1="405.23" x2="522.4" y2="405.23" stroke="#222" stroke-width="0.7"/>
<line x1="519.2" y1="409.51" x2="522.4" y2="409.51" stroke="#222" stroke-width="0.7"/>
<circle cx="540.9" cy="401.38" r="1.7" fill="#ea0c0c" stroke="#000" stroke-width="0.55"/>
<circle cx="540.9" cy="388.54" r="1.7" fill="#ea0c0c" stroke="#000" stroke-width="0.55"/>
<circle cx="540.9" cy="397.1" r="1.7" fill="#ea0c0c" stroke="#000" stroke-width="0.55"/>
<circle cx="537.5" cy="393.89" r="1.7" fill="#ea0c0c" stroke="#000" stroke-width="0.55"/>
<circle cx="537.5" cy="399.24" r="1.7" fill="#ea0c0c" stroke="#000" stroke-width="0.55"/>
<circle cx="544.3" cy="391.75" r="1.7" fill="#ea0c0c" stroke="#000" stroke-width="0.55"/>
<circle cx="544.3" cy="396.03" r="1.7" fill="#ea0c0c" stroke="#000" stroke-width="0.55"/>
<circle cx="544.3" cy="398.17" r="1.7" fill="#ea0c0c" stroke="#000" stroke-width="0.55"/>
<line x1="537.1" y1="396.03" x2="544.7" y2="396.03" stroke="#222" stroke-width="0.7"/>
<line x1="540.9" y1="394.75" x2="540.9" y2="397.31" stroke="#222" stroke-width="0.7"/>
<line x1="539.3" y1="394.75" x2="542.5" y2="394.75" stroke="#222" stroke-width="0.7"/>
<line x1="539.3" y1="397.31" x2="542.5" y2="397.31" stroke="#222" stroke-width="0.7"/>
<text x="491" y="372.2" font-size="5.6" text-anchor="middle" fill="#3a3a3a"><tspan font-style="italic">P</tspan> = 0.3373</text>
<polyline points="481.2,380.6 481.2,375.1 500.4,375.1 500.4,380.6" fill="none" stroke="#9a9a9a" stroke-width="0.8" stroke-linejoin="round"/>
<text x="529.9" y="372.2" font-size="5.6" text-anchor="middle" fill="#3a3a3a"><tspan font-style="italic">P</tspan> = 0.0008</text>
<polyline points="519.5,380.6 519.5,375.1 540.9,375.1 540.9,380.6" fill="none" stroke="#9a9a9a" stroke-width="0.8" stroke-linejoin="round"/>
<text x="520.8" y="359.8" font-size="5.6" text-anchor="middle" fill="#3a3a3a"><tspan font-style="italic">P</tspan> &lt; 0.0001</text>
<polyline points="500.4,366 500.4,362.3 541.2,362.3 541.2,366" fill="none" stroke="#9a9a9a" stroke-width="0.8" stroke-linejoin="round"/>
<line x1="343.4" y1="513.2" x2="343.4" y2="574.4" stroke="#3c3c3c" stroke-width="1.15"/>
<line x1="341.2" y1="513.2" x2="343.4" y2="513.2" stroke="#3c3c3c" stroke-width="1.15"/>
<text x="340.4" y="515.79" font-size="7.2" text-anchor="end">150</text>
<line x1="341.2" y1="533.6" x2="343.4" y2="533.6" stroke="#3c3c3c" stroke-width="1.15"/>
<text x="340.4" y="536.19" font-size="7.2" text-anchor="end">100</text>
<line x1="341.2" y1="554" x2="343.4" y2="554" stroke="#3c3c3c" stroke-width="1.15"/>
<text x="340.4" y="556.59" font-size="7.2" text-anchor="end">50</text>
<line x1="341.2" y1="574.4" x2="343.4" y2="574.4" stroke="#3c3c3c" stroke-width="1.15"/>
<text x="340.4" y="576.99" font-size="7.2" text-anchor="end">0</text>
<line x1="343.4" y1="574.4" x2="419" y2="574.4" stroke="#3c3c3c" stroke-width="1.15"/>
<line x1="356.1" y1="574.4" x2="356.1" y2="576.4" stroke="#3c3c3c" stroke-width="1.15"/>
<line x1="373.8" y1="574.4" x2="373.8" y2="576.4" stroke="#3c3c3c" stroke-width="1.15"/>
<line x1="391.4" y1="574.4" x2="391.4" y2="576.4" stroke="#3c3c3c" stroke-width="1.15"/>
<line x1="409.6" y1="574.4" x2="409.6" y2="576.4" stroke="#3c3c3c" stroke-width="1.15"/>
<text x="326.07" y="543.2" font-size="7.2" text-anchor="middle" transform="rotate(-90 326.07 543.2)">Hepatic TG (mg/g)</text>
<circle cx="356.1" cy="562.98" r="1.7" fill="#14c814" stroke="#000" stroke-width="0.55"/>
<circle cx="356.1" cy="548.7" r="1.7" fill="#14c814" stroke="#000" stroke-width="0.55"/>
<circle cx="356.1" cy="554.82" r="1.7" fill="#14c814" stroke="#000" stroke-width="0.55"/>
<circle cx="352.7" cy="558.08" r="1.7" fill="#14c814" stroke="#000" stroke-width="0.55"/>
<circle cx="352.7" cy="551.96" r="1.7" fill="#14c814" stroke="#000" stroke-width="0.55"/>
<circle cx="359.5" cy="556.04" r="1.7" fill="#14c814" stroke="#000" stroke-width="0.55"/>
<circle cx="359.5" cy="553.18" r="1.7" fill="#14c814" stroke="#000" stroke-width="0.55"/>
<circle cx="359.5" cy="560.12" r="1.7" fill="#14c814" stroke="#000" stroke-width="0.55"/>
<line x1="352.3" y1="554.82" x2="359.9" y2="554.82" stroke="#222" stroke-width="0.7"/>
<line x1="356.1" y1="553.39" x2="356.1" y2="556.24" stroke="#222" stroke-width="0.7"/>
<line x1="354.5" y1="553.39" x2="357.7" y2="553.39" stroke="#222" stroke-width="0.7"/>
<line x1="354.5" y1="556.24" x2="357.7" y2="556.24" stroke="#222" stroke-width="0.7"/>
<circle cx="373.8" cy="559.3" r="1.7" fill="#f0891a" stroke="#000" stroke-width="0.55"/>
<circle cx="373.8" cy="542.98" r="1.7" fill="#f0891a" stroke="#000" stroke-width="0.55"/>
<circle cx="373.8" cy="554" r="1.7" fill="#f0891a" stroke="#000" stroke-width="0.55"/>
<circle cx="373.8" cy="549.92" r="1.7" fill="#f0891a" stroke="#000" stroke-width="0.55"/>
<circle cx="370.4" cy="557.26" r="1.7" fill="#f0891a" stroke="#000" stroke-width="0.55"/>
<circle cx="370.4" cy="547.88" r="1.7" fill="#f0891a" stroke="#000" stroke-width="0.55"/>
<circle cx="370.4" cy="551.96" r="1.7" fill="#f0891a" stroke="#000" stroke-width="0.55"/>
<circle cx="377.2" cy="556.04" r="1.7" fill="#f0891a" stroke="#000" stroke-width="0.55"/>
<line x1="370" y1="553.18" x2="377.6" y2="553.18" stroke="#222" stroke-width="0.7"/>
<line x1="373.8" y1="551.35" x2="373.8" y2="555.02" stroke="#222" stroke-width="0.7"/>
<line x1="372.2" y1="551.35" x2="375.4" y2="551.35" stroke="#222" stroke-width="0.7"/>
<line x1="372.2" y1="555.02" x2="375.4" y2="555.02" stroke="#222" stroke-width="0.7"/>
<circle cx="391.4" cy="541.76" r="1.7" fill="#701486" stroke="#000" stroke-width="0.55"/>
<circle cx="391.4" cy="528.7" r="1.7" fill="#701486" stroke="#000" stroke-width="0.55"/>
<circle cx="388" cy="538.5" r="1.7" fill="#701486" stroke="#000" stroke-width="0.55"/>
<circle cx="394.8" cy="536.86" r="1.7" fill="#701486" stroke="#000" stroke-width="0.55"/>
<circle cx="394.8" cy="539.72" r="1.7" fill="#701486" stroke="#000" stroke-width="0.55"/>
<circle cx="391.4" cy="535.64" r="1.7" fill="#701486" stroke="#000" stroke-width="0.55"/>
<circle cx="391.4" cy="537.68" r="1.7" fill="#701486" stroke="#000" stroke-width="0.55"/>
<circle cx="391.4" cy="540.13" r="1.7" fill="#701486" stroke="#000" stroke-width="0.55"/>
<line x1="387.6" y1="538.09" x2="395.2" y2="538.09" stroke="#222" stroke-width="0.7"/>
<line x1="391.4" y1="536.66" x2="391.4" y2="539.52" stroke="#222" stroke-width="0.7"/>
<line x1="389.8" y1="536.66" x2="393" y2="536.66" stroke="#222" stroke-width="0.7"/>
<line x1="389.8" y1="539.52" x2="393" y2="539.52" stroke="#222" stroke-width="0.7"/>
<circle cx="409.6" cy="541.76" r="1.7" fill="#ea0c0c" stroke="#000" stroke-width="0.55"/>
<circle cx="409.6" cy="522.58" r="1.7" fill="#ea0c0c" stroke="#000" stroke-width="0.55"/>
<circle cx="409.6" cy="531.56" r="1.7" fill="#ea0c0c" stroke="#000" stroke-width="0.55"/>
<circle cx="409.6" cy="527.48" r="1.7" fill="#ea0c0c" stroke="#000" stroke-width="0.55"/>
<circle cx="409.6" cy="535.64" r="1.7" fill="#ea0c0c" stroke="#000" stroke-width="0.55"/>
<circle cx="406.2" cy="525.44" r="1.7" fill="#ea0c0c" stroke="#000" stroke-width="0.55"/>
<circle cx="406.2" cy="529.52" r="1.7" fill="#ea0c0c" stroke="#000" stroke-width="0.55"/>
<circle cx="406.2" cy="533.6" r="1.7" fill="#ea0c0c" stroke="#000" stroke-width="0.55"/>
<line x1="405.8" y1="530.34" x2="413.4" y2="530.34" stroke="#222" stroke-width="0.7"/>
<line x1="409.6" y1="528.3" x2="409.6" y2="532.38" stroke="#222" stroke-width="0.7"/>
<line x1="408" y1="528.3" x2="411.2" y2="528.3" stroke="#222" stroke-width="0.7"/>
<line x1="408" y1="532.38" x2="411.2" y2="532.38" stroke="#222" stroke-width="0.7"/>
<text x="366.2" y="510.7" font-size="5.6" text-anchor="middle" fill="#3a3a3a"><tspan font-style="italic">P</tspan> = 0.4774</text>
<polyline points="357,518.8 357,513.3 375.3,513.3 375.3,518.8" fill="none" stroke="#9a9a9a" stroke-width="0.8" stroke-linejoin="round"/>
<text x="399.4" y="510.2" font-size="5.6" text-anchor="middle" fill="#3a3a3a"><tspan font-style="italic">P</tspan> = 0.0070</text>
<polyline points="389.5,518 389.5,512.8 409.6,512.8 409.6,518" fill="none" stroke="#9a9a9a" stroke-width="0.8" stroke-linejoin="round"/>
<text x="391.2" y="496.1" font-size="5.6" text-anchor="middle" fill="#3a3a3a"><tspan font-style="italic">P</tspan> &lt; 0.0001</text>
<polyline points="373.5,501.8 373.5,499 409.6,499 409.6,501.8" fill="none" stroke="#9a9a9a" stroke-width="0.8" stroke-linejoin="round"/>
<line x1="469.2" y1="511" x2="469.2" y2="575.6" stroke="#3c3c3c" stroke-width="1.15"/>
<line x1="467" y1="511" x2="469.2" y2="511" stroke="#3c3c3c" stroke-width="1.15"/>
<text x="466.2" y="513.59" font-size="7.2" text-anchor="end">250</text>
<line x1="467" y1="523.86" x2="469.2" y2="523.86" stroke="#3c3c3c" stroke-width="1.15"/>
<text x="466.2" y="526.45" font-size="7.2" text-anchor="end">200</text>
<line x1="467" y1="536.72" x2="469.2" y2="536.72" stroke="#3c3c3c" stroke-width="1.15"/>
<text x="466.2" y="539.31" font-size="7.2" text-anchor="end">150</text>
<line x1="467" y1="549.58" x2="469.2" y2="549.58" stroke="#3c3c3c" stroke-width="1.15"/>
<text x="466.2" y="552.17" font-size="7.2" text-anchor="end">100</text>
<line x1="467" y1="562.44" x2="469.2" y2="562.44" stroke="#3c3c3c" stroke-width="1.15"/>
<text x="466.2" y="565.03" font-size="7.2" text-anchor="end">50</text>
<line x1="467" y1="575.3" x2="469.2" y2="575.3" stroke="#3c3c3c" stroke-width="1.15"/>
<text x="466.2" y="577.89" font-size="7.2" text-anchor="end">0</text>
<line x1="469.2" y1="575.6" x2="550" y2="575.6" stroke="#3c3c3c" stroke-width="1.15"/>
<line x1="481.6" y1="575.6" x2="481.6" y2="577.6" stroke="#3c3c3c" stroke-width="1.15"/>
<line x1="501" y1="575.6" x2="501" y2="577.6" stroke="#3c3c3c" stroke-width="1.15"/>
<line x1="520.1" y1="575.6" x2="520.1" y2="577.6" stroke="#3c3c3c" stroke-width="1.15"/>
<line x1="539.6" y1="575.6" x2="539.6" y2="577.6" stroke="#3c3c3c" stroke-width="1.15"/>
<text x="449.96" y="542.3" font-size="8.3" text-anchor="middle" transform="rotate(-90 449.96 542.3)">AST (U/l)</text>
<circle cx="481.6" cy="570.16" r="1.7" fill="#14c814" stroke="#000" stroke-width="0.55"/>
<circle cx="481.6" cy="558.58" r="1.7" fill="#14c814" stroke="#000" stroke-width="0.55"/>
<circle cx="481.6" cy="563.73" r="1.7" fill="#14c814" stroke="#000" stroke-width="0.55"/>
<circle cx="478.2" cy="566.3" r="1.7" fill="#14c814" stroke="#000" stroke-width="0.55"/>
<circle cx="478.2" cy="561.15" r="1.7" fill="#14c814" stroke="#000" stroke-width="0.55"/>
<circle cx="485" cy="567.58" r="1.7" fill="#14c814" stroke="#000" stroke-width="0.55"/>
<circle cx="485" cy="562.44" r="1.7" fill="#14c814" stroke="#000" stroke-width="0.55"/>
<circle cx="485" cy="565.01" r="1.7" fill="#14c814" stroke="#000" stroke-width="0.55"/>
<line x1="477.8" y1="563.73" x2="485.4" y2="563.73" stroke="#222" stroke-width="0.7"/>
<line x1="481.6" y1="562.44" x2="481.6" y2="565.01" stroke="#222" stroke-width="0.7"/>
<line x1="480" y1="562.44" x2="483.2" y2="562.44" stroke="#222" stroke-width="0.7"/>
<line x1="480" y1="565.01" x2="483.2" y2="565.01" stroke="#222" stroke-width="0.7"/>
<circle cx="501" cy="567.58" r="1.7" fill="#f0891a" stroke="#000" stroke-width="0.55"/>
<circle cx="501" cy="559.87" r="1.7" fill="#f0891a" stroke="#000" stroke-width="0.55"/>
<circle cx="497.6" cy="563.73" r="1.7" fill="#f0891a" stroke="#000" stroke-width="0.55"/>
<circle cx="504.4" cy="562.44" r="1.7" fill="#f0891a" stroke="#000" stroke-width="0.55"/>
<circle cx="504.4" cy="565.53" r="1.7" fill="#f0891a" stroke="#000" stroke-width="0.55"/>
<circle cx="497.6" cy="561.15" r="1.7" fill="#f0891a" stroke="#000" stroke-width="0.55"/>
<circle cx="501" cy="564.5" r="1.7" fill="#f0891a" stroke="#000" stroke-width="0.55"/>
<circle cx="501" cy="562.95" r="1.7" fill="#f0891a" stroke="#000" stroke-width="0.55"/>
<line x1="497.2" y1="563.21" x2="504.8" y2="563.21" stroke="#222" stroke-width="0.7"/>
<line x1="501" y1="562.31" x2="501" y2="564.11" stroke="#222" stroke-width="0.7"/>
<line x1="499.4" y1="562.31" x2="502.6" y2="562.31" stroke="#222" stroke-width="0.7"/>
<line x1="499.4" y1="564.11" x2="502.6" y2="564.11" stroke="#222" stroke-width="0.7"/>
<circle cx="520.1" cy="545.72" r="1.7" fill="#701486" stroke="#000" stroke-width="0.55"/>
<circle cx="520.1" cy="522.57" r="1.7" fill="#701486" stroke="#000" stroke-width="0.55"/>
<circle cx="520.1" cy="534.15" r="1.7" fill="#701486" stroke="#000" stroke-width="0.55"/>
<circle cx="516.7" cy="530.29" r="1.7" fill="#701486" stroke="#000" stroke-width="0.55"/>
<circle cx="520.1" cy="540.58" r="1.7" fill="#701486" stroke="#000" stroke-width="0.55"/>
<circle cx="523.5" cy="526.43" r="1.7" fill="#701486" stroke="#000" stroke-width="0.55"/>
<circle cx="516.7" cy="536.72" r="1.7" fill="#701486" stroke="#000" stroke-width="0.55"/>
<circle cx="516.7" cy="543.15" r="1.7" fill="#701486" stroke="#000" stroke-width="0.55"/>
<line x1="516.3" y1="534.66" x2="523.9" y2="534.66" stroke="#222" stroke-width="0.7"/>
<line x1="520.1" y1="532.09" x2="520.1" y2="537.23" stroke="#222" stroke-width="0.7"/>
<line x1="518.5" y1="532.09" x2="521.7" y2="532.09" stroke="#222" stroke-width="0.7"/>
<line x1="518.5" y1="537.23" x2="521.7" y2="537.23" stroke="#222" stroke-width="0.7"/>
<circle cx="539.6" cy="538.01" r="1.7" fill="#ea0c0c" stroke="#000" stroke-width="0.55"/>
<circle cx="539.6" cy="520" r="1.7" fill="#ea0c0c" stroke="#000" stroke-width="0.55"/>
<circle cx="539.6" cy="529" r="1.7" fill="#ea0c0c" stroke="#000" stroke-width="0.55"/>
<circle cx="536.2" cy="525.15" r="1.7" fill="#ea0c0c" stroke="#000" stroke-width="0.55"/>
<circle cx="536.2" cy="532.86" r="1.7" fill="#ea0c0c" stroke="#000" stroke-width="0.55"/>
<circle cx="543" cy="522.57" r="1.7" fill="#ea0c0c" stroke="#000" stroke-width="0.55"/>
<circle cx="543" cy="527.72" r="1.7" fill="#ea0c0c" stroke="#000" stroke-width="0.55"/>
<circle cx="543" cy="531.58" r="1.7" fill="#ea0c0c" stroke="#000" stroke-width="0.55"/>
<line x1="535.8" y1="528.49" x2="543.4" y2="528.49" stroke="#222" stroke-width="0.7"/>
<line x1="539.6" y1="526.43" x2="539.6" y2="530.55" stroke="#222" stroke-width="0.7"/>
<line x1="538" y1="526.43" x2="541.2" y2="526.43" stroke="#222" stroke-width="0.7"/>
<line x1="538" y1="530.55" x2="541.2" y2="530.55" stroke="#222" stroke-width="0.7"/>
<text x="489.8" y="508.5" font-size="5.6" text-anchor="middle" fill="#3a3a3a"><tspan font-style="italic">P</tspan> = 0.7559</text>
<polyline points="479.4,513.4 479.4,510.7 500.4,510.7 500.4,513.4" fill="none" stroke="#9a9a9a" stroke-width="0.8" stroke-linejoin="round"/>
<text x="529.9" y="508.2" font-size="5.6" text-anchor="middle" fill="#3a3a3a"><tspan font-style="italic">P</tspan> = 0.0996</text>
<polyline points="519.9,513.4 519.9,510.4 539.6,510.4 539.6,513.4" fill="none" stroke="#9a9a9a" stroke-width="0.8" stroke-linejoin="round"/>
<text x="519.9" y="495.1" font-size="5.6" text-anchor="middle" fill="#3a3a3a"><tspan font-style="italic">P</tspan> &lt; 0.0001</text>
<polyline points="500.7,501 500.7,498.2 539.6,498.2 539.6,501" fill="none" stroke="#9a9a9a" stroke-width="0.8" stroke-linejoin="round"/>
<text x="328.1" y="477.9" font-size="7.1" transform="rotate(-45 328.1 477.9)"><tspan font-style="italic" font-size="7.1">Muc1</tspan><tspan font-size="5" dy="-2.7">Flox/Flox</tspan></text>
<text x="346.9" y="477.9" font-size="7.1" transform="rotate(-45 346.9 477.9)"><tspan font-style="italic" font-size="7.1">Muc1</tspan><tspan font-size="5" dy="-2.7">EKO</tspan></text>
<text x="365.7" y="477.9" font-size="7.1" transform="rotate(-45 365.7 477.9)"><tspan font-style="italic" font-size="7.1">Muc1</tspan><tspan font-size="5" dy="-2.7">Flox/Flox</tspan></text>
<text x="384.6" y="477.9" font-size="7.1" transform="rotate(-45 384.6 477.9)"><tspan font-style="italic" font-size="7.1">Muc1</tspan><tspan font-size="5" dy="-2.7">EKO</tspan></text>
<line x1="323.8" y1="481" x2="348.5" y2="481" stroke="#333" stroke-width="1.2"/>
<line x1="362.9" y1="481" x2="387.2" y2="481" stroke="#333" stroke-width="1.2"/>
<text x="335.5" y="488.6" font-size="7.2" text-anchor="middle">ND</text>
<text x="371.6" y="488.6" font-size="7.2" text-anchor="middle">HFD</text>
<text x="454.6" y="476.1" font-size="7.1" transform="rotate(-45 454.6 476.1)"><tspan font-style="italic" font-size="7.1">Muc1</tspan><tspan font-size="5" dy="-2.7">Flox/Flox</tspan></text>
<text x="474.3" y="476.1" font-size="7.1" transform="rotate(-45 474.3 476.1)"><tspan font-style="italic" font-size="7.1">Muc1</tspan><tspan font-size="5" dy="-2.7">EKO</tspan></text>
<text x="493.8" y="476.1" font-size="7.1" transform="rotate(-45 493.8 476.1)"><tspan font-style="italic" font-size="7.1">Muc1</tspan><tspan font-size="5" dy="-2.7">Flox/Flox</tspan></text>
<text x="513.9" y="476.1" font-size="7.1" transform="rotate(-45 513.9 476.1)"><tspan font-style="italic" font-size="7.1">Muc1</tspan><tspan font-size="5" dy="-2.7">EKO</tspan></text>
<line x1="452.4" y1="478.8" x2="477.9" y2="478.8" stroke="#333" stroke-width="1.2"/>
<line x1="493.4" y1="478.8" x2="519" y2="478.8" stroke="#333" stroke-width="1.2"/>
<text x="464.2" y="486.8" font-size="7.2" text-anchor="middle">ND</text>
<text x="502.6" y="486.8" font-size="7.2" text-anchor="middle">HFD</text>
<text x="331.6" y="608.4" font-size="7.1" transform="rotate(-45 331.6 608.4)"><tspan font-style="italic" font-size="7.1">Muc1</tspan><tspan font-size="5" dy="-2.7">Flox/Flox</tspan></text>
<text x="349.3" y="608.4" font-size="7.1" transform="rotate(-45 349.3 608.4)"><tspan font-style="italic" font-size="7.1">Muc1</tspan><tspan font-size="5" dy="-2.7">EKO</tspan></text>
<text x="367" y="608.4" font-size="7.1" transform="rotate(-45 367 608.4)"><tspan font-style="italic" font-size="7.1">Muc1</tspan><tspan font-size="5" dy="-2.7">Flox/Flox</tspan></text>
<text x="384.9" y="608.4" font-size="7.1" transform="rotate(-45 384.9 608.4)"><tspan font-style="italic" font-size="7.1">Muc1</tspan><tspan font-size="5" dy="-2.7">EKO</tspan></text>
<line x1="328.4" y1="612.3" x2="351.9" y2="612.3" stroke="#333" stroke-width="1.2"/>
<line x1="366.2" y1="612.3" x2="389" y2="612.3" stroke="#333" stroke-width="1.2"/>
<text x="339.7" y="619.9" font-size="7.2" text-anchor="middle">ND</text>
<text x="374.7" y="619.9" font-size="7.2" text-anchor="middle">HFD</text>
<text x="455.9" y="611.8" font-size="7.1" transform="rotate(-45 455.9 611.8)"><tspan font-style="italic" font-size="7.1">Muc1</tspan><tspan font-size="5" dy="-2.7">Flox/Flox</tspan></text>
<text x="475" y="611.8" font-size="7.1" transform="rotate(-45 475 611.8)"><tspan font-style="italic" font-size="7.1">Muc1</tspan><tspan font-size="5" dy="-2.7">EKO</tspan></text>
<text x="493.7" y="611.8" font-size="7.1" transform="rotate(-45 493.7 611.8)"><tspan font-style="italic" font-size="7.1">Muc1</tspan><tspan font-size="5" dy="-2.7">Flox/Flox</tspan></text>
<text x="513" y="611.8" font-size="7.1" transform="rotate(-45 513 611.8)"><tspan font-style="italic" font-size="7.1">Muc1</tspan><tspan font-size="5" dy="-2.7">EKO</tspan></text>
<line x1="453.3" y1="615.6" x2="478.3" y2="615.6" stroke="#333" stroke-width="1.2"/>
<line x1="492.9" y1="615.6" x2="518.1" y2="615.6" stroke="#333" stroke-width="1.2"/>
<text x="465.1" y="623.6" font-size="7.2" text-anchor="middle">ND</text>
<text x="502" y="623.6" font-size="7.2" text-anchor="middle">HFD</text>
<text x="0.8" y="644.8" font-size="17.5" font-weight="bold" fill="#000">g</text>
<text x="19.9" y="652.8" font-size="8.1">Inflammation-related genes</text>
<circle cx="39.6" cy="672.4" r="2" fill="#1fb41f" stroke="#000" stroke-width="0.5"/>
<text x="48.5" y="675.3" font-size="8.1">ND <tspan font-style="italic" font-size="8.1">Muc1</tspan><tspan font-size="5.9" dy="-3.3">Flox/Flox</tspan></text>
<circle cx="111.6" cy="672.4" r="2" fill="#ff6a14" stroke="#000" stroke-width="0.5"/>
<text x="120" y="675.3" font-size="8.1">ND <tspan font-style="italic" font-size="8.1">Muc1</tspan><tspan font-size="5.9" dy="-3.3">EKO</tspan></text>
<circle cx="173" cy="672.4" r="2" fill="#a42ee6" stroke="#000" stroke-width="0.5"/>
<text x="181.3" y="675.3" font-size="8.1">HFD <tspan font-style="italic" font-size="8.1">Muc1</tspan><tspan font-size="5.9" dy="-3.3">Flox/Flox</tspan></text>
<circle cx="253.2" cy="672.4" r="2" fill="#ee1010" stroke="#000" stroke-width="0.5"/>
<text x="261" y="675.3" font-size="8.1">HFD <tspan font-style="italic" font-size="8.1">Muc1</tspan><tspan font-size="5.9" dy="-3.3">EKO</tspan></text>
<line x1="47.5" y1="694.3" x2="47.5" y2="767.7" stroke="#3c3c3c" stroke-width="1.15"/>
<line x1="45.1" y1="694.3" x2="47.5" y2="694.3" stroke="#3c3c3c" stroke-width="1.15"/>
<text x="44.3" y="697.22" font-size="8.1" text-anchor="end">2.0</text>
<line x1="45.1" y1="712.65" x2="47.5" y2="712.65" stroke="#3c3c3c" stroke-width="1.15"/>
<text x="44.3" y="715.57" font-size="8.1" text-anchor="end">1.5</text>
<line x1="45.1" y1="731" x2="47.5" y2="731" stroke="#3c3c3c" stroke-width="1.15"/>
<text x="44.3" y="733.92" font-size="8.1" text-anchor="end">1.0</text>
<line x1="45.1" y1="749.35" x2="47.5" y2="749.35" stroke="#3c3c3c" stroke-width="1.15"/>
<text x="44.3" y="752.27" font-size="8.1" text-anchor="end">0.5</text>
<line x1="45.1" y1="767.7" x2="47.5" y2="767.7" stroke="#3c3c3c" stroke-width="1.15"/>
<text x="44.3" y="770.62" font-size="8.1" text-anchor="end">0.0</text>
<line x1="47.5" y1="767.7" x2="297" y2="767.7" stroke="#3c3c3c" stroke-width="1.15"/>
<line x1="77.4" y1="767.7" x2="77.4" y2="770.1" stroke="#3c3c3c" stroke-width="1.15"/>
<line x1="140.8" y1="767.7" x2="140.8" y2="770.1" stroke="#3c3c3c" stroke-width="1.15"/>
<line x1="204.2" y1="767.7" x2="204.2" y2="770.1" stroke="#3c3c3c" stroke-width="1.15"/>
<line x1="268.4" y1="767.7" x2="268.4" y2="770.1" stroke="#3c3c3c" stroke-width="1.15"/>
<text x="29.41" y="730.9" font-size="8.1" text-anchor="middle" transform="rotate(-90 29.41 730.9)">Relative Expression in Liver</text>
<text x="77.4" y="783.2" font-size="8.1" text-anchor="middle" font-style="italic">Tnfa</text>
<text x="140.8" y="783.2" font-size="8.1" text-anchor="middle" font-style="italic">Il-1β</text>
<text x="204.2" y="783.2" font-size="8.1" text-anchor="middle" font-style="italic">Ccl2</text>
<text x="268.4" y="783.2" font-size="8.1" text-anchor="middle" font-style="italic">Il-6</text>
<circle cx="56.7" cy="735.61" r="1.9" fill="#1fb41f" stroke="#000" stroke-width="0.6"/>
<circle cx="56.7" cy="726.38" r="1.9" fill="#1fb41f" stroke="#000" stroke-width="0.6"/>
<circle cx="54.1" cy="726.83" r="1.9" fill="#1fb41f" stroke="#000" stroke-width="0.6"/>
<circle cx="54.1" cy="736.5" r="1.9" fill="#1fb41f" stroke="#000" stroke-width="0.6"/>
<circle cx="54.1" cy="723.66" r="1.9" fill="#1fb41f" stroke="#000" stroke-width="0.6"/>
<circle cx="56.7" cy="731.4" r="1.9" fill="#1fb41f" stroke="#000" stroke-width="0.6"/>
<circle cx="59.3" cy="729.27" r="1.9" fill="#1fb41f" stroke="#000" stroke-width="0.6"/>
<circle cx="54.1" cy="729.69" r="1.9" fill="#1fb41f" stroke="#000" stroke-width="0.6"/>
<line x1="52.5" y1="730.27" x2="60.9" y2="730.27" stroke="#222" stroke-width="0.7"/>
<line x1="56.7" y1="728.8" x2="56.7" y2="731.73" stroke="#222" stroke-width="0.7"/>
<line x1="55.1" y1="728.8" x2="58.3" y2="728.8" stroke="#222" stroke-width="0.7"/>
<line x1="55.1" y1="731.73" x2="58.3" y2="731.73" stroke="#222" stroke-width="0.7"/>
<circle cx="70.4" cy="726.22" r="1.9" fill="#ff6a14" stroke="#000" stroke-width="0.6"/>
<circle cx="70.4" cy="734.67" r="1.9" fill="#ff6a14" stroke="#000" stroke-width="0.6"/>
<circle cx="70.4" cy="719.07" r="1.9" fill="#ff6a14" stroke="#000" stroke-width="0.6"/>
<circle cx="70.4" cy="731.66" r="1.9" fill="#ff6a14" stroke="#000" stroke-width="0.6"/>
<circle cx="67.8" cy="717.05" r="1.9" fill="#ff6a14" stroke="#000" stroke-width="0.6"/>
<circle cx="67.8" cy="724.15" r="1.9" fill="#ff6a14" stroke="#000" stroke-width="0.6"/>
<circle cx="70.4" cy="722.58" r="1.9" fill="#ff6a14" stroke="#000" stroke-width="0.6"/>
<circle cx="67.8" cy="731.03" r="1.9" fill="#ff6a14" stroke="#000" stroke-width="0.6"/>
<line x1="66.2" y1="721.09" x2="74.6" y2="721.09" stroke="#222" stroke-width="0.7"/>
<line x1="70.4" y1="718.89" x2="70.4" y2="723.29" stroke="#222" stroke-width="0.7"/>
<line x1="68.8" y1="718.89" x2="72" y2="718.89" stroke="#222" stroke-width="0.7"/>
<line x1="68.8" y1="723.29" x2="72" y2="723.29" stroke="#222" stroke-width="0.7"/>
<circle cx="83.7" cy="719.95" r="1.9" fill="#a42ee6" stroke="#000" stroke-width="0.6"/>
<circle cx="81.1" cy="720.19" r="1.9" fill="#a42ee6" stroke="#000" stroke-width="0.6"/>
<circle cx="86.3" cy="722.13" r="1.9" fill="#a42ee6" stroke="#000" stroke-width="0.6"/>
<circle cx="83.7" cy="726.6" r="1.9" fill="#a42ee6" stroke="#000" stroke-width="0.6"/>
<circle cx="81.1" cy="724.85" r="1.9" fill="#a42ee6" stroke="#000" stroke-width="0.6"/>
<circle cx="83.7" cy="714.95" r="1.9" fill="#a42ee6" stroke="#000" stroke-width="0.6"/>
<circle cx="86.3" cy="718.5" r="1.9" fill="#a42ee6" stroke="#000" stroke-width="0.6"/>
<circle cx="81.1" cy="713.38" r="1.9" fill="#a42ee6" stroke="#000" stroke-width="0.6"/>
<line x1="79.5" y1="719.99" x2="87.9" y2="719.99" stroke="#222" stroke-width="0.7"/>
<line x1="83.7" y1="718.52" x2="83.7" y2="721.46" stroke="#222" stroke-width="0.7"/>
<line x1="82.1" y1="718.52" x2="85.3" y2="718.52" stroke="#222" stroke-width="0.7"/>
<line x1="82.1" y1="721.46" x2="85.3" y2="721.46" stroke="#222" stroke-width="0.7"/>
<circle cx="97.9" cy="714.73" r="1.9" fill="#ee1010" stroke="#000" stroke-width="0.6"/>
<circle cx="97.9" cy="704.58" r="1.9" fill="#ee1010" stroke="#000" stroke-width="0.6"/>
<circle cx="97.9" cy="711.81" r="1.9" fill="#ee1010" stroke="#000" stroke-width="0.6"/>
<circle cx="95.3" cy="714.39" r="1.9" fill="#ee1010" stroke="#000" stroke-width="0.6"/>
<circle cx="97.9" cy="708.19" r="1.9" fill="#ee1010" stroke="#000" stroke-width="0.6"/>
<circle cx="100.5" cy="716.41" r="1.9" fill="#ee1010" stroke="#000" stroke-width="0.6"/>
<circle cx="95.3" cy="705.64" r="1.9" fill="#ee1010" stroke="#000" stroke-width="0.6"/>
<circle cx="97.9" cy="719.99" r="1.9" fill="#ee1010" stroke="#000" stroke-width="0.6"/>
<line x1="93.7" y1="710.82" x2="102.1" y2="710.82" stroke="#222" stroke-width="0.7"/>
<line x1="97.9" y1="708.98" x2="97.9" y2="712.65" stroke="#222" stroke-width="0.7"/>
<line x1="96.3" y1="708.98" x2="99.5" y2="708.98" stroke="#222" stroke-width="0.7"/>
<line x1="96.3" y1="712.65" x2="99.5" y2="712.65" stroke="#222" stroke-width="0.7"/>
<circle cx="120.1" cy="727.24" r="1.9" fill="#1fb41f" stroke="#000" stroke-width="0.6"/>
<circle cx="120.1" cy="736.89" r="1.9" fill="#1fb41f" stroke="#000" stroke-width="0.6"/>
<circle cx="120.1" cy="731.05" r="1.9" fill="#1fb41f" stroke="#000" stroke-width="0.6"/>
<circle cx="117.5" cy="733.51" r="1.9" fill="#1fb41f" stroke="#000" stroke-width="0.6"/>
<circle cx="117.5" cy="724.76" r="1.9" fill="#1fb41f" stroke="#000" stroke-width="0.6"/>
<circle cx="117.5" cy="738.34" r="1.9" fill="#1fb41f" stroke="#000" stroke-width="0.6"/>
<circle cx="117.5" cy="731.19" r="1.9" fill="#1fb41f" stroke="#000" stroke-width="0.6"/>
<circle cx="117.5" cy="727.77" r="1.9" fill="#1fb41f" stroke="#000" stroke-width="0.6"/>
<line x1="115.9" y1="731" x2="124.3" y2="731" stroke="#222" stroke-width="0.7"/>
<line x1="120.1" y1="729.53" x2="120.1" y2="732.47" stroke="#222" stroke-width="0.7"/>
<line x1="118.5" y1="729.53" x2="121.7" y2="729.53" stroke="#222" stroke-width="0.7"/>
<line x1="118.5" y1="732.47" x2="121.7" y2="732.47" stroke="#222" stroke-width="0.7"/>
<circle cx="133.8" cy="729.87" r="1.9" fill="#ff6a14" stroke="#000" stroke-width="0.6"/>
<circle cx="131.2" cy="729.1" r="1.9" fill="#ff6a14" stroke="#000" stroke-width="0.6"/>
<circle cx="133.8" cy="721.49" r="1.9" fill="#ff6a14" stroke="#000" stroke-width="0.6"/>
<circle cx="133.8" cy="725.85" r="1.9" fill="#ff6a14" stroke="#000" stroke-width="0.6"/>
<circle cx="131.2" cy="725.04" r="1.9" fill="#ff6a14" stroke="#000" stroke-width="0.6"/>
<circle cx="136.4" cy="724.59" r="1.9" fill="#ff6a14" stroke="#000" stroke-width="0.6"/>
<circle cx="136.4" cy="731.73" r="1.9" fill="#ff6a14" stroke="#000" stroke-width="0.6"/>
<circle cx="131.2" cy="720.72" r="1.9" fill="#ff6a14" stroke="#000" stroke-width="0.6"/>
<line x1="129.6" y1="724.76" x2="138" y2="724.76" stroke="#222" stroke-width="0.7"/>
<line x1="133.8" y1="723.29" x2="133.8" y2="726.23" stroke="#222" stroke-width="0.7"/>
<line x1="132.2" y1="723.29" x2="135.4" y2="723.29" stroke="#222" stroke-width="0.7"/>
<line x1="132.2" y1="726.23" x2="135.4" y2="726.23" stroke="#222" stroke-width="0.7"/>
<circle cx="147.1" cy="721.47" r="1.9" fill="#a42ee6" stroke="#000" stroke-width="0.6"/>
<circle cx="147.1" cy="727.33" r="1.9" fill="#a42ee6" stroke="#000" stroke-width="0.6"/>
<circle cx="144.5" cy="724.95" r="1.9" fill="#a42ee6" stroke="#000" stroke-width="0.6"/>
<circle cx="147.1" cy="717.52" r="1.9" fill="#a42ee6" stroke="#000" stroke-width="0.6"/>
<circle cx="147.1" cy="712.65" r="1.9" fill="#a42ee6" stroke="#000" stroke-width="0.6"/>
<circle cx="144.5" cy="716.02" r="1.9" fill="#a42ee6" stroke="#000" stroke-width="0.6"/>
<circle cx="144.5" cy="719" r="1.9" fill="#a42ee6" stroke="#000" stroke-width="0.6"/>
<circle cx="149.7" cy="720.48" r="1.9" fill="#a42ee6" stroke="#000" stroke-width="0.6"/>
<line x1="142.9" y1="719.99" x2="151.3" y2="719.99" stroke="#222" stroke-width="0.7"/>
<line x1="147.1" y1="718.52" x2="147.1" y2="721.46" stroke="#222" stroke-width="0.7"/>
<line x1="145.5" y1="718.52" x2="148.7" y2="718.52" stroke="#222" stroke-width="0.7"/>
<line x1="145.5" y1="721.46" x2="148.7" y2="721.46" stroke="#222" stroke-width="0.7"/>
<circle cx="161.3" cy="712.7" r="1.9" fill="#ee1010" stroke="#000" stroke-width="0.6"/>
<circle cx="161.3" cy="708.5" r="1.9" fill="#ee1010" stroke="#000" stroke-width="0.6"/>
<circle cx="161.3" cy="717.97" r="1.9" fill="#ee1010" stroke="#000" stroke-width="0.6"/>
<circle cx="161.3" cy="704.21" r="1.9" fill="#ee1010" stroke="#000" stroke-width="0.6"/>
<circle cx="158.7" cy="714.76" r="1.9" fill="#ee1010" stroke="#000" stroke-width="0.6"/>
<circle cx="161.3" cy="721.83" r="1.9" fill="#ee1010" stroke="#000" stroke-width="0.6"/>
<circle cx="158.7" cy="710.53" r="1.9" fill="#ee1010" stroke="#000" stroke-width="0.6"/>
<circle cx="163.9" cy="715.18" r="1.9" fill="#ee1010" stroke="#000" stroke-width="0.6"/>
<line x1="157.1" y1="708.98" x2="165.5" y2="708.98" stroke="#222" stroke-width="0.7"/>
<line x1="161.3" y1="707.14" x2="161.3" y2="710.82" stroke="#222" stroke-width="0.7"/>
<line x1="159.7" y1="707.14" x2="162.9" y2="707.14" stroke="#222" stroke-width="0.7"/>
<line x1="159.7" y1="710.82" x2="162.9" y2="710.82" stroke="#222" stroke-width="0.7"/>
<circle cx="183.5" cy="721.05" r="1.9" fill="#1fb41f" stroke="#000" stroke-width="0.6"/>
<circle cx="183.5" cy="730.76" r="1.9" fill="#1fb41f" stroke="#000" stroke-width="0.6"/>
<circle cx="180.9" cy="718.89" r="1.9" fill="#1fb41f" stroke="#000" stroke-width="0.6"/>
<circle cx="183.5" cy="735.77" r="1.9" fill="#1fb41f" stroke="#000" stroke-width="0.6"/>
<circle cx="180.9" cy="721.86" r="1.9" fill="#1fb41f" stroke="#000" stroke-width="0.6"/>
<circle cx="180.9" cy="730.15" r="1.9" fill="#1fb41f" stroke="#000" stroke-width="0.6"/>
<circle cx="180.9" cy="733.52" r="1.9" fill="#1fb41f" stroke="#000" stroke-width="0.6"/>
<circle cx="183.5" cy="726.12" r="1.9" fill="#1fb41f" stroke="#000" stroke-width="0.6"/>
<line x1="179.3" y1="727.33" x2="187.7" y2="727.33" stroke="#222" stroke-width="0.7"/>
<line x1="183.5" y1="725.5" x2="183.5" y2="729.17" stroke="#222" stroke-width="0.7"/>
<line x1="181.9" y1="725.5" x2="185.1" y2="725.5" stroke="#222" stroke-width="0.7"/>
<line x1="181.9" y1="729.17" x2="185.1" y2="729.17" stroke="#222" stroke-width="0.7"/>
<circle cx="197.2" cy="735.77" r="1.9" fill="#ff6a14" stroke="#000" stroke-width="0.6"/>
<circle cx="197.2" cy="730.71" r="1.9" fill="#ff6a14" stroke="#000" stroke-width="0.6"/>
<circle cx="197.2" cy="726.57" r="1.9" fill="#ff6a14" stroke="#000" stroke-width="0.6"/>
<circle cx="194.6" cy="730.64" r="1.9" fill="#ff6a14" stroke="#000" stroke-width="0.6"/>
<circle cx="194.6" cy="734.15" r="1.9" fill="#ff6a14" stroke="#000" stroke-width="0.6"/>
<circle cx="199.8" cy="727.86" r="1.9" fill="#ff6a14" stroke="#000" stroke-width="0.6"/>
<circle cx="197.2" cy="721.83" r="1.9" fill="#ff6a14" stroke="#000" stroke-width="0.6"/>
<circle cx="194.6" cy="723.68" r="1.9" fill="#ff6a14" stroke="#000" stroke-width="0.6"/>
<line x1="193" y1="727.33" x2="201.4" y2="727.33" stroke="#222" stroke-width="0.7"/>
<line x1="197.2" y1="725.5" x2="197.2" y2="729.17" stroke="#222" stroke-width="0.7"/>
<line x1="195.6" y1="725.5" x2="198.8" y2="725.5" stroke="#222" stroke-width="0.7"/>
<line x1="195.6" y1="729.17" x2="198.8" y2="729.17" stroke="#222" stroke-width="0.7"/>
<circle cx="210.5" cy="716.89" r="1.9" fill="#a42ee6" stroke="#000" stroke-width="0.6"/>
<circle cx="210.5" cy="726.6" r="1.9" fill="#a42ee6" stroke="#000" stroke-width="0.6"/>
<circle cx="210.5" cy="719.77" r="1.9" fill="#a42ee6" stroke="#000" stroke-width="0.6"/>
<circle cx="207.9" cy="717.33" r="1.9" fill="#a42ee6" stroke="#000" stroke-width="0.6"/>
<circle cx="207.9" cy="725.67" r="1.9" fill="#a42ee6" stroke="#000" stroke-width="0.6"/>
<circle cx="207.9" cy="714.12" r="1.9" fill="#a42ee6" stroke="#000" stroke-width="0.6"/>
<circle cx="207.9" cy="721.71" r="1.9" fill="#a42ee6" stroke="#000" stroke-width="0.6"/>
<circle cx="213.1" cy="721.27" r="1.9" fill="#a42ee6" stroke="#000" stroke-width="0.6"/>
<line x1="206.3" y1="718.16" x2="214.7" y2="718.16" stroke="#222" stroke-width="0.7"/>
<line x1="210.5" y1="716.69" x2="210.5" y2="719.62" stroke="#222" stroke-width="0.7"/>
<line x1="208.9" y1="716.69" x2="212.1" y2="716.69" stroke="#222" stroke-width="0.7"/>
<line x1="208.9" y1="719.62" x2="212.1" y2="719.62" stroke="#222" stroke-width="0.7"/>
<circle cx="224.7" cy="721.83" r="1.9" fill="#ee1010" stroke="#000" stroke-width="0.6"/>
<circle cx="224.7" cy="718.14" r="1.9" fill="#ee1010" stroke="#000" stroke-width="0.6"/>
<circle cx="224.7" cy="712.21" r="1.9" fill="#ee1010" stroke="#000" stroke-width="0.6"/>
<circle cx="222.1" cy="715.48" r="1.9" fill="#ee1010" stroke="#000" stroke-width="0.6"/>
<circle cx="224.7" cy="708.34" r="1.9" fill="#ee1010" stroke="#000" stroke-width="0.6"/>
<circle cx="222.1" cy="706.19" r="1.9" fill="#ee1010" stroke="#000" stroke-width="0.6"/>
<circle cx="227.3" cy="706.16" r="1.9" fill="#ee1010" stroke="#000" stroke-width="0.6"/>
<circle cx="224.7" cy="701.64" r="1.9" fill="#ee1010" stroke="#000" stroke-width="0.6"/>
<line x1="220.5" y1="710.82" x2="228.9" y2="710.82" stroke="#222" stroke-width="0.7"/>
<line x1="224.7" y1="708.61" x2="224.7" y2="713.02" stroke="#222" stroke-width="0.7"/>
<line x1="223.1" y1="708.61" x2="226.3" y2="708.61" stroke="#222" stroke-width="0.7"/>
<line x1="223.1" y1="713.02" x2="226.3" y2="713.02" stroke="#222" stroke-width="0.7"/>
<circle cx="247.7" cy="733.47" r="1.9" fill="#1fb41f" stroke="#000" stroke-width="0.6"/>
<circle cx="247.7" cy="728.31" r="1.9" fill="#1fb41f" stroke="#000" stroke-width="0.6"/>
<circle cx="245.1" cy="735.03" r="1.9" fill="#1fb41f" stroke="#000" stroke-width="0.6"/>
<circle cx="247.7" cy="720.36" r="1.9" fill="#1fb41f" stroke="#000" stroke-width="0.6"/>
<circle cx="250.3" cy="732.97" r="1.9" fill="#1fb41f" stroke="#000" stroke-width="0.6"/>
<circle cx="245.1" cy="721.33" r="1.9" fill="#1fb41f" stroke="#000" stroke-width="0.6"/>
<circle cx="245.1" cy="727.01" r="1.9" fill="#1fb41f" stroke="#000" stroke-width="0.6"/>
<circle cx="247.7" cy="739.44" r="1.9" fill="#1fb41f" stroke="#000" stroke-width="0.6"/>
<line x1="243.5" y1="723.66" x2="251.9" y2="723.66" stroke="#222" stroke-width="0.7"/>
<line x1="247.7" y1="721.83" x2="247.7" y2="725.5" stroke="#222" stroke-width="0.7"/>
<line x1="246.1" y1="721.83" x2="249.3" y2="721.83" stroke="#222" stroke-width="0.7"/>
<line x1="246.1" y1="725.5" x2="249.3" y2="725.5" stroke="#222" stroke-width="0.7"/>
<circle cx="261.4" cy="717.79" r="1.9" fill="#ff6a14" stroke="#000" stroke-width="0.6"/>
<circle cx="261.4" cy="724.69" r="1.9" fill="#ff6a14" stroke="#000" stroke-width="0.6"/>
<circle cx="258.8" cy="718.3" r="1.9" fill="#ff6a14" stroke="#000" stroke-width="0.6"/>
<circle cx="261.4" cy="735.64" r="1.9" fill="#ff6a14" stroke="#000" stroke-width="0.6"/>
<circle cx="261.4" cy="730.41" r="1.9" fill="#ff6a14" stroke="#000" stroke-width="0.6"/>
<circle cx="258.8" cy="736.5" r="1.9" fill="#ff6a14" stroke="#000" stroke-width="0.6"/>
<circle cx="258.8" cy="725.25" r="1.9" fill="#ff6a14" stroke="#000" stroke-width="0.6"/>
<circle cx="258.8" cy="729.64" r="1.9" fill="#ff6a14" stroke="#000" stroke-width="0.6"/>
<line x1="257.2" y1="723.66" x2="265.6" y2="723.66" stroke="#222" stroke-width="0.7"/>
<line x1="261.4" y1="721.83" x2="261.4" y2="725.5" stroke="#222" stroke-width="0.7"/>
<line x1="259.8" y1="721.83" x2="263" y2="721.83" stroke="#222" stroke-width="0.7"/>
<line x1="259.8" y1="725.5" x2="263" y2="725.5" stroke="#222" stroke-width="0.7"/>
<circle cx="274.7" cy="718.61" r="1.9" fill="#a42ee6" stroke="#000" stroke-width="0.6"/>
<circle cx="272.1" cy="720.6" r="1.9" fill="#a42ee6" stroke="#000" stroke-width="0.6"/>
<circle cx="274.7" cy="709.69" r="1.9" fill="#a42ee6" stroke="#000" stroke-width="0.6"/>
<circle cx="272.1" cy="712.13" r="1.9" fill="#a42ee6" stroke="#000" stroke-width="0.6"/>
<circle cx="272.1" cy="709.35" r="1.9" fill="#a42ee6" stroke="#000" stroke-width="0.6"/>
<circle cx="274.7" cy="723.29" r="1.9" fill="#a42ee6" stroke="#000" stroke-width="0.6"/>
<circle cx="277.3" cy="722.32" r="1.9" fill="#a42ee6" stroke="#000" stroke-width="0.6"/>
<circle cx="274.7" cy="714.47" r="1.9" fill="#a42ee6" stroke="#000" stroke-width="0.6"/>
<line x1="270.5" y1="713.75" x2="278.9" y2="713.75" stroke="#222" stroke-width="0.7"/>
<line x1="274.7" y1="712.28" x2="274.7" y2="715.22" stroke="#222" stroke-width="0.7"/>
<line x1="273.1" y1="712.28" x2="276.3" y2="712.28" stroke="#222" stroke-width="0.7"/>
<line x1="273.1" y1="715.22" x2="276.3" y2="715.22" stroke="#222" stroke-width="0.7"/>
<circle cx="288.9" cy="700.54" r="1.9" fill="#ee1010" stroke="#000" stroke-width="0.6"/>
<circle cx="288.9" cy="712.18" r="1.9" fill="#ee1010" stroke="#000" stroke-width="0.6"/>
<circle cx="286.3" cy="712.68" r="1.9" fill="#ee1010" stroke="#000" stroke-width="0.6"/>
<circle cx="288.9" cy="715.22" r="1.9" fill="#ee1010" stroke="#000" stroke-width="0.6"/>
<circle cx="286.3" cy="703.14" r="1.9" fill="#ee1010" stroke="#000" stroke-width="0.6"/>
<circle cx="288.9" cy="704.57" r="1.9" fill="#ee1010" stroke="#000" stroke-width="0.6"/>
<circle cx="288.9" cy="718.16" r="1.9" fill="#ee1010" stroke="#000" stroke-width="0.6"/>
<circle cx="288.9" cy="707.47" r="1.9" fill="#ee1010" stroke="#000" stroke-width="0.6"/>
<line x1="284.7" y1="707.88" x2="293.1" y2="707.88" stroke="#222" stroke-width="0.7"/>
<line x1="288.9" y1="706.04" x2="288.9" y2="709.71" stroke="#222" stroke-width="0.7"/>
<line x1="287.3" y1="706.04" x2="290.5" y2="706.04" stroke="#222" stroke-width="0.7"/>
<line x1="287.3" y1="709.71" x2="290.5" y2="709.71" stroke="#222" stroke-width="0.7"/>
<text x="90.7" y="692" font-size="6.5" text-anchor="middle" fill="#333"><tspan font-style="italic">P</tspan> = 0.0085</text>
<polyline points="83.8,699.2 83.8,695.9 98.4,695.9 98.4,699.2" fill="none" stroke="#555" stroke-width="0.9" stroke-linejoin="round"/>
<text x="152.8" y="692" font-size="6.5" text-anchor="middle" fill="#333"><tspan font-style="italic">P</tspan> = 0.0025</text>
<polyline points="147.7,699.2 147.7,695.9 163.5,695.9 163.5,699.2" fill="none" stroke="#555" stroke-width="0.9" stroke-linejoin="round"/>
<text x="218.8" y="692" font-size="6.5" text-anchor="middle" fill="#333"><tspan font-style="italic">P</tspan> = 0.0036</text>
<polyline points="210.5,698.8 210.5,695.5 227.7,695.5 227.7,698.8" fill="none" stroke="#555" stroke-width="0.9" stroke-linejoin="round"/>
<text x="283.1" y="692" font-size="6.5" text-anchor="middle" fill="#333"><tspan font-style="italic">P</tspan> = 0.0344</text>
<polyline points="275.4,698.8 275.4,695.5 290.1,695.5 290.1,698.8" fill="none" stroke="#555" stroke-width="0.9" stroke-linejoin="round"/>
<text x="354.3" y="645.2" font-size="17.5" font-weight="bold" fill="#000">h</text>
<text x="368.9" y="652.6" font-size="8.1">Fibrosis-related genes</text>
<circle cx="388.1" cy="671.2" r="2" fill="#1f9e1f" stroke="#000" stroke-width="0.5"/>
<text x="396.5" y="674.1" font-size="8.4">ND <tspan font-style="italic" font-size="8.4">Muc1</tspan><tspan font-size="6.3" dy="-3.4">Flox/Flox</tspan></text>
<circle cx="465.6" cy="671.2" r="2" fill="#f08c1a" stroke="#000" stroke-width="0.5"/>
<text x="473.5" y="674.1" font-size="8.4">ND <tspan font-style="italic" font-size="8.4">Muc1</tspan><tspan font-size="6.3" dy="-3.4">EKO</tspan></text>
<circle cx="529.2" cy="671.2" r="2" fill="#a42ee6" stroke="#000" stroke-width="0.5"/>
<text x="537" y="674.1" font-size="8.4">HFD <tspan font-style="italic" font-size="8.4">Muc1</tspan><tspan font-size="6.3" dy="-3.4">Flox/Flox</tspan></text>
<circle cx="613.3" cy="671.2" r="2" fill="#ee1010" stroke="#000" stroke-width="0.5"/>
<text x="621.9" y="674.1" font-size="8.4">HFD <tspan font-style="italic" font-size="8.4">Muc1</tspan><tspan font-size="6.3" dy="-3.4">EKO</tspan></text>
<line x1="397.8" y1="690.5" x2="397.8" y2="767.4" stroke="#3c3c3c" stroke-width="1.15"/>
<line x1="395.4" y1="690.5" x2="397.8" y2="690.5" stroke="#3c3c3c" stroke-width="1.15"/>
<text x="394.6" y="693.42" font-size="8.1" text-anchor="end">2.0</text>
<line x1="395.4" y1="709.73" x2="397.8" y2="709.73" stroke="#3c3c3c" stroke-width="1.15"/>
<text x="394.6" y="712.64" font-size="8.1" text-anchor="end">1.5</text>
<line x1="395.4" y1="728.95" x2="397.8" y2="728.95" stroke="#3c3c3c" stroke-width="1.15"/>
<text x="394.6" y="731.87" font-size="8.1" text-anchor="end">1.0</text>
<line x1="395.4" y1="748.17" x2="397.8" y2="748.17" stroke="#3c3c3c" stroke-width="1.15"/>
<text x="394.6" y="751.09" font-size="8.1" text-anchor="end">0.5</text>
<line x1="395.4" y1="767.4" x2="397.8" y2="767.4" stroke="#3c3c3c" stroke-width="1.15"/>
<text x="394.6" y="770.32" font-size="8.1" text-anchor="end">0.0</text>
<line x1="397.8" y1="767.4" x2="660.5" y2="767.4" stroke="#3c3c3c" stroke-width="1.15"/>
<line x1="418.3" y1="767.4" x2="418.3" y2="769.8" stroke="#3c3c3c" stroke-width="1.15"/>
<line x1="462.4" y1="767.4" x2="462.4" y2="769.8" stroke="#3c3c3c" stroke-width="1.15"/>
<line x1="506.5" y1="767.4" x2="506.5" y2="769.8" stroke="#3c3c3c" stroke-width="1.15"/>
<line x1="550.6" y1="767.4" x2="550.6" y2="769.8" stroke="#3c3c3c" stroke-width="1.15"/>
<line x1="594.7" y1="767.4" x2="594.7" y2="769.8" stroke="#3c3c3c" stroke-width="1.15"/>
<line x1="638.8" y1="767.4" x2="638.8" y2="769.8" stroke="#3c3c3c" stroke-width="1.15"/>
<text x="377.61" y="727.9" font-size="8.1" text-anchor="middle" transform="rotate(-90 377.61 727.9)">Relative Expression in Liver</text>
<text x="418.3" y="784" font-size="8.1" text-anchor="middle" font-style="italic">Tgf-β</text>
<text x="462.4" y="784" font-size="8.1" text-anchor="middle" font-style="italic">Timp-1</text>
<text x="506.5" y="784" font-size="8.1" text-anchor="middle" font-style="italic">Col1-α1</text>
<text x="550.6" y="784" font-size="8.1" text-anchor="middle" font-style="italic">Col3-α1</text>
<text x="594.7" y="784" font-size="8.1" text-anchor="middle" font-style="italic">Col4-α1</text>
<text x="638.8" y="784" font-size="8.1" text-anchor="middle" font-style="italic">Acta2</text>
<circle cx="404.6" cy="732.88" r="1.85" fill="#1f9e1f" stroke="#000" stroke-width="0.6"/>
<circle cx="402.6" cy="733.95" r="1.85" fill="#1f9e1f" stroke="#000" stroke-width="0.6"/>
<circle cx="406.6" cy="732.53" r="1.85" fill="#1f9e1f" stroke="#000" stroke-width="0.6"/>
<circle cx="404.6" cy="728.95" r="1.85" fill="#1f9e1f" stroke="#000" stroke-width="0.6"/>
<circle cx="402.6" cy="731.41" r="1.85" fill="#1f9e1f" stroke="#000" stroke-width="0.6"/>
<circle cx="404.6" cy="731.86" r="1.85" fill="#1f9e1f" stroke="#000" stroke-width="0.6"/>
<circle cx="406.6" cy="730.18" r="1.85" fill="#1f9e1f" stroke="#000" stroke-width="0.6"/>
<circle cx="402.6" cy="729.96" r="1.85" fill="#1f9e1f" stroke="#000" stroke-width="0.6"/>
<line x1="401" y1="732.03" x2="408.2" y2="732.03" stroke="#222" stroke-width="0.7"/>
<line x1="404.6" y1="731.26" x2="404.6" y2="732.79" stroke="#222" stroke-width="0.7"/>
<line x1="403.2" y1="731.26" x2="406" y2="731.26" stroke="#222" stroke-width="0.7"/>
<line x1="403.2" y1="732.79" x2="406" y2="732.79" stroke="#222" stroke-width="0.7"/>
<circle cx="414.3" cy="730.5" r="1.85" fill="#f08c1a" stroke="#000" stroke-width="0.6"/>
<circle cx="412.3" cy="728.22" r="1.85" fill="#f08c1a" stroke="#000" stroke-width="0.6"/>
<circle cx="416.3" cy="726.99" r="1.85" fill="#f08c1a" stroke="#000" stroke-width="0.6"/>
<circle cx="414.3" cy="722.41" r="1.85" fill="#f08c1a" stroke="#000" stroke-width="0.6"/>
<circle cx="414.3" cy="733.95" r="1.85" fill="#f08c1a" stroke="#000" stroke-width="0.6"/>
<circle cx="412.3" cy="732.19" r="1.85" fill="#f08c1a" stroke="#000" stroke-width="0.6"/>
<circle cx="416.3" cy="729.07" r="1.85" fill="#f08c1a" stroke="#000" stroke-width="0.6"/>
<circle cx="412.3" cy="724.34" r="1.85" fill="#f08c1a" stroke="#000" stroke-width="0.6"/>
<line x1="410.7" y1="728.95" x2="417.9" y2="728.95" stroke="#222" stroke-width="0.7"/>
<line x1="414.3" y1="727.41" x2="414.3" y2="730.49" stroke="#222" stroke-width="0.7"/>
<line x1="412.9" y1="727.41" x2="415.7" y2="727.41" stroke="#222" stroke-width="0.7"/>
<line x1="412.9" y1="730.49" x2="415.7" y2="730.49" stroke="#222" stroke-width="0.7"/>
<circle cx="423.8" cy="723.79" r="1.85" fill="#a42ee6" stroke="#000" stroke-width="0.6"/>
<circle cx="421.8" cy="722.28" r="1.85" fill="#a42ee6" stroke="#000" stroke-width="0.6"/>
<circle cx="423.8" cy="727.65" r="1.85" fill="#a42ee6" stroke="#000" stroke-width="0.6"/>
<circle cx="423.8" cy="718.57" r="1.85" fill="#a42ee6" stroke="#000" stroke-width="0.6"/>
<circle cx="425.8" cy="720.17" r="1.85" fill="#a42ee6" stroke="#000" stroke-width="0.6"/>
<circle cx="425.8" cy="722.53" r="1.85" fill="#a42ee6" stroke="#000" stroke-width="0.6"/>
<circle cx="421.8" cy="727.16" r="1.85" fill="#a42ee6" stroke="#000" stroke-width="0.6"/>
<circle cx="423.8" cy="730.1" r="1.85" fill="#a42ee6" stroke="#000" stroke-width="0.6"/>
<line x1="420.2" y1="725.11" x2="427.4" y2="725.11" stroke="#222" stroke-width="0.7"/>
<line x1="423.8" y1="723.57" x2="423.8" y2="726.64" stroke="#222" stroke-width="0.7"/>
<line x1="422.4" y1="723.57" x2="425.2" y2="723.57" stroke="#222" stroke-width="0.7"/>
<line x1="422.4" y1="726.64" x2="425.2" y2="726.64" stroke="#222" stroke-width="0.7"/>
<circle cx="433.4" cy="705.3" r="1.85" fill="#ee1010" stroke="#000" stroke-width="0.6"/>
<circle cx="431.4" cy="703.19" r="1.85" fill="#ee1010" stroke="#000" stroke-width="0.6"/>
<circle cx="433.4" cy="714.34" r="1.85" fill="#ee1010" stroke="#000" stroke-width="0.6"/>
<circle cx="431.4" cy="705.92" r="1.85" fill="#ee1010" stroke="#000" stroke-width="0.6"/>
<circle cx="433.4" cy="708.68" r="1.85" fill="#ee1010" stroke="#000" stroke-width="0.6"/>
<circle cx="431.4" cy="709.69" r="1.85" fill="#ee1010" stroke="#000" stroke-width="0.6"/>
<circle cx="431.4" cy="712.94" r="1.85" fill="#ee1010" stroke="#000" stroke-width="0.6"/>
<circle cx="435.4" cy="710.21" r="1.85" fill="#ee1010" stroke="#000" stroke-width="0.6"/>
<line x1="429.8" y1="708.96" x2="437" y2="708.96" stroke="#222" stroke-width="0.7"/>
<line x1="433.4" y1="707.42" x2="433.4" y2="710.49" stroke="#222" stroke-width="0.7"/>
<line x1="432" y1="707.42" x2="434.8" y2="707.42" stroke="#222" stroke-width="0.7"/>
<line x1="432" y1="710.49" x2="434.8" y2="710.49" stroke="#222" stroke-width="0.7"/>
<circle cx="448.7" cy="734.72" r="1.85" fill="#1f9e1f" stroke="#000" stroke-width="0.6"/>
<circle cx="448.7" cy="737.41" r="1.85" fill="#1f9e1f" stroke="#000" stroke-width="0.6"/>
<circle cx="448.7" cy="724.2" r="1.85" fill="#1f9e1f" stroke="#000" stroke-width="0.6"/>
<circle cx="448.7" cy="720.49" r="1.85" fill="#1f9e1f" stroke="#000" stroke-width="0.6"/>
<circle cx="448.7" cy="731.04" r="1.85" fill="#1f9e1f" stroke="#000" stroke-width="0.6"/>
<circle cx="446.7" cy="722.43" r="1.85" fill="#1f9e1f" stroke="#000" stroke-width="0.6"/>
<circle cx="446.7" cy="729.07" r="1.85" fill="#1f9e1f" stroke="#000" stroke-width="0.6"/>
<circle cx="446.7" cy="732.04" r="1.85" fill="#1f9e1f" stroke="#000" stroke-width="0.6"/>
<line x1="445.1" y1="731.64" x2="452.3" y2="731.64" stroke="#222" stroke-width="0.7"/>
<line x1="448.7" y1="729.72" x2="448.7" y2="733.56" stroke="#222" stroke-width="0.7"/>
<line x1="447.3" y1="729.72" x2="450.1" y2="729.72" stroke="#222" stroke-width="0.7"/>
<line x1="447.3" y1="733.56" x2="450.1" y2="733.56" stroke="#222" stroke-width="0.7"/>
<circle cx="458.4" cy="734.72" r="1.85" fill="#f08c1a" stroke="#000" stroke-width="0.6"/>
<circle cx="458.4" cy="722.03" r="1.85" fill="#f08c1a" stroke="#000" stroke-width="0.6"/>
<circle cx="458.4" cy="728.48" r="1.85" fill="#f08c1a" stroke="#000" stroke-width="0.6"/>
<circle cx="458.4" cy="724.97" r="1.85" fill="#f08c1a" stroke="#000" stroke-width="0.6"/>
<circle cx="458.4" cy="732.04" r="1.85" fill="#f08c1a" stroke="#000" stroke-width="0.6"/>
<circle cx="456.4" cy="732.83" r="1.85" fill="#f08c1a" stroke="#000" stroke-width="0.6"/>
<circle cx="456.4" cy="728.35" r="1.85" fill="#f08c1a" stroke="#000" stroke-width="0.6"/>
<circle cx="456.4" cy="724.21" r="1.85" fill="#f08c1a" stroke="#000" stroke-width="0.6"/>
<line x1="454.8" y1="730.1" x2="462" y2="730.1" stroke="#222" stroke-width="0.7"/>
<line x1="458.4" y1="728.57" x2="458.4" y2="731.64" stroke="#222" stroke-width="0.7"/>
<line x1="457" y1="728.57" x2="459.8" y2="728.57" stroke="#222" stroke-width="0.7"/>
<line x1="457" y1="731.64" x2="459.8" y2="731.64" stroke="#222" stroke-width="0.7"/>
<circle cx="467.9" cy="715.49" r="1.85" fill="#a42ee6" stroke="#000" stroke-width="0.6"/>
<circle cx="467.9" cy="704.73" r="1.85" fill="#a42ee6" stroke="#000" stroke-width="0.6"/>
<circle cx="465.9" cy="714.47" r="1.85" fill="#a42ee6" stroke="#000" stroke-width="0.6"/>
<circle cx="467.9" cy="710.83" r="1.85" fill="#a42ee6" stroke="#000" stroke-width="0.6"/>
<circle cx="465.9" cy="711.92" r="1.85" fill="#a42ee6" stroke="#000" stroke-width="0.6"/>
<circle cx="465.9" cy="709.04" r="1.85" fill="#a42ee6" stroke="#000" stroke-width="0.6"/>
<circle cx="465.9" cy="706.55" r="1.85" fill="#a42ee6" stroke="#000" stroke-width="0.6"/>
<circle cx="469.9" cy="709.53" r="1.85" fill="#a42ee6" stroke="#000" stroke-width="0.6"/>
<line x1="464.3" y1="710.88" x2="471.5" y2="710.88" stroke="#222" stroke-width="0.7"/>
<line x1="467.9" y1="709.34" x2="467.9" y2="712.42" stroke="#222" stroke-width="0.7"/>
<line x1="466.5" y1="709.34" x2="469.3" y2="709.34" stroke="#222" stroke-width="0.7"/>
<line x1="466.5" y1="712.42" x2="469.3" y2="712.42" stroke="#222" stroke-width="0.7"/>
<circle cx="477.5" cy="720.49" r="1.85" fill="#ee1010" stroke="#000" stroke-width="0.6"/>
<circle cx="477.5" cy="703.8" r="1.85" fill="#ee1010" stroke="#000" stroke-width="0.6"/>
<circle cx="477.5" cy="708.13" r="1.85" fill="#ee1010" stroke="#000" stroke-width="0.6"/>
<circle cx="477.5" cy="711.37" r="1.85" fill="#ee1010" stroke="#000" stroke-width="0.6"/>
<circle cx="475.5" cy="702.8" r="1.85" fill="#ee1010" stroke="#000" stroke-width="0.6"/>
<circle cx="475.5" cy="711.63" r="1.85" fill="#ee1010" stroke="#000" stroke-width="0.6"/>
<circle cx="477.5" cy="715.98" r="1.85" fill="#ee1010" stroke="#000" stroke-width="0.6"/>
<circle cx="475.5" cy="716.05" r="1.85" fill="#ee1010" stroke="#000" stroke-width="0.6"/>
<line x1="473.9" y1="706.65" x2="481.1" y2="706.65" stroke="#222" stroke-width="0.7"/>
<line x1="477.5" y1="704.73" x2="477.5" y2="708.57" stroke="#222" stroke-width="0.7"/>
<line x1="476.1" y1="704.73" x2="478.9" y2="704.73" stroke="#222" stroke-width="0.7"/>
<line x1="476.1" y1="708.57" x2="478.9" y2="708.57" stroke="#222" stroke-width="0.7"/>
<circle cx="492.8" cy="730.14" r="1.85" fill="#1f9e1f" stroke="#000" stroke-width="0.6"/>
<circle cx="492.8" cy="724.34" r="1.85" fill="#1f9e1f" stroke="#000" stroke-width="0.6"/>
<circle cx="490.8" cy="726.56" r="1.85" fill="#1f9e1f" stroke="#000" stroke-width="0.6"/>
<circle cx="490.8" cy="730.48" r="1.85" fill="#1f9e1f" stroke="#000" stroke-width="0.6"/>
<circle cx="490.8" cy="723.18" r="1.85" fill="#1f9e1f" stroke="#000" stroke-width="0.6"/>
<circle cx="492.8" cy="737.79" r="1.85" fill="#1f9e1f" stroke="#000" stroke-width="0.6"/>
<circle cx="492.8" cy="734.68" r="1.85" fill="#1f9e1f" stroke="#000" stroke-width="0.6"/>
<circle cx="490.8" cy="737.46" r="1.85" fill="#1f9e1f" stroke="#000" stroke-width="0.6"/>
<line x1="489.2" y1="730.1" x2="496.4" y2="730.1" stroke="#222" stroke-width="0.7"/>
<line x1="492.8" y1="728.57" x2="492.8" y2="731.64" stroke="#222" stroke-width="0.7"/>
<line x1="491.4" y1="728.57" x2="494.2" y2="728.57" stroke="#222" stroke-width="0.7"/>
<line x1="491.4" y1="731.64" x2="494.2" y2="731.64" stroke="#222" stroke-width="0.7"/>
<circle cx="502.5" cy="734.72" r="1.85" fill="#f08c1a" stroke="#000" stroke-width="0.6"/>
<circle cx="502.5" cy="726.74" r="1.85" fill="#f08c1a" stroke="#000" stroke-width="0.6"/>
<circle cx="502.5" cy="729.64" r="1.85" fill="#f08c1a" stroke="#000" stroke-width="0.6"/>
<circle cx="502.5" cy="723.1" r="1.85" fill="#f08c1a" stroke="#000" stroke-width="0.6"/>
<circle cx="500.5" cy="731.65" r="1.85" fill="#f08c1a" stroke="#000" stroke-width="0.6"/>
<circle cx="500.5" cy="723.92" r="1.85" fill="#f08c1a" stroke="#000" stroke-width="0.6"/>
<circle cx="500.5" cy="721.26" r="1.85" fill="#f08c1a" stroke="#000" stroke-width="0.6"/>
<circle cx="500.5" cy="733.8" r="1.85" fill="#f08c1a" stroke="#000" stroke-width="0.6"/>
<line x1="498.9" y1="728.95" x2="506.1" y2="728.95" stroke="#222" stroke-width="0.7"/>
<line x1="502.5" y1="727.41" x2="502.5" y2="730.49" stroke="#222" stroke-width="0.7"/>
<line x1="501.1" y1="727.41" x2="503.9" y2="727.41" stroke="#222" stroke-width="0.7"/>
<line x1="501.1" y1="730.49" x2="503.9" y2="730.49" stroke="#222" stroke-width="0.7"/>
<circle cx="512" cy="708.13" r="1.85" fill="#a42ee6" stroke="#000" stroke-width="0.6"/>
<circle cx="510" cy="705.88" r="1.85" fill="#a42ee6" stroke="#000" stroke-width="0.6"/>
<circle cx="512" cy="721.72" r="1.85" fill="#a42ee6" stroke="#000" stroke-width="0.6"/>
<circle cx="512" cy="716.03" r="1.85" fill="#a42ee6" stroke="#000" stroke-width="0.6"/>
<circle cx="510" cy="723.18" r="1.85" fill="#a42ee6" stroke="#000" stroke-width="0.6"/>
<circle cx="512" cy="712.26" r="1.85" fill="#a42ee6" stroke="#000" stroke-width="0.6"/>
<circle cx="510" cy="720.02" r="1.85" fill="#a42ee6" stroke="#000" stroke-width="0.6"/>
<circle cx="510" cy="711.34" r="1.85" fill="#a42ee6" stroke="#000" stroke-width="0.6"/>
<line x1="508.4" y1="713.57" x2="515.6" y2="713.57" stroke="#222" stroke-width="0.7"/>
<line x1="512" y1="711.65" x2="512" y2="715.49" stroke="#222" stroke-width="0.7"/>
<line x1="510.6" y1="711.65" x2="513.4" y2="711.65" stroke="#222" stroke-width="0.7"/>
<line x1="510.6" y1="715.49" x2="513.4" y2="715.49" stroke="#222" stroke-width="0.7"/>
<circle cx="521.6" cy="705.11" r="1.85" fill="#ee1010" stroke="#000" stroke-width="0.6"/>
<circle cx="521.6" cy="708.99" r="1.85" fill="#ee1010" stroke="#000" stroke-width="0.6"/>
<circle cx="519.6" cy="706.32" r="1.85" fill="#ee1010" stroke="#000" stroke-width="0.6"/>
<circle cx="521.6" cy="715.19" r="1.85" fill="#ee1010" stroke="#000" stroke-width="0.6"/>
<circle cx="519.6" cy="717.41" r="1.85" fill="#ee1010" stroke="#000" stroke-width="0.6"/>
<circle cx="519.6" cy="713.18" r="1.85" fill="#ee1010" stroke="#000" stroke-width="0.6"/>
<circle cx="519.6" cy="709.53" r="1.85" fill="#ee1010" stroke="#000" stroke-width="0.6"/>
<circle cx="519.6" cy="715.28" r="1.85" fill="#ee1010" stroke="#000" stroke-width="0.6"/>
<line x1="518" y1="709.73" x2="525.2" y2="709.73" stroke="#222" stroke-width="0.7"/>
<line x1="521.6" y1="708.19" x2="521.6" y2="711.26" stroke="#222" stroke-width="0.7"/>
<line x1="520.2" y1="708.19" x2="523" y2="708.19" stroke="#222" stroke-width="0.7"/>
<line x1="520.2" y1="711.26" x2="523" y2="711.26" stroke="#222" stroke-width="0.7"/>
<circle cx="536.9" cy="731.77" r="1.85" fill="#1f9e1f" stroke="#000" stroke-width="0.6"/>
<circle cx="536.9" cy="723.18" r="1.85" fill="#1f9e1f" stroke="#000" stroke-width="0.6"/>
<circle cx="536.9" cy="728.98" r="1.85" fill="#1f9e1f" stroke="#000" stroke-width="0.6"/>
<circle cx="536.9" cy="734.72" r="1.85" fill="#1f9e1f" stroke="#000" stroke-width="0.6"/>
<circle cx="534.9" cy="725.25" r="1.85" fill="#1f9e1f" stroke="#000" stroke-width="0.6"/>
<circle cx="534.9" cy="728.74" r="1.85" fill="#1f9e1f" stroke="#000" stroke-width="0.6"/>
<circle cx="538.9" cy="727.47" r="1.85" fill="#1f9e1f" stroke="#000" stroke-width="0.6"/>
<circle cx="534.9" cy="731.62" r="1.85" fill="#1f9e1f" stroke="#000" stroke-width="0.6"/>
<line x1="533.3" y1="728.95" x2="540.5" y2="728.95" stroke="#222" stroke-width="0.7"/>
<line x1="536.9" y1="727.41" x2="536.9" y2="730.49" stroke="#222" stroke-width="0.7"/>
<line x1="535.5" y1="727.41" x2="538.3" y2="727.41" stroke="#222" stroke-width="0.7"/>
<line x1="535.5" y1="730.49" x2="538.3" y2="730.49" stroke="#222" stroke-width="0.7"/>
<circle cx="546.6" cy="723.78" r="1.85" fill="#f08c1a" stroke="#000" stroke-width="0.6"/>
<circle cx="546.6" cy="727.52" r="1.85" fill="#f08c1a" stroke="#000" stroke-width="0.6"/>
<circle cx="546.6" cy="731.07" r="1.85" fill="#f08c1a" stroke="#000" stroke-width="0.6"/>
<circle cx="544.6" cy="726.11" r="1.85" fill="#f08c1a" stroke="#000" stroke-width="0.6"/>
<circle cx="544.6" cy="732.28" r="1.85" fill="#f08c1a" stroke="#000" stroke-width="0.6"/>
<circle cx="548.6" cy="732.79" r="1.85" fill="#f08c1a" stroke="#000" stroke-width="0.6"/>
<circle cx="544.6" cy="722.41" r="1.85" fill="#f08c1a" stroke="#000" stroke-width="0.6"/>
<circle cx="544.6" cy="728.03" r="1.85" fill="#f08c1a" stroke="#000" stroke-width="0.6"/>
<line x1="543" y1="727.03" x2="550.2" y2="727.03" stroke="#222" stroke-width="0.7"/>
<line x1="546.6" y1="725.49" x2="546.6" y2="728.57" stroke="#222" stroke-width="0.7"/>
<line x1="545.2" y1="725.49" x2="548" y2="725.49" stroke="#222" stroke-width="0.7"/>
<line x1="545.2" y1="728.57" x2="548" y2="728.57" stroke="#222" stroke-width="0.7"/>
<circle cx="556.1" cy="717.7" r="1.85" fill="#a42ee6" stroke="#000" stroke-width="0.6"/>
<circle cx="556.1" cy="713.57" r="1.85" fill="#a42ee6" stroke="#000" stroke-width="0.6"/>
<circle cx="556.1" cy="720.32" r="1.85" fill="#a42ee6" stroke="#000" stroke-width="0.6"/>
<circle cx="554.1" cy="721.26" r="1.85" fill="#a42ee6" stroke="#000" stroke-width="0.6"/>
<circle cx="558.1" cy="719.96" r="1.85" fill="#a42ee6" stroke="#000" stroke-width="0.6"/>
<circle cx="554.1" cy="717.81" r="1.85" fill="#a42ee6" stroke="#000" stroke-width="0.6"/>
<circle cx="558.1" cy="716.4" r="1.85" fill="#a42ee6" stroke="#000" stroke-width="0.6"/>
<circle cx="554.1" cy="715.13" r="1.85" fill="#a42ee6" stroke="#000" stroke-width="0.6"/>
<line x1="552.5" y1="717.41" x2="559.7" y2="717.41" stroke="#222" stroke-width="0.7"/>
<line x1="556.1" y1="716.26" x2="556.1" y2="718.57" stroke="#222" stroke-width="0.7"/>
<line x1="554.7" y1="716.26" x2="557.5" y2="716.26" stroke="#222" stroke-width="0.7"/>
<line x1="554.7" y1="718.57" x2="557.5" y2="718.57" stroke="#222" stroke-width="0.7"/>
<circle cx="565.7" cy="712.42" r="1.85" fill="#ee1010" stroke="#000" stroke-width="0.6"/>
<circle cx="565.7" cy="709.38" r="1.85" fill="#ee1010" stroke="#000" stroke-width="0.6"/>
<circle cx="563.7" cy="711.38" r="1.85" fill="#ee1010" stroke="#000" stroke-width="0.6"/>
<circle cx="563.7" cy="708.27" r="1.85" fill="#ee1010" stroke="#000" stroke-width="0.6"/>
<circle cx="567.7" cy="713.04" r="1.85" fill="#ee1010" stroke="#000" stroke-width="0.6"/>
<circle cx="565.7" cy="706.65" r="1.85" fill="#ee1010" stroke="#000" stroke-width="0.6"/>
<circle cx="567.7" cy="708.25" r="1.85" fill="#ee1010" stroke="#000" stroke-width="0.6"/>
<circle cx="563.7" cy="714.34" r="1.85" fill="#ee1010" stroke="#000" stroke-width="0.6"/>
<line x1="562.1" y1="710.88" x2="569.3" y2="710.88" stroke="#222" stroke-width="0.7"/>
<line x1="565.7" y1="709.73" x2="565.7" y2="712.03" stroke="#222" stroke-width="0.7"/>
<line x1="564.3" y1="709.73" x2="567.1" y2="709.73" stroke="#222" stroke-width="0.7"/>
<line x1="564.3" y1="712.03" x2="567.1" y2="712.03" stroke="#222" stroke-width="0.7"/>
<circle cx="581" cy="733.91" r="1.85" fill="#1f9e1f" stroke="#000" stroke-width="0.6"/>
<circle cx="579" cy="732.97" r="1.85" fill="#1f9e1f" stroke="#000" stroke-width="0.6"/>
<circle cx="581" cy="728.32" r="1.85" fill="#1f9e1f" stroke="#000" stroke-width="0.6"/>
<circle cx="581" cy="724.66" r="1.85" fill="#1f9e1f" stroke="#000" stroke-width="0.6"/>
<circle cx="583" cy="731.57" r="1.85" fill="#1f9e1f" stroke="#000" stroke-width="0.6"/>
<circle cx="579" cy="725.78" r="1.85" fill="#1f9e1f" stroke="#000" stroke-width="0.6"/>
<circle cx="581" cy="736.64" r="1.85" fill="#1f9e1f" stroke="#000" stroke-width="0.6"/>
<circle cx="579" cy="722.41" r="1.85" fill="#1f9e1f" stroke="#000" stroke-width="0.6"/>
<line x1="577.4" y1="729.72" x2="584.6" y2="729.72" stroke="#222" stroke-width="0.7"/>
<line x1="581" y1="727.8" x2="581" y2="731.64" stroke="#222" stroke-width="0.7"/>
<line x1="579.6" y1="727.8" x2="582.4" y2="727.8" stroke="#222" stroke-width="0.7"/>
<line x1="579.6" y1="731.64" x2="582.4" y2="731.64" stroke="#222" stroke-width="0.7"/>
<circle cx="590.7" cy="722.03" r="1.85" fill="#f08c1a" stroke="#000" stroke-width="0.6"/>
<circle cx="590.7" cy="727.1" r="1.85" fill="#f08c1a" stroke="#000" stroke-width="0.6"/>
<circle cx="590.7" cy="731.4" r="1.85" fill="#f08c1a" stroke="#000" stroke-width="0.6"/>
<circle cx="590.7" cy="734.28" r="1.85" fill="#f08c1a" stroke="#000" stroke-width="0.6"/>
<circle cx="588.7" cy="725.16" r="1.85" fill="#f08c1a" stroke="#000" stroke-width="0.6"/>
<circle cx="592.7" cy="724.09" r="1.85" fill="#f08c1a" stroke="#000" stroke-width="0.6"/>
<circle cx="588.7" cy="729.52" r="1.85" fill="#f08c1a" stroke="#000" stroke-width="0.6"/>
<circle cx="588.7" cy="734.72" r="1.85" fill="#f08c1a" stroke="#000" stroke-width="0.6"/>
<line x1="587.1" y1="728.95" x2="594.3" y2="728.95" stroke="#222" stroke-width="0.7"/>
<line x1="590.7" y1="727.41" x2="590.7" y2="730.49" stroke="#222" stroke-width="0.7"/>
<line x1="589.3" y1="727.41" x2="592.1" y2="727.41" stroke="#222" stroke-width="0.7"/>
<line x1="589.3" y1="730.49" x2="592.1" y2="730.49" stroke="#222" stroke-width="0.7"/>
<circle cx="600.2" cy="718.59" r="1.85" fill="#a42ee6" stroke="#000" stroke-width="0.6"/>
<circle cx="598.2" cy="716.61" r="1.85" fill="#a42ee6" stroke="#000" stroke-width="0.6"/>
<circle cx="602.2" cy="716.26" r="1.85" fill="#a42ee6" stroke="#000" stroke-width="0.6"/>
<circle cx="602.2" cy="717.99" r="1.85" fill="#a42ee6" stroke="#000" stroke-width="0.6"/>
<circle cx="600.2" cy="717.5" r="1.85" fill="#a42ee6" stroke="#000" stroke-width="0.6"/>
<circle cx="602.2" cy="717.07" r="1.85" fill="#a42ee6" stroke="#000" stroke-width="0.6"/>
<circle cx="598.2" cy="719.34" r="1.85" fill="#a42ee6" stroke="#000" stroke-width="0.6"/>
<circle cx="598.2" cy="718.25" r="1.85" fill="#a42ee6" stroke="#000" stroke-width="0.6"/>
<line x1="596.6" y1="718.18" x2="603.8" y2="718.18" stroke="#222" stroke-width="0.7"/>
<line x1="600.2" y1="717.41" x2="600.2" y2="718.95" stroke="#222" stroke-width="0.7"/>
<line x1="598.8" y1="717.41" x2="601.6" y2="717.41" stroke="#222" stroke-width="0.7"/>
<line x1="598.8" y1="718.95" x2="601.6" y2="718.95" stroke="#222" stroke-width="0.7"/>
<circle cx="609.8" cy="706.03" r="1.85" fill="#ee1010" stroke="#000" stroke-width="0.6"/>
<circle cx="609.8" cy="710.51" r="1.85" fill="#ee1010" stroke="#000" stroke-width="0.6"/>
<circle cx="607.8" cy="709.88" r="1.85" fill="#ee1010" stroke="#000" stroke-width="0.6"/>
<circle cx="611.8" cy="709.13" r="1.85" fill="#ee1010" stroke="#000" stroke-width="0.6"/>
<circle cx="611.8" cy="711.65" r="1.85" fill="#ee1010" stroke="#000" stroke-width="0.6"/>
<circle cx="607.8" cy="707.62" r="1.85" fill="#ee1010" stroke="#000" stroke-width="0.6"/>
<circle cx="609.8" cy="708.04" r="1.85" fill="#ee1010" stroke="#000" stroke-width="0.6"/>
<circle cx="607.8" cy="705.11" r="1.85" fill="#ee1010" stroke="#000" stroke-width="0.6"/>
<line x1="606.2" y1="709.73" x2="613.4" y2="709.73" stroke="#222" stroke-width="0.7"/>
<line x1="609.8" y1="708.57" x2="609.8" y2="710.88" stroke="#222" stroke-width="0.7"/>
<line x1="608.4" y1="708.57" x2="611.2" y2="708.57" stroke="#222" stroke-width="0.7"/>
<line x1="608.4" y1="710.88" x2="611.2" y2="710.88" stroke="#222" stroke-width="0.7"/>
<circle cx="625.1" cy="723.18" r="1.85" fill="#1f9e1f" stroke="#000" stroke-width="0.6"/>
<circle cx="625.1" cy="734.72" r="1.85" fill="#1f9e1f" stroke="#000" stroke-width="0.6"/>
<circle cx="623.1" cy="725.15" r="1.85" fill="#1f9e1f" stroke="#000" stroke-width="0.6"/>
<circle cx="627.1" cy="723.63" r="1.85" fill="#1f9e1f" stroke="#000" stroke-width="0.6"/>
<circle cx="625.1" cy="731.25" r="1.85" fill="#1f9e1f" stroke="#000" stroke-width="0.6"/>
<circle cx="623.1" cy="734.11" r="1.85" fill="#1f9e1f" stroke="#000" stroke-width="0.6"/>
<circle cx="623.1" cy="729.93" r="1.85" fill="#1f9e1f" stroke="#000" stroke-width="0.6"/>
<circle cx="625.1" cy="726.84" r="1.85" fill="#1f9e1f" stroke="#000" stroke-width="0.6"/>
<line x1="621.5" y1="728.95" x2="628.7" y2="728.95" stroke="#222" stroke-width="0.7"/>
<line x1="625.1" y1="727.41" x2="625.1" y2="730.49" stroke="#222" stroke-width="0.7"/>
<line x1="623.7" y1="727.41" x2="626.5" y2="727.41" stroke="#222" stroke-width="0.7"/>
<line x1="623.7" y1="730.49" x2="626.5" y2="730.49" stroke="#222" stroke-width="0.7"/>
<circle cx="634.8" cy="731.76" r="1.85" fill="#f08c1a" stroke="#000" stroke-width="0.6"/>
<circle cx="634.8" cy="725.31" r="1.85" fill="#f08c1a" stroke="#000" stroke-width="0.6"/>
<circle cx="634.8" cy="729.28" r="1.85" fill="#f08c1a" stroke="#000" stroke-width="0.6"/>
<circle cx="632.8" cy="732.49" r="1.85" fill="#f08c1a" stroke="#000" stroke-width="0.6"/>
<circle cx="632.8" cy="723.18" r="1.85" fill="#f08c1a" stroke="#000" stroke-width="0.6"/>
<circle cx="634.8" cy="735.87" r="1.85" fill="#f08c1a" stroke="#000" stroke-width="0.6"/>
<circle cx="636.8" cy="733.1" r="1.85" fill="#f08c1a" stroke="#000" stroke-width="0.6"/>
<circle cx="632.8" cy="726.04" r="1.85" fill="#f08c1a" stroke="#000" stroke-width="0.6"/>
<line x1="631.2" y1="728.95" x2="638.4" y2="728.95" stroke="#222" stroke-width="0.7"/>
<line x1="634.8" y1="727.41" x2="634.8" y2="730.49" stroke="#222" stroke-width="0.7"/>
<line x1="633.4" y1="727.41" x2="636.2" y2="727.41" stroke="#222" stroke-width="0.7"/>
<line x1="633.4" y1="730.49" x2="636.2" y2="730.49" stroke="#222" stroke-width="0.7"/>
<circle cx="644.3" cy="717.84" r="1.85" fill="#a42ee6" stroke="#000" stroke-width="0.6"/>
<circle cx="644.3" cy="713.9" r="1.85" fill="#a42ee6" stroke="#000" stroke-width="0.6"/>
<circle cx="642.3" cy="715.27" r="1.85" fill="#a42ee6" stroke="#000" stroke-width="0.6"/>
<circle cx="644.3" cy="720.49" r="1.85" fill="#a42ee6" stroke="#000" stroke-width="0.6"/>
<circle cx="642.3" cy="719.12" r="1.85" fill="#a42ee6" stroke="#000" stroke-width="0.6"/>
<circle cx="646.3" cy="716.46" r="1.85" fill="#a42ee6" stroke="#000" stroke-width="0.6"/>
<circle cx="646.3" cy="713.57" r="1.85" fill="#a42ee6" stroke="#000" stroke-width="0.6"/>
<circle cx="646.3" cy="719.13" r="1.85" fill="#a42ee6" stroke="#000" stroke-width="0.6"/>
<line x1="640.7" y1="717.41" x2="647.9" y2="717.41" stroke="#222" stroke-width="0.7"/>
<line x1="644.3" y1="716.26" x2="644.3" y2="718.57" stroke="#222" stroke-width="0.7"/>
<line x1="642.9" y1="716.26" x2="645.7" y2="716.26" stroke="#222" stroke-width="0.7"/>
<line x1="642.9" y1="718.57" x2="645.7" y2="718.57" stroke="#222" stroke-width="0.7"/>
<circle cx="653.9" cy="706.07" r="1.85" fill="#ee1010" stroke="#000" stroke-width="0.6"/>
<circle cx="653.9" cy="709.78" r="1.85" fill="#ee1010" stroke="#000" stroke-width="0.6"/>
<circle cx="653.9" cy="702.03" r="1.85" fill="#ee1010" stroke="#000" stroke-width="0.6"/>
<circle cx="651.9" cy="711.65" r="1.85" fill="#ee1010" stroke="#000" stroke-width="0.6"/>
<circle cx="651.9" cy="707.59" r="1.85" fill="#ee1010" stroke="#000" stroke-width="0.6"/>
<circle cx="651.9" cy="704.4" r="1.85" fill="#ee1010" stroke="#000" stroke-width="0.6"/>
<circle cx="655.9" cy="704.02" r="1.85" fill="#ee1010" stroke="#000" stroke-width="0.6"/>
<circle cx="655.9" cy="707.82" r="1.85" fill="#ee1010" stroke="#000" stroke-width="0.6"/>
<line x1="650.3" y1="707.8" x2="657.5" y2="707.8" stroke="#222" stroke-width="0.7"/>
<line x1="653.9" y1="706.26" x2="653.9" y2="709.34" stroke="#222" stroke-width="0.7"/>
<line x1="652.5" y1="706.26" x2="655.3" y2="706.26" stroke="#222" stroke-width="0.7"/>
<line x1="652.5" y1="709.34" x2="655.3" y2="709.34" stroke="#222" stroke-width="0.7"/>
<text x="428.8" y="690.6" font-size="6.5" text-anchor="middle" fill="#333"><tspan font-style="italic">P</tspan> &lt; 0.0001</text>
<polyline points="423.6,697.8 423.6,693.8 433.8,693.8 433.8,697.8" fill="none" stroke="#555" stroke-width="0.9" stroke-linejoin="round"/>
<text x="560.7" y="691.6" font-size="6.5" text-anchor="middle" fill="#333"><tspan font-style="italic">P</tspan> = 0.0031</text>
<polyline points="556.2,699 556.2,694.7 566.7,694.7 566.7,699" fill="none" stroke="#555" stroke-width="0.9" stroke-linejoin="round"/>
<text x="605.6" y="691.6" font-size="6.5" text-anchor="middle" fill="#333"><tspan font-style="italic">P</tspan> &lt; 0.0001</text>
<polyline points="600.1,699 600.1,694.7 611.4,694.7 611.4,699" fill="none" stroke="#555" stroke-width="0.9" stroke-linejoin="round"/>
<text x="649" y="691.3" font-size="6.5" text-anchor="middle" fill="#333"><tspan font-style="italic">P</tspan> = 0.0335</text>
<polyline points="643.5,698.8 643.5,694.5 654.8,694.5 654.8,698.8" fill="none" stroke="#555" stroke-width="0.9" stroke-linejoin="round"/>
</svg></body></html>
